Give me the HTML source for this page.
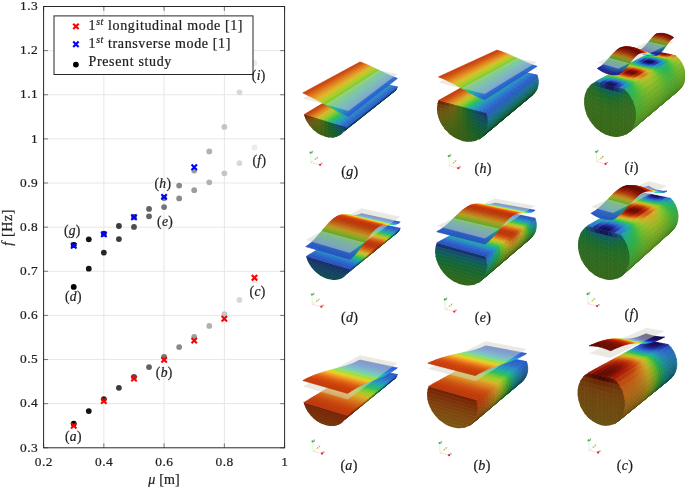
<!DOCTYPE html>
<html><head><meta charset="utf-8"><title>Figure</title>
<style>
html,body{margin:0;padding:0;background:#fff;}
body{width:685px;height:488px;overflow:hidden;font-family:"Liberation Serif",serif;}
svg{display:block;will-change:transform;}
text{stroke:#1e1e1e;stroke-width:0.22px;}
</style></head><body>
<svg width="685" height="488" viewBox="0 0 685 488">
<rect width="685" height="488" fill="#fff"/>
<g fill="currentColor" stroke="currentColor" stroke-width="0.7" stroke-linejoin="round"><path d="M395.1 88.7l2.3-1.8-.2 .5-2.3 1.9z" color="#295bc3"/>
<path d="M394.9 89.3l2.3-1.9-.2 .5-2.3 1.9z" color="#255db3"/>
<path d="M394.7 89.8l2.3-1.9-.2 .5-2.3 1.9z" color="#215a9f"/>
<path d="M394.5 90.3l2.3-1.9-.2 .5-2.4 1.9z" color="#1c548a"/>
<path d="M394.2 90.8l2.4-1.9-.3 .5-2.3 1.9z" color="#174b72"/>
<path d="M394 91.3l2.3-1.9-.3 .5-2.3 1.8z" color="#123f59"/>
<path d="M393.7 91.7l2.3-1.8-.3 .4-2.3 1.9z" color="#0c2f3d"/>
<path d="M392.7 90.6l2.4-1.9-.2 .6-2.4 1.8z" color="#295bc3"/>
<path d="M392.5 91.1l2.4-1.8-.2 .5-2.4 1.8z" color="#255db3"/>
<path d="M392.3 91.6l2.4-1.8-.2 .5-2.4 1.9z" color="#215a9f"/>
<path d="M392.1 92.2l2.4-1.9-.3 .5-2.4 1.9z" color="#1c548a"/>
<path d="M391.8 92.7l2.4-1.9-.2 .5-2.4 1.8z" color="#174b72"/>
<path d="M391.6 93.1l2.4-1.8-.3 .4-2.4 1.9z" color="#123f59"/>
<path d="M391.3 93.6l2.4-1.9-.3 .5-2.4 1.9z" color="#0c2f3d"/>
<path d="M390.3 92.5l2.4-1.9-.2 .5-2.4 1.9z" color="#295bc3"/>
<path d="M390.1 93l2.4-1.9-.2 .5-2.4 2z" color="#255db3"/>
<path d="M389.9 93.6l2.4-2-.2 .6-2.5 1.9z" color="#215a9f"/>
<path d="M389.6 94.1l2.5-1.9-.3 .5-2.4 1.9z" color="#1c548a"/>
<path d="M389.4 94.6l2.4-1.9-.2 .4-2.5 2z" color="#174b72"/>
<path d="M389.1 95.1l2.5-2-.3 .5-2.4 2z" color="#123f59"/>
<path d="M388.9 95.6l2.4-2-.3 .5-2.4 1.9z" color="#0c2f3d"/>
<path d="M387.8 94.4l2.5-1.9-.2 .5-2.5 2z" color="#295bc3"/>
<path d="M387.6 95l2.5-2-.2 .6-2.5 1.9z" color="#255db3"/>
<path d="M387.4 95.5l2.5-1.9-.3 .5-2.4 1.9z" color="#215a9f"/>
<path d="M387.2 96l2.4-1.9-.2 .5-2.5 1.9z" color="#1c548a"/>
<path d="M386.9 96.5l2.5-1.9-.3 .5-2.5 1.9z" color="#174b72"/>
<path d="M386.6 97l2.5-1.9-.2 .5-2.5 1.9z" color="#123f59"/>
<path d="M386.4 97.5l2.5-1.9-.3 .4-2.5 2z" color="#0c2f3d"/>
<path d="M385.2 96.4l2.6-2-.2 .6-2.5 2z" color="#295bc3"/>
<path d="M385.1 97l2.5-2-.2 .5-2.6 2z" color="#255db3"/>
<path d="M384.8 97.5l2.6-2-.2 .5-2.6 2z" color="#215a9f"/>
<path d="M384.6 98l2.6-2-.3 .5-2.5 2.1z" color="#1c548a"/>
<path d="M384.4 98.6l2.5-2.1-.3 .5-2.5 2.1z" color="#174b72"/>
<path d="M384.1 99.1l2.5-2.1-.2 .5-2.6 2z" color="#123f59"/>
<path d="M383.8 99.5l2.6-2-.3 .5-2.6 2z" color="#0c2f3d"/>
<path d="M382.6 98.5l2.6-2.1-.1 .6-2.6 2z" color="#295bc3"/>
<path d="M382.5 99l2.6-2-.3 .5-2.6 2.1z" color="#255db3"/>
<path d="M382.2 99.6l2.6-2.1-.2 .5-2.6 2.1z" color="#215a9f"/>
<path d="M382 100.1l2.6-2.1-.2 .6-2.6 2z" color="#1c548a"/>
<path d="M381.8 100.6l2.6-2-.3 .5-2.6 2z" color="#174b72"/>
<path d="M381.5 101.1l2.6-2-.3 .4-2.6 2.1z" color="#123f59"/>
<path d="M381.2 101.6l2.6-2.1-.3 .5-2.6 2.1z" color="#0c2f3d"/>
<path d="M380 100.6l2.6-2.1-.1 .5-2.7 2.1z" color="#295bc3"/>
<path d="M379.8 101.1l2.7-2.1-.3 .6-2.6 2.1z" color="#255db3"/>
<path d="M379.6 101.7l2.6-2.1-.2 .5-2.7 2.1z" color="#215a9f"/>
<path d="M379.3 102.2l2.7-2.1-.2 .5-2.7 2.1z" color="#1c548a"/>
<path d="M379.1 102.7l2.7-2.1-.3 .5-2.7 2.1z" color="#174b72"/>
<path d="M378.8 103.2l2.7-2.1-.3 .5-2.7 2.1z" color="#123f59"/>
<path d="M378.5 103.7l2.7-2.1-.3 .5-2.7 2.1z" color="#0c2f3d"/>
<path d="M377.3 102.7l2.7-2.1-.2 .5-2.7 2.2z" color="#295bc3"/>
<path d="M377.1 103.3l2.7-2.2-.2 .6-2.8 2.1z" color="#255db3"/>
<path d="M376.8 103.8l2.8-2.1-.3 .5-2.7 2.2z" color="#215a9f"/>
<path d="M376.6 104.4l2.7-2.2-.2 .5-2.8 2.2z" color="#1c548a"/>
<path d="M376.3 104.9l2.8-2.2-.3 .5-2.7 2.2z" color="#174b72"/>
<path d="M376.1 105.4l2.7-2.2-.3 .5-2.7 2.2z" color="#123f59"/>
<path d="M375.8 105.9l2.7-2.2-.3 .5-2.7 2.2z" color="#0c2f3d"/>
<path d="M374.5 104.9l2.8-2.2-.2 .6-2.8 2.1z" color="#295bc3"/>
<path d="M374.3 105.4l2.8-2.1-.3 .5-2.7 2.2z" color="#255db3"/>
<path d="M374.1 106l2.7-2.2-.2 .6-2.8 2.2z" color="#215a9f"/>
<path d="M373.8 106.6l2.8-2.2-.3 .5-2.8 2.2z" color="#1c548a"/>
<path d="M373.5 107.1l2.8-2.2-.2 .5-2.8 2.2z" color="#174b72"/>
<path d="M373.3 107.6l2.8-2.2-.3 .5-2.8 2.2z" color="#123f59"/>
<path d="M373 108.1l2.8-2.2-.3 .5-2.9 2.2z" color="#0c2f3d"/>
<path d="M371.6 107.1l2.9-2.2-.2 .5-2.9 2.3z" color="#295bc3"/>
<path d="M371.4 107.7l2.9-2.3-.2 .6-2.9 2.3z" color="#255db3"/>
<path d="M371.2 108.3l2.9-2.3-.3 .6-2.9 2.2z" color="#215a9f"/>
<path d="M370.9 108.8l2.9-2.2-.3 .5-2.8 2.3z" color="#1c548a"/>
<path d="M370.7 109.4l2.8-2.3-.2 .5-2.9 2.3z" color="#174b72"/>
<path d="M370.4 109.9l2.9-2.3-.3 .5-2.9 2.3z" color="#123f59"/>
<path d="M370.1 110.4l2.9-2.3-.4 .5-2.8 2.3z" color="#0c2f3d"/>
<path d="M368.7 109.4l2.9-2.3-.2 .6-2.9 2.3z" color="#295bc3"/>
<path d="M368.5 110l2.9-2.3-.2 .6-2.9 2.3z" color="#255db3"/>
<path d="M368.3 110.6l2.9-2.3-.3 .5-2.9 2.3z" color="#215a9f"/>
<path d="M368 111.1l2.9-2.3-.2 .6-3 2.3z" color="#1c548a"/>
<path d="M367.7 111.7l3-2.3-.3 .5-2.9 2.3z" color="#174b72"/>
<path d="M367.5 112.2l2.9-2.3-.3 .5-3 2.3z" color="#123f59"/>
<path d="M367.1 112.7l3-2.3-.3 .5-3 2.3z" color="#0c2f3d"/>
<path d="M365.7 111.8l3-2.4-.2 .6-3 2.4z" color="#295bc3"/>
<path d="M365.5 112.4l3-2.4-.2 .6-3 2.3z" color="#255db3"/>
<path d="M365.3 112.9l3-2.3-.3 .5-3 2.4z" color="#215a9f"/>
<path d="M365 113.5l3-2.4-.3 .6-3 2.4z" color="#1c548a"/>
<path d="M364.7 114.1l3-2.4-.2 .5-3.1 2.4z" color="#174b72"/>
<path d="M364.4 114.6l3.1-2.4-.4 .5-3 2.4z" color="#123f59"/>
<path d="M364.1 115.1l3-2.4-.3 .5-3 2.4z" color="#0c2f3d"/>
<path d="M362.6 114.2l3.1-2.4-.2 .6-3.1 2.4z" color="#295bc3"/>
<path d="M362.4 114.8l3.1-2.4-.2 .5-3.1 2.5z" color="#255db3"/>
<path d="M362.2 115.4l3.1-2.5-.3 .6-3.1 2.4z" color="#215a9f"/>
<path d="M361.9 115.9l3.1-2.4-.3 .6-3.1 2.4z" color="#1c548a"/>
<path d="M361.6 116.5l3.1-2.4-.3 .5-3 2.4z" color="#174b72"/>
<path d="M361.4 117l3-2.4-.3 .5-3.1 2.5z" color="#123f59"/>
<path d="M361 117.6l3.1-2.5-.3 .5-3.1 2.5z" color="#0c2f3d"/>
<path d="M359.5 116.6l3.1-2.4-.2 .6-3.1 2.5z" color="#295bc3"/>
<path d="M359.3 117.3l3.1-2.5-.2 .6-3.2 2.4z" color="#255db3"/>
<path d="M359 117.8l3.2-2.4-.3 .5-3.1 2.5z" color="#215a9f"/>
<path d="M358.8 118.4l3.1-2.5-.3 .6-3.1 2.5z" color="#1c548a"/>
<path d="M358.5 119l3.1-2.5-.2 .5-3.2 2.5z" color="#174b72"/>
<path d="M358.2 119.5l3.2-2.5-.4 .6-3.1 2.5z" color="#123f59"/>
<path d="M357.9 120.1l3.1-2.5-.3 .5-3.2 2.5z" color="#0c2f3d"/>
<path d="M356.2 119.2l3.3-2.6-.2 .7-3.3 2.5z" color="#295bc3"/>
<path d="M356 119.8l3.3-2.5-.3 .5-3.2 2.6z" color="#255db3"/>
<path d="M355.8 120.4l3.2-2.6-.2 .6-3.3 2.6z" color="#215a9f"/>
<path d="M355.5 121l3.3-2.6-.3 .6-3.3 2.5z" color="#1c548a"/>
<path d="M355.2 121.5l3.3-2.5-.3 .5-3.3 2.6z" color="#174b72"/>
<path d="M354.9 122.1l3.3-2.6-.3 .6-3.3 2.5z" color="#123f59"/>
<path d="M354.6 122.6l3.3-2.5-.4 .5-3.2 2.6z" color="#0c2f3d"/>
<path d="M352.9 121.8l3.3-2.6-.2 .6-3.3 2.6z" color="#295bc3"/>
<path d="M352.7 122.4l3.3-2.6-.2 .6-3.3 2.6z" color="#255db3"/>
<path d="M352.5 123l3.3-2.6-.3 .6-3.3 2.6z" color="#215a9f"/>
<path d="M352.2 123.6l3.3-2.6-.3 .5-3.3 2.7z" color="#1c548a"/>
<path d="M351.9 124.2l3.3-2.7-.3 .6-3.3 2.6z" color="#174b72"/>
<path d="M351.6 124.7l3.3-2.6-.3 .5-3.3 2.7z" color="#123f59"/>
<path d="M351.3 125.3l3.3-2.7-.3 .6-3.4 2.6z" color="#0c2f3d"/>
<path d="M349.5 124.5l3.4-2.7-.2 .6-3.4 2.7z" color="#295bc3"/>
<path d="M349.3 125.1l3.4-2.7-.2 .6-3.5 2.7z" color="#255db3"/>
<path d="M349 125.7l3.5-2.7-.3 .6-3.4 2.7z" color="#215a9f"/>
<path d="M348.8 126.3l3.4-2.7-.3 .6-3.4 2.7z" color="#1c548a"/>
<path d="M348.5 126.9l3.4-2.7-.3 .5-3.4 2.7z" color="#174b72"/>
<path d="M348.2 127.4l3.4-2.7-.3 .6-3.5 2.7z" color="#123f59"/>
<path d="M347.8 128l3.5-2.7-.4 .5-3.4 2.7z" color="#0c2f3d"/>
<path d="M346 127.2l3.5-2.7-.2 .6-3.5 2.7z" color="#295bc3"/>
<path d="M345.8 127.8l3.5-2.7-.3 .6-3.5 2.8z" color="#255db3"/>
<path d="M345.5 128.5l3.5-2.8-.2 .6-3.5 2.8z" color="#215a9f"/>
<path d="M345.3 129.1l3.5-2.8-.3 .6-3.5 2.7z" color="#1c548a"/>
<path d="M345 129.6l3.5-2.7-.3 .5-3.5 2.8z" color="#174b72"/>
<path d="M344.7 130.2l3.5-2.8-.4 .6-3.5 2.8z" color="#123f59"/>
<path d="M344.3 130.8l3.5-2.8-.3 .5-3.5 2.8z" color="#0c2f3d"/>
<path d="M304.1 114.6l1.7 .5 58.6-35.5-1.4-.3z" color="#c23c09"/>
<path d="M305.8 115.1l1.8 .5 58.3-35.7-1.5-.3z" color="#c9490c"/>
<path d="M307.6 115.6l1.7 .6 58-36-1.4-.3z" color="#ce5911"/>
<path d="M309.3 116.2l1.8 .5 57.6-36.1-1.4-.4z" color="#d36a16"/>
<path d="M311.1 116.7l1.7 .5 57.4-36.3-1.5-.3z" color="#d97d1b"/>
<path d="M312.8 117.2l1.8 .6 57-36.6-1.4-.3z" color="#da8f1f"/>
<path d="M314.6 117.8l1.7 .5 56.7-36.8-1.4-.3z" color="#d9a123"/>
<path d="M316.3 118.3l1.8 .5 56.4-37-1.5-.3z" color="#d7b427"/>
<path d="M318.1 118.8l1.7 .5 56.1-37.1-1.4-.4z" color="#c3bd27"/>
<path d="M319.8 119.3l1.8 .5 55.7-37.3-1.4-.3z" color="#aec627"/>
<path d="M321.6 119.8l1.7 .6 55.5-37.6-1.5-.3z" color="#97ca29"/>
<path d="M323.3 120.4l1.7 .5 55.2-37.8-1.4-.3z" color="#7fca2d"/>
<path d="M325 120.9l1.8 .5 54.8-38-1.4-.3z" color="#62c737"/>
<path d="M326.8 121.4l1.7 .6 54.6-38.3-1.5-.3z" color="#41c348"/>
<path d="M328.5 122l1.8 .5 54.2-38.5-1.4-.3z" color="#2cbd5e"/>
<path d="M330.3 122.5l1.7 .5 53.9-38.6-1.4-.4z" color="#25b67b"/>
<path d="M332 123l1.8 .5 53.6-38.8-1.5-.3z" color="#1faf98"/>
<path d="M333.8 123.5l1.7 .5 53.3-39-1.4-.3z" color="#20a4a9"/>
<path d="M335.5 124l1.8 .6 52.9-39.3-1.4-.3z" color="#2498b6"/>
<path d="M337.3 124.6l1.7 .5 52.7-39.5-1.5-.3z" color="#288cc3"/>
<path d="M339 125.1l1.8 .5 52.3-39.6-1.4-.4z" color="#2980c8"/>
<path d="M340.8 125.6l1.7 .6 52-39.9-1.4-.3z" color="#2a74c9"/>
<path d="M342.5 126.2l1.8 .5 51.7-40.1-1.5-.3z" color="#2a69ca"/>
<path d="M344.3 126.7l1.7 .5 51.4-40.3-1.4-.3z" color="#2b5fcc"/>
<clipPath id="cp1"><path d="M346.0 127.2L345.6 128.4L345.0 129.5L344.4 130.6L343.7 131.6L343.0 132.6L342.1 133.5L341.2 134.2L340.2 135.0L339.2 135.6L338.1 136.1L337.0 136.6L335.8 137.0L334.5 137.2L333.2 137.4L331.9 137.5L330.6 137.5L329.2 137.4L327.8 137.2L326.4 136.9L325.1 136.6L323.7 136.1L322.3 135.5L320.9 134.9L319.5 134.2L318.2 133.4L316.9 132.5L315.6 131.5L314.3 130.5L313.1 129.4L312.0 128.3L310.9 127.1L309.9 125.8L308.9 124.5L308.0 123.2L307.1 121.8L306.4 120.4L305.7 119.0L305.1 117.5L304.5 116.1L304.1 114.6Z"/></clipPath>
<g clip-path="url(#cp1)">
<path d="M302.1 111.8l3.8 1.2 0 3.7-3.8-1.1z" color="#621c04"/>
<path d="M305.9 113l3.8 1.1 0 3.8-3.8-1.2z" color="#692b08"/>
<path d="M309.7 114.1l3.9 1.2 0 3.7-3.9-1.1z" color="#6f3f0d"/>
<path d="M313.6 115.3l3.8 1.1 0 3.8-3.8-1.2z" color="#705312"/>
<path d="M317.4 116.4l3.8 1.2 0 3.7-3.8-1.1z" color="#626214"/>
<path d="M321.2 117.6l3.8 1.1 0 3.8-3.8-1.2z" color="#496816"/>
<path d="M325 118.7l3.9 1.2 0 3.7-3.9-1.1z" color="#286522"/>
<path d="M328.9 119.9l3.8 1.1 0 3.8-3.8-1.2z" color="#145e3c"/>
<path d="M332.7 121l3.8 1.2 0 3.7-3.8-1.1z" color="#105557"/>
<path d="M336.5 122.2l3.9 1.1 0 3.8-3.9-1.2z" color="#154765"/>
<path d="M340.4 123.3l3.8 1.2 0 3.7-3.8-1.1z" color="#163a68"/>
<path d="M344.2 124.5l3.8 1.1 0 3.8-3.8-1.2z" color="#152e66"/>
<path d="M302.1 115.6l3.8 1.1 0 1.6-3.8-1.2z" color="#692f09"/>
<path d="M305.9 116.7l3.8 1.2 0 1.5-3.8-1.1z" color="#6e3d0d"/>
<path d="M309.7 117.9l3.9 1.1 0 1.6-3.9-1.2z" color="#6f4c11"/>
<path d="M313.6 119l3.8 1.2 0 1.5-3.8-1.1z" color="#6e5c14"/>
<path d="M317.4 120.2l3.8 1.1 0 1.6-3.8-1.2z" color="#5b6414"/>
<path d="M321.2 121.3l3.8 1.2 0 1.5-3.8-1.1z" color="#466716"/>
<path d="M325 122.5l3.9 1.1 0 1.6-3.9-1.2z" color="#2b6520"/>
<path d="M328.9 123.6l3.8 1.2 0 1.5-3.8-1.1z" color="#166033"/>
<path d="M332.7 124.8l3.8 1.1 0 1.6-3.8-1.2z" color="#10594d"/>
<path d="M336.5 125.9l3.9 1.2 0 1.5-3.9-1.1z" color="#124f5b"/>
<path d="M340.4 127.1l3.8 1.1 0 1.6-3.8-1.2z" color="#154565"/>
<path d="M344.2 128.2l3.8 1.2 0 1.5-3.8-1.1z" color="#153c67"/>
<path d="M302.1 117.1l3.8 1.2 0 1.5-3.8-1.1z" color="#6c3a0c"/>
<path d="M305.9 118.3l3.8 1.1 0 1.6-3.8-1.2z" color="#6e460f"/>
<path d="M309.7 119.4l3.9 1.2 0 1.5-3.9-1.1z" color="#6d5312"/>
<path d="M313.6 120.6l3.8 1.1 0 1.6-3.8-1.2z" color="#675e14"/>
<path d="M317.4 121.7l3.8 1.2 0 1.5-3.8-1.1z" color="#576514"/>
<path d="M321.2 122.9l3.8 1.1 0 1.6-3.8-1.2z" color="#446616"/>
<path d="M325 124l3.9 1.2 0 1.5-3.9-1.1z" color="#2d641e"/>
<path d="M328.9 125.2l3.8 1.1 0 1.6-3.8-1.2z" color="#16602e"/>
<path d="M332.7 126.3l3.8 1.2 0 1.5-3.8-1.1z" color="#125a44"/>
<path d="M336.5 127.5l3.9 1.1 0 1.6-3.9-1.2z" color="#105455"/>
<path d="M340.4 128.6l3.8 1.2 0 1.5-3.8-1.1z" color="#134b5e"/>
<path d="M344.2 129.8l3.8 1.1 0 1.6-3.8-1.2z" color="#154465"/>
<path d="M302.1 118.7l3.8 1.1 0 1.6-3.8-1.1z" color="#6d440f"/>
<path d="M305.9 119.8l3.8 1.2 0 1.6-3.8-1.2z" color="#6d4d11"/>
<path d="M309.7 121l3.9 1.1 0 1.6-3.9-1.1z" color="#6c5813"/>
<path d="M313.6 122.1l3.8 1.2 0 1.6-3.8-1.2z" color="#615f13"/>
<path d="M317.4 123.3l3.8 1.1 0 1.6-3.8-1.1z" color="#536513"/>
<path d="M321.2 124.4l3.8 1.2 0 1.6-3.8-1.2z" color="#426516"/>
<path d="M325 125.6l3.9 1.1 0 1.6-3.9-1.1z" color="#2e631d"/>
<path d="M328.9 126.7l3.8 1.2 0 1.6-3.8-1.2z" color="#176029"/>
<path d="M332.7 127.9l3.8 1.1 0 1.6-3.8-1.1z" color="#135b3d"/>
<path d="M336.5 129l3.9 1.2 0 1.6-3.9-1.2z" color="#0f574e"/>
<path d="M340.4 130.2l3.8 1.1 0 1.6-3.8-1.1z" color="#115057"/>
<path d="M344.2 131.3l3.8 1.2 0 1.6-3.8-1.2z" color="#13495e"/>
<path d="M302.1 120.3l3.8 1.1 0 1.6-3.8-1.2z" color="#6c4b10"/>
<path d="M305.9 121.4l3.8 1.2 0 1.5-3.8-1.1z" color="#6b5312"/>
<path d="M309.7 122.6l3.9 1.1 0 1.6-3.9-1.2z" color="#675b13"/>
<path d="M313.6 123.7l3.8 1.2 0 1.5-3.8-1.1z" color="#5b6013"/>
<path d="M317.4 124.9l3.8 1.1 0 1.6-3.8-1.2z" color="#4f6414"/>
<path d="M321.2 126l3.8 1.2 0 1.5-3.8-1.1z" color="#406416"/>
<path d="M325 127.2l3.9 1.1 0 1.6-3.9-1.2z" color="#2f621c"/>
<path d="M328.9 128.3l3.8 1.2 0 1.5-3.8-1.1z" color="#1b6026"/>
<path d="M332.7 129.5l3.8 1.1 0 1.6-3.8-1.2z" color="#145c36"/>
<path d="M336.5 130.6l3.9 1.2 0 1.5-3.9-1.1z" color="#115845"/>
<path d="M340.4 131.8l3.8 1.1 0 1.6-3.8-1.2z" color="#0f5451"/>
<path d="M344.2 132.9l3.8 1.2 0 1.5-3.8-1.1z" color="#114e57"/>
<path d="M302.1 121.8l3.8 1.2 0 1.5-3.8-1.1z" color="#6a5212"/>
<path d="M305.9 123l3.8 1.1 0 1.6-3.8-1.2z" color="#695813"/>
<path d="M309.7 124.1l3.9 1.2 0 1.5-3.9-1.1z" color="#605c13"/>
<path d="M313.6 125.3l3.8 1.1 0 1.6-3.8-1.2z" color="#576013"/>
<path d="M317.4 126.4l3.8 1.2 0 1.5-3.8-1.1z" color="#4b6314"/>
<path d="M321.2 127.6l3.8 1.1 0 1.6-3.8-1.2z" color="#3f6316"/>
<path d="M325 128.7l3.9 1.2 0 1.5-3.9-1.1z" color="#2f621b"/>
<path d="M328.9 129.9l3.8 1.1 0 1.6-3.8-1.2z" color="#1e5f24"/>
<path d="M332.7 131l3.8 1.2 0 1.5-3.8-1.1z" color="#155c30"/>
<path d="M336.5 132.2l3.9 1.1 0 1.6-3.9-1.2z" color="#12593e"/>
<path d="M340.4 133.3l3.8 1.2 0 1.5-3.8-1.1z" color="#0f564a"/>
<path d="M344.2 134.5l3.8 1.1 0 1.6-3.8-1.2z" color="#0f5251"/>
<path d="M302.1 123.4l3.8 1.1 0 1.6-3.8-1.1z" color="#685713"/>
<path d="M305.9 124.5l3.8 1.2 0 1.6-3.8-1.2z" color="#635a13"/>
<path d="M309.7 125.7l3.9 1.1 0 1.6-3.9-1.1z" color="#5b5d13"/>
<path d="M313.6 126.8l3.8 1.2 0 1.6-3.8-1.2z" color="#526113"/>
<path d="M317.4 128l3.8 1.1 0 1.6-3.8-1.1z" color="#486214"/>
<path d="M321.2 129.1l3.8 1.2 0 1.6-3.8-1.2z" color="#3d6216"/>
<path d="M325 130.3l3.9 1.1 0 1.6-3.9-1.1z" color="#30611a"/>
<path d="M328.9 131.4l3.8 1.2 0 1.6-3.8-1.2z" color="#215f22"/>
<path d="M332.7 132.6l3.8 1.1 0 1.6-3.8-1.1z" color="#165c2b"/>
<path d="M336.5 133.7l3.9 1.2 0 1.6-3.9-1.2z" color="#135937"/>
<path d="M340.4 134.9l3.8 1.1 0 1.6-3.8-1.1z" color="#115741"/>
<path d="M344.2 136l3.8 1.2 0 1.6-3.8-1.2z" color="#0f554a"/>
<path d="M302.1 125l3.8 1.1 0 1.6-3.8-1.2z" color="#625913"/>
<path d="M305.9 126.1l3.8 1.2 0 1.5-3.8-1.1z" color="#5d5b13"/>
<path d="M309.7 127.3l3.9 1.1 0 1.6-3.9-1.2z" color="#565e13"/>
<path d="M313.6 128.4l3.8 1.2 0 1.5-3.8-1.1z" color="#4f6113"/>
<path d="M317.4 129.6l3.8 1.1 0 1.6-3.8-1.2z" color="#456114"/>
<path d="M321.2 130.7l3.8 1.2 0 1.5-3.8-1.1z" color="#3c6116"/>
<path d="M325 131.9l3.9 1.1 0 1.6-3.9-1.2z" color="#30601a"/>
<path d="M328.9 133l3.8 1.2 0 1.5-3.8-1.1z" color="#235e20"/>
<path d="M332.7 134.2l3.8 1.1 0 1.6-3.8-1.2z" color="#175c27"/>
<path d="M336.5 135.3l3.9 1.2 0 1.5-3.9-1.1z" color="#145a31"/>
<path d="M340.4 136.5l3.8 1.1 0 1.6-3.8-1.2z" color="#12573a"/>
<path d="M344.2 137.6l3.8 1.2 0 1.5-3.8-1.1z" color="#105642"/>
<path d="M302.1 126.5l3.8 1.2 0 1.5-3.8-1.1z" color="#5c5a12"/>
<path d="M305.9 127.7l3.8 1.1 0 1.6-3.8-1.2z" color="#585c12"/>
<path d="M309.7 128.8l3.9 1.2 0 1.5-3.9-1.1z" color="#525e12"/>
<path d="M313.6 130l3.8 1.1 0 1.6-3.8-1.2z" color="#4b6013"/>
<path d="M317.4 131.1l3.8 1.2 0 1.5-3.8-1.1z" color="#436014"/>
<path d="M321.2 132.3l3.8 1.1 0 1.6-3.8-1.2z" color="#3b6015"/>
<path d="M325 133.4l3.9 1.2 0 1.5-3.9-1.1z" color="#315f19"/>
<path d="M328.9 134.6l3.8 1.1 0 1.6-3.8-1.2z" color="#255d1f"/>
<path d="M332.7 135.7l3.8 1.2 0 1.5-3.8-1.1z" color="#1a5c24"/>
<path d="M336.5 136.9l3.9 1.1 0 1.6-3.9-1.2z" color="#155a2c"/>
<path d="M340.4 138l3.8 1.2 0 1.5-3.8-1.1z" color="#135834"/>
<path d="M344.2 139.2l3.8 1.1 0 1.6-3.8-1.2z" color="#12563a"/>
<path d="M302.1 128.1l3.8 1.1 0 3.8-3.8-1.2z" color="#555c12"/>
<path d="M305.9 129.2l3.8 1.2 0 3.7-3.8-1.1z" color="#515d12"/>
<path d="M309.7 130.4l3.9 1.1 0 3.8-3.9-1.2z" color="#4c5f12"/>
<path d="M313.6 131.5l3.8 1.2 0 3.7-3.8-1.1z" color="#465f13"/>
<path d="M317.4 132.7l3.8 1.1 0 3.8-3.8-1.2z" color="#405f14"/>
<path d="M321.2 133.8l3.8 1.2 0 3.7-3.8-1.1z" color="#395f15"/>
<path d="M325 135l3.9 1.1 0 3.8-3.9-1.2z" color="#315e18"/>
<path d="M328.9 136.1l3.8 1.2 0 3.7-3.8-1.1z" color="#285d1d"/>
<path d="M332.7 137.3l3.8 1.1 0 3.8-3.8-1.2z" color="#205b21"/>
<path d="M336.5 138.4l3.9 1.2 0 3.7-3.9-1.1z" color="#185a25"/>
<path d="M340.4 139.6l3.8 1.1 0 3.8-3.8-1.2z" color="#15592b"/>
<path d="M344.2 140.7l3.8 1.2 0 3.7-3.8-1.1z" color="#145830"/>
</g>
<path d="M302.8 98.4l22.8 6.2 53.1-34.4-18.7-3.8z" fill="#d6d3c6" stroke="none" fill-opacity="0.5"/>
<path d="M302.8 92.9l1.6 .7 56.9-31.1-1.3-.5z" color="#c83d09"/>
<path d="M304.4 93.6l1.7 .8 56.6-31.4-1.4-.5z" color="#ce480c"/>
<path d="M306.1 94.4l1.6 .8 56.3-31.7-1.3-.5z" color="#d25610"/>
<path d="M307.7 95.2l1.6 .7 56-31.8-1.3-.6z" color="#d76514"/>
<path d="M309.3 95.9l1.7 .9 55.7-32.2-1.4-.5z" color="#dc7418"/>
<path d="M311 96.8l1.6 .8 55.4-32.4-1.3-.6z" color="#e1851d"/>
<path d="M312.6 97.6l1.6 .8 55.2-32.6-1.4-.6z" color="#e19521"/>
<path d="M314.2 98.4l1.7 .9 54.8-32.9-1.3-.6z" color="#e0a524"/>
<path d="M315.9 99.3l1.6 .9 54.5-33.2-1.3-.6z" color="#deb627"/>
<path d="M317.5 100.2l1.6 .8 54.3-33.3-1.4-.7z" color="#d1c028"/>
<path d="M319.1 101l1.7 .9 53.9-33.6-1.3-.6z" color="#bec728"/>
<path d="M320.8 101.9l1.6 .9 53.6-33.9-1.3-.6z" color="#accf28"/>
<path d="M322.4 102.8l1.6 .9 53.4-34.1-1.4-.7z" color="#97d02b"/>
<path d="M324 103.7l1.6 .9 53.1-34.4-1.3-.6z" color="#81d02e"/>
<path d="M325.6 104.6l1.7 1 52.7-34.8-1.3-.6z" color="#67ce38"/>
<path d="M327.3 105.6l1.6 .9 52.5-35-1.4-.7z" color="#4aca47"/>
<path d="M328.9 106.5l1.6 .9 52.2-35.3-1.3-.6z" color="#2fc556"/>
<path d="M330.5 107.4l1.7 .9 51.8-35.6-1.3-.6z" color="#2abf70"/>
<path d="M332.2 108.3l1.6 .8 51.6-35.7-1.4-.7z" color="#24b98a"/>
<path d="M333.8 109.1l1.6 .9 51.3-36-1.3-.6z" color="#1fb3a2"/>
<path d="M335.4 110l1.7 .9 50.9-36.3-1.3-.6z" color="#21a8af"/>
<path d="M337.1 110.9l1.6 .8 50.7-36.5-1.4-.6z" color="#259dbb"/>
<path d="M338.7 111.7l1.6 .8 50.4-36.7-1.3-.6z" color="#2893c6"/>
<path d="M340.3 112.5l1.7 .9 50.1-37.1-1.4-.5z" color="#2a88cd"/>
<path d="M342 113.4l1.6 .7 49.8-37.2-1.3-.6z" color="#2b7ecf"/>
<path d="M343.6 114.1l1.6 .8 49.5-37.5-1.3-.5z" color="#2b74d0"/>
<path d="M345.2 114.9l1.7 .8 49.2-37.8-1.4-.5z" color="#2c6ad1"/>
<path d="M346.9 115.7l1.6 .7 48.9-38-1.3-.5z" color="#2c61d1"/>
<path d="M325.6 104.6l22.9 6.3 48.9-36.9-18.7-3.8z" fill="#d6d3c6" stroke="none" fill-opacity="0.5"/></g>
<text x="349.8" y="176.0" font-family="Liberation Serif, serif" font-size="14" letter-spacing="0.3" text-anchor="middle" fill="#1a1a1a">(<tspan font-style="italic">g</tspan>)</text>
<g stroke-width="0.5" fill="none">
<line x1="311" y1="162.5" x2="310.7" y2="153.5" stroke="#b8f0b8"/>
<line x1="311" y1="162.5" x2="315.6" y2="159.2" stroke="#ece27a"/>
<line x1="311" y1="162.5" x2="319.6" y2="164.6" stroke="#ff8a8a" stroke-dasharray="1.1 0.7"/>
</g>
<circle cx="310.6" cy="152.7" r="1.15" fill="#22cc33"/>
<circle cx="315.5" cy="159.2" r="0.85" fill="#d4c81c"/>
<circle cx="320.1" cy="164.8" r="1.15" fill="#ee2222"/>
<g stroke="#555" stroke-width="0.45" fill="none"><path d="M311.6 151.2h1.3l-1.3 1.5h1.3M316.6 156.9l.7 .9m.7-.9l-1.2 1.9M321.0 162.7l1.5 1.6m0-1.6l-1.5 1.6"/></g>
<g fill="currentColor" stroke="currentColor" stroke-width="0.7" stroke-linejoin="round"><path d="M534.8 76.7l2.3-1.7 .8 2.8-2.3 1.7z" color="#2660b8"/>
<path d="M535.6 79.5l2.3-1.7 .4 2.8-2.3 1.7z" color="#216aa2"/>
<path d="M536 82.3l2.3-1.7 0 2.7-2.2 1.8z" color="#1a6e85"/>
<path d="M536.1 85.1l2.2-1.8-.3 2.6-2.3 1.8z" color="#146d6c"/>
<path d="M535.7 87.7l2.3-1.8-.7 2.5-2.3 1.8z" color="#136654"/>
<path d="M535 90.2l2.3-1.8-1.1 2.3-2.3 1.8z" color="#135c3e"/>
<path d="M533.9 92.5l2.3-1.8-1.4 2-2.3 1.9z" color="#12522d"/>
<path d="M532.5 94.6l2.3-1.9-1.7 1.8-2.3 1.9z" color="#114720"/>
<path d="M530.8 96.4l2.3-1.9-2 1.4-2.3 2z" color="#113c18"/>
<path d="M532.5 78.5l2.3-1.8 .8 2.8-2.3 1.8z" color="#2660b8"/>
<path d="M533.3 81.3l2.3-1.8 .4 2.8-2.3 1.8z" color="#216aa2"/>
<path d="M533.7 84.1l2.3-1.8 .1 2.8-2.4 1.8z" color="#1a6e85"/>
<path d="M533.7 86.9l2.4-1.8-.4 2.6-2.3 1.9z" color="#146d6c"/>
<path d="M533.4 89.6l2.3-1.9-.7 2.5-2.3 1.9z" color="#136654"/>
<path d="M532.7 92.1l2.3-1.9-1.1 2.3-2.3 2z" color="#135c3e"/>
<path d="M531.6 94.5l2.3-2-1.4 2.1-2.3 2z" color="#12522d"/>
<path d="M530.2 96.6l2.3-2-1.7 1.8-2.4 2z" color="#114720"/>
<path d="M528.4 98.4l2.4-2-2 1.5-2.4 1.9z" color="#113c18"/>
<path d="M530.1 80.3l2.4-1.8 .8 2.8-2.4 1.8z" color="#2660b8"/>
<path d="M530.9 83.1l2.4-1.8 .4 2.8-2.3 1.9z" color="#216aa2"/>
<path d="M531.4 86l2.3-1.9 0 2.8-2.3 1.9z" color="#1a6e85"/>
<path d="M531.4 88.8l2.3-1.9-.3 2.7-2.4 1.9z" color="#146d6c"/>
<path d="M531 91.5l2.4-1.9-.7 2.5-2.4 2z" color="#136654"/>
<path d="M530.3 94.1l2.4-2-1.1 2.4-2.4 2z" color="#135c3e"/>
<path d="M529.2 96.5l2.4-2-1.4 2.1-2.4 2z" color="#12522d"/>
<path d="M527.8 98.6l2.4-2-1.8 1.8-2.4 2z" color="#114720"/>
<path d="M526 100.4l2.4-2-2 1.4-2.5 2.1z" color="#113c18"/>
<path d="M527.7 82.1l2.4-1.8 .8 2.8-2.4 1.9z" color="#2660b8"/>
<path d="M528.5 85l2.4-1.9 .5 2.9-2.5 1.9z" color="#216aa2"/>
<path d="M528.9 87.9l2.5-1.9 0 2.8-2.4 2z" color="#1a6e85"/>
<path d="M529 90.8l2.4-2-.4 2.7-2.4 2z" color="#146d6c"/>
<path d="M528.6 93.5l2.4-2-.7 2.6-2.4 2z" color="#136654"/>
<path d="M527.9 96.1l2.4-2-1.1 2.4-2.4 2z" color="#135c3e"/>
<path d="M526.8 98.5l2.4-2-1.4 2.1-2.5 2z" color="#12522d"/>
<path d="M525.3 100.6l2.5-2-1.8 1.8-2.5 2z" color="#114720"/>
<path d="M523.5 102.4l2.5-2-2.1 1.5-2.5 2z" color="#113c18"/>
<path d="M525.2 84l2.5-1.9 .8 2.9-2.5 1.9z" color="#2660b8"/>
<path d="M526 86.9l2.5-1.9 .4 2.9-2.4 2z" color="#216aa2"/>
<path d="M526.5 89.9l2.4-2 .1 2.9-2.5 2z" color="#1a6e85"/>
<path d="M526.5 92.8l2.5-2-.4 2.7-2.5 2z" color="#146d6c"/>
<path d="M526.1 95.5l2.5-2-.7 2.6-2.5 2z" color="#136654"/>
<path d="M525.4 98.1l2.5-2-1.1 2.4-2.5 2z" color="#135c3e"/>
<path d="M524.3 100.5l2.5-2-1.5 2.1-2.5 2.1z" color="#12522d"/>
<path d="M522.8 102.7l2.5-2.1-1.8 1.8-2.5 2.1z" color="#114720"/>
<path d="M521 104.5l2.5-2.1-2.1 1.5-2.5 2.2z" color="#113c18"/>
<path d="M522.7 85.9l2.5-1.9 .8 2.9-2.5 2z" color="#2660b8"/>
<path d="M523.5 88.9l2.5-2 .5 3-2.6 2z" color="#216aa2"/>
<path d="M523.9 91.9l2.6-2 0 2.9-2.5 2z" color="#1a6e85"/>
<path d="M524 94.8l2.5-2-.4 2.7-2.5 2.1z" color="#146d6c"/>
<path d="M523.6 97.6l2.5-2.1-.7 2.6-2.6 2.1z" color="#136654"/>
<path d="M522.8 100.2l2.6-2.1-1.1 2.4-2.6 2.2z" color="#135c3e"/>
<path d="M521.7 102.7l2.6-2.2-1.5 2.2-2.6 2.1z" color="#12522d"/>
<path d="M520.2 104.8l2.6-2.1-1.8 1.8-2.6 2.2z" color="#114720"/>
<path d="M518.4 106.7l2.6-2.2-2.1 1.6-2.6 2.2z" color="#113c18"/>
<path d="M520.1 87.9l2.6-2 .8 3-2.6 2z" color="#2660b8"/>
<path d="M520.9 90.9l2.6-2 .4 3-2.6 2z" color="#216aa2"/>
<path d="M521.3 93.9l2.6-2 .1 2.9-2.6 2.1z" color="#1a6e85"/>
<path d="M521.4 96.9l2.6-2.1-.4 2.8-2.6 2.1z" color="#146d6c"/>
<path d="M521 99.7l2.6-2.1-.8 2.6-2.6 2.2z" color="#136654"/>
<path d="M520.2 102.4l2.6-2.2-1.1 2.5-2.6 2.2z" color="#135c3e"/>
<path d="M519.1 104.9l2.6-2.2-1.5 2.1-2.6 2.2z" color="#12522d"/>
<path d="M517.6 107l2.6-2.2-1.8 1.9-2.7 2.2z" color="#114720"/>
<path d="M515.7 108.9l2.7-2.2-2.1 1.6-2.7 2.2z" color="#113c18"/>
<path d="M517.4 89.9l2.7-2 .8 3-2.7 2.1z" color="#2660b8"/>
<path d="M518.2 93l2.7-2.1 .4 3-2.6 2.1z" color="#216aa2"/>
<path d="M518.7 96l2.6-2.1 .1 3-2.7 2.1z" color="#1a6e85"/>
<path d="M518.7 99l2.7-2.1-.4 2.8-2.7 2.2z" color="#146d6c"/>
<path d="M518.3 101.9l2.7-2.2-.8 2.7-2.6 2.2z" color="#136654"/>
<path d="M517.6 104.6l2.6-2.2-1.1 2.5-2.7 2.2z" color="#135c3e"/>
<path d="M516.4 107.1l2.7-2.2-1.5 2.1-2.7 2.3z" color="#12522d"/>
<path d="M514.9 109.3l2.7-2.3-1.9 1.9-2.7 2.3z" color="#114720"/>
<path d="M513 111.2l2.7-2.3-2.1 1.6-2.8 2.3z" color="#113c18"/>
<path d="M514.7 92l2.7-2.1 .8 3.1-2.7 2.1z" color="#2660b8"/>
<path d="M515.5 95.1l2.7-2.1 .5 3-2.7 2.2z" color="#216aa2"/>
<path d="M516 98.2l2.7-2.2 0 3-2.7 2.2z" color="#1a6e85"/>
<path d="M516 101.2l2.7-2.2-.4 2.9-2.7 2.2z" color="#146d6c"/>
<path d="M515.6 104.1l2.7-2.2-.7 2.7-2.8 2.3z" color="#136654"/>
<path d="M514.8 106.9l2.8-2.3-1.2 2.5-2.8 2.3z" color="#135c3e"/>
<path d="M513.6 109.4l2.8-2.3-1.5 2.2-2.8 2.3z" color="#12522d"/>
<path d="M512.1 111.6l2.8-2.3-1.9 1.9-2.8 2.3z" color="#114720"/>
<path d="M510.2 113.5l2.8-2.3-2.2 1.6-2.8 2.3z" color="#113c18"/>
<path d="M511.8 94.1l2.9-2.1 .8 3.1-2.8 2.1z" color="#2660b8"/>
<path d="M512.7 97.2l2.8-2.1 .5 3.1-2.8 2.2z" color="#216aa2"/>
<path d="M513.2 100.4l2.8-2.2 0 3-2.8 2.3z" color="#1a6e85"/>
<path d="M513.2 103.5l2.8-2.3-.4 2.9-2.8 2.3z" color="#146d6c"/>
<path d="M512.8 106.4l2.8-2.3-.8 2.8-2.8 2.3z" color="#136654"/>
<path d="M512 109.2l2.8-2.3-1.2 2.5-2.8 2.3z" color="#135c3e"/>
<path d="M510.8 111.7l2.8-2.3-1.5 2.2-2.9 2.4z" color="#12522d"/>
<path d="M509.2 114l2.9-2.4-1.9 1.9-2.9 2.4z" color="#114720"/>
<path d="M507.3 115.9l2.9-2.4-2.2 1.6-2.9 2.4z" color="#113c18"/>
<path d="M509 96.3l2.8-2.2 .9 3.1-2.9 2.3z" color="#2660b8"/>
<path d="M509.8 99.5l2.9-2.3 .5 3.2-2.9 2.3z" color="#216aa2"/>
<path d="M510.3 102.7l2.9-2.3 0 3.1-2.9 2.3z" color="#1a6e85"/>
<path d="M510.3 105.8l2.9-2.3-.4 2.9-2.9 2.4z" color="#146d6c"/>
<path d="M509.9 108.8l2.9-2.4-.8 2.8-2.9 2.4z" color="#136654"/>
<path d="M509.1 111.6l2.9-2.4-1.2 2.5-2.9 2.4z" color="#135c3e"/>
<path d="M507.9 114.1l2.9-2.4-1.6 2.3-2.9 2.4z" color="#12522d"/>
<path d="M506.3 116.4l2.9-2.4-1.9 1.9-2.9 2.5z" color="#114720"/>
<path d="M504.4 118.4l2.9-2.5-2.2 1.6-3 2.5z" color="#113c18"/>
<path d="M506 98.5l3-2.2 .8 3.2-2.9 2.3z" color="#2660b8"/>
<path d="M506.9 101.8l2.9-2.3 .5 3.2-3 2.3z" color="#216aa2"/>
<path d="M507.3 105l3-2.3 0 3.1-2.9 2.3z" color="#1a6e85"/>
<path d="M507.4 108.1l2.9-2.3-.4 3-2.9 2.4z" color="#146d6c"/>
<path d="M507 111.2l2.9-2.4-.8 2.8-2.9 2.4z" color="#136654"/>
<path d="M506.2 114l2.9-2.4-1.2 2.5-3 2.5z" color="#135c3e"/>
<path d="M504.9 116.6l3-2.5-1.6 2.3-3 2.5z" color="#12522d"/>
<path d="M503.3 118.9l3-2.5-1.9 2-3 2.5z" color="#114720"/>
<path d="M501.4 120.9l3-2.5-2.3 1.6-3 2.5z" color="#113c18"/>
<path d="M502.9 100.8l3.1-2.3 .9 3.3-3.1 2.3z" color="#2660b8"/>
<path d="M503.8 104.1l3.1-2.3 .4 3.2-3 2.4z" color="#216aa2"/>
<path d="M504.3 107.4l3-2.4 .1 3.1-3.1 2.5z" color="#1a6e85"/>
<path d="M504.3 110.6l3.1-2.5-.4 3.1-3.1 2.4z" color="#146d6c"/>
<path d="M503.9 113.6l3.1-2.4-.8 2.8-3.1 2.5z" color="#136654"/>
<path d="M503.1 116.5l3.1-2.5-1.3 2.6-3 2.5z" color="#135c3e"/>
<path d="M501.9 119.1l3-2.5-1.6 2.3-3.1 2.6z" color="#12522d"/>
<path d="M500.2 121.5l3.1-2.6-1.9 2-3.1 2.6z" color="#114720"/>
<path d="M498.3 123.5l3.1-2.6-2.3 1.6-3.2 2.6z" color="#113c18"/>
<path d="M499.8 103.2l3.1-2.4 .9 3.3-3.1 2.4z" color="#2660b8"/>
<path d="M500.7 106.5l3.1-2.4 .5 3.3-3.1 2.4z" color="#216aa2"/>
<path d="M501.2 109.8l3.1-2.4 0 3.2-3.1 2.5z" color="#1a6e85"/>
<path d="M501.2 113.1l3.1-2.5-.4 3-3.1 2.6z" color="#146d6c"/>
<path d="M500.8 116.2l3.1-2.6-.8 2.9-3.1 2.6z" color="#136654"/>
<path d="M500 119.1l3.1-2.6-1.2 2.6-3.2 2.7z" color="#135c3e"/>
<path d="M498.7 121.8l3.2-2.7-1.7 2.4-3.1 2.6z" color="#12522d"/>
<path d="M497.1 124.1l3.1-2.6-1.9 2-3.2 2.7z" color="#114720"/>
<path d="M495.1 126.2l3.2-2.7-2.4 1.6-3.2 2.7z" color="#113c18"/>
<path d="M496.6 105.6l3.2-2.4 .9 3.3-3.2 2.5z" color="#2660b8"/>
<path d="M497.5 109l3.2-2.5 .5 3.3-3.2 2.6z" color="#216aa2"/>
<path d="M498 112.4l3.2-2.6 0 3.3-3.2 2.5z" color="#1a6e85"/>
<path d="M498 115.6l3.2-2.5-.4 3.1-3.2 2.6z" color="#146d6c"/>
<path d="M497.6 118.8l3.2-2.6-.8 2.9-3.2 2.6z" color="#136654"/>
<path d="M496.8 121.7l3.2-2.6-1.3 2.7-3.2 2.6z" color="#135c3e"/>
<path d="M495.5 124.4l3.2-2.6-1.6 2.3-3.3 2.7z" color="#12522d"/>
<path d="M493.8 126.8l3.3-2.7-2 2.1-3.3 2.7z" color="#114720"/>
<path d="M491.8 128.9l3.3-2.7-2.4 1.6-3.3 2.8z" color="#113c18"/>
<path d="M493.3 108.1l3.3-2.5 .9 3.4-3.3 2.5z" color="#2660b8"/>
<path d="M494.2 111.5l3.3-2.5 .5 3.4-3.3 2.5z" color="#216aa2"/>
<path d="M494.7 114.9l3.3-2.5 0 3.2-3.3 2.7z" color="#1a6e85"/>
<path d="M494.7 118.3l3.3-2.7-.4 3.2-3.3 2.7z" color="#146d6c"/>
<path d="M494.3 121.5l3.3-2.7-.8 2.9-3.3 2.8z" color="#136654"/>
<path d="M493.5 124.5l3.3-2.8-1.3 2.7-3.3 2.8z" color="#135c3e"/>
<path d="M492.2 127.2l3.3-2.8-1.7 2.4-3.3 2.8z" color="#12522d"/>
<path d="M490.5 129.6l3.3-2.8-2 2.1-3.4 2.8z" color="#114720"/>
<path d="M488.4 131.7l3.4-2.8-2.4 1.7-3.4 2.8z" color="#113c18"/>
<path d="M489.9 110.7l3.4-2.6 .9 3.4-3.4 2.6z" color="#2660b8"/>
<path d="M490.8 114.1l3.4-2.6 .5 3.4-3.4 2.7z" color="#216aa2"/>
<path d="M491.3 117.6l3.4-2.7 0 3.4-3.3 2.7z" color="#1a6e85"/>
<path d="M491.4 121l3.3-2.7-.4 3.2-3.3 2.7z" color="#146d6c"/>
<path d="M491 124.2l3.3-2.7-.8 3-3.4 2.8z" color="#136654"/>
<path d="M490.1 127.3l3.4-2.8-1.3 2.7-3.4 2.8z" color="#135c3e"/>
<path d="M488.8 130l3.4-2.8-1.7 2.4-3.4 2.9z" color="#12522d"/>
<path d="M487.1 132.5l3.4-2.9-2.1 2.1-3.4 2.9z" color="#114720"/>
<path d="M485 134.6l3.4-2.9-2.4 1.7-3.5 2.9z" color="#113c18"/>
<path d="M486.4 113.3l3.5-2.6 .9 3.4-3.4 2.7z" color="#2660b8"/>
<path d="M487.4 116.8l3.4-2.7 .5 3.5-3.4 2.8z" color="#216aa2"/>
<path d="M487.9 120.4l3.4-2.8 .1 3.4-3.5 2.8z" color="#1a6e85"/>
<path d="M487.9 123.8l3.5-2.8-.4 3.2-3.5 2.9z" color="#146d6c"/>
<path d="M487.5 127.1l3.5-2.9-.9 3.1-3.5 2.8z" color="#136654"/>
<path d="M486.6 130.1l3.5-2.8-1.3 2.7-3.5 3z" color="#135c3e"/>
<path d="M485.3 133l3.5-3-1.7 2.5-3.6 2.9z" color="#12522d"/>
<path d="M483.5 135.4l3.6-2.9-2.1 2.1-3.6 3z" color="#114720"/>
<path d="M481.4 137.6l3.6-3-2.5 1.7-3.6 3z" color="#113c18"/>
<path d="M438.5 100.5l2 .5 59.7-34-1.6-.3z" color="#c13a09"/>
<path d="M440.5 101l2 .6 59.3-34.2-1.6-.4z" color="#c6410a"/>
<path d="M442.5 101.6l2 .5 58.9-34.4-1.6-.3z" color="#ca4e0e"/>
<path d="M444.5 102.1l2 .5 58.5-34.5-1.6-.4z" color="#cf5d12"/>
<path d="M446.5 102.6l2 .6 58.1-34.8-1.6-.3z" color="#d46e17"/>
<path d="M448.5 103.2l2 .5 57.7-34.9-1.6-.4z" color="#da811c"/>
<path d="M450.5 103.7l2 .5 57.3-35.1-1.6-.3z" color="#da9520"/>
<path d="M452.5 104.2l2 .6 56.9-35.3-1.6-.4z" color="#d8a924"/>
<path d="M454.5 104.8l2 .5 56.5-35.5-1.6-.3z" color="#cdb927"/>
<path d="M456.5 105.3l2 .5 56.1-35.6-1.6-.4z" color="#b6c327"/>
<path d="M458.5 105.8l2 .6 55.7-35.9-1.6-.3z" color="#9dca28"/>
<path d="M460.5 106.4l1.9 .5 55.4-36.1-1.6-.3z" color="#81ca2c"/>
<path d="M462.4 106.9l2 .5 55.1-36.2-1.7-.4z" color="#5fc738"/>
<path d="M464.4 107.4l2 .6 54.7-36.5-1.6-.3z" color="#3ac24c"/>
<path d="M466.4 108l2 .5 54.3-36.6-1.6-.4z" color="#29ba69"/>
<path d="M468.4 108.5l2 .5 53.9-36.8-1.6-.3z" color="#22b289"/>
<path d="M470.4 109l2 .6 53.5-37-1.6-.4z" color="#1ea9a4"/>
<path d="M472.4 109.6l2 .5 53.1-37.2-1.6-.3z" color="#239bb2"/>
<path d="M474.4 110.1l2 .5 52.7-37.3-1.6-.4z" color="#278ec0"/>
<path d="M476.4 110.6l2 .6 52.3-37.6-1.6-.3z" color="#2982c8"/>
<path d="M478.4 111.2l2 .5 51.9-37.7-1.6-.4z" color="#2a77c9"/>
<path d="M480.4 111.7l2 .5 51.5-37.9-1.6-.3z" color="#2a6dca"/>
<path d="M482.4 112.2l2 .6 51.1-38.1-1.6-.4z" color="#2a64cb"/>
<path d="M484.4 112.8l2 .5 50.7-38.3-1.6-.3z" color="#2a5dc9"/>
<clipPath id="cp2"><path d="M486.4 113.3L487.1 115.8L487.6 118.3L487.9 120.8L487.9 123.3L487.7 125.6L487.3 127.9L486.6 130.1L485.7 132.1L484.6 134.0L483.3 135.7L481.8 137.2L480.2 138.5L478.3 139.6L476.3 140.5L474.2 141.2L472.0 141.6L469.7 141.8L467.3 141.7L464.9 141.4L462.4 140.9L460.0 140.1L457.6 139.1L455.2 137.9L452.9 136.5L450.7 134.9L448.6 133.1L446.6 131.1L444.7 129.0L443.1 126.8L441.6 124.5L440.3 122.1L439.2 119.6L438.3 117.1L437.6 114.6L437.2 112.1L437.0 109.6L437.0 107.2L437.3 104.9L437.8 102.6L438.5 100.5Z"/></clipPath>
<g clip-path="url(#cp2)">
<path d="M435.7 97.2l4.4 1.2 0 5.9-4.4-1.2z" color="#641e05"/>
<path d="M440.1 98.4l4.5 1.2 0 5.9-4.5-1.2z" color="#682707"/>
<path d="M444.6 99.6l4.5 1.2 0 5.9-4.5-1.2z" color="#6d380c"/>
<path d="M449.1 100.8l4.4 1.2 0 5.9-4.4-1.2z" color="#704d11"/>
<path d="M453.5 102l4.5 1.2 0 5.9-4.5-1.2z" color="#676014"/>
<path d="M458 103.2l4.4 1.2 0 5.9-4.4-1.2z" color="#4b6816"/>
<path d="M462.4 104.4l4.5 1.2 0 5.9-4.5-1.2z" color="#266523"/>
<path d="M466.9 105.6l4.5 1.2 0 5.9-4.5-1.2z" color="#125d43"/>
<path d="M471.4 106.8l4.4 1.1 0 6-4.4-1.2z" color="#12515b"/>
<path d="M475.8 107.9l4.5 1.2 0 6-4.5-1.2z" color="#154367"/>
<path d="M480.3 109.1l4.5 1.2 0 6-4.5-1.2z" color="#163768"/>
<path d="M484.8 110.3l4.4 1.2 0 6-4.4-1.2z" color="#163169"/>
<path d="M435.7 103.1l4.4 1.2 0 3.4-4.4-1.2z" color="#6d390c"/>
<path d="M440.1 104.3l4.5 1.2 0 3.4-4.5-1.2z" color="#6f410e"/>
<path d="M444.6 105.5l4.5 1.2 0 3.4-4.5-1.2z" color="#6f4d11"/>
<path d="M449.1 106.7l4.4 1.2 0 3.4-4.4-1.2z" color="#6e5b14"/>
<path d="M453.5 107.9l4.5 1.2 0 3.4-4.5-1.2z" color="#5c6414"/>
<path d="M458 109.1l4.4 1.2 0 3.4-4.4-1.2z" color="#466716"/>
<path d="M462.4 110.3l4.5 1.2 0 3.4-4.5-1.2z" color="#2a6520"/>
<path d="M466.9 111.5l4.5 1.2 0 3.4-4.5-1.2z" color="#155f35"/>
<path d="M471.4 112.7l4.4 1.2 0 3.4-4.4-1.2z" color="#10594e"/>
<path d="M475.8 113.9l4.5 1.2 0 3.4-4.5-1.2z" color="#11505a"/>
<path d="M480.3 115.1l4.5 1.2 0 3.4-4.5-1.2z" color="#144863"/>
<path d="M484.8 116.3l4.4 1.2 0 3.3-4.4-1.1z" color="#154366"/>
<path d="M435.7 106.5l4.4 1.2 0 3.4-4.4-1.2z" color="#6e4810"/>
<path d="M440.1 107.7l4.5 1.2 0 3.4-4.5-1.2z" color="#6e4e11"/>
<path d="M444.6 108.9l4.5 1.2 0 3.4-4.5-1.2z" color="#6d5713"/>
<path d="M449.1 110.1l4.4 1.2 0 3.4-4.4-1.2z" color="#655f14"/>
<path d="M453.5 111.3l4.5 1.2 0 3.4-4.5-1.2z" color="#566514"/>
<path d="M458 112.5l4.4 1.2 0 3.4-4.4-1.2z" color="#436616"/>
<path d="M462.4 113.7l4.5 1.2 0 3.4-4.5-1.2z" color="#2d641e"/>
<path d="M466.9 114.9l4.5 1.2 0 3.4-4.5-1.2z" color="#17602d"/>
<path d="M471.4 116.1l4.4 1.2 0 3.4-4.4-1.2z" color="#125b41"/>
<path d="M475.8 117.3l4.5 1.2 0 3.4-4.5-1.2z" color="#0f5652"/>
<path d="M480.3 118.5l4.5 1.2 0 3.4-4.5-1.2z" color="#115058"/>
<path d="M484.8 119.7l4.4 1.1 0 3.4-4.4-1.1z" color="#124d5c"/>
<path d="M435.7 109.9l4.4 1.2 0 3.4-4.4-1.2z" color="#6c5312"/>
<path d="M440.1 111.1l4.5 1.2 0 3.4-4.5-1.2z" color="#6c5813"/>
<path d="M444.6 112.3l4.5 1.2 0 3.4-4.5-1.2z" color="#675c13"/>
<path d="M449.1 113.5l4.4 1.2 0 3.4-4.4-1.2z" color="#5c6113"/>
<path d="M453.5 114.7l4.5 1.2 0 3.4-4.5-1.2z" color="#506514"/>
<path d="M458 115.9l4.4 1.2 0 3.4-4.4-1.2z" color="#416516"/>
<path d="M462.4 117.1l4.5 1.2 0 3.4-4.5-1.2z" color="#2f631d"/>
<path d="M466.9 118.3l4.5 1.2 0 3.4-4.5-1.2z" color="#1a6027"/>
<path d="M471.4 119.5l4.4 1.2 0 3.4-4.4-1.2z" color="#145d37"/>
<path d="M475.8 120.7l4.5 1.2 0 3.4-4.5-1.2z" color="#115945"/>
<path d="M480.3 121.9l4.5 1.2 0 3.4-4.5-1.2z" color="#0f564f"/>
<path d="M484.8 123.1l4.4 1.1 0 3.4-4.4-1.1z" color="#0f5453"/>
<path d="M435.7 113.3l4.4 1.2 0 3.4-4.4-1.2z" color="#685a13"/>
<path d="M440.1 114.5l4.5 1.2 0 3.4-4.5-1.2z" color="#645c13"/>
<path d="M444.6 115.7l4.5 1.2 0 3.4-4.5-1.2z" color="#5e5f13"/>
<path d="M449.1 116.9l4.4 1.2 0 3.4-4.4-1.2z" color="#566213"/>
<path d="M453.5 118.1l4.5 1.2 0 3.4-4.5-1.2z" color="#4b6414"/>
<path d="M458 119.3l4.4 1.2 0 3.4-4.4-1.2z" color="#3f6416"/>
<path d="M462.4 120.5l4.5 1.2 0 3.4-4.5-1.2z" color="#30631b"/>
<path d="M466.9 121.7l4.5 1.2 0 3.4-4.5-1.2z" color="#206024"/>
<path d="M471.4 122.9l4.4 1.2 0 3.4-4.4-1.2z" color="#165e2e"/>
<path d="M475.8 124.1l4.5 1.2 0 3.4-4.5-1.2z" color="#135b39"/>
<path d="M480.3 125.3l4.5 1.2 0 3.4-4.5-1.2z" color="#115942"/>
<path d="M484.8 126.5l4.4 1.1 0 3.4-4.4-1.1z" color="#105747"/>
<path d="M435.7 116.7l4.4 1.2 0 3.4-4.4-1.2z" color="#5f5d13"/>
<path d="M440.1 117.9l4.5 1.2 0 3.4-4.5-1.2z" color="#5c5e13"/>
<path d="M444.6 119.1l4.5 1.2 0 3.4-4.5-1.2z" color="#576013"/>
<path d="M449.1 120.3l4.4 1.2 0 3.4-4.4-1.2z" color="#506313"/>
<path d="M453.5 121.5l4.5 1.2 0 3.4-4.5-1.2z" color="#476314"/>
<path d="M458 122.7l4.4 1.2 0 3.4-4.4-1.2z" color="#3d6316"/>
<path d="M462.4 123.9l4.5 1.2 0 3.4-4.5-1.2z" color="#31621a"/>
<path d="M466.9 125.1l4.5 1.2 0 3.4-4.5-1.2z" color="#246021"/>
<path d="M471.4 126.3l4.4 1.2 0 3.4-4.4-1.2z" color="#185e27"/>
<path d="M475.8 127.5l4.5 1.2 0 3.4-4.5-1.2z" color="#155c30"/>
<path d="M480.3 128.7l4.5 1.2 0 3.4-4.5-1.2z" color="#135a37"/>
<path d="M484.8 129.9l4.4 1.1 0 3.4-4.4-1.1z" color="#12593b"/>
<path d="M435.7 120.1l4.4 1.2 0 3.4-4.4-1.2z" color="#575f13"/>
<path d="M440.1 121.3l4.5 1.2 0 3.4-4.5-1.2z" color="#556013"/>
<path d="M444.6 122.5l4.5 1.2 0 3.4-4.5-1.2z" color="#516113"/>
<path d="M449.1 123.7l4.4 1.2 0 3.4-4.4-1.2z" color="#4b6214"/>
<path d="M453.5 124.9l4.5 1.2 0 3.4-4.5-1.2z" color="#446215"/>
<path d="M458 126.1l4.4 1.2 0 3.4-4.4-1.2z" color="#3c6216"/>
<path d="M462.4 127.3l4.5 1.2 0 3.4-4.5-1.2z" color="#326119"/>
<path d="M466.9 128.5l4.5 1.2 0 3.4-4.5-1.2z" color="#275f1f"/>
<path d="M471.4 129.7l4.4 1.2 0 3.4-4.4-1.2z" color="#1d5e24"/>
<path d="M475.8 130.9l4.5 1.2 0 3.4-4.5-1.2z" color="#165d29"/>
<path d="M480.3 132.1l4.5 1.2 0 3.4-4.5-1.2z" color="#155b2f"/>
<path d="M484.8 133.3l4.4 1.1 0 3.4-4.4-1.1z" color="#145a32"/>
<path d="M435.7 123.5l4.4 1.2 0 3.4-4.4-1.2z" color="#516013"/>
<path d="M440.1 124.7l4.5 1.2 0 3.4-4.5-1.2z" color="#4f6113"/>
<path d="M444.6 125.9l4.5 1.2 0 3.4-4.5-1.2z" color="#4c6113"/>
<path d="M449.1 127.1l4.4 1.2 0 3.4-4.4-1.2z" color="#476114"/>
<path d="M453.5 128.3l4.5 1.2 0 3.4-4.5-1.2z" color="#416115"/>
<path d="M458 129.5l4.4 1.2 0 3.4-4.4-1.2z" color="#3a6116"/>
<path d="M462.4 130.7l4.5 1.2 0 3.4-4.5-1.2z" color="#326019"/>
<path d="M466.9 131.9l4.5 1.2 0 3.4-4.5-1.2z" color="#2a5f1d"/>
<path d="M471.4 133.1l4.4 1.2 0 3.4-4.4-1.2z" color="#225e21"/>
<path d="M475.8 134.3l4.5 1.2 0 3.4-4.5-1.2z" color="#1b5d25"/>
<path d="M480.3 135.5l4.5 1.2 0 3.3-4.5-1.1z" color="#165c27"/>
<path d="M484.8 136.7l4.4 1.1 0 3.4-4.4-1.2z" color="#165b2a"/>
<path d="M435.7 126.9l4.4 1.2 0 3.4-4.4-1.2z" color="#4c6013"/>
<path d="M440.1 128.1l4.5 1.2 0 3.4-4.5-1.2z" color="#4a6013"/>
<path d="M444.6 129.3l4.5 1.2 0 3.4-4.5-1.2z" color="#476014"/>
<path d="M449.1 130.5l4.4 1.2 0 3.4-4.4-1.2z" color="#436014"/>
<path d="M453.5 131.7l4.5 1.2 0 3.4-4.5-1.2z" color="#3e6015"/>
<path d="M458 132.9l4.4 1.2 0 3.4-4.4-1.2z" color="#396016"/>
<path d="M462.4 134.1l4.5 1.2 0 3.4-4.5-1.2z" color="#335f18"/>
<path d="M466.9 135.3l4.5 1.2 0 3.4-4.5-1.2z" color="#2c5e1c"/>
<path d="M471.4 136.5l4.4 1.2 0 3.4-4.4-1.2z" color="#255d1f"/>
<path d="M475.8 137.7l4.5 1.2 0 3.4-4.5-1.2z" color="#205c22"/>
<path d="M480.3 138.9l4.5 1.1 0 3.4-4.5-1.1z" color="#1c5c24"/>
<path d="M484.8 140l4.4 1.2 0 3.4-4.4-1.2z" color="#195c25"/>
<path d="M435.7 130.3l4.4 1.2 0 6-4.4-1.2z" color="#465f13"/>
<path d="M440.1 131.5l4.5 1.2 0 6-4.5-1.2z" color="#455f14"/>
<path d="M444.6 132.7l4.5 1.2 0 5.9-4.5-1.1z" color="#425f14"/>
<path d="M449.1 133.9l4.4 1.2 0 5.9-4.4-1.2z" color="#3f5f14"/>
<path d="M453.5 135.1l4.5 1.2 0 5.9-4.5-1.2z" color="#3c5f15"/>
<path d="M458 136.3l4.4 1.2 0 5.9-4.4-1.2z" color="#385f16"/>
<path d="M462.4 137.5l4.5 1.2 0 5.9-4.5-1.2z" color="#335e17"/>
<path d="M466.9 138.7l4.5 1.2 0 5.9-4.5-1.2z" color="#2e5d1a"/>
<path d="M471.4 139.9l4.4 1.2 0 5.9-4.4-1.2z" color="#295d1c"/>
<path d="M475.8 141.1l4.5 1.2 0 5.9-4.5-1.2z" color="#255c1f"/>
<path d="M480.3 142.3l4.5 1.1 0 6-4.5-1.2z" color="#225c20"/>
<path d="M484.8 143.4l4.4 1.2 0 6-4.4-1.2z" color="#205c21"/>
</g>
<path d="M438.5 82.4l23.1 5.8 55.3-30-20.2-3.6z" fill="#d6d3c6" stroke="none" fill-opacity="0.5"/>
<path d="M438.5 76.9l1.7 .6 57.9-26.9-1.4-.4z" color="#c63b09"/>
<path d="M440.2 77.5l1.6 .6 57.8-27-1.5-.5z" color="#cb410a"/>
<path d="M441.8 78.1l1.7 .7 57.5-27.3-1.4-.4z" color="#cf4b0d"/>
<path d="M443.5 78.8l1.6 .7 57.4-27.5-1.5-.5z" color="#d35810"/>
<path d="M445.1 79.5l1.7 .8 57.1-27.7-1.4-.6z" color="#d76614"/>
<path d="M446.8 80.3l1.6 .8 57-28-1.5-.5z" color="#dc7619"/>
<path d="M448.4 81.1l1.7 .8 56.7-28.2-1.4-.6z" color="#e2871e"/>
<path d="M450.1 81.9l1.6 .8 56.5-28.4-1.4-.6z" color="#e19821"/>
<path d="M451.7 82.7l1.7 .9 56.3-28.7-1.5-.6z" color="#dfaa25"/>
<path d="M453.4 83.6l1.6 .9 56.1-28.9-1.4-.7z" color="#dcbb28"/>
<path d="M455 84.5l1.7 .9 55.9-29.2-1.5-.6z" color="#c7c428"/>
<path d="M456.7 85.4l1.6 1 55.7-29.5-1.4-.7z" color="#b2cc28"/>
<path d="M458.3 86.4l1.7 .9 55.5-29.7-1.5-.7z" color="#9bd02a"/>
<path d="M460 87.3l1.6 .9 55.3-30-1.4-.6z" color="#82d02e"/>
<path d="M461.6 88.2l1.7 1 55-30.3-1.4-.7z" color="#65ce39"/>
<path d="M463.3 89.2l1.7 .9 54.8-30.5-1.5-.7z" color="#44c94a"/>
<path d="M465 90.1l1.6 1 54.6-30.8-1.4-.7z" color="#2dc360"/>
<path d="M466.6 91.1l1.7 .9 54.4-31.1-1.5-.6z" color="#27bc7d"/>
<path d="M468.3 92l1.6 .9 54.2-31.3-1.4-.7z" color="#21b599"/>
<path d="M469.9 92.9l1.7 .9 54-31.6-1.5-.6z" color="#20abac"/>
<path d="M471.6 93.8l1.6 .8 53.8-31.8-1.4-.6z" color="#249fb9"/>
<path d="M473.2 94.6l1.7 .8 53.5-32-1.4-.6z" color="#2894c5"/>
<path d="M474.9 95.4l1.6 .8 53.4-32.3-1.5-.5z" color="#2a89cd"/>
<path d="M476.5 96.2l1.7 .8 53.1-32.5-1.4-.6z" color="#2b7fcf"/>
<path d="M478.2 97l1.6 .7 53-32.7-1.5-.5z" color="#2b75d0"/>
<path d="M479.8 97.7l1.7 .7 52.7-33-1.4-.4z" color="#2b6dd1"/>
<path d="M481.5 98.4l1.6 .6 52.6-33.1-1.5-.5z" color="#2c66d2"/>
<path d="M483.1 99l1.7 .6 52.3-33.3-1.4-.4z" color="#2b5fcf"/>
<path d="M461.6 88.2l23.2 5.9 52.3-32.2-20.2-3.7z" fill="#d6d3c6" stroke="none" fill-opacity="0.5"/></g>
<text x="483.2" y="173.39999999999998" font-family="Liberation Serif, serif" font-size="14" letter-spacing="0.3" text-anchor="middle" fill="#1a1a1a">(<tspan font-style="italic">h</tspan>)</text>
<g stroke-width="0.5" fill="none">
<line x1="449.2" y1="165.9" x2="448.9" y2="156.9" stroke="#b8f0b8"/>
<line x1="449.2" y1="165.9" x2="453.8" y2="162.6" stroke="#ece27a"/>
<line x1="449.2" y1="165.9" x2="457.8" y2="168.0" stroke="#ff8a8a" stroke-dasharray="1.1 0.7"/>
</g>
<circle cx="448.8" cy="156.1" r="1.15" fill="#22cc33"/>
<circle cx="453.7" cy="162.6" r="0.85" fill="#d4c81c"/>
<circle cx="458.3" cy="168.2" r="1.15" fill="#ee2222"/>
<g stroke="#555" stroke-width="0.45" fill="none"><path d="M449.8 154.6h1.3l-1.3 1.5h1.3M454.8 160.3l.7 .9m.7-.9l-1.2 1.9M459.2 166.1l1.5 1.6m0-1.6l-1.5 1.6"/></g>
<g fill="currentColor" stroke="currentColor" stroke-width="0.7" stroke-linejoin="round"><path d="M674.8 56.4l1.1-.7 3.1 3.2-1.2 .8z" color="#bbb926"/>
<path d="M677.8 59.7l1.2-.8 2.5 3.7-1.1 .7z" color="#9dbe25"/>
<path d="M680.4 63.3l1.1-.7 1.9 3.9-1 .8z" color="#86b826"/>
<path d="M682.4 67.3l1-.8 1.3 4.2-1.1 .8z" color="#77b026"/>
<path d="M683.6 71.5l1.1-.8 .5 4.2-1 .8z" color="#6ba825"/>
<path d="M684.2 75.7l1-.8-.2 4.1-1 .8z" color="#629f24"/>
<path d="M684 79.8l1-.8-.9 3.7-1.1 .9z" color="#5b9622"/>
<path d="M683 83.6l1.1-.9-1.6 3.4-1.1 1z" color="#538c20"/>
<path d="M681.4 87.1l1.1-1-2.3 2.9-1.1 .9z" color="#4d821e"/>
<path d="M679.1 89.9l1.1-.9-2.9 2.2-1.1 1z" color="#46781b"/>
<path d="M673.6 57.2l1.2-.8 3 3.3-1.1 .7z" color="#b6bb26"/>
<path d="M676.7 60.4l1.1-.7 2.6 3.6-1.1 .8z" color="#9abf25"/>
<path d="M679.3 64.1l1.1-.8 2 4-1.1 .9z" color="#84b826"/>
<path d="M681.3 68.2l1.1-.9 1.2 4.2-1.1 .9z" color="#75b026"/>
<path d="M682.5 72.4l1.1-.9 .6 4.2-1.1 .9z" color="#6ba825"/>
<path d="M683.1 76.6l1.1-.9-.2 4.1-1.1 .9z" color="#629f24"/>
<path d="M682.9 80.7l1.1-.9-1 3.8-1.1 1z" color="#5a9622"/>
<path d="M681.9 84.6l1.1-1-1.6 3.5-1.1 .9z" color="#538c20"/>
<path d="M680.3 88l1.1-.9-2.3 2.8-1.1 1z" color="#4c821e"/>
<path d="M678 90.9l1.1-1-2.9 2.3-1.1 .9z" color="#46781b"/>
<path d="M672.5 57.9l1.1-.7 3.1 3.2-1.1 .8z" color="#adbf26"/>
<path d="M675.6 61.2l1.1-.8 2.6 3.7-1.1 .8z" color="#94bf26"/>
<path d="M678.2 64.9l1.1-.8 2 4.1-1.2 .8z" color="#80b827"/>
<path d="M680.1 69l1.2-.8 1.2 4.2-1.1 .8z" color="#73b026"/>
<path d="M681.4 73.2l1.1-.8 .6 4.2-1.1 .9z" color="#69a825"/>
<path d="M682 77.5l1.1-.9-.2 4.1-1.1 .9z" color="#619f24"/>
<path d="M681.8 81.6l1.1-.9-1 3.9-1.1 .9z" color="#5a9622"/>
<path d="M680.8 85.5l1.1-.9-1.6 3.4-1.2 .9z" color="#538c20"/>
<path d="M679.1 88.9l1.2-.9-2.3 2.9-1.2 .9z" color="#4c821e"/>
<path d="M676.8 91.8l1.2-.9-2.9 2.2-1.2 1z" color="#46781b"/>
<path d="M671.3 58.7l1.2-.8 3.1 3.3-1.2 .8z" color="#a0c426"/>
<path d="M674.4 62l1.2-.8 2.6 3.7-1.2 .8z" color="#8abf27"/>
<path d="M677 65.7l1.2-.8 1.9 4.1-1.1 .8z" color="#7bb828"/>
<path d="M679 69.8l1.1-.8 1.3 4.2-1.1 .9z" color="#6fb027"/>
<path d="M680.3 74.1l1.1-.9 .6 4.3-1.1 .9z" color="#67a826"/>
<path d="M680.9 78.4l1.1-.9-.2 4.1-1.2 .9z" color="#5f9f24"/>
<path d="M680.6 82.5l1.2-.9-1 3.9-1.1 .9z" color="#599622"/>
<path d="M679.7 86.4l1.1-.9-1.7 3.4-1.1 1z" color="#528c20"/>
<path d="M678 89.9l1.1-1-2.3 2.9-1.1 1z" color="#4c821e"/>
<path d="M675.7 92.8l1.1-1-2.9 2.3-1.1 1z" color="#45781b"/>
<path d="M670.1 59.4l1.2-.7 3.1 3.3-1.1 .7z" color="#8ec429"/>
<path d="M673.3 62.7l1.1-.7 2.6 3.7-1.1 .8z" color="#7fbf29"/>
<path d="M675.9 66.5l1.1-.8 2 4.1-1.1 .8z" color="#74b829"/>
<path d="M677.9 70.6l1.1-.8 1.3 4.3-1.1 .8z" color="#6bb028"/>
<path d="M679.2 74.9l1.1-.8 .6 4.3-1.2 .9z" color="#64a826"/>
<path d="M679.7 79.3l1.2-.9-.3 4.1-1.1 1z" color="#5d9f24"/>
<path d="M679.5 83.5l1.1-1-.9 3.9-1.2 1z" color="#579622"/>
<path d="M678.5 87.4l1.2-1-1.7 3.5-1.1 .9z" color="#518c20"/>
<path d="M676.9 90.8l1.1-.9-2.3 2.9-1.2 1z" color="#4b821e"/>
<path d="M674.5 93.8l1.2-1-2.9 2.3-1.2 1z" color="#45781c"/>
<path d="M668.9 60.2l1.2-.8 3.2 3.3-1.2 .8z" color="#7ac42c"/>
<path d="M672.1 63.5l1.2-.8 2.6 3.8-1.2 .9z" color="#73bf2b"/>
<path d="M674.7 67.4l1.2-.9 2 4.1-1.2 .9z" color="#6cb82a"/>
<path d="M676.7 71.5l1.2-.9 1.3 4.3-1.2 .9z" color="#66b028"/>
<path d="M678 75.8l1.2-.9 .5 4.4-1.1 .9z" color="#61a827"/>
<path d="M678.6 80.2l1.1-.9-.2 4.2-1.1 .9z" color="#5b9f25"/>
<path d="M678.4 84.4l1.1-.9-1 3.9-1.1 .9z" color="#569623"/>
<path d="M677.4 88.3l1.1-.9-1.6 3.4-1.2 1z" color="#508c20"/>
<path d="M675.7 91.8l1.2-1-2.4 3-1.2 1z" color="#4a821e"/>
<path d="M673.3 94.8l1.2-1-2.9 2.3-1.2 1z" color="#44781c"/>
<path d="M667.7 61l1.2-.8 3.2 3.3-1.2 .8z" color="#61c234"/>
<path d="M670.9 64.3l1.2-.8 2.6 3.9-1.2 .8z" color="#63bd30"/>
<path d="M673.5 68.2l1.2-.8 2 4.1-1.2 .9z" color="#63b72d"/>
<path d="M675.5 72.4l1.2-.9 1.3 4.3-1.1 .9z" color="#61b02a"/>
<path d="M676.9 76.7l1.1-.9 .6 4.4-1.2 .9z" color="#5da828"/>
<path d="M677.4 81.1l1.2-.9-.2 4.2-1.2 .9z" color="#599f26"/>
<path d="M677.2 85.3l1.2-.9-1 3.9-1.2 1z" color="#549623"/>
<path d="M676.2 89.3l1.2-1-1.7 3.5-1.2 1z" color="#4f8c21"/>
<path d="M674.5 92.8l1.2-1-2.4 3-1.2 1z" color="#49821e"/>
<path d="M672.1 95.8l1.2-1-2.9 2.3-1.2 1z" color="#44781c"/>
<path d="M666.5 61.8l1.2-.8 3.2 3.3-1.2 .9z" color="#46be42"/>
<path d="M669.7 65.2l1.2-.9 2.6 3.9-1.2 .8z" color="#53bb39"/>
<path d="M672.3 69l1.2-.8 2 4.2-1.1 .8z" color="#59b632"/>
<path d="M674.4 73.2l1.1-.8 1.4 4.3-1.2 .9z" color="#5aaf2e"/>
<path d="M675.7 77.6l1.2-.9 .5 4.4-1.2 .9z" color="#59a72a"/>
<path d="M676.2 82l1.2-.9-.2 4.2-1.2 1z" color="#569f27"/>
<path d="M676 86.3l1.2-1-1 4-1.2 1z" color="#529624"/>
<path d="M675 90.3l1.2-1-1.7 3.5-1.2 1z" color="#4e8c21"/>
<path d="M673.3 93.8l1.2-1-2.4 3-1.2 1z" color="#48821f"/>
<path d="M670.9 96.8l1.2-1-2.9 2.3-1.2 1z" color="#43781c"/>
<path d="M665.2 62.6l1.3-.8 3.2 3.4-1.3 .8z" color="#2ebb4f"/>
<path d="M668.4 66l1.3-.8 2.6 3.8-1.2 .9z" color="#43b941"/>
<path d="M671.1 69.9l1.2-.9 2.1 4.2-1.2 .9z" color="#50b437"/>
<path d="M673.2 74.1l1.2-.9 1.3 4.4-1.2 .9z" color="#55ae31"/>
<path d="M674.5 78.5l1.2-.9 .5 4.4-1.1 1z" color="#55a72c"/>
<path d="M675.1 83l1.1-1-.2 4.3-1.2 1z" color="#549e28"/>
<path d="M674.8 87.3l1.2-1-1 4-1.1 1z" color="#519525"/>
<path d="M673.9 91.3l1.1-1-1.7 3.5-1.2 1z" color="#4c8c22"/>
<path d="M672.1 94.8l1.2-1-2.4 3-1.2 1z" color="#48821f"/>
<path d="M669.7 97.8l1.2-1-2.9 2.3-1.3 1z" color="#42781d"/>
<path d="M663.9 63.4l1.3-.8 3.2 3.4-1.2 .8z" color="#29b661"/>
<path d="M667.2 66.8l1.2-.8 2.7 3.9-1.2 .9z" color="#37b747"/>
<path d="M669.9 70.8l1.2-.9 2.1 4.2-1.3 .9z" color="#48b33b"/>
<path d="M671.9 75l1.3-.9 1.3 4.4-1.2 1z" color="#50ad33"/>
<path d="M673.3 79.5l1.2-1 .6 4.5-1.2 .9z" color="#52a62d"/>
<path d="M673.9 83.9l1.2-.9-.3 4.3-1.2 1z" color="#529e29"/>
<path d="M673.6 88.3l1.2-1-.9 4-1.3 1z" color="#4f9526"/>
<path d="M672.6 92.3l1.3-1-1.8 3.5-1.2 1.1z" color="#4b8c23"/>
<path d="M670.9 95.9l1.2-1.1-2.4 3-1.2 1.1z" color="#478220"/>
<path d="M668.5 98.9l1.2-1.1-3 2.3-1.2 1.1z" color="#42771d"/>
<path d="M662.7 64.2l1.2-.8 3.3 3.4-1.3 .9z" color="#27b36d"/>
<path d="M665.9 67.7l1.3-.9 2.7 4-1.3 .8z" color="#2eb64c"/>
<path d="M668.6 71.6l1.3-.8 2 4.2-1.2 .9z" color="#43b23e"/>
<path d="M670.7 75.9l1.2-.9 1.4 4.5-1.2 .9z" color="#4dad35"/>
<path d="M672.1 80.4l1.2-.9 .6 4.4-1.3 1z" color="#50a62f"/>
<path d="M672.6 84.9l1.3-1-.3 4.4-1.2 1z" color="#509e2a"/>
<path d="M672.4 89.3l1.2-1-1 4-1.2 1z" color="#4e9526"/>
<path d="M671.4 93.3l1.2-1-1.7 3.6-1.2 1z" color="#4b8c23"/>
<path d="M669.7 96.9l1.2-1-2.4 3-1.3 1z" color="#468220"/>
<path d="M667.2 99.9l1.3-1-3 2.3-1.3 1.1z" color="#41771d"/>
<path d="M661.4 65l1.3-.8 3.2 3.5-1.3 .8z" color="#25b174"/>
<path d="M664.6 68.5l1.3-.8 2.7 3.9-1.2 .9z" color="#2cb54f"/>
<path d="M667.4 72.5l1.2-.9 2.1 4.3-1.2 1z" color="#40b23f"/>
<path d="M669.5 76.9l1.2-1 1.4 4.5-1.3 1z" color="#4bad36"/>
<path d="M670.8 81.4l1.3-1 .5 4.5-1.2 1z" color="#4fa62f"/>
<path d="M671.4 85.9l1.2-1-.2 4.4-1.2 1z" color="#509e2a"/>
<path d="M671.2 90.3l1.2-1-1 4-1.2 1z" color="#4e9526"/>
<path d="M670.2 94.3l1.2-1-1.7 3.6-1.3 1.1z" color="#4a8c23"/>
<path d="M668.4 98l1.3-1.1-2.5 3-1.2 1.1z" color="#468220"/>
<path d="M666 101l1.2-1.1-3 2.4-1.3 1.1z" color="#41771d"/>
<path d="M660 65.9l1.4-.9 3.2 3.5-1.2 .9z" color="#25b174"/>
<path d="M663.4 69.4l1.2-.9 2.8 4-1.3 .9z" color="#2cb54f"/>
<path d="M666.1 73.4l1.3-.9 2.1 4.4-1.3 .9z" color="#40b23f"/>
<path d="M668.2 77.8l1.3-.9 1.3 4.5-1.2 .9z" color="#4bad36"/>
<path d="M669.6 82.3l1.2-.9 .6 4.5-1.3 1z" color="#4fa62f"/>
<path d="M670.1 86.9l1.3-1-.2 4.4-1.3 1z" color="#509e2a"/>
<path d="M669.9 91.3l1.3-1-1 4-1.3 1.1z" color="#4e9526"/>
<path d="M668.9 95.4l1.3-1.1-1.8 3.7-1.3 1z" color="#4a8c23"/>
<path d="M667.1 99l1.3-1-2.4 3-1.3 1.1z" color="#468220"/>
<path d="M664.7 102.1l1.3-1.1-3.1 2.4-1.3 1.1z" color="#41771d"/>
<path d="M658.7 66.7l1.3-.8 3.4 3.5-1.4 .9z" color="#27b36d"/>
<path d="M662 70.3l1.4-.9 2.7 4-1.3 .9z" color="#2eb64c"/>
<path d="M664.8 74.3l1.3-.9 2.1 4.4-1.3 .9z" color="#43b23e"/>
<path d="M666.9 78.7l1.3-.9 1.4 4.5-1.3 1z" color="#4dad35"/>
<path d="M668.3 83.3l1.3-1 .5 4.6-1.2 1z" color="#50a62f"/>
<path d="M668.9 87.9l1.2-1-.2 4.4-1.2 1z" color="#509e2a"/>
<path d="M668.7 92.3l1.2-1-1 4.1-1.3 1z" color="#4e9526"/>
<path d="M667.6 96.4l1.3-1-1.8 3.6-1.3 1.1z" color="#4b8c23"/>
<path d="M665.8 100.1l1.3-1.1-2.4 3.1-1.3 1.1z" color="#468220"/>
<path d="M663.4 103.2l1.3-1.1-3.1 2.4-1.3 1.1z" color="#41771d"/>
<path d="M657.4 67.6l1.3-.9 3.3 3.6-1.3 .9z" color="#29b661"/>
<path d="M660.7 71.2l1.3-.9 2.8 4-1.3 1z" color="#37b747"/>
<path d="M663.5 75.3l1.3-1 2.1 4.4-1.3 1z" color="#48b33b"/>
<path d="M665.6 79.7l1.3-1 1.4 4.6-1.3 1z" color="#50ad33"/>
<path d="M667 84.3l1.3-1 .6 4.6-1.3 1z" color="#52a62d"/>
<path d="M667.6 88.9l1.3-1-.2 4.4-1.3 1.1z" color="#529e29"/>
<path d="M667.4 93.4l1.3-1.1-1.1 4.1-1.3 1.1z" color="#4f9526"/>
<path d="M666.3 97.5l1.3-1.1-1.8 3.7-1.3 1.1z" color="#4b8c23"/>
<path d="M664.5 101.2l1.3-1.1-2.4 3.1-1.4 1.1z" color="#478220"/>
<path d="M662 104.3l1.4-1.1-3.1 2.4-1.4 1.1z" color="#42771d"/>
<path d="M656 68.5l1.4-.9 3.3 3.6-1.3 .9z" color="#2ebb4f"/>
<path d="M659.4 72.1l1.3-.9 2.8 4.1-1.3 .9z" color="#43b941"/>
<path d="M662.2 76.2l1.3-.9 2.1 4.4-1.3 1z" color="#50b437"/>
<path d="M664.3 80.7l1.3-1 1.4 4.6-1.3 1z" color="#55ae31"/>
<path d="M665.7 85.3l1.3-1 .6 4.6-1.3 1z" color="#55a72c"/>
<path d="M666.3 89.9l1.3-1-.2 4.5-1.3 1z" color="#549e28"/>
<path d="M666.1 94.4l1.3-1-1.1 4.1-1.3 1.1z" color="#519525"/>
<path d="M665 98.6l1.3-1.1-1.8 3.7-1.3 1.1z" color="#4c8c22"/>
<path d="M663.2 102.3l1.3-1.1-2.5 3.1-1.3 1.1z" color="#48821f"/>
<path d="M660.7 105.4l1.3-1.1-3.1 2.4-1.3 1.1z" color="#42781d"/>
<path d="M654.6 69.4l1.4-.9 3.4 3.6-1.4 .9z" color="#46be42"/>
<path d="M658 73l1.4-.9 2.8 4.1-1.4 1z" color="#53bb39"/>
<path d="M660.8 77.2l1.4-1 2.1 4.5-1.3 .9z" color="#59b632"/>
<path d="M663 81.6l1.3-.9 1.4 4.6-1.3 1z" color="#5aaf2e"/>
<path d="M664.4 86.3l1.3-1 .6 4.6-1.3 1.1z" color="#59a72a"/>
<path d="M665 91l1.3-1.1-.2 4.5-1.4 1.1z" color="#569f27"/>
<path d="M664.7 95.5l1.4-1.1-1.1 4.2-1.3 1.1z" color="#529624"/>
<path d="M663.7 99.7l1.3-1.1-1.8 3.7-1.3 1.2z" color="#4e8c21"/>
<path d="M661.9 103.5l1.3-1.2-2.5 3.1-1.4 1.2z" color="#48821f"/>
<path d="M659.3 106.6l1.4-1.2-3.1 2.4-1.4 1.2z" color="#43781c"/>
<path d="M653.2 70.3l1.4-.9 3.4 3.6-1.4 .9z" color="#61c234"/>
<path d="M656.6 73.9l1.4-.9 2.8 4.2-1.3 .9z" color="#63bd30"/>
<path d="M659.5 78.1l1.3-.9 2.2 4.4-1.4 1z" color="#63b72d"/>
<path d="M661.6 82.6l1.4-1 1.4 4.7-1.4 1z" color="#61b02a"/>
<path d="M663 87.3l1.4-1 .6 4.7-1.4 1.1z" color="#5da828"/>
<path d="M663.6 92.1l1.4-1.1-.3 4.5-1.3 1.1z" color="#599f26"/>
<path d="M663.4 96.6l1.3-1.1-1 4.2-1.3 1.1z" color="#549623"/>
<path d="M662.4 100.8l1.3-1.1-1.8 3.8-1.4 1.1z" color="#4f8c21"/>
<path d="M660.5 104.6l1.4-1.1-2.6 3.1-1.3 1.1z" color="#49821e"/>
<path d="M658 107.7l1.3-1.1-3.1 2.4-1.4 1.2z" color="#44781c"/>
<path d="M651.8 71.2l1.4-.9 3.4 3.6-1.4 1z" color="#7ac42c"/>
<path d="M655.2 74.9l1.4-1 2.9 4.2-1.4 1z" color="#73bf2b"/>
<path d="M658.1 79.1l1.4-1 2.1 4.5-1.3 1z" color="#6cb82a"/>
<path d="M660.3 83.6l1.3-1 1.4 4.7-1.3 1.1z" color="#66b028"/>
<path d="M661.7 88.4l1.3-1.1 .6 4.8-1.3 1z" color="#61a827"/>
<path d="M662.3 93.1l1.3-1-.2 4.5-1.4 1.1z" color="#5b9f25"/>
<path d="M662 97.7l1.4-1.1-1 4.2-1.4 1.2z" color="#569623"/>
<path d="M661 102l1.4-1.2-1.9 3.8-1.4 1.2z" color="#508c20"/>
<path d="M659.1 105.8l1.4-1.2-2.5 3.1-1.4 1.2z" color="#4a821e"/>
<path d="M656.6 108.9l1.4-1.2-3.2 2.5-1.4 1.2z" color="#44781c"/>
<path d="M650.3 72.1l1.5-.9 3.4 3.7-1.4 1z" color="#8ec429"/>
<path d="M653.8 75.9l1.4-1 2.9 4.2-1.4 1z" color="#7fbf29"/>
<path d="M656.7 80.1l1.4-1 2.2 4.5-1.4 1.1z" color="#74b829"/>
<path d="M658.9 84.7l1.4-1.1 1.4 4.8-1.4 1z" color="#6bb028"/>
<path d="M660.3 89.4l1.4-1 .6 4.7-1.4 1.1z" color="#64a826"/>
<path d="M660.9 94.2l1.4-1.1-.3 4.6-1.3 1.1z" color="#5d9f24"/>
<path d="M660.7 98.8l1.3-1.1-1 4.3-1.4 1.1z" color="#579622"/>
<path d="M659.6 103.1l1.4-1.1-1.9 3.8-1.4 1.1z" color="#518c20"/>
<path d="M657.7 106.9l1.4-1.1-2.5 3.1-1.4 1.2z" color="#4b821e"/>
<path d="M655.2 110.1l1.4-1.2-3.2 2.5-1.4 1.2z" color="#45781c"/>
<path d="M648.9 73.1l1.4-1 3.5 3.8-1.4 .9z" color="#a0c426"/>
<path d="M652.4 76.8l1.4-.9 2.9 4.2-1.4 1z" color="#8abf27"/>
<path d="M655.3 81.1l1.4-1 2.2 4.6-1.4 1z" color="#7bb828"/>
<path d="M657.5 85.7l1.4-1 1.4 4.7-1.4 1.1z" color="#6fb027"/>
<path d="M658.9 90.5l1.4-1.1 .6 4.8-1.4 1.1z" color="#67a826"/>
<path d="M659.5 95.3l1.4-1.1-.2 4.6-1.4 1.2z" color="#5f9f24"/>
<path d="M659.3 100l1.4-1.2-1.1 4.3-1.4 1.2z" color="#599622"/>
<path d="M658.2 104.3l1.4-1.2-1.9 3.8-1.4 1.2z" color="#528c20"/>
<path d="M656.3 108.1l1.4-1.2-2.5 3.2-1.5 1.2z" color="#4c821e"/>
<path d="M653.7 111.3l1.5-1.2-3.2 2.5-1.5 1.2z" color="#45781b"/>
<path d="M647.4 74l1.5-.9 3.5 3.7-1.5 1z" color="#adbf26"/>
<path d="M650.9 77.8l1.5-1 2.9 4.3-1.5 1z" color="#94bf26"/>
<path d="M653.8 82.1l1.5-1 2.2 4.6-1.5 1.1z" color="#80b827"/>
<path d="M656 86.8l1.5-1.1 1.4 4.8-1.4 1.1z" color="#73b026"/>
<path d="M657.5 91.6l1.4-1.1 .6 4.8-1.4 1.2z" color="#69a825"/>
<path d="M658.1 96.5l1.4-1.2-.2 4.7-1.4 1.1z" color="#619f24"/>
<path d="M657.9 101.1l1.4-1.1-1.1 4.3-1.4 1.2z" color="#5a9622"/>
<path d="M656.8 105.5l1.4-1.2-1.9 3.8-1.4 1.2z" color="#538c20"/>
<path d="M654.9 109.3l1.4-1.2-2.6 3.2-1.4 1.3z" color="#4c821e"/>
<path d="M652.3 112.6l1.4-1.3-3.2 2.5-1.5 1.2z" color="#46781b"/>
<path d="M645.9 75l1.5-1 3.5 3.8-1.5 1z" color="#b6bb26"/>
<path d="M649.4 78.8l1.5-1 2.9 4.3-1.5 1z" color="#9abf25"/>
<path d="M652.3 83.1l1.5-1 2.2 4.7-1.4 1z" color="#84b826"/>
<path d="M654.6 87.8l1.4-1 1.5 4.8-1.5 1.1z" color="#75b026"/>
<path d="M656 92.7l1.5-1.1 .6 4.9-1.4 1.1z" color="#6ba825"/>
<path d="M656.7 97.6l1.4-1.1-.2 4.6-1.5 1.2z" color="#629f24"/>
<path d="M656.4 102.3l1.5-1.2-1.1 4.4-1.5 1.2z" color="#5a9622"/>
<path d="M655.3 106.7l1.5-1.2-1.9 3.8-1.5 1.3z" color="#538c20"/>
<path d="M653.4 110.6l1.5-1.3-2.6 3.3-1.5 1.2z" color="#4c821e"/>
<path d="M650.8 113.8l1.5-1.2-3.3 2.4-1.5 1.3z" color="#46781b"/>
<path d="M644.4 76l1.5-1 3.5 3.8-1.5 1z" color="#bbb926"/>
<path d="M647.9 79.8l1.5-1 2.9 4.3-1.4 1.1z" color="#9dbe25"/>
<path d="M650.9 84.2l1.4-1.1 2.3 4.7-1.5 1.1z" color="#86b826"/>
<path d="M653.1 88.9l1.5-1.1 1.4 4.9-1.4 1.1z" color="#77b026"/>
<path d="M654.6 93.8l1.4-1.1 .7 4.9-1.5 1.1z" color="#6ba825"/>
<path d="M655.2 98.7l1.5-1.1-.3 4.7-1.4 1.2z" color="#629f24"/>
<path d="M655 103.5l1.4-1.2-1.1 4.4-1.4 1.2z" color="#5b9622"/>
<path d="M653.9 107.9l1.4-1.2-1.9 3.9-1.4 1.2z" color="#538c20"/>
<path d="M652 111.8l1.4-1.2-2.6 3.2-1.5 1.3z" color="#4d821e"/>
<path d="M649.3 115.1l1.5-1.3-3.3 2.5-1.5 1.3z" color="#46781b"/>
<path d="M642.8 77l1.6-1 3.5 3.8-1.5 1z" color="#bbb926"/>
<path d="M646.4 80.8l1.5-1 3 4.4-1.5 1.1z" color="#9dbe25"/>
<path d="M649.4 85.3l1.5-1.1 2.2 4.7-1.5 1.1z" color="#86b826"/>
<path d="M651.6 90l1.5-1.1 1.5 4.9-1.5 1.2z" color="#77b026"/>
<path d="M653.1 95l1.5-1.2 .6 4.9-1.5 1.2z" color="#6ba825"/>
<path d="M653.7 99.9l1.5-1.2-.2 4.8-1.5 1.2z" color="#629f24"/>
<path d="M653.5 104.7l1.5-1.2-1.1 4.4-1.5 1.2z" color="#5b9622"/>
<path d="M652.4 109.1l1.5-1.2-1.9 3.9-1.5 1.3z" color="#538c20"/>
<path d="M650.5 113.1l1.5-1.3-2.7 3.3-1.5 1.2z" color="#4d821e"/>
<path d="M647.8 116.3l1.5-1.2-3.3 2.5-1.5 1.2z" color="#46781b"/>
<path d="M641.2 78l1.6-1 3.6 3.8-1.6 1.1z" color="#b6bb26"/>
<path d="M644.8 81.9l1.6-1.1 3 4.5-1.6 1z" color="#9abf25"/>
<path d="M647.8 86.3l1.6-1 2.2 4.7-1.5 1.1z" color="#84b826"/>
<path d="M650.1 91.1l1.5-1.1 1.5 5-1.5 1.1z" color="#75b026"/>
<path d="M651.6 96.1l1.5-1.1 .6 4.9-1.5 1.2z" color="#6ba825"/>
<path d="M652.2 101.1l1.5-1.2-.2 4.8-1.5 1.2z" color="#629f24"/>
<path d="M652 105.9l1.5-1.2-1.1 4.4-1.5 1.3z" color="#5a9622"/>
<path d="M650.9 110.4l1.5-1.3-1.9 4-1.5 1.2z" color="#538c20"/>
<path d="M649 114.3l1.5-1.2-2.7 3.2-1.5 1.3z" color="#4c821e"/>
<path d="M646.3 117.6l1.5-1.3-3.3 2.5-1.6 1.4z" color="#46781b"/>
<path d="M639.6 79l1.6-1 3.6 3.9-1.5 1z" color="#adbf26"/>
<path d="M643.3 82.9l1.5-1 3 4.4-1.5 1.1z" color="#94bf26"/>
<path d="M646.3 87.4l1.5-1.1 2.3 4.8-1.5 1.2z" color="#80b827"/>
<path d="M648.6 92.3l1.5-1.2 1.5 5-1.5 1.2z" color="#73b026"/>
<path d="M650.1 97.3l1.5-1.2 .6 5-1.5 1.2z" color="#69a825"/>
<path d="M650.7 102.3l1.5-1.2-.2 4.8-1.5 1.3z" color="#619f24"/>
<path d="M650.5 107.2l1.5-1.3-1.1 4.5-1.5 1.3z" color="#5a9622"/>
<path d="M649.4 111.7l1.5-1.3-1.9 3.9-1.6 1.3z" color="#538c20"/>
<path d="M647.4 115.6l1.6-1.3-2.7 3.3-1.6 1.4z" color="#4c821e"/>
<path d="M644.7 119l1.6-1.4-3.4 2.6-1.6 1.3z" color="#46781b"/>
<path d="M638 80l1.6-1 3.7 3.9-1.6 1.1z" color="#a0c426"/>
<path d="M641.7 84l1.6-1.1 3 4.5-1.6 1.1z" color="#8abf27"/>
<path d="M644.7 88.5l1.6-1.1 2.3 4.9-1.6 1.1z" color="#7bb828"/>
<path d="M647 93.4l1.6-1.1 1.5 5-1.6 1.2z" color="#6fb027"/>
<path d="M648.5 98.5l1.6-1.2 .6 5-1.5 1.2z" color="#67a826"/>
<path d="M649.2 103.5l1.5-1.2-.2 4.9-1.6 1.2z" color="#5f9f24"/>
<path d="M648.9 108.4l1.6-1.2-1.1 4.5-1.6 1.2z" color="#599622"/>
<path d="M647.8 112.9l1.6-1.2-2 3.9-1.5 1.3z" color="#528c20"/>
<path d="M645.9 116.9l1.5-1.3-2.7 3.4-1.6 1.3z" color="#4c821e"/>
<path d="M643.1 120.3l1.6-1.3-3.4 2.5-1.6 1.3z" color="#45781b"/>
<path d="M636.4 81.1l1.6-1.1 3.7 4-1.6 1.1z" color="#8ec429"/>
<path d="M640.1 85.1l1.6-1.1 3 4.5-1.6 1.2z" color="#7fbf29"/>
<path d="M643.1 89.7l1.6-1.2 2.3 4.9-1.5 1.2z" color="#74b829"/>
<path d="M645.5 94.6l1.5-1.2 1.5 5.1-1.5 1.2z" color="#6bb028"/>
<path d="M647 99.7l1.5-1.2 .7 5-1.6 1.3z" color="#64a826"/>
<path d="M647.6 104.8l1.6-1.3-.3 4.9-1.5 1.3z" color="#5d9f24"/>
<path d="M647.4 109.7l1.5-1.3-1.1 4.5-1.6 1.4z" color="#579622"/>
<path d="M646.2 114.3l1.6-1.4-1.9 4-1.6 1.4z" color="#518c20"/>
<path d="M644.3 118.3l1.6-1.4-2.8 3.4-1.6 1.3z" color="#4b821e"/>
<path d="M641.5 121.6l1.6-1.3-3.4 2.5-1.6 1.4z" color="#45781c"/>
<path d="M634.7 82.1l1.7-1 3.7 4-1.7 1.1z" color="#7ac42c"/>
<path d="M638.4 86.2l1.7-1.1 3 4.6-1.6 1.1z" color="#73bf2b"/>
<path d="M641.5 90.8l1.6-1.1 2.4 4.9-1.6 1.2z" color="#6cb82a"/>
<path d="M643.9 95.8l1.6-1.2 1.5 5.1-1.6 1.2z" color="#66b028"/>
<path d="M645.4 100.9l1.6-1.2 .6 5.1-1.6 1.2z" color="#61a827"/>
<path d="M646 106l1.6-1.2-.2 4.9-1.6 1.3z" color="#5b9f25"/>
<path d="M645.8 111l1.6-1.3-1.2 4.6-1.6 1.3z" color="#569623"/>
<path d="M644.6 115.6l1.6-1.3-1.9 4-1.6 1.3z" color="#508c20"/>
<path d="M642.7 119.6l1.6-1.3-2.8 3.3-1.6 1.4z" color="#4a821e"/>
<path d="M639.9 123l1.6-1.4-3.4 2.6-1.6 1.4z" color="#44781c"/>
<path d="M633 83.2l1.7-1.1 3.7 4.1-1.6 1.1z" color="#61c234"/>
<path d="M636.8 87.3l1.6-1.1 3.1 4.6-1.6 1.2z" color="#63bd30"/>
<path d="M639.9 92l1.6-1.2 2.4 5-1.7 1.1z" color="#63b72d"/>
<path d="M642.2 96.9l1.7-1.1 1.5 5.1-1.6 1.2z" color="#61b02a"/>
<path d="M643.8 102.1l1.6-1.2 .6 5.1-1.6 1.3z" color="#5da828"/>
<path d="M644.4 107.3l1.6-1.3-.2 5-1.6 1.3z" color="#599f26"/>
<path d="M644.2 112.3l1.6-1.3-1.2 4.6-1.6 1.3z" color="#549623"/>
<path d="M643 116.9l1.6-1.3-1.9 4-1.7 1.4z" color="#4f8c21"/>
<path d="M641 121l1.7-1.4-2.8 3.4-1.7 1.4z" color="#49821e"/>
<path d="M638.2 124.4l1.7-1.4-3.4 2.6-1.7 1.4z" color="#44781c"/>
<path d="M631.3 84.3l1.7-1.1 3.8 4.1-1.7 1.2z" color="#46be42"/>
<path d="M635.1 88.5l1.7-1.2 3.1 4.7-1.7 1.1z" color="#53bb39"/>
<path d="M638.2 93.1l1.7-1.1 2.3 4.9-1.6 1.3z" color="#59b632"/>
<path d="M640.6 98.2l1.6-1.3 1.6 5.2-1.7 1.3z" color="#5aaf2e"/>
<path d="M642.1 103.4l1.7-1.3 .6 5.2-1.6 1.3z" color="#59a72a"/>
<path d="M642.8 108.6l1.6-1.3-.2 5-1.7 1.3z" color="#569f27"/>
<path d="M642.5 113.6l1.7-1.3-1.2 4.6-1.6 1.4z" color="#529624"/>
<path d="M641.4 118.3l1.6-1.4-2 4.1-1.6 1.4z" color="#4e8c21"/>
<path d="M639.4 122.4l1.6-1.4-2.8 3.4-1.6 1.4z" color="#48821f"/>
<path d="M636.6 125.8l1.6-1.4-3.4 2.6-1.7 1.4z" color="#43781c"/>
<path d="M629.6 85.4l1.7-1.1 3.8 4.2-1.7 1.1z" color="#2ebb4f"/>
<path d="M633.4 89.6l1.7-1.1 3.1 4.6-1.7 1.2z" color="#43b941"/>
<path d="M636.5 94.3l1.7-1.2 2.4 5.1-1.7 1.2z" color="#50b437"/>
<path d="M638.9 99.4l1.7-1.2 1.5 5.2-1.6 1.3z" color="#55ae31"/>
<path d="M640.5 104.7l1.6-1.3 .7 5.2-1.7 1.3z" color="#55a72c"/>
<path d="M641.1 109.9l1.7-1.3-.3 5-1.6 1.4z" color="#549e28"/>
<path d="M640.9 115l1.6-1.4-1.1 4.7-1.7 1.4z" color="#519525"/>
<path d="M639.7 119.7l1.7-1.4-2 4.1-1.7 1.4z" color="#4c8c22"/>
<path d="M637.7 123.8l1.7-1.4-2.8 3.4-1.7 1.5z" color="#48821f"/>
<path d="M634.9 127.3l1.7-1.5-3.5 2.6-1.7 1.5z" color="#42781d"/>
<path d="M627.8 86.6l1.8-1.2 3.8 4.2-1.8 1.2z" color="#29b661"/>
<path d="M631.6 90.8l1.8-1.2 3.1 4.7-1.7 1.2z" color="#37b747"/>
<path d="M634.8 95.5l1.7-1.2 2.4 5.1-1.7 1.3z" color="#48b33b"/>
<path d="M637.2 100.7l1.7-1.3 1.6 5.3-1.7 1.3z" color="#50ad33"/>
<path d="M638.8 106l1.7-1.3 .6 5.2-1.7 1.4z" color="#52a62d"/>
<path d="M639.4 111.3l1.7-1.4-.2 5.1-1.7 1.4z" color="#529e29"/>
<path d="M639.2 116.4l1.7-1.4-1.2 4.7-1.7 1.4z" color="#4f9526"/>
<path d="M638 121.1l1.7-1.4-2 4.1-1.7 1.5z" color="#4b8c23"/>
<path d="M636 125.3l1.7-1.5-2.8 3.5-1.8 1.4z" color="#478220"/>
<path d="M633.1 128.7l1.8-1.4-3.5 2.6-1.8 1.5z" color="#42771d"/>
<path d="M626 87.7l1.8-1.1 3.8 4.2-1.7 1.2z" color="#27b36d"/>
<path d="M629.9 92l1.7-1.2 3.2 4.7-1.7 1.3z" color="#2eb64c"/>
<path d="M633.1 96.8l1.7-1.3 2.4 5.2-1.7 1.2z" color="#43b23e"/>
<path d="M635.5 101.9l1.7-1.2 1.6 5.3-1.7 1.3z" color="#4dad35"/>
<path d="M637.1 107.3l1.7-1.3 .6 5.3-1.7 1.3z" color="#50a62f"/>
<path d="M637.7 112.6l1.7-1.3-.2 5.1-1.7 1.4z" color="#509e2a"/>
<path d="M637.5 117.8l1.7-1.4-1.2 4.7-1.7 1.4z" color="#4e9526"/>
<path d="M636.3 122.5l1.7-1.4-2 4.2-1.8 1.4z" color="#4b8c23"/>
<path d="M634.2 126.7l1.8-1.4-2.9 3.4-1.7 1.5z" color="#468220"/>
<path d="M631.4 130.2l1.7-1.5-3.5 2.7-1.8 1.5z" color="#41771d"/>
<path d="M624.2 88.9l1.8-1.2 3.9 4.3-1.8 1.2z" color="#25b174"/>
<path d="M628.1 93.2l1.8-1.2 3.2 4.8-1.8 1.2z" color="#2cb54f"/>
<path d="M631.3 98l1.8-1.2 2.4 5.1-1.8 1.3z" color="#40b23f"/>
<path d="M633.7 103.2l1.8-1.3 1.6 5.4-1.8 1.3z" color="#4bad36"/>
<path d="M635.3 108.6l1.8-1.3 .6 5.3-1.7 1.4z" color="#4fa62f"/>
<path d="M636 114l1.7-1.4-.2 5.2-1.8 1.4z" color="#509e2a"/>
<path d="M635.7 119.2l1.8-1.4-1.2 4.7-1.7 1.5z" color="#4e9526"/>
<path d="M634.6 124l1.7-1.5-2.1 4.2-1.7 1.5z" color="#4a8c23"/>
<path d="M632.5 128.2l1.7-1.5-2.8 3.5-1.8 1.5z" color="#468220"/>
<path d="M629.6 131.7l1.8-1.5-3.6 2.7-1.8 1.5z" color="#41771d"/>
<path d="M652.7 51.4l3.8 .8 .7-.4-3.7-.8z" color="#d77719"/>
<path d="M656.5 52.2l3.7 .8 .8-.4-3.8-.8z" color="#a71c05"/>
<path d="M660.2 53l3.8 .8 .7-.4-3.7-.8z" color="#6a0a01"/>
<path d="M664 53.8l3.7 .8 .7-.5-3.7-.7z" color="#6a0a01"/>
<path d="M667.7 54.6l3.8 .7 .7-.4-3.8-.8z" color="#a71c05"/>
<path d="M671.5 55.3l3.7 .8 .7-.4-3.7-.8z" color="#d77719"/>
<path d="M652 51.8l3.7 .8 .8-.4-3.8-.8z" color="#d87b1b"/>
<path d="M655.7 52.6l3.8 .8 .7-.4-3.7-.8z" color="#ab2105"/>
<path d="M659.5 53.4l3.8 .8 .7-.4-3.8-.8z" color="#740c01"/>
<path d="M663.3 54.2l3.7 .8 .7-.4-3.7-.8z" color="#740c01"/>
<path d="M667 55l3.8 .8 .7-.5-3.8-.7z" color="#ab2105"/>
<path d="M670.8 55.8l3.7 .8 .7-.5-3.7-.8z" color="#d87b1b"/>
<path d="M651.2 52.2l3.8 .8 .7-.4-3.7-.8z" color="#db831d"/>
<path d="M655 53l3.8 .8 .7-.4-3.8-.8z" color="#b32a07"/>
<path d="M658.8 53.8l3.7 .8 .8-.4-3.8-.8z" color="#881102"/>
<path d="M662.5 54.6l3.8 .8 .7-.4-3.7-.8z" color="#881102"/>
<path d="M666.3 55.4l3.8 .8 .7-.4-3.8-.8z" color="#b32a07"/>
<path d="M670.1 56.2l3.8 .8 .6-.4-3.7-.8z" color="#db831d"/>
<path d="M650.5 52.6l3.7 .8 .8-.4-3.8-.8z" color="#da8e1f"/>
<path d="M654.2 53.4l3.8 .8 .8-.4-3.8-.8z" color="#be3708"/>
<path d="M658 54.2l3.8 .8 .7-.4-3.7-.8z" color="#a41804"/>
<path d="M661.8 55l3.8 .8 .7-.4-3.8-.8z" color="#a41804"/>
<path d="M665.6 55.8l3.8 .9 .7-.5-3.8-.8z" color="#be3708"/>
<path d="M669.4 56.7l3.8 .8 .7-.5-3.8-.8z" color="#da8e1f"/>
<path d="M649.7 53l3.8 .8 .7-.4-3.7-.8z" color="#d99c22"/>
<path d="M653.5 53.8l3.8 .9 .7-.5-3.8-.8z" color="#ca4c0d"/>
<path d="M657.3 54.7l3.8 .8 .7-.5-3.8-.8z" color="#b52d07"/>
<path d="M661.1 55.5l3.8 .8 .7-.5-3.8-.8z" color="#b52d07"/>
<path d="M664.9 56.3l3.8 .8 .7-.4-3.8-.9z" color="#ca4c0d"/>
<path d="M668.7 57.1l3.8 .8 .7-.4-3.8-.8z" color="#d99c22"/>
<path d="M648.9 53.4l3.8 .9 .8-.5-3.8-.8z" color="#d8ad25"/>
<path d="M652.7 54.3l3.8 .8 .8-.4-3.8-.9z" color="#d36b16"/>
<path d="M656.5 55.1l3.8 .8 .8-.4-3.8-.8z" color="#c8480c"/>
<path d="M660.3 55.9l3.8 .8 .8-.4-3.8-.8z" color="#c8480c"/>
<path d="M664.1 56.7l3.9 .8 .7-.4-3.8-.8z" color="#d36b16"/>
<path d="M668 57.5l3.8 .9 .7-.5-3.8-.8z" color="#d8ad25"/>
<path d="M648.1 53.9l3.8 .8 .8-.4-3.8-.9z" color="#cbba27"/>
<path d="M651.9 54.7l3.9 .8 .7-.4-3.8-.8z" color="#da8d1f"/>
<path d="M655.8 55.5l3.8 .8 .7-.4-3.8-.8z" color="#d67218"/>
<path d="M659.6 56.3l3.8 .9 .7-.5-3.8-.8z" color="#d67218"/>
<path d="M663.4 57.2l3.8 .8 .8-.5-3.9-.8z" color="#da8d1f"/>
<path d="M667.2 58l3.9 .8 .7-.4-3.8-.9z" color="#cbba27"/>
<path d="M647.3 54.3l3.9 .8 .7-.4-3.8-.8z" color="#b5c327"/>
<path d="M651.2 55.1l3.8 .8 .8-.4-3.9-.8z" color="#d8b026"/>
<path d="M655 55.9l3.8 .9 .8-.5-3.8-.8z" color="#d99e22"/>
<path d="M658.8 56.8l3.9 .8 .7-.4-3.8-.9z" color="#d99e22"/>
<path d="M662.7 57.6l3.8 .8 .7-.4-3.8-.8z" color="#d8b026"/>
<path d="M666.5 58.4l3.8 .9 .8-.5-3.9-.8z" color="#b5c327"/>
<path d="M646.5 54.7l3.9 .8 .8-.4-3.9-.8z" color="#9dca28"/>
<path d="M650.4 55.5l3.8 .9 .8-.5-3.8-.8z" color="#b5c327"/>
<path d="M654.2 56.4l3.9 .8 .7-.4-3.8-.9z" color="#c1be27"/>
<path d="M658.1 57.2l3.8 .9 .8-.5-3.9-.8z" color="#c1be27"/>
<path d="M661.9 58.1l3.9 .8 .7-.5-3.8-.8z" color="#b5c327"/>
<path d="M665.8 58.9l3.8 .8 .7-.4-3.8-.9z" color="#9dca28"/>
<path d="M645.7 55.1l3.9 .9 .8-.5-3.9-.8z" color="#81ca2c"/>
<path d="M649.6 56l3.8 .8 .8-.4-3.8-.9z" color="#8aca2b"/>
<path d="M653.4 56.8l3.9 .9 .8-.5-3.9-.8z" color="#8eca2a"/>
<path d="M657.3 57.7l3.9 .8 .7-.4-3.8-.9z" color="#8eca2a"/>
<path d="M661.2 58.5l3.8 .8 .8-.4-3.9-.8z" color="#8aca2b"/>
<path d="M665 59.3l3.9 .9 .7-.5-3.8-.8z" color="#81ca2c"/>
<path d="M644.9 55.6l3.9 .8 .8-.4-3.9-.9z" color="#5fc738"/>
<path d="M648.8 56.4l3.9 .9 .7-.5-3.8-.8z" color="#53c53f"/>
<path d="M652.7 57.3l3.8 .8 .8-.4-3.9-.9z" color="#4dc442"/>
<path d="M656.5 58.1l3.9 .9 .8-.5-3.9-.8z" color="#4dc442"/>
<path d="M660.4 59l3.9 .8 .7-.5-3.8-.8z" color="#53c53f"/>
<path d="M664.3 59.8l3.9 .9 .7-.5-3.9-.9z" color="#5fc738"/>
<path d="M644.1 56l3.9 .8 .8-.4-3.9-.8z" color="#3ac24c"/>
<path d="M648 56.8l3.9 .9 .8-.4-3.9-.9z" color="#2abb68"/>
<path d="M651.9 57.7l3.9 .9 .7-.5-3.8-.8z" color="#26b678"/>
<path d="M655.8 58.6l3.9 .8 .7-.4-3.9-.9z" color="#26b678"/>
<path d="M659.7 59.4l3.8 .9 .8-.5-3.9-.8z" color="#2abb68"/>
<path d="M663.5 60.3l3.9 .8 .8-.4-3.9-.9z" color="#3ac24c"/>
<path d="M643.3 56.4l3.9 .9 .8-.5-3.9-.8z" color="#2abb68"/>
<path d="M647.2 57.3l3.9 .9 .8-.5-3.9-.9z" color="#1ead9d"/>
<path d="M651.1 58.2l3.9 .8 .8-.4-3.9-.9z" color="#21a1ac"/>
<path d="M655 59l3.9 .9 .8-.5-3.9-.8z" color="#21a1ac"/>
<path d="M658.9 59.9l3.9 .8 .7-.4-3.8-.9z" color="#1ead9d"/>
<path d="M662.8 60.7l3.9 .9 .7-.5-3.9-.8z" color="#2abb68"/>
<path d="M642.4 56.9l3.9 .8 .9-.4-3.9-.9z" color="#23b386"/>
<path d="M646.3 57.7l4 .9 .8-.4-3.9-.9z" color="#2496b7"/>
<path d="M650.3 58.6l3.9 .9 .8-.5-3.9-.8z" color="#2985c7"/>
<path d="M654.2 59.5l3.9 .8 .8-.4-3.9-.9z" color="#2985c7"/>
<path d="M658.1 60.3l3.9 .9 .8-.5-3.9-.8z" color="#2496b7"/>
<path d="M662 61.2l4 .9 .7-.5-3.9-.9z" color="#23b386"/>
<path d="M641.6 57.3l3.9 .9 .8-.5-3.9-.8z" color="#1daca1"/>
<path d="M645.5 58.2l4 .9 .8-.5-4-.9z" color="#2980c8"/>
<path d="M649.5 59.1l3.9 .8 .8-.4-3.9-.9z" color="#2a69cb"/>
<path d="M653.4 59.9l3.9 .9 .8-.5-3.9-.8z" color="#2a69cb"/>
<path d="M657.3 60.8l4 .9 .7-.5-3.9-.9z" color="#2980c8"/>
<path d="M661.3 61.7l3.9 .9 .8-.5-4-.9z" color="#1daca1"/>
<path d="M640.7 57.8l4 .8 .8-.4-3.9-.9z" color="#21a0ad"/>
<path d="M644.7 58.6l3.9 .9 .9-.4-4-.9z" color="#2a6cca"/>
<path d="M648.6 59.5l4 .9 .8-.5-3.9-.8z" color="#2649b7"/>
<path d="M652.6 60.4l3.9 .9 .8-.5-3.9-.9z" color="#2649b7"/>
<path d="M656.5 61.3l4 .9 .8-.5-4-.9z" color="#2a6cca"/>
<path d="M660.5 62.2l3.9 .9 .8-.5-3.9-.9z" color="#21a0ad"/>
<path d="M639.9 58.2l4 .9 .8-.5-4-.8z" color="#2497b7"/>
<path d="M643.9 59.1l3.9 .9 .8-.5-3.9-.9z" color="#2959c6"/>
<path d="M647.8 60l4 .9 .8-.5-4-.9z" color="#212b99"/>
<path d="M651.8 60.9l4 .9 .7-.5-3.9-.9z" color="#212b99"/>
<path d="M655.8 61.8l3.9 .9 .8-.5-4-.9z" color="#2959c6"/>
<path d="M659.7 62.7l4 .8 .7-.4-3.9-.9z" color="#2497b7"/>
<path d="M639 58.7l4 .9 .9-.5-4-.9z" color="#2690bf"/>
<path d="M643 59.6l4 .9 .8-.5-3.9-.9z" color="#2645b3"/>
<path d="M647 60.5l4 .8 .8-.4-4-.9z" color="#1b1a7b"/>
<path d="M651 61.3l4 .9 .8-.4-4-.9z" color="#1b1a7b"/>
<path d="M655 62.2l3.9 .9 .8-.4-3.9-.9z" color="#2645b3"/>
<path d="M658.9 63.1l4 .9 .8-.5-4-.8z" color="#2690bf"/>
<path d="M638.2 59.1l4 .9 .8-.4-4-.9z" color="#288bc4"/>
<path d="M642.2 60l4 .9 .8-.4-4-.9z" color="#2338a6"/>
<path d="M646.2 60.9l4 .9 .8-.5-4-.8z" color="#161164"/>
<path d="M650.2 61.8l4 .9 .8-.5-4-.9z" color="#161164"/>
<path d="M654.2 62.7l3.9 .9 .8-.5-3.9-.9z" color="#2338a6"/>
<path d="M658.1 63.6l4 .9 .8-.5-4-.9z" color="#288bc4"/>
<path d="M637.3 59.6l4 .9 .9-.5-4-.9z" color="#2988c7"/>
<path d="M641.3 60.5l4 .9 .9-.5-4-.9z" color="#22319f"/>
<path d="M645.3 61.4l4 .9 .9-.5-4-.9z" color="#140c59"/>
<path d="M649.3 62.3l4 .9 .9-.5-4-.9z" color="#140c59"/>
<path d="M653.3 63.2l4.1 .9 .7-.5-3.9-.9z" color="#22319f"/>
<path d="M657.4 64.1l4 .9 .7-.5-4-.9z" color="#2988c7"/>
<path d="M636.4 60l4.1 1 .8-.5-4-.9z" color="#2988c7"/>
<path d="M640.5 61l4 .9 .8-.5-4-.9z" color="#22319f"/>
<path d="M644.5 61.9l4 .9 .8-.5-4-.9z" color="#140c59"/>
<path d="M648.5 62.8l4 .9 .8-.5-4-.9z" color="#140c59"/>
<path d="M652.5 63.7l4 .9 .9-.5-4.1-.9z" color="#22319f"/>
<path d="M656.5 64.6l4.1 .9 .8-.5-4-.9z" color="#2988c7"/>
<path d="M635.5 60.5l4.1 .9 .9-.4-4.1-1z" color="#288bc4"/>
<path d="M639.6 61.4l4 1 .9-.5-4-.9z" color="#2338a6"/>
<path d="M643.6 62.4l4.1 .9 .8-.5-4-.9z" color="#161164"/>
<path d="M647.7 63.3l4 .9 .8-.5-4-.9z" color="#161164"/>
<path d="M651.7 64.2l4 .9 .8-.5-4-.9z" color="#2338a6"/>
<path d="M655.7 65.1l4.1 1 .8-.6-4.1-.9z" color="#288bc4"/>
<path d="M634.7 61l4 .9 .9-.5-4.1-.9z" color="#2690bf"/>
<path d="M638.7 61.9l4.1 .9 .8-.4-4-1z" color="#2645b3"/>
<path d="M642.8 62.8l4 1 .9-.5-4.1-.9z" color="#1b1a7b"/>
<path d="M646.8 63.8l4.1 .9 .8-.5-4-.9z" color="#1b1a7b"/>
<path d="M650.9 64.7l4 .9 .8-.5-4-.9z" color="#2645b3"/>
<path d="M654.9 65.6l4.1 1 .8-.5-4.1-1z" color="#2690bf"/>
<path d="M633.8 61.5l4 .9 .9-.5-4-.9z" color="#2497b7"/>
<path d="M637.8 62.4l4.1 .9 .9-.5-4.1-.9z" color="#2959c6"/>
<path d="M641.9 63.3l4.1 1 .8-.5-4-1z" color="#212b99"/>
<path d="M646 64.3l4 .9 .9-.5-4.1-.9z" color="#212b99"/>
<path d="M650 65.2l4.1 .9 .8-.5-4-.9z" color="#2959c6"/>
<path d="M654.1 66.1l4.1 1 .8-.5-4.1-1z" color="#2497b7"/>
<path d="M632.8 61.9l4.1 1 .9-.5-4-.9z" color="#21a0ad"/>
<path d="M636.9 62.9l4.1 .9 .9-.5-4.1-.9z" color="#2a6cca"/>
<path d="M641 63.8l4.1 1 .9-.5-4.1-1z" color="#2649b7"/>
<path d="M645.1 64.8l4.1 .9 .8-.5-4-.9z" color="#2649b7"/>
<path d="M649.2 65.7l4.1 1 .8-.6-4.1-.9z" color="#2a6cca"/>
<path d="M653.3 66.7l4.1 .9 .8-.5-4.1-1z" color="#21a0ad"/>
<path d="M631.9 62.4l4.1 1 .9-.5-4.1-1z" color="#1daca1"/>
<path d="M636 63.4l4.1 .9 .9-.5-4.1-.9z" color="#2980c8"/>
<path d="M640.1 64.3l4.1 1 .9-.5-4.1-1z" color="#2a69cb"/>
<path d="M644.2 65.3l4.1 .9 .9-.5-4.1-.9z" color="#2a69cb"/>
<path d="M648.3 66.2l4.1 1 .9-.5-4.1-1z" color="#2980c8"/>
<path d="M652.4 67.2l4.1 .9 .9-.5-4.1-.9z" color="#1daca1"/>
<path d="M631 62.9l4.1 1 .9-.5-4.1-1z" color="#23b386"/>
<path d="M635.1 63.9l4.2 .9 .8-.5-4.1-.9z" color="#2496b7"/>
<path d="M639.3 64.8l4.1 1 .8-.5-4.1-1z" color="#2985c7"/>
<path d="M643.4 65.8l4.1 .9 .8-.5-4.1-.9z" color="#2985c7"/>
<path d="M647.5 66.7l4.1 1 .8-.5-4.1-1z" color="#2496b7"/>
<path d="M651.6 67.7l4.1 1 .8-.6-4.1-.9z" color="#23b386"/>
<path d="M630.1 63.4l4.1 1 .9-.5-4.1-1z" color="#2abb68"/>
<path d="M634.2 64.4l4.2 .9 .9-.5-4.2-.9z" color="#1ead9d"/>
<path d="M638.4 65.3l4.1 1 .9-.5-4.1-1z" color="#21a1ac"/>
<path d="M642.5 66.3l4.1 1 .9-.6-4.1-.9z" color="#21a1ac"/>
<path d="M646.6 67.3l4.2 .9 .8-.5-4.1-1z" color="#1ead9d"/>
<path d="M650.8 68.2l4.1 1 .8-.5-4.1-1z" color="#2abb68"/>
<path d="M629.2 63.9l4.1 1 .9-.5-4.1-1z" color="#3ac24c"/>
<path d="M633.3 64.9l4.2 .9 .9-.5-4.2-.9z" color="#2abb68"/>
<path d="M637.5 65.8l4.1 1 .9-.5-4.1-1z" color="#26b678"/>
<path d="M641.6 66.8l4.2 1 .8-.5-4.1-1z" color="#26b678"/>
<path d="M645.8 67.8l4.1 1 .9-.6-4.2-.9z" color="#2abb68"/>
<path d="M649.9 68.8l4.2 .9 .8-.5-4.1-1z" color="#3ac24c"/>
<path d="M628.2 64.4l4.2 1 .9-.5-4.1-1z" color="#5fc738"/>
<path d="M632.4 65.4l4.1 1 1-.6-4.2-.9z" color="#53c53f"/>
<path d="M636.5 66.4l4.2 .9 .9-.5-4.1-1z" color="#4dc442"/>
<path d="M640.7 67.3l4.2 1 .9-.5-4.2-1z" color="#4dc442"/>
<path d="M644.9 68.3l4.1 1 .9-.5-4.1-1z" color="#53c53f"/>
<path d="M649 69.3l4.2 1 .9-.6-4.2-.9z" color="#5fc738"/>
<path d="M627.3 64.9l4.1 1 1-.5-4.2-1z" color="#81ca2c"/>
<path d="M631.4 65.9l4.2 1 .9-.5-4.1-1z" color="#8aca2b"/>
<path d="M635.6 66.9l4.2 1 .9-.6-4.2-.9z" color="#8eca2a"/>
<path d="M639.8 67.9l4.2 .9 .9-.5-4.2-1z" color="#8eca2a"/>
<path d="M644 68.8l4.2 1 .8-.5-4.1-1z" color="#8aca2b"/>
<path d="M648.2 69.8l4.2 1 .8-.5-4.2-1z" color="#81ca2c"/>
<path d="M626.3 65.4l4.2 1 .9-.5-4.1-1z" color="#9dca28"/>
<path d="M630.5 66.4l4.2 1 .9-.5-4.2-1z" color="#b5c327"/>
<path d="M634.7 67.4l4.2 1 .9-.5-4.2-1z" color="#c1be27"/>
<path d="M638.9 68.4l4.2 1 .9-.6-4.2-.9z" color="#c1be27"/>
<path d="M643.1 69.4l4.2 1 .9-.6-4.2-1z" color="#b5c327"/>
<path d="M647.3 70.4l4.2 1 .9-.6-4.2-1z" color="#9dca28"/>
<path d="M625.3 65.9l4.3 1 .9-.5-4.2-1z" color="#b5c327"/>
<path d="M629.6 66.9l4.2 1 .9-.5-4.2-1z" color="#d8b026"/>
<path d="M633.8 67.9l4.2 1 .9-.5-4.2-1z" color="#d99e22"/>
<path d="M638 68.9l4.2 1 .9-.5-4.2-1z" color="#d99e22"/>
<path d="M642.2 69.9l4.2 1 .9-.5-4.2-1z" color="#d8b026"/>
<path d="M646.4 70.9l4.2 1 .9-.5-4.2-1z" color="#b5c327"/>
<path d="M624.4 66.4l4.2 1 1-.5-4.3-1z" color="#cbba27"/>
<path d="M628.6 67.4l4.2 1 1-.5-4.2-1z" color="#da8d1f"/>
<path d="M632.8 68.4l4.3 1.1 .9-.6-4.2-1z" color="#d67218"/>
<path d="M637.1 69.5l4.2 1 .9-.6-4.2-1z" color="#d67218"/>
<path d="M641.3 70.5l4.2 1 .9-.6-4.2-1z" color="#da8d1f"/>
<path d="M645.5 71.5l4.3 1 .8-.6-4.2-1z" color="#cbba27"/>
<path d="M623.4 66.9l4.2 1.1 1-.6-4.2-1z" color="#d8ad25"/>
<path d="M627.6 68l4.3 1 .9-.6-4.2-1z" color="#d36b16"/>
<path d="M631.9 69l4.2 1 1-.5-4.3-1.1z" color="#c8480c"/>
<path d="M636.1 70l4.3 1 .9-.5-4.2-1z" color="#c8480c"/>
<path d="M640.4 71l4.2 1 .9-.5-4.2-1z" color="#d36b16"/>
<path d="M644.6 72l4.3 1.1 .9-.6-4.3-1z" color="#d8ad25"/>
<path d="M622.4 67.5l4.3 1 .9-.5-4.2-1.1z" color="#d99c22"/>
<path d="M626.7 68.5l4.2 1 1-.5-4.3-1z" color="#ca4c0d"/>
<path d="M630.9 69.5l4.3 1 .9-.5-4.2-1z" color="#b52d07"/>
<path d="M635.2 70.5l4.3 1.1 .9-.6-4.3-1z" color="#b52d07"/>
<path d="M639.5 71.6l4.2 1 .9-.6-4.2-1z" color="#ca4c0d"/>
<path d="M643.7 72.6l4.3 1 .9-.5-4.3-1.1z" color="#d99c22"/>
<path d="M621.4 68l4.3 1 1-.5-4.3-1z" color="#da8e1f"/>
<path d="M625.7 69l4.3 1.1 .9-.6-4.2-1z" color="#be3708"/>
<path d="M630 70.1l4.2 1 1-.6-4.3-1z" color="#a41804"/>
<path d="M634.2 71.1l4.3 1 1-.5-4.3-1.1z" color="#a41804"/>
<path d="M638.5 72.1l4.3 1.1 .9-.6-4.2-1z" color="#be3708"/>
<path d="M642.8 73.2l4.3 1 .9-.6-4.3-1z" color="#da8e1f"/>
<path d="M620.4 68.5l4.3 1.1 1-.6-4.3-1z" color="#db831d"/>
<path d="M624.7 69.6l4.3 1 1-.5-4.3-1.1z" color="#b32a07"/>
<path d="M629 70.6l4.3 1.1 .9-.6-4.2-1z" color="#881102"/>
<path d="M633.3 71.7l4.3 1 .9-.6-4.3-1z" color="#881102"/>
<path d="M637.6 72.7l4.3 1 .9-.5-4.3-1.1z" color="#b32a07"/>
<path d="M641.9 73.7l4.3 1.1 .9-.6-4.3-1z" color="#db831d"/>
<path d="M619.4 69.1l4.3 1 1-.5-4.3-1.1z" color="#d87b1b"/>
<path d="M623.7 70.1l4.3 1.1 1-.6-4.3-1z" color="#ab2105"/>
<path d="M628 71.2l4.3 1 1-.5-4.3-1.1z" color="#740c01"/>
<path d="M632.3 72.2l4.3 1.1 1-.6-4.3-1z" color="#740c01"/>
<path d="M636.6 73.3l4.4 1 .9-.6-4.3-1z" color="#ab2105"/>
<path d="M641 74.3l4.3 1.1 .9-.6-4.3-1.1z" color="#d87b1b"/>
<path d="M618.4 69.6l4.3 1.1 1-.6-4.3-1z" color="#d77719"/>
<path d="M622.7 70.7l4.3 1 1-.5-4.3-1.1z" color="#a71c05"/>
<path d="M627 71.7l4.4 1.1 .9-.6-4.3-1z" color="#6a0a01"/>
<path d="M631.4 72.8l4.3 1 .9-.5-4.3-1.1z" color="#6a0a01"/>
<path d="M635.7 73.8l4.3 1.1 1-.6-4.4-1z" color="#a71c05"/>
<path d="M640 74.9l4.4 1.1 .9-.6-4.3-1.1z" color="#d77719"/>
<path d="M617.3 70.2l4.4 1 1-.5-4.3-1.1z" color="#d77719"/>
<path d="M621.7 71.2l4.3 1.1 1-.6-4.3-1z" color="#a71c05"/>
<path d="M626 72.3l4.4 1.1 1-.6-4.4-1.1z" color="#6a0a01"/>
<path d="M630.4 73.4l4.3 1 1-.6-4.3-1z" color="#6a0a01"/>
<path d="M634.7 74.4l4.4 1.1 .9-.6-4.3-1.1z" color="#a71c05"/>
<path d="M639.1 75.5l4.3 1.1 1-.6-4.4-1.1z" color="#d77719"/>
<path d="M616.3 70.7l4.4 1.1 1-.6-4.4-1z" color="#d87b1b"/>
<path d="M620.7 71.8l4.3 1.1 1-.6-4.3-1.1z" color="#ab2105"/>
<path d="M625 72.9l4.4 1 1-.5-4.4-1.1z" color="#740c01"/>
<path d="M629.4 73.9l4.4 1.1 .9-.6-4.3-1z" color="#740c01"/>
<path d="M633.8 75l4.3 1.1 1-.6-4.4-1.1z" color="#ab2105"/>
<path d="M638.1 76.1l4.4 1.1 .9-.6-4.3-1.1z" color="#d87b1b"/>
<path d="M615.2 71.3l4.4 1 1.1-.5-4.4-1.1z" color="#db831d"/>
<path d="M619.6 72.3l4.4 1.1 1-.5-4.3-1.1z" color="#b32a07"/>
<path d="M624 73.4l4.4 1.1 1-.6-4.4-1z" color="#881102"/>
<path d="M628.4 74.5l4.4 1.1 1-.6-4.4-1.1z" color="#881102"/>
<path d="M632.8 75.6l4.4 1.1 .9-.6-4.3-1.1z" color="#b32a07"/>
<path d="M637.2 76.7l4.4 1.1 .9-.6-4.4-1.1z" color="#db831d"/>
<path d="M614.2 71.8l4.4 1.1 1-.6-4.4-1z" color="#da8e1f"/>
<path d="M618.6 72.9l4.4 1.1 1-.6-4.4-1.1z" color="#be3708"/>
<path d="M623 74l4.4 1.1 1-.6-4.4-1.1z" color="#a41804"/>
<path d="M627.4 75.1l4.4 1.1 1-.6-4.4-1.1z" color="#a41804"/>
<path d="M631.8 76.2l4.4 1.1 1-.6-4.4-1.1z" color="#be3708"/>
<path d="M636.2 77.3l4.4 1.1 1-.6-4.4-1.1z" color="#da8e1f"/>
<path d="M613.1 72.4l4.4 1.1 1.1-.6-4.4-1.1z" color="#d99c22"/>
<path d="M617.5 73.5l4.5 1.1 1-.6-4.4-1.1z" color="#ca4c0d"/>
<path d="M622 74.6l4.4 1.1 1-.6-4.4-1.1z" color="#b52d07"/>
<path d="M626.4 75.7l4.4 1.1 1-.6-4.4-1.1z" color="#b52d07"/>
<path d="M630.8 76.8l4.4 1.1 1-.6-4.4-1.1z" color="#ca4c0d"/>
<path d="M635.2 77.9l4.4 1.1 1-.6-4.4-1.1z" color="#d99c22"/>
<path d="M612 73l4.5 1.1 1-.6-4.4-1.1z" color="#d8ad25"/>
<path d="M616.5 74.1l4.4 1.1 1.1-.6-4.5-1.1z" color="#d36b16"/>
<path d="M620.9 75.2l4.5 1.1 1-.6-4.4-1.1z" color="#c8480c"/>
<path d="M625.4 76.3l4.4 1.1 1-.6-4.4-1.1z" color="#c8480c"/>
<path d="M629.8 77.4l4.4 1.1 1-.6-4.4-1.1z" color="#d36b16"/>
<path d="M634.2 78.5l4.5 1.1 .9-.6-4.4-1.1z" color="#d8ad25"/>
<path d="M610.9 73.5l4.5 1.1 1.1-.5-4.5-1.1z" color="#cbba27"/>
<path d="M615.4 74.6l4.5 1.2 1-.6-4.4-1.1z" color="#da8d1f"/>
<path d="M619.9 75.8l4.4 1.1 1.1-.6-4.5-1.1z" color="#d67218"/>
<path d="M624.3 76.9l4.5 1.1 1-.6-4.4-1.1z" color="#d67218"/>
<path d="M628.8 78l4.4 1.1 1-.6-4.4-1.1z" color="#da8d1f"/>
<path d="M633.2 79.1l4.5 1.1 1-.6-4.5-1.1z" color="#cbba27"/>
<path d="M609.8 74.1l4.5 1.1 1.1-.6-4.5-1.1z" color="#b5c327"/>
<path d="M614.3 75.2l4.5 1.2 1.1-.6-4.5-1.2z" color="#d8b026"/>
<path d="M618.8 76.4l4.5 1.1 1-.6-4.4-1.1z" color="#d99e22"/>
<path d="M623.3 77.5l4.5 1.1 1-.6-4.5-1.1z" color="#d99e22"/>
<path d="M627.8 78.6l4.4 1.1 1-.6-4.4-1.1z" color="#d8b026"/>
<path d="M632.2 79.7l4.5 1.2 1-.7-4.5-1.1z" color="#b5c327"/>
<path d="M608.7 74.7l4.5 1.1 1.1-.6-4.5-1.1z" color="#9dca28"/>
<path d="M613.2 75.8l4.5 1.2 1.1-.6-4.5-1.2z" color="#b5c327"/>
<path d="M617.7 77l4.5 1.1 1.1-.6-4.5-1.1z" color="#c1be27"/>
<path d="M622.2 78.1l4.5 1.1 1.1-.6-4.5-1.1z" color="#c1be27"/>
<path d="M626.7 79.2l4.5 1.2 1-.7-4.4-1.1z" color="#b5c327"/>
<path d="M631.2 80.4l4.5 1.1 1-.6-4.5-1.2z" color="#9dca28"/>
<path d="M607.6 75.3l4.5 1.1 1.1-.6-4.5-1.1z" color="#81ca2c"/>
<path d="M612.1 76.4l4.6 1.2 1-.6-4.5-1.2z" color="#8aca2b"/>
<path d="M616.7 77.6l4.5 1.1 1-.6-4.5-1.1z" color="#8eca2a"/>
<path d="M621.2 78.7l4.5 1.2 1-.7-4.5-1.1z" color="#8eca2a"/>
<path d="M625.7 79.9l4.5 1.1 1-.6-4.5-1.2z" color="#8aca2b"/>
<path d="M630.2 81l4.5 1.1 1-.6-4.5-1.1z" color="#81ca2c"/>
<path d="M606.5 75.9l4.5 1.1 1.1-.6-4.5-1.1z" color="#5fc738"/>
<path d="M611 77l4.6 1.2 1.1-.6-4.6-1.2z" color="#53c53f"/>
<path d="M615.6 78.2l4.5 1.1 1.1-.6-4.5-1.1z" color="#4dc442"/>
<path d="M620.1 79.3l4.5 1.2 1.1-.6-4.5-1.2z" color="#4dc442"/>
<path d="M624.6 80.5l4.6 1.1 1-.6-4.5-1.1z" color="#53c53f"/>
<path d="M629.2 81.6l4.5 1.2 1-.7-4.5-1.1z" color="#5fc738"/>
<path d="M605.4 76.5l4.5 1.1 1.1-.6-4.5-1.1z" color="#3ac24c"/>
<path d="M609.9 77.6l4.6 1.2 1.1-.6-4.6-1.2z" color="#2abb68"/>
<path d="M614.5 78.8l4.5 1.2 1.1-.7-4.5-1.1z" color="#26b678"/>
<path d="M619 80l4.6 1.1 1-.6-4.5-1.2z" color="#26b678"/>
<path d="M623.6 81.1l4.5 1.2 1.1-.7-4.6-1.1z" color="#2abb68"/>
<path d="M628.1 82.3l4.6 1.1 1-.6-4.5-1.2z" color="#3ac24c"/>
<path d="M604.2 77.1l4.6 1.2 1.1-.7-4.5-1.1z" color="#2abb68"/>
<path d="M608.8 78.3l4.6 1.1 1.1-.6-4.6-1.2z" color="#1ead9d"/>
<path d="M613.4 79.4l4.5 1.2 1.1-.6-4.5-1.2z" color="#21a1ac"/>
<path d="M617.9 80.6l4.6 1.2 1.1-.7-4.6-1.1z" color="#21a1ac"/>
<path d="M622.5 81.8l4.6 1.1 1-.6-4.5-1.2z" color="#1ead9d"/>
<path d="M627.1 82.9l4.6 1.2 1-.7-4.6-1.1z" color="#2abb68"/>
<path d="M603.1 77.7l4.6 1.2 1.1-.6-4.6-1.2z" color="#23b386"/>
<path d="M607.7 78.9l4.6 1.2 1.1-.7-4.6-1.1z" color="#2496b7"/>
<path d="M612.3 80.1l4.5 1.1 1.1-.6-4.5-1.2z" color="#2985c7"/>
<path d="M616.8 81.2l4.6 1.2 1.1-.6-4.6-1.2z" color="#2985c7"/>
<path d="M621.4 82.4l4.6 1.2 1.1-.7-4.6-1.1z" color="#2496b7"/>
<path d="M626 83.6l4.6 1.2 1.1-.7-4.6-1.2z" color="#23b386"/>
<path d="M601.9 78.3l4.6 1.2 1.2-.6-4.6-1.2z" color="#1daca1"/>
<path d="M606.5 79.5l4.6 1.2 1.2-.6-4.6-1.2z" color="#2980c8"/>
<path d="M611.1 80.7l4.6 1.2 1.1-.7-4.5-1.1z" color="#2a69cb"/>
<path d="M615.7 81.9l4.7 1.2 1-.7-4.6-1.2z" color="#2a69cb"/>
<path d="M620.4 83.1l4.6 1.2 1-.7-4.6-1.2z" color="#2980c8"/>
<path d="M625 84.3l4.6 1.1 1-.6-4.6-1.2z" color="#1daca1"/>
<path d="M600.7 78.9l4.7 1.2 1.1-.6-4.6-1.2z" color="#21a0ad"/>
<path d="M605.4 80.1l4.6 1.2 1.1-.6-4.6-1.2z" color="#2a6cca"/>
<path d="M610 81.3l4.6 1.2 1.1-.6-4.6-1.2z" color="#2649b7"/>
<path d="M614.6 82.5l4.7 1.2 1.1-.6-4.7-1.2z" color="#2649b7"/>
<path d="M619.3 83.7l4.6 1.2 1.1-.6-4.6-1.2z" color="#2a6cca"/>
<path d="M623.9 84.9l4.6 1.2 1.1-.7-4.6-1.1z" color="#21a0ad"/>
<path d="M599.5 79.6l4.7 1.2 1.2-.7-4.7-1.2z" color="#2497b7"/>
<path d="M604.2 80.8l4.6 1.2 1.2-.7-4.6-1.2z" color="#2959c6"/>
<path d="M608.8 82l4.7 1.2 1.1-.7-4.6-1.2z" color="#212b99"/>
<path d="M613.5 83.2l4.6 1.2 1.2-.7-4.7-1.2z" color="#212b99"/>
<path d="M618.1 84.4l4.7 1.2 1.1-.7-4.6-1.2z" color="#2959c6"/>
<path d="M622.8 85.6l4.7 1.2 1-.7-4.6-1.2z" color="#2497b7"/>
<path d="M598.3 80.2l4.7 1.2 1.2-.6-4.7-1.2z" color="#2690bf"/>
<path d="M603 81.4l4.7 1.2 1.1-.6-4.6-1.2z" color="#2645b3"/>
<path d="M607.7 82.6l4.7 1.3 1.1-.7-4.7-1.2z" color="#1b1a7b"/>
<path d="M612.4 83.9l4.6 1.2 1.1-.7-4.6-1.2z" color="#1b1a7b"/>
<path d="M617 85.1l4.7 1.2 1.1-.7-4.7-1.2z" color="#2645b3"/>
<path d="M621.7 86.3l4.7 1.2 1.1-.7-4.7-1.2z" color="#2690bf"/>
<path d="M597.1 80.9l4.7 1.2 1.2-.7-4.7-1.2z" color="#288bc4"/>
<path d="M601.8 82.1l4.7 1.2 1.2-.7-4.7-1.2z" color="#2338a6"/>
<path d="M606.5 83.3l4.7 1.2 1.2-.6-4.7-1.3z" color="#161164"/>
<path d="M611.2 84.5l4.7 1.2 1.1-.6-4.6-1.2z" color="#161164"/>
<path d="M615.9 85.7l4.7 1.3 1.1-.7-4.7-1.2z" color="#2338a6"/>
<path d="M620.6 87l4.7 1.2 1.1-.7-4.7-1.2z" color="#288bc4"/>
<path d="M595.9 81.5l4.7 1.2 1.2-.6-4.7-1.2z" color="#2988c7"/>
<path d="M600.6 82.7l4.7 1.3 1.2-.7-4.7-1.2z" color="#22319f"/>
<path d="M605.3 84l4.7 1.2 1.2-.7-4.7-1.2z" color="#140c59"/>
<path d="M610 85.2l4.8 1.2 1.1-.7-4.7-1.2z" color="#140c59"/>
<path d="M614.8 86.4l4.7 1.3 1.1-.7-4.7-1.3z" color="#22319f"/>
<path d="M619.5 87.7l4.7 1.2 1.1-.7-4.7-1.2z" color="#2988c7"/>
<clipPath id="cp3"><path d="M624.2 88.9L626.9 91.7L629.3 94.8L631.3 98.1L633.1 101.6L634.4 105.2L635.4 108.8L635.9 112.5L636.0 116.1L635.7 119.5L635.0 122.8L633.8 125.8L632.3 128.5L630.4 130.9L628.1 133.0L625.6 134.6L622.8 135.8L619.8 136.6L616.6 136.9L613.4 136.7L610.0 136.1L606.7 135.0L603.5 133.4L600.3 131.5L597.3 129.2L594.5 126.5L592.0 123.5L589.7 120.3L587.8 116.9L586.3 113.4L585.1 109.7L584.4 106.1L584.1 102.5L584.2 99.0L584.7 95.6L585.7 92.5L587.0 89.6L588.8 87.0L590.8 84.8L593.2 82.9L595.9 81.5Z"/></clipPath>
<g clip-path="url(#cp3)">
<path d="M582.8 75.3l4.5 1.2 0 7.8-4.5-1.1z" color="#156747"/>
<path d="M587.3 76.5l4.6 1.2 0 7.8-4.6-1.2z" color="#156747"/>
<path d="M591.9 77.7l4.5 1.2 0 7.8-4.5-1.2z" color="#156747"/>
<path d="M596.4 78.9l4.6 1.2 0 7.8-4.6-1.2z" color="#15536a"/>
<path d="M601 80.1l4.5 1.1 0 7.9-4.5-1.2z" color="#183472"/>
<path d="M605.5 81.2l4.5 1.2 0 7.9-4.5-1.2z" color="#131e5c"/>
<path d="M610 82.4l4.6 1.2 0 7.9-4.6-1.2z" color="#131e5c"/>
<path d="M614.6 83.6l4.5 1.2 0 7.9-4.5-1.2z" color="#183472"/>
<path d="M619.1 84.8l4.6 1.2 0 7.9-4.6-1.2z" color="#15536a"/>
<path d="M623.7 86l4.5 1.2 0 7.8-4.5-1.1z" color="#156747"/>
<path d="M628.2 87.2l4.6 1.2 0 7.8-4.6-1.2z" color="#156747"/>
<path d="M632.8 88.4l4.5 1.2 0 7.8-4.5-1.2z" color="#156747"/>
<path d="M582.8 83.2l4.5 1.1 0 5.1-4.5-1.2z" color="#226d2a"/>
<path d="M587.3 84.3l4.6 1.2 0 5.1-4.6-1.2z" color="#226d2a"/>
<path d="M591.9 85.5l4.5 1.2 0 5.1-4.5-1.2z" color="#226d2a"/>
<path d="M596.4 86.7l4.6 1.2 0 5.1-4.6-1.2z" color="#186a37"/>
<path d="M601 87.9l4.5 1.2 0 5.1-4.5-1.2z" color="#146549"/>
<path d="M605.5 89.1l4.5 1.2 0 5.1-4.5-1.2z" color="#126352"/>
<path d="M610 90.3l4.6 1.2 0 5.1-4.6-1.2z" color="#126352"/>
<path d="M614.6 91.5l4.5 1.2 0 5-4.5-1.1z" color="#146549"/>
<path d="M619.1 92.7l4.6 1.2 0 5-4.6-1.2z" color="#186a37"/>
<path d="M623.7 93.9l4.5 1.1 0 5.1-4.5-1.2z" color="#226d2a"/>
<path d="M628.2 95l4.6 1.2 0 5.1-4.6-1.2z" color="#226d2a"/>
<path d="M632.8 96.2l4.5 1.2 0 5.1-4.5-1.2z" color="#226d2a"/>
<path d="M582.8 88.2l4.5 1.2 0 5.1-4.5-1.2z" color="#2d6d23"/>
<path d="M587.3 89.4l4.6 1.2 0 5.1-4.6-1.2z" color="#2d6d23"/>
<path d="M591.9 90.6l4.5 1.2 0 5.1-4.5-1.2z" color="#2d6d23"/>
<path d="M596.4 91.8l4.6 1.2 0 5.1-4.6-1.2z" color="#266c27"/>
<path d="M601 93l4.5 1.2 0 5.1-4.5-1.2z" color="#1e6b2b"/>
<path d="M605.5 94.2l4.5 1.2 0 5.1-4.5-1.2z" color="#1a6b2d"/>
<path d="M610 95.4l4.6 1.2 0 5-4.6-1.1z" color="#1a6b2d"/>
<path d="M614.6 96.6l4.5 1.1 0 5.1-4.5-1.2z" color="#1e6b2b"/>
<path d="M619.1 97.7l4.6 1.2 0 5.1-4.6-1.2z" color="#266c27"/>
<path d="M623.7 98.9l4.5 1.2 0 5.1-4.5-1.2z" color="#2d6d23"/>
<path d="M628.2 100.1l4.6 1.2 0 5.1-4.6-1.2z" color="#2d6d23"/>
<path d="M632.8 101.3l4.5 1.2 0 5.1-4.5-1.2z" color="#2d6d23"/>
<path d="M582.8 93.3l4.5 1.2 0 5.1-4.5-1.2z" color="#336d20"/>
<path d="M587.3 94.5l4.6 1.2 0 5.1-4.6-1.2z" color="#336d20"/>
<path d="M591.9 95.7l4.5 1.2 0 5.1-4.5-1.2z" color="#336d20"/>
<path d="M596.4 96.9l4.6 1.2 0 5.1-4.6-1.2z" color="#306d21"/>
<path d="M601 98.1l4.5 1.2 0 5.1-4.5-1.2z" color="#2d6c23"/>
<path d="M605.5 99.3l4.5 1.2 0 5-4.5-1.1z" color="#2b6c24"/>
<path d="M610 100.5l4.6 1.1 0 5.1-4.6-1.2z" color="#2b6c24"/>
<path d="M614.6 101.6l4.5 1.2 0 5.1-4.5-1.2z" color="#2d6c23"/>
<path d="M619.1 102.8l4.6 1.2 0 5.1-4.6-1.2z" color="#306d21"/>
<path d="M623.7 104l4.5 1.2 0 5.1-4.5-1.2z" color="#336d20"/>
<path d="M628.2 105.2l4.6 1.2 0 5.1-4.6-1.2z" color="#336d20"/>
<path d="M632.8 106.4l4.5 1.2 0 5.1-4.5-1.2z" color="#336d20"/>
<path d="M582.8 98.4l4.5 1.2 0 5.1-4.5-1.2z" color="#366d1e"/>
<path d="M587.3 99.6l4.6 1.2 0 5.1-4.6-1.2z" color="#366d1e"/>
<path d="M591.9 100.8l4.5 1.2 0 5.1-4.5-1.2z" color="#366d1e"/>
<path d="M596.4 102l4.6 1.2 0 5.1-4.6-1.2z" color="#356c1e"/>
<path d="M601 103.2l4.5 1.2 0 5-4.5-1.1z" color="#346c1f"/>
<path d="M605.5 104.4l4.5 1.1 0 5.1-4.5-1.2z" color="#336c1f"/>
<path d="M610 105.5l4.6 1.2 0 5.1-4.6-1.2z" color="#336c1f"/>
<path d="M614.6 106.7l4.5 1.2 0 5.1-4.5-1.2z" color="#346c1f"/>
<path d="M619.1 107.9l4.6 1.2 0 5.1-4.6-1.2z" color="#356c1e"/>
<path d="M623.7 109.1l4.5 1.2 0 5.1-4.5-1.2z" color="#366d1e"/>
<path d="M628.2 110.3l4.6 1.2 0 5.1-4.6-1.2z" color="#366d1e"/>
<path d="M632.8 111.5l4.5 1.2 0 5.1-4.5-1.2z" color="#366d1e"/>
<path d="M582.8 103.5l4.5 1.2 0 5.1-4.5-1.2z" color="#386c1c"/>
<path d="M587.3 104.7l4.6 1.2 0 5.1-4.6-1.2z" color="#386c1c"/>
<path d="M591.9 105.9l4.5 1.2 0 5-4.5-1.1z" color="#386c1c"/>
<path d="M596.4 107.1l4.6 1.2 0 5-4.6-1.2z" color="#376c1c"/>
<path d="M601 108.3l4.5 1.1 0 5.1-4.5-1.2z" color="#376c1d"/>
<path d="M605.5 109.4l4.5 1.2 0 5.1-4.5-1.2z" color="#366c1d"/>
<path d="M610 110.6l4.6 1.2 0 5.1-4.6-1.2z" color="#366c1d"/>
<path d="M614.6 111.8l4.5 1.2 0 5.1-4.5-1.2z" color="#376c1d"/>
<path d="M619.1 113l4.6 1.2 0 5.1-4.6-1.2z" color="#376c1c"/>
<path d="M623.7 114.2l4.5 1.2 0 5.1-4.5-1.2z" color="#386c1c"/>
<path d="M628.2 115.4l4.6 1.2 0 5.1-4.6-1.2z" color="#386c1c"/>
<path d="M632.8 116.6l4.5 1.2 0 5-4.5-1.1z" color="#386c1c"/>
<path d="M582.8 108.6l4.5 1.2 0 5.1-4.5-1.2z" color="#396b1b"/>
<path d="M587.3 109.8l4.6 1.2 0 5-4.6-1.1z" color="#396b1b"/>
<path d="M591.9 111l4.5 1.1 0 5.1-4.5-1.2z" color="#396b1b"/>
<path d="M596.4 112.1l4.6 1.2 0 5.1-4.6-1.2z" color="#386b1b"/>
<path d="M601 113.3l4.5 1.2 0 5.1-4.5-1.2z" color="#386b1b"/>
<path d="M605.5 114.5l4.5 1.2 0 5.1-4.5-1.2z" color="#386b1b"/>
<path d="M610 115.7l4.6 1.2 0 5.1-4.6-1.2z" color="#386b1b"/>
<path d="M614.6 116.9l4.5 1.2 0 5.1-4.5-1.2z" color="#386b1b"/>
<path d="M619.1 118.1l4.6 1.2 0 5.1-4.6-1.2z" color="#386b1b"/>
<path d="M623.7 119.3l4.5 1.2 0 5.1-4.5-1.2z" color="#396b1b"/>
<path d="M628.2 120.5l4.6 1.2 0 5-4.6-1.1z" color="#396b1b"/>
<path d="M632.8 121.7l4.5 1.1 0 5.1-4.5-1.2z" color="#396b1b"/>
<path d="M582.8 113.7l4.5 1.2 0 5-4.5-1.1z" color="#396a1a"/>
<path d="M587.3 114.9l4.6 1.1 0 5.1-4.6-1.2z" color="#396a1a"/>
<path d="M591.9 116l4.5 1.2 0 5.1-4.5-1.2z" color="#396a1a"/>
<path d="M596.4 117.2l4.6 1.2 0 5.1-4.6-1.2z" color="#396a1a"/>
<path d="M601 118.4l4.5 1.2 0 5.1-4.5-1.2z" color="#396a1a"/>
<path d="M605.5 119.6l4.5 1.2 0 5.1-4.5-1.2z" color="#396a1a"/>
<path d="M610 120.8l4.6 1.2 0 5.1-4.6-1.2z" color="#396a1a"/>
<path d="M614.6 122l4.5 1.2 0 5.1-4.5-1.2z" color="#396a1a"/>
<path d="M619.1 123.2l4.6 1.2 0 5.1-4.6-1.2z" color="#396a1a"/>
<path d="M623.7 124.4l4.5 1.2 0 5-4.5-1.1z" color="#396a1a"/>
<path d="M628.2 125.6l4.6 1.1 0 5.1-4.6-1.2z" color="#396a1a"/>
<path d="M632.8 126.7l4.5 1.2 0 5.1-4.5-1.2z" color="#396a1a"/>
<path d="M582.8 118.8l4.5 1.1 0 5.1-4.5-1.2z" color="#39691a"/>
<path d="M587.3 119.9l4.6 1.2 0 5.1-4.6-1.2z" color="#39691a"/>
<path d="M591.9 121.1l4.5 1.2 0 5.1-4.5-1.2z" color="#39691a"/>
<path d="M596.4 122.3l4.6 1.2 0 5.1-4.6-1.2z" color="#39691a"/>
<path d="M601 123.5l4.5 1.2 0 5.1-4.5-1.2z" color="#39691a"/>
<path d="M605.5 124.7l4.5 1.2 0 5.1-4.5-1.2z" color="#39691a"/>
<path d="M610 125.9l4.6 1.2 0 5.1-4.6-1.2z" color="#39691a"/>
<path d="M614.6 127.1l4.5 1.2 0 5-4.5-1.1z" color="#39691a"/>
<path d="M619.1 128.3l4.6 1.2 0 5-4.6-1.2z" color="#39691a"/>
<path d="M623.7 129.5l4.5 1.1 0 5.1-4.5-1.2z" color="#39691a"/>
<path d="M628.2 130.6l4.6 1.2 0 5.1-4.6-1.2z" color="#39691a"/>
<path d="M632.8 131.8l4.5 1.2 0 5.1-4.5-1.2z" color="#39691a"/>
<path d="M582.8 123.8l4.5 1.2 0 7.9-4.5-1.2z" color="#396819"/>
<path d="M587.3 125l4.6 1.2 0 7.9-4.6-1.2z" color="#396819"/>
<path d="M591.9 126.2l4.5 1.2 0 7.9-4.5-1.2z" color="#396819"/>
<path d="M596.4 127.4l4.6 1.2 0 7.8-4.6-1.1z" color="#396819"/>
<path d="M601 128.6l4.5 1.2 0 7.8-4.5-1.2z" color="#396819"/>
<path d="M605.5 129.8l4.5 1.2 0 7.8-4.5-1.2z" color="#396819"/>
<path d="M610 131l4.6 1.2 0 7.8-4.6-1.2z" color="#396819"/>
<path d="M614.6 132.2l4.5 1.1 0 7.9-4.5-1.2z" color="#396819"/>
<path d="M619.1 133.3l4.6 1.2 0 7.9-4.6-1.2z" color="#396819"/>
<path d="M623.7 134.5l4.5 1.2 0 7.9-4.5-1.2z" color="#396819"/>
<path d="M628.2 135.7l4.6 1.2 0 7.9-4.6-1.2z" color="#396819"/>
<path d="M632.8 136.9l4.5 1.2 0 7.9-4.5-1.2z" color="#396819"/>
</g>
<path d="M648.9 41.6l17.4 4 7.5-3.6-16.8-3.7z" fill="#d6d3c6" stroke="none" fill-opacity="0.5"/>
<path d="M656.2 34.1l3.4-.4 3.4 .1 3.3 .8 3.4 1.3 3.4 2 .7-.4-3.4-2-3.3-1.3-3.4-.8-3.3-.1-3.4 .5z" color="#640800"/>
<path d="M655.4 34.6l3.4-.4 3.4 .2 3.4 .7 3.4 1.3 3.3 2 .8-.5-3.4-2-3.4-1.3-3.3-.8-3.4-.1-3.4 .4z" color="#6a0a01"/>
<path d="M654.6 35.2l3.4-.4 3.4 .3 3.4 .7 3.4 1.3 3.4 1.9 .7-.6-3.3-2-3.4-1.3-3.4-.7-3.4-.2-3.4 .4z" color="#770e02"/>
<path d="M653.8 35.9l3.4-.3 3.4 .3 3.5 .8 3.4 1.2 3.4 1.8 .7-.7-3.4-1.9-3.4-1.3-3.4-.7-3.4-.3-3.4 .4z" color="#8c1403"/>
<path d="M653 36.7l3.5-.2 3.4 .4 3.4 .8 3.4 1.2 3.4 1.6 .8-.8-3.4-1.8-3.4-1.2-3.5-.8-3.4-.3-3.4 .3z" color="#972305"/>
<path d="M652.2 37.5l3.5 .1 3.4 .4 3.4 .8 3.4 1.1 3.5 1.5 .7-.9-3.4-1.6-3.4-1.2-3.4-.8-3.4-.4-3.5 .2z" color="#a13709"/>
<path d="M651.4 38.5l3.4 .2 3.5 .5 3.4 .8 3.5 1 3.4 1.4 .8-1-3.5-1.5-3.4-1.1-3.4-.8-3.4-.4-3.5-.1z" color="#a65712"/>
<path d="M650.6 39.5l3.4 .4 3.5 .6 3.4 .8 3.5 1 3.4 1.1 .8-1-3.4-1.4-3.5-1-3.4-.8-3.5-.5-3.4-.2z" color="#a6771a"/>
<path d="M649.8 40.5l3.4 .6 3.5 .7 3.4 .8 3.5 .9 3.5 1 .7-1.1-3.4-1.1-3.5-1-3.4-.8-3.5-.6-3.4-.4z" color="#918e1d"/>
<path d="M648.9 41.6l3.5 .8 3.5 .8 3.4 .8 3.5 .8 3.5 .8 .8-1.1-3.5-1-3.5-.9-3.4-.8-3.5-.7-3.4-.6z" color="#6a951f"/>
<path d="M648.1 42.7l3.5 1 3.5 .9 3.4 .8 3.5 .7 3.5 .6 .8-1.1-3.5-.8-3.5-.8-3.4-.8-3.5-.8-3.5-.8z" color="#3c922f"/>
<path d="M647.2 43.7l3.5 1.3 3.5 1 3.5 .8 3.5 .6 3.5 .4 .8-1.1-3.5-.6-3.5-.7-3.4-.8-3.5-.9-3.5-1z" color="#1e8a52"/>
<path d="M646.4 44.8l3.5 1.4 3.5 1.1 3.5 .8 3.5 .6 3.5 .2 .8-1.1-3.5-.4-3.5-.6-3.5-.8-3.5-1-3.5-1.3z" color="#17817d"/>
<path d="M645.5 45.8l3.5 1.6 3.6 1.2 3.5 .8 3.5 .5 3.5 .1 .8-1.1-3.5-.2-3.5-.6-3.5-.8-3.5-1.1-3.5-1.4z" color="#1e7195"/>
<path d="M644.7 46.7l3.5 1.8 3.5 1.3 3.6 .8 3.5 .4 3.5-.1 .8-.9-3.5-.1-3.5-.5-3.5-.8-3.6-1.2-3.5-1.6z" color="#2261a2"/>
<path d="M643.8 47.6l3.5 1.9 3.6 1.3 3.5 .9 3.6 .3 3.5-.2 .8-.9-3.5 .1-3.5-.4-3.6-.8-3.5-1.3-3.5-1.8z" color="#2452ab"/>
<path d="M642.9 48.3l3.6 2.1 3.5 1.4 3.6 .9 3.5 .2 3.6-.3 .8-.8-3.5 .2-3.6-.3-3.5-.9-3.6-1.3-3.5-1.9z" color="#2240a0"/>
<path d="M642 49l3.6 2.1 3.5 1.5 3.6 .9 3.6 .2 3.6-.4 .8-.7-3.6 .3-3.5-.2-3.6-.9-3.5-1.4-3.6-2.1z" color="#1f2f95"/>
<path d="M641.1 49.6l3.6 2.1 3.6 1.6 3.6 .8 3.5 .3 3.6-.5 .9-.6-3.6 .4-3.6-.2-3.6-.9-3.5-1.5-3.6-2.1z" color="#1e248e"/>
<path d="M640.2 50l3.6 2.2 3.6 1.6 3.6 .8 3.6 .3 3.6-.5 .8-.5-3.6 .5-3.5-.3-3.6-.8-3.6-1.6-3.6-2.1z" color="#1e208c"/>
<path d="M639.3 50.3l3.6 2.2 3.6 1.6 3.6 .9 3.6 .2 3.6-.4 .9-.4-3.6 .5-3.6-.3-3.6-.8-3.6-1.6-3.6-2.2z" color="#1f2292"/>
<path d="M638.4 50.5l3.6 2.2 3.6 1.5 3.7 .9 3.6 .3 3.6-.4 .8-.2-3.6 .4-3.6-.2-3.6-.9-3.6-1.6-3.6-2.2z" color="#2329a2"/>
<path d="M637.5 50.6l3.6 2.1 3.6 1.5 3.7 .9 3.6 .4 3.6-.3 .9-.2-3.6 .4-3.6-.3-3.7-.9-3.6-1.5-3.6-2.2z" color="#273bb8"/>
<path d="M636.5 50.6l3.7 2 3.6 1.5 3.7 .9 3.6 .4 3.7-.2 .8 0-3.6 .3-3.6-.4-3.7-.9-3.6-1.5-3.6-2.1z" color="#2d56d7"/>
<path d="M635.6 50.5l3.7 1.9 3.6 1.4 3.7 .9 3.6 .5 3.7-.1 .9 .1-3.7 .2-3.6-.4-3.7-.9-3.6-1.5-3.7-2z" color="#3478f8"/>
<path d="M634.7 50.3l3.6 1.8 3.7 1.3 3.7 .9 3.6 .5 3.7 .2 .9 .1-3.7 .1-3.6-.5-3.7-.9-3.6-1.4-3.7-1.9z" color="#3496fb"/>
<path d="M633.7 50.1l3.7 1.5 3.7 1.3 3.7 .9 3.6 .6 3.7 .3 .9 .3-3.7-.2-3.6-.5-3.7-.9-3.7-1.3-3.6-1.8z" color="#31b9f3"/>
<path d="M632.7 49.7l3.7 1.4 3.7 1.1 3.7 1 3.7 .7 3.7 .5 .9 .3-3.7-.3-3.6-.6-3.7-.9-3.7-1.3-3.7-1.5z" color="#27dcd4"/>
<path d="M631.8 49.4l3.7 1.1 3.7 1.1 3.7 .9 3.7 .9 3.7 .7 .9 .3-3.7-.5-3.7-.7-3.7-1-3.7-1.1-3.7-1.4z" color="#35f390"/>
<path d="M630.8 49l3.7 .9 3.8 1 3.7 .9 3.7 1 3.7 1 .9 .3-3.7-.7-3.7-.9-3.7-.9-3.7-1.1-3.7-1.1z" color="#6bff54"/>
<path d="M630.8 49l18.6 4.8 16.9-8.2-17.4-4z" fill="#d6d3c6" stroke="none" fill-opacity="0.5"/>
<path d="M609.5 57.7l20.1 5.6 19.8-9.5-18.6-4.8z" fill="#d6d3c6" stroke="none" fill-opacity="0.5"/>
<path d="M629.8 48.6l3.8 .7 3.7 .9 3.7 1 3.8 1 3.7 1.2 .9 .4-3.7-1-3.7-1-3.7-.9-3.8-1-3.7-.9z" color="#bcff38"/>
<path d="M628.8 48.2l3.8 .5 3.7 .8 3.8 1 3.7 1.2 3.8 1.4 .9 .3-3.7-1.2-3.8-1-3.7-1-3.7-.9-3.8-.7z" color="#fff933"/>
<path d="M627.8 47.8l3.8 .4 3.8 .7 3.7 1 3.8 1.3 3.8 1.6 .9 .3-3.8-1.4-3.7-1.2-3.8-1-3.7-.8-3.8-.5z" color="#ffca2c"/>
<path d="M626.8 47.6l3.8 .1 3.8 .6 3.8 1 3.7 1.4 3.8 1.8 1 .3-3.8-1.6-3.8-1.3-3.7-1-3.8-.7-3.8-.4z" color="#ff8e1e"/>
<path d="M625.8 47.3l3.8 .1 3.8 .5 3.8 1 3.8 1.5 3.8 2 .9 .1-3.8-1.8-3.7-1.4-3.8-1-3.8-.6-3.8-.1z" color="#f9560e"/>
<path d="M624.8 47.2l3.8-.1 3.8 .4 3.8 1 3.8 1.6 3.8 2.2 1 .1-3.8-2-3.8-1.5-3.8-1-3.8-.5-3.8-.1z" color="#da3308"/>
<path d="M623.7 47.2l3.9-.3 3.8 .4 3.8 1.1 3.8 1.6 3.9 2.3 .9 0-3.8-2.2-3.8-1.6-3.8-1-3.8-.4-3.8 .1z" color="#bc1a04"/>
<path d="M622.7 47.3l3.8-.3 3.9 .3 3.8 1 3.9 1.7 3.8 2.4 1-.1-3.9-2.3-3.8-1.6-3.8-1.1-3.8-.4-3.9 .3z" color="#941202"/>
<path d="M621.6 47.5l3.9-.4 3.9 .4 3.8 1 3.9 1.7 3.8 2.5 1-.3-3.8-2.4-3.9-1.7-3.8-1-3.9-.3-3.8 .3z" color="#780c01"/>
<path d="M620.6 47.8l3.8-.3 3.9 .3 3.9 1 3.9 1.8 3.8 2.5 1-.4-3.8-2.5-3.9-1.7-3.8-1-3.9-.4-3.9 .4z" color="#690900"/>
<path d="M619.5 48.3l3.9-.4 3.9 .4 3.9 1 3.9 1.8 3.8 2.5 1-.5-3.8-2.5-3.9-1.8-3.9-1-3.9-.3-3.8 .3z" color="#640800"/>
<path d="M618.4 48.9l3.9-.3 3.9 .4 3.9 1.1 3.9 1.7 3.9 2.4 1-.6-3.8-2.5-3.9-1.8-3.9-1-3.9-.4-3.9 .4z" color="#6a0a01"/>
<path d="M617.3 49.7l4-.2 3.9 .4 3.9 1 3.9 1.8 3.9 2.3 1-.8-3.9-2.4-3.9-1.7-3.9-1.1-3.9-.4-3.9 .3z" color="#770e02"/>
<path d="M616.2 50.5l4-.1 3.9 .5 3.9 1.1 4 1.7 3.9 2.2 1-.9-3.9-2.3-3.9-1.8-3.9-1-3.9-.4-4 .2z" color="#8c1403"/>
<path d="M615.1 51.5l4 .1 3.9 .5 4 1.1 3.9 1.6 4 2.2 1-1.1-3.9-2.2-4-1.7-3.9-1.1-3.9-.5-4 .1z" color="#972305"/>
<path d="M614 52.6l4 .2 3.9 .7 4 1.1 4 1.5 3.9 2 1.1-1.1-4-2.2-3.9-1.6-4-1.1-3.9-.5-4-.1z" color="#a13709"/>
<path d="M612.9 53.8l4 .4 4 .8 3.9 1.1 4 1.4 4 1.8 1-1.2-3.9-2-4-1.5-4-1.1-3.9-.7-4-.2z" color="#a65712"/>
<path d="M611.8 55l4 .7 3.9 .9 4 1.1 4 1.3 4 1.6 1.1-1.3-4-1.8-4-1.4-3.9-1.1-4-.8-4-.4z" color="#a6771a"/>
<path d="M610.6 56.3l4 .9 4 1 4 1.2 4.1 1.2 4 1.4 1-1.4-4-1.6-4-1.3-4-1.1-3.9-.9-4-.7z" color="#918e1d"/>
<path d="M609.5 57.7l4 1.1 4 1.1 4 1.2 4.1 1.1 4 1.1 1.1-1.3-4-1.4-4.1-1.2-4-1.2-4-1-4-.9z" color="#6a951f"/>
<path d="M608.3 59l4 1.4 4.1 1.2 4 1.2 4.1 1 4 .9 1.1-1.4-4-1.1-4.1-1.1-4-1.2-4-1.1-4-1.1z" color="#3c922f"/>
<path d="M607.1 60.3l4.1 1.7 4 1.3 4.1 1.2 4.1 .9 4 .7 1.1-1.4-4-.9-4.1-1-4-1.2-4.1-1.2-4-1.4z" color="#1e8a52"/>
<path d="M605.9 61.6l4.1 1.9 4.1 1.5 4.1 1.2 4 .8 4.1 .5 1.1-1.4-4-.7-4.1-.9-4.1-1.2-4-1.3-4.1-1.7z" color="#17817d"/>
<path d="M604.7 62.9l4.1 2.1 4.1 1.6 4.1 1.2 4.1 .7 4.1 .3 1.1-1.3-4.1-.5-4-.8-4.1-1.2-4.1-1.5-4.1-1.9z" color="#1e7195"/>
<path d="M603.5 64.1l4.1 2.2 4.1 1.8 4.2 1.2 4.1 .6 4.1 .1 1.1-1.2-4.1-.3-4.1-.7-4.1-1.2-4.1-1.6-4.1-2.1z" color="#2261a2"/>
<path d="M602.3 65.2l4.1 2.4 4.2 1.8 4.1 1.2 4.1 .6 4.1-.1 1.2-1.1-4.1-.1-4.1-.6-4.2-1.2-4.1-1.8-4.1-2.2z" color="#2452ab"/>
<path d="M601.1 66.1l4.1 2.6 4.2 1.9 4.1 1.2 4.2 .6 4.1-.2 1.1-1.1-4.1 .1-4.1-.6-4.1-1.2-4.2-1.8-4.1-2.4z" color="#2240a0"/>
<path d="M599.8 67l4.2 2.7 4.1 2 4.2 1.2 4.2 .5 4.1-.3 1.2-.9-4.1 .2-4.2-.6-4.1-1.2-4.2-1.9-4.1-2.6z" color="#1f2f95"/>
<path d="M598.6 67.8l4.1 2.7 4.2 2 4.2 1.3 4.2 .4 4.2-.3 1.1-.8-4.1 .3-4.2-.5-4.2-1.2-4.1-2-4.2-2.7z" color="#1e248e"/>
<path d="M597.3 68.4l4.2 2.8 4.2 2 4.2 1.2 4.2 .5 4.2-.3 1.2-.7-4.2 .3-4.2-.4-4.2-1.3-4.2-2-4.1-2.7z" color="#1e208c"/>
<path d="M597.3 62.6l21 6.2 11.3-5.5-20.1-5.6z" fill="#d6d3c6" stroke="none" fill-opacity="0.5"/></g>
<text x="631.6" y="171.7" font-family="Liberation Serif, serif" font-size="14" letter-spacing="0.3" text-anchor="middle" fill="#1a1a1a">(<tspan font-style="italic">i</tspan>)</text>
<g stroke-width="0.5" fill="none">
<line x1="596.5" y1="161.6" x2="596.2" y2="152.6" stroke="#b8f0b8"/>
<line x1="596.5" y1="161.6" x2="601.1" y2="158.3" stroke="#ece27a"/>
<line x1="596.5" y1="161.6" x2="605.1" y2="163.7" stroke="#ff8a8a" stroke-dasharray="1.1 0.7"/>
</g>
<circle cx="596.1" cy="151.8" r="1.15" fill="#22cc33"/>
<circle cx="601.0" cy="158.3" r="0.85" fill="#d4c81c"/>
<circle cx="605.6" cy="163.9" r="1.15" fill="#ee2222"/>
<g stroke="#555" stroke-width="0.45" fill="none"><path d="M597.1 150.3h1.3l-1.3 1.5h1.3M602.1 156.0l.7 .9m.7-.9l-1.2 1.9M606.5 161.8l1.5 1.6m0-1.6l-1.5 1.6"/></g>
<g fill="currentColor" stroke="currentColor" stroke-width="0.7" stroke-linejoin="round"><path d="M397.9 230.1l2.3-1.9-.2 .5-2.3 1.9z" color="#2855be"/>
<path d="M397.7 230.6l2.3-1.9-.2 .5-2.3 1.9z" color="#2756b8"/>
<path d="M397.5 231.1l2.3-1.9-.2 .5-2.3 1.9z" color="#2352a9"/>
<path d="M397.3 231.6l2.3-1.9-.2 .5-2.4 1.9z" color="#204d98"/>
<path d="M397 232.1l2.4-1.9-.3 .5-2.3 1.9z" color="#1c4786"/>
<path d="M396.8 232.6l2.3-1.9-.3 .5-2.3 1.9z" color="#183f72"/>
<path d="M396.5 233.1l2.3-1.9-.3 .4-2.3 2z" color="#13355e"/>
<path d="M395.5 232l2.4-1.9-.2 .5-2.4 1.9z" color="#286ac2"/>
<path d="M395.3 232.5l2.4-1.9-.2 .5-2.4 2z" color="#2667b6"/>
<path d="M395.1 233.1l2.4-2-.2 .5-2.4 2z" color="#2361a7"/>
<path d="M394.9 233.6l2.4-2-.3 .5-2.4 2z" color="#1f5a96"/>
<path d="M394.6 234.1l2.4-2-.2 .5-2.4 2z" color="#1b5284"/>
<path d="M394.4 234.6l2.4-2-.3 .5-2.4 1.9z" color="#174871"/>
<path d="M394.1 235l2.4-1.9-.3 .5-2.4 1.9z" color="#133d5d"/>
<path d="M393.1 234l2.4-2-.2 .5-2.4 2z" color="#248bb6"/>
<path d="M392.9 234.5l2.4-2-.2 .6-2.4 1.9z" color="#2285a9"/>
<path d="M392.7 235l2.4-1.9-.2 .5-2.5 1.9z" color="#1e7c99"/>
<path d="M392.4 235.5l2.5-1.9-.3 .5-2.4 1.9z" color="#1b7288"/>
<path d="M392.2 236l2.4-1.9-.2 .5-2.5 1.9z" color="#176676"/>
<path d="M391.9 236.5l2.5-1.9-.3 .4-2.4 2z" color="#135864"/>
<path d="M391.7 237l2.4-2-.3 .5-2.4 2z" color="#104a51"/>
<path d="M390.6 236l2.5-2-.2 .5-2.5 2z" color="#23ae79"/>
<path d="M390.4 236.5l2.5-2-.2 .5-2.5 2z" color="#22a46f"/>
<path d="M390.2 237l2.5-2-.3 .5-2.4 2.1z" color="#1f9764"/>
<path d="M390 237.6l2.4-2.1-.2 .5-2.5 2.1z" color="#1d8958"/>
<path d="M389.7 238.1l2.5-2.1-.3 .5-2.5 2.1z" color="#1a794c"/>
<path d="M389.4 238.6l2.5-2.1-.2 .5-2.5 2z" color="#166840"/>
<path d="M389.2 239l2.5-2-.3 .5-2.5 2z" color="#135633"/>
<path d="M388 238l2.6-2-.2 .5-2.5 2z" color="#6ec22d"/>
<path d="M387.9 238.5l2.5-2-.2 .5-2.6 2.1z" color="#67b62a"/>
<path d="M387.6 239.1l2.6-2.1-.2 .6-2.6 2z" color="#5fa827"/>
<path d="M387.4 239.6l2.6-2-.3 .5-2.5 2z" color="#569723"/>
<path d="M387.2 240.1l2.5-2-.3 .5-2.5 2z" color="#4c851f"/>
<path d="M386.9 240.6l2.5-2-.2 .4-2.6 2.1z" color="#41721a"/>
<path d="M386.6 241.1l2.6-2.1-.3 .5-2.6 2.1z" color="#355e16"/>
<path d="M385.5 240.1l2.5-2.1-.1 .5-2.6 2.1z" color="#beb525"/>
<path d="M385.3 240.6l2.6-2.1-.3 .6-2.6 2.1z" color="#b0ab23"/>
<path d="M385 241.2l2.6-2.1-.2 .5-2.6 2.1z" color="#a19e20"/>
<path d="M384.8 241.7l2.6-2.1-.2 .5-2.6 2.1z" color="#8f8f1d"/>
<path d="M384.6 242.2l2.6-2.1-.3 .5-2.6 2.1z" color="#7d7e1a"/>
<path d="M384.3 242.7l2.6-2.1-.3 .5-2.6 2.1z" color="#6a6d16"/>
<path d="M384 243.2l2.6-2.1-.3 .5-2.6 2.1z" color="#565a12"/>
<path d="M382.8 242.2l2.7-2.1-.2 .5-2.7 2.2z" color="#d3801c"/>
<path d="M382.6 242.8l2.7-2.2-.3 .6-2.6 2.1z" color="#c67b1b"/>
<path d="M382.4 243.3l2.6-2.1-.2 .5-2.6 2.2z" color="#b6751a"/>
<path d="M382.2 243.9l2.6-2.2-.2 .5-2.7 2.2z" color="#a46c18"/>
<path d="M381.9 244.4l2.7-2.2-.3 .5-2.7 2.2z" color="#906115"/>
<path d="M381.6 244.9l2.7-2.2-.3 .5-2.7 2.2z" color="#7b5513"/>
<path d="M381.3 245.4l2.7-2.2-.3 .5-2.7 2.2z" color="#654710"/>
<path d="M380.1 244.4l2.7-2.2-.2 .6-2.7 2.2z" color="#c34c0e"/>
<path d="M379.9 245l2.7-2.2-.2 .5-2.7 2.2z" color="#b94d0e"/>
<path d="M379.7 245.5l2.7-2.2-.2 .6-2.8 2.2z" color="#ab4b0e"/>
<path d="M379.4 246.1l2.8-2.2-.3 .5-2.7 2.2z" color="#9c480e"/>
<path d="M379.2 246.6l2.7-2.2-.3 .5-2.7 2.2z" color="#8a430d"/>
<path d="M378.9 247.1l2.7-2.2-.3 .5-2.7 2.2z" color="#773c0c"/>
<path d="M378.6 247.6l2.7-2.2-.3 .5-2.7 2.2z" color="#63330b"/>
<path d="M377.3 246.6l2.8-2.2-.2 .6-2.8 2.2z" color="#b73508"/>
<path d="M377.1 247.2l2.8-2.2-.2 .5-2.8 2.3z" color="#af3608"/>
<path d="M376.9 247.8l2.8-2.3-.3 .6-2.7 2.2z" color="#a43508"/>
<path d="M376.7 248.3l2.7-2.2-.2 .5-2.8 2.2z" color="#953408"/>
<path d="M376.4 248.8l2.8-2.2-.3 .5-2.8 2.3z" color="#853208"/>
<path d="M376.1 249.4l2.8-2.3-.3 .5-2.8 2.3z" color="#732e08"/>
<path d="M375.8 249.9l2.8-2.3-.3 .5-2.8 2.3z" color="#5f2807"/>
<path d="M374.5 248.9l2.8-2.3-.2 .6-2.8 2.3z" color="#b73508"/>
<path d="M374.3 249.5l2.8-2.3-.2 .6-2.8 2.3z" color="#af3608"/>
<path d="M374.1 250.1l2.8-2.3-.2 .5-2.9 2.3z" color="#a43508"/>
<path d="M373.8 250.6l2.9-2.3-.3 .5-2.8 2.4z" color="#953408"/>
<path d="M373.6 251.2l2.8-2.4-.3 .6-2.8 2.3z" color="#853208"/>
<path d="M373.3 251.7l2.8-2.3-.3 .5-2.8 2.3z" color="#732e08"/>
<path d="M373 252.2l2.8-2.3-.3 .5-2.8 2.3z" color="#5f2807"/>
<path d="M371.6 251.3l2.9-2.4-.2 .6-2.9 2.3z" color="#c34c0e"/>
<path d="M371.4 251.8l2.9-2.3-.2 .6-2.9 2.3z" color="#b94d0e"/>
<path d="M371.2 252.4l2.9-2.3-.3 .5-2.9 2.4z" color="#ab4b0e"/>
<path d="M370.9 253l2.9-2.4-.2 .6-2.9 2.3z" color="#9c480e"/>
<path d="M370.7 253.5l2.9-2.3-.3 .5-2.9 2.3z" color="#8a430d"/>
<path d="M370.4 254l2.9-2.3-.3 .5-2.9 2.4z" color="#773c0c"/>
<path d="M370.1 254.6l2.9-2.4-.3 .5-3 2.4z" color="#63330b"/>
<path d="M368.6 253.7l3-2.4-.2 .5-3 2.4z" color="#d3801c"/>
<path d="M368.4 254.2l3-2.4-.2 .6-3 2.4z" color="#c67b1b"/>
<path d="M368.2 254.8l3-2.4-.3 .6-3 2.4z" color="#b6751a"/>
<path d="M367.9 255.4l3-2.4-.2 .5-3 2.4z" color="#a46c18"/>
<path d="M367.7 255.9l3-2.4-.3 .5-3 2.5z" color="#906115"/>
<path d="M367.4 256.5l3-2.5-.3 .6-3 2.4z" color="#7b5513"/>
<path d="M367.1 257l3-2.4-.4 .5-2.9 2.4z" color="#654710"/>
<path d="M365.6 256.1l3-2.4-.2 .5-3 2.5z" color="#beb525"/>
<path d="M365.4 256.7l3-2.5-.2 .6-3.1 2.5z" color="#b0ab23"/>
<path d="M365.1 257.3l3.1-2.5-.3 .6-3 2.5z" color="#a19e20"/>
<path d="M364.9 257.9l3-2.5-.2 .5-3.1 2.5z" color="#8f8f1d"/>
<path d="M364.6 258.4l3.1-2.5-.3 .6-3.1 2.4z" color="#7d7e1a"/>
<path d="M364.3 258.9l3.1-2.4-.3 .5-3.1 2.5z" color="#6a6d16"/>
<path d="M364 259.5l3.1-2.5-.3 .5-3.1 2.5z" color="#565a12"/>
<path d="M362.5 258.6l3.1-2.5-.2 .6-3.2 2.5z" color="#6ec22d"/>
<path d="M362.2 259.2l3.2-2.5-.3 .6-3.1 2.5z" color="#67b62a"/>
<path d="M362 259.8l3.1-2.5-.2 .6-3.1 2.5z" color="#5fa827"/>
<path d="M361.8 260.4l3.1-2.5-.3 .5-3.1 2.5z" color="#569723"/>
<path d="M361.5 260.9l3.1-2.5-.3 .5-3.1 2.6z" color="#4c851f"/>
<path d="M361.2 261.5l3.1-2.6-.3 .6-3.1 2.5z" color="#41721a"/>
<path d="M360.9 262l3.1-2.5-.3 .5-3.1 2.5z" color="#355e16"/>
<path d="M359.3 261.2l3.2-2.6-.3 .6-3.1 2.6z" color="#23ae79"/>
<path d="M359.1 261.8l3.1-2.6-.2 .6-3.2 2.6z" color="#22a46f"/>
<path d="M358.8 262.4l3.2-2.6-.2 .6-3.2 2.6z" color="#1f9764"/>
<path d="M358.6 263l3.2-2.6-.3 .5-3.2 2.6z" color="#1d8958"/>
<path d="M358.3 263.5l3.2-2.6-.3 .6-3.2 2.6z" color="#1a794c"/>
<path d="M358 264.1l3.2-2.6-.3 .5-3.2 2.6z" color="#166840"/>
<path d="M357.7 264.6l3.2-2.6-.3 .5-3.3 2.6z" color="#135633"/>
<path d="M356 263.8l3.3-2.6-.2 .6-3.3 2.6z" color="#248bb6"/>
<path d="M355.8 264.4l3.3-2.6-.3 .6-3.3 2.6z" color="#2285a9"/>
<path d="M355.5 265l3.3-2.6-.2 .6-3.3 2.6z" color="#1e7c99"/>
<path d="M355.3 265.6l3.3-2.6-.3 .5-3.3 2.7z" color="#1b7288"/>
<path d="M355 266.2l3.3-2.7-.3 .6-3.3 2.7z" color="#176676"/>
<path d="M354.7 266.8l3.3-2.7-.3 .5-3.3 2.7z" color="#135864"/>
<path d="M354.4 267.3l3.3-2.7-.4 .5-3.3 2.7z" color="#104a51"/>
<path d="M352.6 266.5l3.4-2.7-.2 .6-3.4 2.7z" color="#286ac2"/>
<path d="M352.4 267.1l3.4-2.7-.3 .6-3.3 2.8z" color="#2667b6"/>
<path d="M352.2 267.8l3.3-2.8-.2 .6-3.4 2.7z" color="#2361a7"/>
<path d="M351.9 268.3l3.4-2.7-.3 .6-3.4 2.7z" color="#1f5a96"/>
<path d="M351.6 268.9l3.4-2.7-.3 .6-3.4 2.7z" color="#1b5284"/>
<path d="M351.3 269.5l3.4-2.7-.3 .5-3.4 2.7z" color="#174871"/>
<path d="M351 270l3.4-2.7-.4 .5-3.3 2.8z" color="#133d5d"/>
<path d="M349.2 269.3l3.4-2.8-.2 .6-3.4 2.8z" color="#2855be"/>
<path d="M349 269.9l3.4-2.8-.2 .7-3.5 2.7z" color="#2756b8"/>
<path d="M348.7 270.5l3.5-2.7-.3 .5-3.4 2.8z" color="#2352a9"/>
<path d="M348.5 271.1l3.4-2.8-.3 .6-3.4 2.8z" color="#204d98"/>
<path d="M348.2 271.7l3.4-2.8-.3 .6-3.4 2.8z" color="#1c4786"/>
<path d="M347.9 272.3l3.4-2.8-.3 .5-3.4 2.8z" color="#183f72"/>
<path d="M347.6 272.8l3.4-2.8-.3 .6-3.5 2.8z" color="#13355e"/>
<path d="M363.2 221.4l35.8 7.7 1.2-.9-35.7-7.6z" color="#2853c0"/>
<path d="M361.8 222.2l36.1 7.9 1.1-1-35.8-7.7z" color="#2a5ac7"/>
<path d="M360.5 223.1l36.2 7.9 1.2-.9-36.1-7.9z" color="#2a65cb"/>
<path d="M359.1 223.9l36.4 8.1 1.2-1-36.2-7.9z" color="#2a73c9"/>
<path d="M357.7 224.8l36.6 8.2 1.2-1-36.4-8.1z" color="#2986c7"/>
<path d="M356.3 225.6l36.8 8.4 1.2-1-36.6-8.2z" color="#239ab4"/>
<path d="M354.9 226.5l36.9 8.4 1.3-.9-36.8-8.4z" color="#1fae99"/>
<path d="M353.5 227.4l37.1 8.6 1.2-1.1-36.9-8.4z" color="#2abb66"/>
<path d="M352.1 228.3l37.2 8.7 1.3-1-37.1-8.6z" color="#54c53e"/>
<path d="M350.6 229.2l37.4 8.8 1.3-1-37.2-8.7z" color="#89ca2b"/>
<path d="M349.1 230.1l37.7 8.9 1.2-1-37.4-8.8z" color="#b4c427"/>
<path d="M347.6 231l37.9 9.1 1.3-1.1-37.7-8.9z" color="#d7b327"/>
<path d="M346.1 231.9l38 9.2 1.4-1-37.9-9.1z" color="#da9220"/>
<path d="M344.6 232.8l38.2 9.4 1.3-1.1-38-9.2z" color="#d67318"/>
<path d="M343.1 233.8l38.4 9.5 1.3-1.1-38.2-9.4z" color="#cd5811"/>
<path d="M341.5 234.8l38.6 9.6 1.4-1.1-38.4-9.5z" color="#c7430a"/>
<path d="M339.9 235.7l38.8 9.8 1.4-1.1-38.6-9.6z" color="#bf3809"/>
<path d="M338.3 236.7l39 9.9 1.4-1.1-38.8-9.8z" color="#bb3308"/>
<path d="M336.7 237.7l39.2 10.1 1.4-1.2-39-9.9z" color="#bb3308"/>
<path d="M335.1 238.7l39.4 10.2 1.4-1.1-39.2-10.1z" color="#bf3809"/>
<path d="M333.5 239.7l39.5 10.4 1.5-1.2-39.4-10.2z" color="#c7430a"/>
<path d="M331.8 240.7l39.8 10.6 1.4-1.2-39.5-10.4z" color="#cd5811"/>
<path d="M330.1 241.8l40 10.7 1.5-1.2-39.8-10.6z" color="#d67318"/>
<path d="M328.4 242.8l40.2 10.9 1.5-1.2-40-10.7z" color="#da9220"/>
<path d="M326.7 243.9l40.4 11 1.5-1.2-40.2-10.9z" color="#d7b327"/>
<path d="M324.9 245l40.7 11.1 1.5-1.2-40.4-11z" color="#b4c427"/>
<path d="M323.1 246.1l40.9 11.3 1.6-1.3-40.7-11.1z" color="#89ca2b"/>
<path d="M321.4 247.2l41.1 11.4 1.5-1.2-40.9-11.3z" color="#54c53e"/>
<path d="M319.5 248.3l41.4 11.6 1.6-1.3-41.1-11.4z" color="#2abb66"/>
<path d="M317.7 249.4l41.6 11.8 1.6-1.3-41.4-11.6z" color="#1fae99"/>
<path d="M315.8 250.6l41.8 11.9 1.7-1.3-41.6-11.8z" color="#239ab4"/>
<path d="M314 251.7l42 12.1 1.6-1.3-41.8-11.9z" color="#2986c7"/>
<path d="M312.1 252.9l42.2 12.3 1.7-1.4-42-12.1z" color="#2a73c9"/>
<path d="M310.1 254.1l42.5 12.4 1.7-1.3-42.2-12.3z" color="#2a65cb"/>
<path d="M308.2 255.3l42.7 12.6 1.7-1.4-42.5-12.4z" color="#2a5ac7"/>
<path d="M306.2 256.5l43 12.8 1.7-1.4-42.7-12.6z" color="#2853c0"/>
<clipPath id="cp4"><path d="M349.2 269.3L348.7 270.5L348.2 271.7L347.6 272.8L346.9 273.9L346.1 274.8L345.2 275.7L344.3 276.5L343.3 277.3L342.2 277.9L341.1 278.5L339.9 279.0L338.7 279.3L337.4 279.6L336.1 279.8L334.8 279.9L333.4 279.9L332.0 279.8L330.6 279.6L329.1 279.3L327.7 279.0L326.3 278.5L324.8 277.9L323.4 277.3L322.0 276.5L320.6 275.7L319.3 274.8L318.0 273.8L316.7 272.8L315.5 271.7L314.3 270.5L313.2 269.3L312.1 268.0L311.1 266.7L310.2 265.3L309.3 263.9L308.5 262.4L307.8 261.0L307.2 259.5L306.7 258.0L306.2 256.5Z"/></clipPath>
<g clip-path="url(#cp4)">
<path d="M304.1 253.6l47.2 14.1 0 3.8-47.2-14z" color="#152a62"/>
<path d="M304.1 257.5l47.2 14 0 1.6-47.2-14z" color="#163468"/>
<path d="M304.1 259.1l47.2 14 0 1.6-47.2-14z" color="#153866"/>
<path d="M304.1 260.7l47.2 14 0 1.6-47.2-14z" color="#153b64"/>
<path d="M304.1 262.3l47.2 14 0 1.6-47.2-14z" color="#143f63"/>
<path d="M304.1 263.9l47.2 14 0 1.6-47.2-14z" color="#144261"/>
<path d="M304.1 265.5l47.2 14 0 1.6-47.2-14z" color="#13445e"/>
<path d="M304.1 267.1l47.2 14 0 1.7-47.2-14.1z" color="#12475a"/>
<path d="M304.1 268.7l47.2 14.1 0 1.6-47.2-14.1z" color="#114856"/>
<path d="M304.1 270.3l47.2 14.1 0 3.8-47.2-14z" color="#0f4c51"/>
</g>
<path d="M360.1 214.3l39 8.6 1.1-.8-38.8-8.5z" color="#2a58ca"/>
<path d="M358.9 214.8l39 8.7 1.2-.6-39-8.6z" color="#2d62d8"/>
<path d="M357.6 215.1l39.1 8.8 1.2-.4-39-8.7z" color="#2f71e2"/>
<path d="M356.3 215.4l39.2 8.9 1.2-.4-39.1-8.8z" color="#3084e6"/>
<path d="M354.9 215.5l39.5 9 1.1-.2-39.2-8.9z" color="#309de9"/>
<path d="M353.6 215.5l39.5 9.1 1.3-.1-39.5-9z" color="#2ab7d6"/>
<path d="M352.3 215.4l39.6 9.2 1.2 0-39.5-9.1z" color="#25d3b8"/>
<path d="M350.9 215.3l39.8 9.3 1.2 0-39.6-9.2z" color="#33e47c"/>
<path d="M349.5 215.1l39.9 9.4 1.3 .1-39.8-9.3z" color="#67f24c"/>
<path d="M349.5 215.1l39.9 9.4 10.8-7.7-38.8-8.5z" fill="#d6d3c6" stroke="none" fill-opacity="0.5"/>
<path d="M321.9 230.9l42.5 11.5 25-17.9-39.9-9.4z" fill="#d6d3c6" stroke="none" fill-opacity="0.5"/>
<path d="M348.1 214.9l40.1 9.5 1.2 .1-39.9-9.4z" color="#a8f735"/>
<path d="M346.7 214.8l40.2 9.6 1.3 0-40.1-9.5z" color="#daee2f"/>
<path d="M345.3 214.7l40.3 9.7 1.3 0-40.2-9.6z" color="#ffd92f"/>
<path d="M343.9 214.7l40.4 9.8 1.3-.1-40.3-9.7z" color="#ffaf26"/>
<path d="M342.4 214.8l40.6 9.9 1.3-.2-40.4-9.8z" color="#fa871d"/>
<path d="M340.9 215l40.8 10.1 1.3-.4-40.6-9.9z" color="#eb6513"/>
<path d="M339.4 215.4l40.9 10.2 1.4-.5-40.8-10.1z" color="#dd4b0c"/>
<path d="M337.9 216l41.1 10.3 1.3-.7-40.9-10.2z" color="#cf3d09"/>
<path d="M336.4 216.7l41.2 10.5 1.4-.9-41.1-10.3z" color="#c43608"/>
<path d="M334.9 217.7l41.3 10.5 1.4-1-41.2-10.5z" color="#be3408"/>
<path d="M333.3 218.8l41.5 10.7 1.4-1.3-41.3-10.5z" color="#bc3708"/>
<path d="M331.7 220.1l41.7 10.8 1.4-1.4-41.5-10.7z" color="#bd400a"/>
<path d="M330.1 221.6l41.8 10.9 1.5-1.6-41.7-10.8z" color="#bd510f"/>
<path d="M328.5 223.2l42 11 1.4-1.7-41.8-10.9z" color="#bf6816"/>
<path d="M326.9 225l42.1 11.1 1.5-1.9-42-11z" color="#be801c"/>
<path d="M325.3 226.9l42.2 11.3 1.5-2.1-42.1-11.1z" color="#b89921"/>
<path d="M323.6 228.8l42.4 11.5 1.5-2.1-42.2-11.3z" color="#97a521"/>
<path d="M321.9 230.9l42.5 11.5 1.6-2.1-42.4-11.5z" color="#73a924"/>
<path d="M320.2 232.9l42.7 11.7 1.5-2.2-42.5-11.5z" color="#46a534"/>
<path d="M318.4 235l42.9 11.8 1.6-2.2-42.7-11.7z" color="#249e56"/>
<path d="M316.7 237l43 11.9 1.6-2.1-42.9-11.8z" color="#1a9583"/>
<path d="M314.9 238.9l43.2 12.1 1.6-2.1-43-11.9z" color="#1f869d"/>
<path d="M313.1 240.7l43.4 12.2 1.6-1.9-43.2-12.1z" color="#2478b2"/>
<path d="M311.3 242.4l43.6 12.4 1.6-1.9-43.4-12.2z" color="#266bb9"/>
<path d="M309.5 244l43.7 12.5 1.7-1.7-43.6-12.4z" color="#2861c1"/>
<path d="M307.6 245.4l43.9 12.6 1.7-1.5-43.7-12.5z" color="#2959c4"/>
<path d="M305.7 246.6l44.1 12.8 1.7-1.4-43.9-12.6z" color="#2955c3"/>
<path d="M305.7 240.1l44.1 12.8 14.6-10.5-42.5-11.5z" fill="#d6d3c6" stroke="none" fill-opacity="0.5"/></g>
<text x="349.7" y="322.4" font-family="Liberation Serif, serif" font-size="14" letter-spacing="0.3" text-anchor="middle" fill="#1a1a1a">(<tspan font-style="italic">d</tspan>)</text>
<g stroke-width="0.5" fill="none">
<line x1="312.3" y1="304.4" x2="312.0" y2="295.4" stroke="#b8f0b8"/>
<line x1="312.3" y1="304.4" x2="316.9" y2="301.1" stroke="#ece27a"/>
<line x1="312.3" y1="304.4" x2="320.9" y2="306.5" stroke="#ff8a8a" stroke-dasharray="1.1 0.7"/>
</g>
<circle cx="311.9" cy="294.6" r="1.15" fill="#22cc33"/>
<circle cx="316.8" cy="301.1" r="0.85" fill="#d4c81c"/>
<circle cx="321.4" cy="306.7" r="1.15" fill="#ee2222"/>
<g stroke="#555" stroke-width="0.45" fill="none"><path d="M312.9 293.1h1.3l-1.3 1.5h1.3M317.9 298.8l.7 .9m.7-.9l-1.2 1.9M322.3 304.6l1.5 1.6m0-1.6l-1.5 1.6"/></g>
<g fill="currentColor" stroke="currentColor" stroke-width="0.7" stroke-linejoin="round"><path d="M532.9 219.9l2.2-1.7 .8 2.8-2.2 1.7z" color="#2868bf"/>
<path d="M533.7 222.7l2.2-1.7 .4 2.8-2.2 1.8z" color="#227ea7"/>
<path d="M534.1 225.6l2.2-1.8 0 2.7-2.2 1.8z" color="#198785"/>
<path d="M534.1 228.3l2.2-1.8-.3 2.7-2.2 1.8z" color="#1a8562"/>
<path d="M533.8 231l2.2-1.8-.7 2.5-2.2 1.9z" color="#1c7d46"/>
<path d="M533.1 233.6l2.2-1.9-1.1 2.3-2.2 1.9z" color="#1c7332"/>
<path d="M532 235.9l2.2-1.9-1.4 2.1-2.2 1.9z" color="#206728"/>
<path d="M530.6 238l2.2-1.9-1.7 1.8-2.2 1.9z" color="#225b20"/>
<path d="M528.9 239.8l2.2-1.9-2 1.5-2.3 1.9z" color="#204e19"/>
<path d="M530.6 221.6l2.3-1.7 .8 2.8-2.3 1.8z" color="#2777bd"/>
<path d="M531.4 224.5l2.3-1.8 .4 2.9-2.2 1.8z" color="#1e889c"/>
<path d="M531.9 227.4l2.2-1.8 0 2.7-2.2 1.9z" color="#198d7b"/>
<path d="M531.9 230.2l2.2-1.9-.3 2.7-2.2 1.9z" color="#1c8758"/>
<path d="M531.6 232.9l2.2-1.9-.7 2.6-2.3 1.9z" color="#1d7f3f"/>
<path d="M530.8 235.5l2.3-1.9-1.1 2.3-2.3 1.9z" color="#20742f"/>
<path d="M529.7 237.8l2.3-1.9-1.4 2.1-2.3 1.9z" color="#246826"/>
<path d="M528.3 239.9l2.3-1.9-1.7 1.8-2.3 2z" color="#245b1e"/>
<path d="M526.6 241.8l2.3-2-2.1 1.5-2.3 2z" color="#214e18"/>
<path d="M528.3 223.4l2.3-1.8 .8 2.9-2.3 1.8z" color="#2193a8"/>
<path d="M529.1 226.3l2.3-1.8 .5 2.9-2.3 1.8z" color="#1b9985"/>
<path d="M529.6 229.2l2.3-1.8 0 2.8-2.3 1.9z" color="#1f9460"/>
<path d="M529.6 232.1l2.3-1.9-.3 2.7-2.3 1.9z" color="#208c45"/>
<path d="M529.3 234.8l2.3-1.9-.8 2.6-2.3 1.9z" color="#248134"/>
<path d="M528.5 237.4l2.3-1.9-1.1 2.3-2.3 2z" color="#29752a"/>
<path d="M527.4 239.8l2.3-2-1.4 2.1-2.3 2z" color="#2a6922"/>
<path d="M526 241.9l2.3-2-1.7 1.9-2.4 2z" color="#285c1c"/>
<path d="M524.2 243.8l2.4-2-2.1 1.5-2.4 2z" color="#254e17"/>
<path d="M526 225.2l2.3-1.8 .8 2.9-2.3 1.9z" color="#25ae6c"/>
<path d="M526.8 228.2l2.3-1.9 .5 2.9-2.4 1.9z" color="#27a64f"/>
<path d="M527.2 231.1l2.4-1.9 0 2.9-2.3 1.9z" color="#2e9c3e"/>
<path d="M527.3 234l2.3-1.9-.3 2.7-2.4 2z" color="#359133"/>
<path d="M526.9 236.8l2.4-2-.8 2.6-2.3 2z" color="#37842a"/>
<path d="M526.2 239.4l2.3-2-1.1 2.4-2.4 2z" color="#367724"/>
<path d="M525 241.8l2.4-2-1.4 2.1-2.4 2.1z" color="#336a1e"/>
<path d="M523.6 244l2.4-2.1-1.8 1.9-2.4 2z" color="#2e5d19"/>
<path d="M521.8 245.8l2.4-2-2.1 1.5-2.4 2.1z" color="#294f15"/>
<path d="M523.6 227.1l2.4-1.9 .8 3-2.4 1.9z" color="#6cbf2c"/>
<path d="M524.4 230.1l2.4-1.9 .4 2.9-2.4 2z" color="#64b129"/>
<path d="M524.8 233.1l2.4-2 .1 2.9-2.5 2z" color="#5ca326"/>
<path d="M524.8 236l2.5-2-.4 2.8-2.4 2z" color="#559522"/>
<path d="M524.5 238.8l2.4-2-.7 2.6-2.5 2.1z" color="#4d871f"/>
<path d="M523.7 241.5l2.5-2.1-1.2 2.4-2.4 2.1z" color="#45791c"/>
<path d="M522.6 243.9l2.4-2.1-1.4 2.2-2.5 2.1z" color="#3d6b19"/>
<path d="M521.1 246.1l2.5-2.1-1.8 1.8-2.5 2.2z" color="#355e16"/>
<path d="M519.3 248l2.5-2.2-2.1 1.6-2.5 2.1z" color="#2d5012"/>
<path d="M521.1 229l2.5-1.9 .8 3-2.5 2z" color="#b2b525"/>
<path d="M521.9 232.1l2.5-2 .4 3-2.5 2z" color="#96ae22"/>
<path d="M522.3 235.1l2.5-2 0 2.9-2.4 2z" color="#7fa320"/>
<path d="M522.4 238l2.4-2-.3 2.8-2.5 2.1z" color="#6c951f"/>
<path d="M522 240.9l2.5-2.1-.8 2.7-2.4 2.1z" color="#5d871d"/>
<path d="M521.3 243.6l2.4-2.1-1.1 2.4-2.5 2.1z" color="#50791a"/>
<path d="M520.1 246l2.5-2.1-1.5 2.2-2.5 2.1z" color="#446b18"/>
<path d="M518.6 248.2l2.5-2.1-1.8 1.9-2.5 2.1z" color="#3a5e15"/>
<path d="M516.8 250.1l2.5-2.1-2.1 1.5-2.5 2.2z" color="#315012"/>
<path d="M518.5 231l2.6-2 .8 3.1-2.5 2z" color="#ce8d1f"/>
<path d="M519.4 234.1l2.5-2 .4 3-2.5 2z" color="#bd9e22"/>
<path d="M519.8 237.1l2.5-2 .1 2.9-2.6 2.1z" color="#9b9a1f"/>
<path d="M519.8 240.1l2.6-2.1-.4 2.9-2.5 2.1z" color="#80921d"/>
<path d="M519.5 243l2.5-2.1-.7 2.7-2.6 2.1z" color="#6b871b"/>
<path d="M518.7 245.7l2.6-2.1-1.2 2.4-2.5 2.2z" color="#597919"/>
<path d="M517.6 248.2l2.5-2.2-1.5 2.2-2.6 2.2z" color="#4b6b17"/>
<path d="M516 250.4l2.6-2.2-1.8 1.9-2.6 2.2z" color="#3f5e14"/>
<path d="M514.2 252.3l2.6-2.2-2.1 1.6-2.7 2.2z" color="#345011"/>
<path d="M515.9 233l2.6-2 .9 3.1-2.6 2z" color="#c76214"/>
<path d="M516.8 236.1l2.6-2 .4 3-2.6 2.1z" color="#bf821c"/>
<path d="M517.2 239.2l2.6-2.1 0 3-2.6 2.2z" color="#ae911f"/>
<path d="M517.2 242.3l2.6-2.2-.3 2.9-2.6 2.2z" color="#8e8d1d"/>
<path d="M516.9 245.2l2.6-2.2-.8 2.7-2.6 2.2z" color="#74851a"/>
<path d="M516.1 247.9l2.6-2.2-1.1 2.5-2.7 2.2z" color="#607918"/>
<path d="M514.9 250.4l2.7-2.2-1.6 2.2-2.6 2.3z" color="#506b16"/>
<path d="M513.4 252.7l2.6-2.3-1.8 1.9-2.7 2.3z" color="#425e14"/>
<path d="M511.5 254.6l2.7-2.3-2.2 1.6-2.7 2.3z" color="#365011"/>
<path d="M513.2 235.1l2.7-2.1 .9 3.1-2.7 2.1z" color="#bf4b0d"/>
<path d="M514.1 238.2l2.7-2.1 .4 3.1-2.7 2.2z" color="#c07319"/>
<path d="M514.5 241.4l2.7-2.2 0 3.1-2.6 2.2z" color="#af871d"/>
<path d="M514.6 244.5l2.6-2.2-.3 2.9-2.7 2.2z" color="#958a1d"/>
<path d="M514.2 247.4l2.7-2.2-.8 2.7-2.7 2.3z" color="#79831a"/>
<path d="M513.4 250.2l2.7-2.3-1.2 2.5-2.7 2.3z" color="#647917"/>
<path d="M512.2 252.7l2.7-2.3-1.5 2.3-2.7 2.3z" color="#526b16"/>
<path d="M510.7 255l2.7-2.3-1.9 1.9-2.7 2.4z" color="#445e13"/>
<path d="M508.8 257l2.7-2.4-2.2 1.6-2.7 2.4z" color="#375011"/>
<path d="M510.5 237.2l2.7-2.1 .9 3.1-2.8 2.2z" color="#bf4b0d"/>
<path d="M511.3 240.4l2.8-2.2 .4 3.2-2.7 2.2z" color="#c07319"/>
<path d="M511.8 243.6l2.7-2.2 .1 3.1-2.8 2.2z" color="#af871d"/>
<path d="M511.8 246.7l2.8-2.2-.4 2.9-2.7 2.3z" color="#958a1d"/>
<path d="M511.5 249.7l2.7-2.3-.8 2.8-2.7 2.3z" color="#79831a"/>
<path d="M510.7 252.5l2.7-2.3-1.2 2.5-2.7 2.4z" color="#647917"/>
<path d="M509.5 255.1l2.7-2.4-1.5 2.3-2.8 2.4z" color="#526b16"/>
<path d="M507.9 257.4l2.8-2.4-1.9 2-2.8 2.4z" color="#445e13"/>
<path d="M506 259.4l2.8-2.4-2.2 1.6-2.9 2.4z" color="#375011"/>
<path d="M507.6 239.4l2.9-2.2 .8 3.2-2.8 2.2z" color="#c76214"/>
<path d="M508.5 242.6l2.8-2.2 .5 3.2-2.8 2.3z" color="#bf821c"/>
<path d="M509 245.9l2.8-2.3 0 3.1-2.8 2.3z" color="#ae911f"/>
<path d="M509 249l2.8-2.3-.3 3-2.8 2.4z" color="#8e8d1d"/>
<path d="M508.7 252.1l2.8-2.4-.8 2.8-2.9 2.4z" color="#74851a"/>
<path d="M507.8 254.9l2.9-2.4-1.2 2.6-2.9 2.4z" color="#607918"/>
<path d="M506.6 257.5l2.9-2.4-1.6 2.3-2.9 2.4z" color="#506b16"/>
<path d="M505 259.8l2.9-2.4-1.9 2-2.9 2.4z" color="#425e14"/>
<path d="M503.1 261.8l2.9-2.4-2.3 1.6-2.9 2.5z" color="#365011"/>
<path d="M504.7 241.6l2.9-2.2 .9 3.2-2.9 2.3z" color="#ce8d1f"/>
<path d="M505.6 244.9l2.9-2.3 .5 3.3-2.9 2.3z" color="#bd9e22"/>
<path d="M506.1 248.2l2.9-2.3 0 3.1-2.9 2.4z" color="#9b9a1f"/>
<path d="M506.1 251.4l2.9-2.4-.3 3.1-2.9 2.4z" color="#80921d"/>
<path d="M505.8 254.5l2.9-2.4-.9 2.8-2.9 2.5z" color="#6b871b"/>
<path d="M504.9 257.4l2.9-2.5-1.2 2.6-2.9 2.5z" color="#597919"/>
<path d="M503.7 260l2.9-2.5-1.6 2.3-2.9 2.5z" color="#4b6b17"/>
<path d="M502.1 262.3l2.9-2.5-1.9 2-3 2.6z" color="#3f5e14"/>
<path d="M500.1 264.4l3-2.6-2.3 1.7-3 2.5z" color="#345011"/>
<path d="M501.8 243.9l2.9-2.3 .9 3.3-2.9 2.4z" color="#b2b525"/>
<path d="M502.7 247.3l2.9-2.4 .5 3.3-3 2.4z" color="#96ae22"/>
<path d="M503.1 250.6l3-2.4 0 3.2-2.9 2.5z" color="#7fa320"/>
<path d="M503.2 253.9l2.9-2.5-.3 3.1-3 2.5z" color="#6c951f"/>
<path d="M502.8 257l3-2.5-.9 2.9-2.9 2.5z" color="#5d871d"/>
<path d="M502 259.9l2.9-2.5-1.2 2.6-3 2.5z" color="#50791a"/>
<path d="M500.7 262.5l3-2.5-1.6 2.3-3 2.6z" color="#446b18"/>
<path d="M499.1 264.9l3-2.6-2 2.1-3 2.6z" color="#3a5e15"/>
<path d="M497.1 267l3-2.6-2.3 1.6-3 2.6z" color="#315012"/>
<path d="M498.7 246.3l3.1-2.4 .9 3.4-3.1 2.4z" color="#6cbf2c"/>
<path d="M499.6 249.7l3.1-2.4 .4 3.3-3 2.5z" color="#64b129"/>
<path d="M500.1 253.1l3-2.5 .1 3.3-3.1 2.5z" color="#5ca326"/>
<path d="M500.1 256.4l3.1-2.5-.4 3.1-3.1 2.5z" color="#559522"/>
<path d="M499.7 259.5l3.1-2.5-.8 2.9-3.1 2.6z" color="#4d871f"/>
<path d="M498.9 262.5l3.1-2.6-1.3 2.6-3.1 2.7z" color="#45791c"/>
<path d="M497.6 265.2l3.1-2.7-1.6 2.4-3.1 2.7z" color="#3d6b19"/>
<path d="M496 267.6l3.1-2.7-2 2.1-3.1 2.6z" color="#355e16"/>
<path d="M494 269.6l3.1-2.6-2.3 1.6-3.2 2.7z" color="#2d5012"/>
<path d="M495.5 248.8l3.2-2.5 .9 3.4-3.1 2.5z" color="#25ae6c"/>
<path d="M496.5 252.2l3.1-2.5 .5 3.4-3.1 2.5z" color="#27a64f"/>
<path d="M497 255.6l3.1-2.5 0 3.3-3.1 2.6z" color="#2e9c3e"/>
<path d="M497 259l3.1-2.6-.4 3.1-3.1 2.6z" color="#359133"/>
<path d="M496.6 262.1l3.1-2.6-.8 3-3.2 2.6z" color="#37842a"/>
<path d="M495.7 265.1l3.2-2.6-1.3 2.7-3.1 2.7z" color="#367724"/>
<path d="M494.5 267.9l3.1-2.7-1.6 2.4-3.2 2.7z" color="#336a1e"/>
<path d="M492.8 270.3l3.2-2.7-2 2-3.3 2.8z" color="#2e5d19"/>
<path d="M490.7 272.4l3.3-2.8-2.4 1.7-3.2 2.8z" color="#294f15"/>
<path d="M492.3 251.3l3.2-2.5 1 3.4-3.3 2.6z" color="#2193a8"/>
<path d="M493.2 254.8l3.3-2.6 .5 3.4-3.3 2.6z" color="#1b9985"/>
<path d="M493.7 258.2l3.3-2.6 0 3.4-3.2 2.6z" color="#1f9460"/>
<path d="M493.8 261.6l3.2-2.6-.4 3.1-3.2 2.8z" color="#208c45"/>
<path d="M493.4 264.9l3.2-2.8-.9 3-3.2 2.8z" color="#248134"/>
<path d="M492.5 267.9l3.2-2.8-1.2 2.8-3.3 2.8z" color="#29752a"/>
<path d="M491.2 270.7l3.3-2.8-1.7 2.4-3.3 2.8z" color="#2a6922"/>
<path d="M489.5 273.1l3.3-2.8-2.1 2.1-3.3 2.8z" color="#285c1c"/>
<path d="M487.4 275.2l3.3-2.8-2.3 1.7-3.4 2.8z" color="#254e17"/>
<path d="M488.9 253.8l3.4-2.5 .9 3.5-3.3 2.6z" color="#2777bd"/>
<path d="M489.9 257.4l3.3-2.6 .5 3.4-3.3 2.7z" color="#1e889c"/>
<path d="M490.4 260.9l3.3-2.7 .1 3.4-3.4 2.8z" color="#198d7b"/>
<path d="M490.4 264.4l3.4-2.8-.4 3.3-3.4 2.7z" color="#1c8758"/>
<path d="M490 267.6l3.4-2.7-.9 3-3.3 2.8z" color="#1d7f3f"/>
<path d="M489.2 270.7l3.3-2.8-1.3 2.8-3.3 2.8z" color="#20742f"/>
<path d="M487.9 273.5l3.3-2.8-1.7 2.4-3.4 2.9z" color="#246826"/>
<path d="M486.1 276l3.4-2.9-2.1 2.1-3.4 2.9z" color="#245b1e"/>
<path d="M484 278.1l3.4-2.9-2.4 1.7-3.4 3z" color="#214e18"/>
<path d="M485.5 256.5l3.4-2.7 1 3.6-3.4 2.7z" color="#2868bf"/>
<path d="M486.5 260.1l3.4-2.7 .5 3.5-3.4 2.8z" color="#227ea7"/>
<path d="M487 263.7l3.4-2.8 0 3.5-3.4 2.8z" color="#198785"/>
<path d="M487 267.2l3.4-2.8-.4 3.2-3.4 2.9z" color="#1a8562"/>
<path d="M486.6 270.5l3.4-2.9-.8 3.1-3.5 2.9z" color="#1c7d46"/>
<path d="M485.7 273.6l3.5-2.9-1.3 2.8-3.5 3z" color="#1c7332"/>
<path d="M484.4 276.5l3.5-3-1.8 2.5-3.5 3z" color="#206728"/>
<path d="M482.6 279l3.5-3-2.1 2.1-3.5 3z" color="#225b20"/>
<path d="M480.5 281.1l3.5-3-2.4 1.8-3.6 3z" color="#204e19"/>
<path d="M494.7 210.7l39.3 8.3 1.1-.8-39.1-8.2z" color="#2853c0"/>
<path d="M493.4 211.5l39.5 8.4 1.1-.9-39.3-8.3z" color="#2a5ac7"/>
<path d="M492 212.2l39.8 8.6 1.1-.9-39.5-8.4z" color="#2a65cb"/>
<path d="M490.7 213l39.9 8.6 1.2-.8-39.8-8.6z" color="#2a73c9"/>
<path d="M489.3 213.7l40.2 8.8 1.1-.9-39.9-8.6z" color="#2986c7"/>
<path d="M487.9 214.5l40.4 8.9 1.2-.9-40.2-8.8z" color="#239ab4"/>
<path d="M486.5 215.3l40.7 9 1.1-.9-40.4-8.9z" color="#1fae99"/>
<path d="M485.1 216.1l40.9 9.1 1.2-.9-40.7-9z" color="#2abb66"/>
<path d="M483.7 216.9l41.1 9.3 1.2-1-40.9-9.1z" color="#54c53e"/>
<path d="M482.2 217.7l41.4 9.4 1.2-.9-41.1-9.3z" color="#89ca2b"/>
<path d="M480.7 218.5l41.6 9.6 1.3-1-41.4-9.4z" color="#b4c427"/>
<path d="M479.2 219.3l41.9 9.7 1.2-.9-41.6-9.6z" color="#d7b327"/>
<path d="M477.7 220.2l42.1 9.8 1.3-1-41.9-9.7z" color="#da9220"/>
<path d="M476.2 221l42.3 10 1.3-1-42.1-9.8z" color="#d67318"/>
<path d="M474.6 221.9l42.6 10.1 1.3-1-42.3-10z" color="#cd5811"/>
<path d="M473.1 222.8l42.8 10.2 1.3-1-42.6-10.1z" color="#c7430a"/>
<path d="M471.5 223.7l43.1 10.3 1.3-1-42.8-10.2z" color="#bf3809"/>
<path d="M469.8 224.6l43.4 10.5 1.4-1.1-43.1-10.3z" color="#bb3308"/>
<path d="M468.2 225.5l43.7 10.6 1.3-1-43.4-10.5z" color="#bb3308"/>
<path d="M466.6 226.4l43.9 10.8 1.4-1.1-43.7-10.6z" color="#bf3809"/>
<path d="M464.9 227.3l44.2 11 1.4-1.1-43.9-10.8z" color="#c7430a"/>
<path d="M463.2 228.3l44.4 11.1 1.5-1.1-44.2-11z" color="#cd5811"/>
<path d="M461.4 229.2l44.8 11.3 1.4-1.1-44.4-11.1z" color="#d67318"/>
<path d="M459.7 230.2l45 11.4 1.5-1.1-44.8-11.3z" color="#da9220"/>
<path d="M457.9 231.2l45.4 11.6 1.4-1.2-45-11.4z" color="#d7b327"/>
<path d="M456.1 232.2l45.7 11.7 1.5-1.1-45.4-11.6z" color="#b4c427"/>
<path d="M454.3 233.2l45.9 11.9 1.6-1.2-45.7-11.7z" color="#89ca2b"/>
<path d="M452.5 234.2l46.2 12.1 1.5-1.2-45.9-11.9z" color="#54c53e"/>
<path d="M450.6 235.3l46.5 12.2 1.6-1.2-46.2-12.1z" color="#2abb66"/>
<path d="M448.7 236.3l46.8 12.5 1.6-1.3-46.5-12.2z" color="#1fae99"/>
<path d="M446.8 237.4l47.1 12.6 1.6-1.2-46.8-12.5z" color="#239ab4"/>
<path d="M444.8 238.5l47.5 12.8 1.6-1.3-47.1-12.6z" color="#2986c7"/>
<path d="M442.8 239.6l47.8 12.9 1.7-1.2-47.5-12.8z" color="#2a73c9"/>
<path d="M440.8 240.7l48.1 13.1 1.7-1.3-47.8-12.9z" color="#2a65cb"/>
<path d="M438.8 241.8l48.4 13.4 1.7-1.4-48.1-13.1z" color="#2a5ac7"/>
<path d="M436.7 243l48.8 13.5 1.7-1.3-48.4-13.4z" color="#2853c0"/>
<clipPath id="cp5"><path d="M485.5 256.5L486.2 259.1L486.7 261.6L487.0 264.2L487.1 266.7L486.8 269.1L486.4 271.4L485.7 273.6L484.8 275.7L483.7 277.6L482.4 279.3L480.8 280.9L479.1 282.2L477.3 283.3L475.2 284.2L473.1 284.9L470.8 285.3L468.5 285.4L466.1 285.4L463.6 285.0L461.1 284.5L458.6 283.7L456.1 282.6L453.7 281.4L451.4 279.9L449.1 278.2L447.0 276.4L444.9 274.4L443.1 272.2L441.4 269.9L439.8 267.5L438.5 265.1L437.4 262.6L436.5 260.0L435.8 257.4L435.4 254.8L435.1 252.3L435.2 249.8L435.5 247.5L436.0 245.2L436.7 243.0Z"/></clipPath>
<g clip-path="url(#cp5)">
<path d="M433.8 239.6l54.6 15.1 0 6.1-54.6-15.1z" color="#183371"/>
<path d="M433.8 245.7l54.6 15.1 0 3.4-54.6-15.1z" color="#16516b"/>
<path d="M433.8 249.1l54.6 15.1 0 3.5-54.6-15.1z" color="#115d5c"/>
<path d="M433.8 252.6l54.6 15.1 0 3.5-54.6-15.1z" color="#136349"/>
<path d="M433.8 256.1l54.6 15.1 0 3.4-54.6-15z" color="#176638"/>
<path d="M433.8 259.6l54.6 15 0 3.5-54.6-15.1z" color="#19672c"/>
<path d="M433.8 263l54.6 15.1 0 3.5-54.6-15.1z" color="#226827"/>
<path d="M433.8 266.5l54.6 15.1 0 3.5-54.6-15.1z" color="#286823"/>
<path d="M433.8 270l54.6 15.1 0 3.4-54.6-15.1z" color="#2d6720"/>
<path d="M433.8 273.4l54.6 15.1 0 6.1-54.6-15.1z" color="#31671d"/>
</g>
<path d="M493.6 203.6l40.4 7.3 1.1-.7-40.2-7.2z" color="#2a58ca"/>
<path d="M492.3 204l40.6 7.5 1.1-.6-40.4-7.3z" color="#2d62d8"/>
<path d="M491 204.3l40.7 7.6 1.2-.4-40.6-7.5z" color="#2f71e2"/>
<path d="M489.7 204.5l40.9 7.7 1.1-.3-40.7-7.6z" color="#3084e6"/>
<path d="M488.3 204.6l41.1 7.8 1.2-.2-40.9-7.7z" color="#309de9"/>
<path d="M487 204.6l41.2 7.9 1.2-.1-41.1-7.8z" color="#2ab7d6"/>
<path d="M485.6 204.6l41.5 8 1.1-.1-41.2-7.9z" color="#25d3b8"/>
<path d="M484.2 204.5l41.6 8.1 1.3 0-41.5-8z" color="#33e47c"/>
<path d="M482.8 204.3l41.8 8.3 1.2 0-41.6-8.1z" color="#67f24c"/>
<path d="M482.8 204.3l41.8 8.3 10.5-6.8-40.2-7.2z" fill="#d6d3c6" stroke="none" fill-opacity="0.5"/>
<path d="M454 217.9l45.7 10.9 24.9-16.2-41.8-8.3z" fill="#d6d3c6" stroke="none" fill-opacity="0.5"/>
<path d="M481.4 204.2l42 8.4 1.2 0-41.8-8.3z" color="#a8f735"/>
<path d="M479.9 204.1l42.2 8.5 1.3 0-42-8.4z" color="#daee2f"/>
<path d="M478.4 204l42.5 8.7 1.2-.1-42.2-8.5z" color="#ffd92f"/>
<path d="M476.9 204l42.7 8.8 1.3-.1-42.5-8.7z" color="#ffaf26"/>
<path d="M475.4 204.1l42.9 8.9 1.3-.2-42.7-8.8z" color="#fa871d"/>
<path d="M473.9 204.3l43.1 9.1 1.3-.4-42.9-8.9z" color="#eb6513"/>
<path d="M472.4 204.7l43.2 9.2 1.4-.5-43.1-9.1z" color="#dd4b0c"/>
<path d="M470.8 205.1l43.5 9.4 1.3-.6-43.2-9.2z" color="#cf3d09"/>
<path d="M469.2 205.8l43.7 9.5 1.4-.8-43.5-9.4z" color="#c43608"/>
<path d="M467.6 206.6l43.9 9.6 1.4-.9-43.7-9.5z" color="#be3408"/>
<path d="M466 207.6l44.1 9.7 1.4-1.1-43.9-9.6z" color="#bc3708"/>
<path d="M464.4 208.7l44.3 9.9 1.4-1.3-44.1-9.7z" color="#bd400a"/>
<path d="M462.7 209.9l44.6 10.1 1.4-1.4-44.3-9.9z" color="#bd510f"/>
<path d="M461 211.3l44.8 10.3 1.5-1.6-44.6-10.1z" color="#bf6816"/>
<path d="M459.3 212.9l45 10.3 1.5-1.6-44.8-10.3z" color="#be801c"/>
<path d="M457.5 214.5l45.3 10.5 1.5-1.8-45-10.3z" color="#b89921"/>
<path d="M455.8 216.2l45.5 10.7 1.5-1.9-45.3-10.5z" color="#97a521"/>
<path d="M454 217.9l45.7 10.9 1.6-1.9-45.5-10.7z" color="#73a924"/>
<path d="M452.2 219.7l46 11 1.5-1.9-45.7-10.9z" color="#46a534"/>
<path d="M450.3 221.5l46.3 11.2 1.6-2-46-11z" color="#249e56"/>
<path d="M448.5 223.2l46.5 11.4 1.6-1.9-46.3-11.2z" color="#1a9583"/>
<path d="M446.6 224.9l46.7 11.5 1.7-1.8-46.5-11.4z" color="#1f869d"/>
<path d="M444.7 226.5l47 11.7 1.6-1.8-46.7-11.5z" color="#2478b2"/>
<path d="M442.7 228l47.3 11.9 1.7-1.7-47-11.7z" color="#266bb9"/>
<path d="M440.7 229.4l47.6 12 1.7-1.5-47.3-11.9z" color="#2861c1"/>
<path d="M438.7 230.6l47.9 12.2 1.7-1.4-47.6-12z" color="#2959c4"/>
<path d="M436.7 231.7l48.1 12.4 1.8-1.3-47.9-12.2z" color="#2955c3"/>
<path d="M436.7 226.1l48.1 12.4 14.9-9.7-45.7-10.9z" fill="#d6d3c6" stroke="none" fill-opacity="0.5"/></g>
<text x="483" y="321.7" font-family="Liberation Serif, serif" font-size="14" letter-spacing="0.3" text-anchor="middle" fill="#1a1a1a">(<tspan font-style="italic">e</tspan>)</text>
<g stroke-width="0.5" fill="none">
<line x1="445.2" y1="309.3" x2="444.9" y2="300.3" stroke="#b8f0b8"/>
<line x1="445.2" y1="309.3" x2="449.8" y2="306.0" stroke="#ece27a"/>
<line x1="445.2" y1="309.3" x2="453.8" y2="311.4" stroke="#ff8a8a" stroke-dasharray="1.1 0.7"/>
</g>
<circle cx="444.8" cy="299.5" r="1.15" fill="#22cc33"/>
<circle cx="449.7" cy="306.0" r="0.85" fill="#d4c81c"/>
<circle cx="454.3" cy="311.6" r="1.15" fill="#ee2222"/>
<g stroke="#555" stroke-width="0.45" fill="none"><path d="M445.8 298.0h1.3l-1.3 1.5h1.3M450.8 303.7l.7 .9m.7-.9l-1.2 1.9M455.2 309.5l1.5 1.6m0-1.6l-1.5 1.6"/></g>
<g fill="currentColor" stroke="currentColor" stroke-width="0.7" stroke-linejoin="round"><path d="M669.4 199.3l1.3-1 2.6 3.2-1.3 1z" color="#1da59e"/>
<path d="M672 202.5l1.3-1 2.1 3.6-1.3 1z" color="#23ac73"/>
<path d="M674.1 206.1l1.3-1 1.5 3.8-1.3 1.1z" color="#28ac55"/>
<path d="M675.6 210l1.3-1.1 .9 3.9-1.3 1.1z" color="#30a943"/>
<path d="M676.5 213.9l1.3-1.1 .3 3.9-1.3 1.1z" color="#3aa33a"/>
<path d="M676.8 217.8l1.3-1.1-.4 3.8-1.3 1.1z" color="#3e9b33"/>
<path d="M676.4 221.6l1.3-1.1-.9 3.5-1.3 1.2z" color="#40932d"/>
<path d="M675.5 225.2l1.3-1.2-1.6 3.2-1.3 1.2z" color="#408a29"/>
<path d="M673.9 228.4l1.3-1.2-2.2 2.7-1.3 1.2z" color="#3e8024"/>
<path d="M671.7 231.1l1.3-1.2-2.6 2.2-1.3 1.2z" color="#3a7621"/>
<path d="M668 200.2l1.4-.9 2.6 3.2-1.4 1z" color="#1ca89b"/>
<path d="M670.6 203.5l1.4-1 2.1 3.6-1.4 1.1z" color="#24ad6f"/>
<path d="M672.7 207.2l1.4-1.1 1.5 3.9-1.3 1z" color="#29ad52"/>
<path d="M674.3 211l1.3-1 .9 3.9-1.3 1.1z" color="#32a942"/>
<path d="M675.2 215l1.3-1.1 .3 3.9-1.3 1.2z" color="#3ba339"/>
<path d="M675.5 219l1.3-1.2-.4 3.8-1.3 1.2z" color="#409c33"/>
<path d="M675.1 222.8l1.3-1.2-.9 3.6-1.4 1.2z" color="#41932d"/>
<path d="M674.1 226.4l1.4-1.2-1.6 3.2-1.4 1.2z" color="#408a28"/>
<path d="M672.5 229.6l1.4-1.2-2.2 2.7-1.3 1.2z" color="#3e8124"/>
<path d="M670.4 232.3l1.3-1.2-2.6 2.2-1.4 1.2z" color="#3b7620"/>
<path d="M666.6 201.2l1.4-1 2.6 3.3-1.3 1z" color="#1fab8f"/>
<path d="M669.3 204.5l1.3-1 2.1 3.7-1.3 1z" color="#26af67"/>
<path d="M671.4 208.2l1.3-1 1.6 3.8-1.4 1.1z" color="#2aaf4c"/>
<path d="M672.9 212.1l1.4-1.1 .9 4-1.3 1.1z" color="#37aa40"/>
<path d="M673.9 216.1l1.3-1.1 .3 4-1.3 1.1z" color="#3ea338"/>
<path d="M674.2 220.1l1.3-1.1-.4 3.8-1.3 1.1z" color="#429c31"/>
<path d="M673.8 223.9l1.3-1.1-1 3.6-1.3 1.1z" color="#43932c"/>
<path d="M672.8 227.5l1.3-1.1-1.6 3.2-1.3 1.2z" color="#428a28"/>
<path d="M671.2 230.8l1.3-1.2-2.1 2.7-1.4 1.2z" color="#3f8124"/>
<path d="M669 233.5l1.4-1.2-2.7 2.2-1.4 1.2z" color="#3c7720"/>
<path d="M665.2 202.2l1.4-1 2.7 3.3-1.4 1.1z" color="#23af7d"/>
<path d="M667.9 205.6l1.4-1.1 2.1 3.7-1.4 1.1z" color="#29b25b"/>
<path d="M670 209.3l1.4-1.1 1.5 3.9-1.3 1.1z" color="#31b047"/>
<path d="M671.6 213.2l1.3-1.1 1 4-1.4 1.1z" color="#3dab3d"/>
<path d="M672.5 217.2l1.4-1.1 .3 4-1.4 1.1z" color="#43a435"/>
<path d="M672.8 221.2l1.4-1.1-.4 3.8-1.3 1.2z" color="#459c30"/>
<path d="M672.5 225.1l1.3-1.2-1 3.6-1.3 1.2z" color="#45942b"/>
<path d="M671.5 228.7l1.3-1.2-1.6 3.3-1.4 1.2z" color="#448b27"/>
<path d="M669.8 232l1.4-1.2-2.2 2.7-1.4 1.3z" color="#418123"/>
<path d="M667.6 234.8l1.4-1.3-2.7 2.2-1.4 1.3z" color="#3d771f"/>
<path d="M663.8 203.2l1.4-1 2.7 3.4-1.4 1z" color="#28b567"/>
<path d="M666.5 206.6l1.4-1 2.1 3.7-1.4 1z" color="#2db64c"/>
<path d="M668.6 210.3l1.4-1 1.6 3.9-1.4 1.1z" color="#3db241"/>
<path d="M670.2 214.3l1.4-1.1 .9 4-1.3 1.2z" color="#45ac39"/>
<path d="M671.2 218.4l1.3-1.2 .3 4-1.3 1.2z" color="#49a532"/>
<path d="M671.5 222.4l1.3-1.2-.3 3.9-1.4 1.2z" color="#4a9d2d"/>
<path d="M671.1 226.3l1.4-1.2-1 3.6-1.4 1.3z" color="#499429"/>
<path d="M670.1 230l1.4-1.3-1.7 3.3-1.4 1.2z" color="#468b25"/>
<path d="M668.4 233.2l1.4-1.2-2.2 2.8-1.4 1.2z" color="#438122"/>
<path d="M666.2 236l1.4-1.2-2.7 2.2-1.4 1.2z" color="#3e771f"/>
<path d="M662.4 204.3l1.4-1.1 2.7 3.4-1.4 1.1z" color="#2fbb4e"/>
<path d="M665.1 207.7l1.4-1.1 2.1 3.7-1.4 1.1z" color="#41b842"/>
<path d="M667.2 211.4l1.4-1.1 1.6 4-1.4 1.1z" color="#4ab43a"/>
<path d="M668.8 215.4l1.4-1.1 1 4.1-1.4 1.1z" color="#4fad34"/>
<path d="M669.8 219.5l1.4-1.1 .3 4-1.4 1.2z" color="#50a62f"/>
<path d="M670.1 223.6l1.4-1.2-.4 3.9-1.4 1.2z" color="#4f9e2b"/>
<path d="M669.7 227.5l1.4-1.2-1 3.7-1.4 1.2z" color="#4d9527"/>
<path d="M668.7 231.2l1.4-1.2-1.7 3.2-1.4 1.3z" color="#498b24"/>
<path d="M667 234.5l1.4-1.3-2.2 2.8-1.4 1.3z" color="#458221"/>
<path d="M664.8 237.3l1.4-1.3-2.7 2.2-1.4 1.3z" color="#40771e"/>
<path d="M660.9 205.3l1.5-1 2.7 3.4-1.5 1z" color="#4ebf3e"/>
<path d="M663.6 208.7l1.5-1 2.1 3.7-1.4 1.1z" color="#56bb37"/>
<path d="M665.8 212.5l1.4-1.1 1.6 4-1.4 1.1z" color="#59b632"/>
<path d="M667.4 216.5l1.4-1.1 1 4.1-1.4 1.2z" color="#59af2e"/>
<path d="M668.4 220.7l1.4-1.2 .3 4.1-1.4 1.2z" color="#57a72b"/>
<path d="M668.7 224.8l1.4-1.2-.4 3.9-1.4 1.2z" color="#559f28"/>
<path d="M668.3 228.7l1.4-1.2-1 3.7-1.4 1.2z" color="#519525"/>
<path d="M667.3 232.4l1.4-1.2-1.7 3.3-1.4 1.2z" color="#4c8c22"/>
<path d="M665.6 235.7l1.4-1.2-2.2 2.8-1.4 1.3z" color="#47821f"/>
<path d="M663.4 238.6l1.4-1.3-2.7 2.2-1.5 1.3z" color="#42771d"/>
<path d="M659.5 206.4l1.4-1.1 2.7 3.4-1.4 1.1z" color="#6fc42d"/>
<path d="M662.2 209.8l1.4-1.1 2.2 3.8-1.4 1.2z" color="#6cbf2c"/>
<path d="M664.4 213.7l1.4-1.2 1.6 4-1.4 1.2z" color="#68b82a"/>
<path d="M666 217.7l1.4-1.2 1 4.2-1.4 1.2z" color="#64b029"/>
<path d="M667 221.9l1.4-1.2 .3 4.1-1.4 1.2z" color="#5fa827"/>
<path d="M667.3 226l1.4-1.2-.4 3.9-1.4 1.3z" color="#5a9f25"/>
<path d="M666.9 230l1.4-1.3-1 3.7-1.5 1.3z" color="#559623"/>
<path d="M665.8 233.7l1.5-1.3-1.7 3.3-1.4 1.3z" color="#508c20"/>
<path d="M664.2 237l1.4-1.3-2.2 2.9-1.5 1.3z" color="#4a821e"/>
<path d="M661.9 239.9l1.5-1.3-2.8 2.2-1.4 1.3z" color="#44781c"/>
<path d="M658 207.4l1.5-1 2.7 3.4-1.5 1.1z" color="#87c429"/>
<path d="M660.7 210.9l1.5-1.1 2.2 3.9-1.5 1.1z" color="#7dbf29"/>
<path d="M662.9 214.8l1.5-1.1 1.6 4-1.5 1.2z" color="#74b829"/>
<path d="M664.5 218.9l1.5-1.2 1 4.2-1.5 1.2z" color="#6cb027"/>
<path d="M665.5 223.1l1.5-1.2 .3 4.1-1.5 1.2z" color="#65a826"/>
<path d="M665.8 227.2l1.5-1.2-.4 4-1.5 1.3z" color="#5f9f24"/>
<path d="M665.4 231.3l1.5-1.3-1.1 3.7-1.4 1.3z" color="#589622"/>
<path d="M664.4 235l1.4-1.3-1.6 3.3-1.5 1.4z" color="#528c20"/>
<path d="M662.7 238.4l1.5-1.4-2.3 2.9-1.5 1.3z" color="#4c821e"/>
<path d="M660.4 241.2l1.5-1.3-2.7 2.2-1.6 1.4z" color="#45781b"/>
<path d="M656.4 208.5l1.6-1.1 2.7 3.5-1.5 1.2z" color="#9fc426"/>
<path d="M659.2 212.1l1.5-1.2 2.2 3.9-1.5 1.1z" color="#8cbf27"/>
<path d="M661.4 215.9l1.5-1.1 1.6 4.1-1.4 1.2z" color="#7fb827"/>
<path d="M663.1 220.1l1.4-1.2 1 4.2-1.5 1.2z" color="#74b026"/>
<path d="M664 224.3l1.5-1.2 .3 4.1-1.5 1.3z" color="#6ba825"/>
<path d="M664.3 228.5l1.5-1.3-.4 4.1-1.4 1.2z" color="#639f23"/>
<path d="M664 232.5l1.4-1.2-1 3.7-1.5 1.3z" color="#5c9622"/>
<path d="M662.9 236.3l1.5-1.3-1.7 3.4-1.5 1.3z" color="#558c20"/>
<path d="M661.2 239.7l1.5-1.3-2.3 2.8-1.5 1.4z" color="#4e821d"/>
<path d="M658.9 242.6l1.5-1.4-2.8 2.3-1.5 1.3z" color="#47781b"/>
<path d="M654.9 209.6l1.5-1.1 2.8 3.6-1.5 1.1z" color="#b1bd26"/>
<path d="M657.7 213.2l1.5-1.1 2.2 3.8-1.5 1.2z" color="#9bbf25"/>
<path d="M659.9 217.1l1.5-1.2 1.7 4.2-1.5 1.2z" color="#89b825"/>
<path d="M661.6 221.3l1.5-1.2 .9 4.2-1.4 1.2z" color="#7bb025"/>
<path d="M662.6 225.5l1.4-1.2 .3 4.2-1.4 1.3z" color="#70a824"/>
<path d="M662.9 229.8l1.4-1.3-.3 4-1.5 1.3z" color="#679f23"/>
<path d="M662.5 233.8l1.5-1.3-1.1 3.8-1.5 1.3z" color="#5e9621"/>
<path d="M661.4 237.6l1.5-1.3-1.7 3.4-1.5 1.3z" color="#578c1f"/>
<path d="M659.7 241l1.5-1.3-2.3 2.9-1.5 1.3z" color="#4f821d"/>
<path d="M657.4 243.9l1.5-1.3-2.8 2.2-1.5 1.4z" color="#48781b"/>
<path d="M653.3 210.8l1.6-1.2 2.8 3.6-1.6 1.2z" color="#c1b626"/>
<path d="M656.1 214.4l1.6-1.2 2.2 3.9-1.5 1.2z" color="#a6ba25"/>
<path d="M658.4 218.3l1.5-1.2 1.7 4.2-1.6 1.2z" color="#91b824"/>
<path d="M660 222.5l1.6-1.2 1 4.2-1.6 1.3z" color="#81b024"/>
<path d="M661 226.8l1.6-1.3 .3 4.3-1.5 1.3z" color="#74a824"/>
<path d="M661.4 231.1l1.5-1.3-.4 4-1.5 1.4z" color="#6a9f22"/>
<path d="M661 235.2l1.5-1.4-1.1 3.8-1.5 1.4z" color="#619621"/>
<path d="M659.9 239l1.5-1.4-1.7 3.4-1.5 1.4z" color="#598c1f"/>
<path d="M658.2 242.4l1.5-1.4-2.3 2.9-1.5 1.4z" color="#51821d"/>
<path d="M655.9 245.3l1.5-1.4-2.8 2.3-1.6 1.4z" color="#49781b"/>
<path d="M651.7 211.9l1.6-1.1 2.8 3.6-1.5 1.1z" color="#ceb126"/>
<path d="M654.6 215.5l1.5-1.1 2.3 3.9-1.6 1.2z" color="#aeb725"/>
<path d="M656.8 219.5l1.6-1.2 1.6 4.2-1.5 1.2z" color="#98b723"/>
<path d="M658.5 223.7l1.5-1.2 1 4.3-1.5 1.3z" color="#86b024"/>
<path d="M659.5 228.1l1.5-1.3 .4 4.3-1.6 1.3z" color="#78a823"/>
<path d="M659.8 232.4l1.6-1.3-.4 4.1-1.6 1.3z" color="#6d9f22"/>
<path d="M659.4 236.5l1.6-1.3-1.1 3.8-1.5 1.4z" color="#639621"/>
<path d="M658.4 240.4l1.5-1.4-1.7 3.4-1.6 1.4z" color="#5a8c1f"/>
<path d="M656.6 243.8l1.6-1.4-2.3 2.9-1.6 1.4z" color="#52821d"/>
<path d="M654.3 246.7l1.6-1.4-2.9 2.3-1.6 1.4z" color="#4a781b"/>
<path d="M650.1 213.1l1.6-1.2 2.9 3.6-1.6 1.2z" color="#d2aa25"/>
<path d="M653 216.7l1.6-1.2 2.2 4-1.6 1.2z" color="#b4b425"/>
<path d="M655.2 220.7l1.6-1.2 1.7 4.2-1.6 1.3z" color="#9cb623"/>
<path d="M656.9 225l1.6-1.3 1 4.4-1.6 1.3z" color="#89b023"/>
<path d="M657.9 229.4l1.6-1.3 .3 4.3-1.5 1.3z" color="#7aa823"/>
<path d="M658.3 233.7l1.5-1.3-.4 4.1-1.5 1.4z" color="#6e9f22"/>
<path d="M657.9 237.9l1.5-1.4-1 3.9-1.6 1.3z" color="#649620"/>
<path d="M656.8 241.7l1.6-1.3-1.8 3.4-1.6 1.4z" color="#5b8c1f"/>
<path d="M655 245.2l1.6-1.4-2.3 2.9-1.6 1.5z" color="#53821d"/>
<path d="M652.7 248.2l1.6-1.5-2.9 2.3-1.6 1.5z" color="#4b781b"/>
<path d="M648.5 214.2l1.6-1.1 2.9 3.6-1.7 1.2z" color="#d2a624"/>
<path d="M651.3 217.9l1.7-1.2 2.2 4-1.6 1.3z" color="#b7b325"/>
<path d="M653.6 222l1.6-1.3 1.7 4.3-1.6 1.3z" color="#9eb523"/>
<path d="M655.3 226.3l1.6-1.3 1 4.4-1.5 1.3z" color="#8bb023"/>
<path d="M656.4 230.7l1.5-1.3 .4 4.3-1.6 1.4z" color="#7ba822"/>
<path d="M656.7 235.1l1.6-1.4-.4 4.2-1.6 1.4z" color="#6f9f22"/>
<path d="M656.3 239.3l1.6-1.4-1.1 3.8-1.6 1.5z" color="#659620"/>
<path d="M655.2 243.2l1.6-1.5-1.8 3.5-1.6 1.4z" color="#5c8c1f"/>
<path d="M653.4 246.6l1.6-1.4-2.3 3-1.6 1.4z" color="#53821d"/>
<path d="M651.1 249.6l1.6-1.4-2.9 2.3-1.6 1.4z" color="#4b781b"/>
<path d="M646.8 215.4l1.7-1.2 2.8 3.7-1.6 1.3z" color="#d2a624"/>
<path d="M649.7 219.2l1.6-1.3 2.3 4.1-1.6 1.3z" color="#b7b325"/>
<path d="M652 223.3l1.6-1.3 1.7 4.3-1.6 1.3z" color="#9eb523"/>
<path d="M653.7 227.6l1.6-1.3 1.1 4.4-1.6 1.3z" color="#8bb023"/>
<path d="M654.8 232l1.6-1.3 .3 4.4-1.6 1.3z" color="#7ba822"/>
<path d="M655.1 236.4l1.6-1.3-.4 4.2-1.6 1.4z" color="#6f9f22"/>
<path d="M654.7 240.7l1.6-1.4-1.1 3.9-1.6 1.4z" color="#659620"/>
<path d="M653.6 244.6l1.6-1.4-1.8 3.4-1.6 1.5z" color="#5c8c1f"/>
<path d="M651.8 248.1l1.6-1.5-2.3 3-1.7 1.5z" color="#53821d"/>
<path d="M649.4 251.1l1.7-1.5-2.9 2.3-1.7 1.5z" color="#4b781b"/>
<path d="M645.1 216.7l1.7-1.3 2.9 3.8-1.7 1.2z" color="#d2aa25"/>
<path d="M648 220.4l1.7-1.2 2.3 4.1-1.6 1.2z" color="#b4b425"/>
<path d="M650.4 224.5l1.6-1.2 1.7 4.3-1.6 1.3z" color="#9cb623"/>
<path d="M652.1 228.9l1.6-1.3 1.1 4.4-1.7 1.4z" color="#89b023"/>
<path d="M653.1 233.4l1.7-1.4 .3 4.4-1.7 1.4z" color="#7aa823"/>
<path d="M653.4 237.8l1.7-1.4-.4 4.3-1.7 1.4z" color="#6e9f22"/>
<path d="M653 242.1l1.7-1.4-1.1 3.9-1.7 1.5z" color="#649620"/>
<path d="M651.9 246.1l1.7-1.5-1.8 3.5-1.7 1.5z" color="#5b8c1f"/>
<path d="M650.1 249.6l1.7-1.5-2.4 3-1.7 1.5z" color="#53821d"/>
<path d="M647.7 252.6l1.7-1.5-2.9 2.3-1.7 1.6z" color="#4b781b"/>
<path d="M643.4 217.9l1.7-1.2 2.9 3.7-1.7 1.3z" color="#ceb126"/>
<path d="M646.3 221.7l1.7-1.3 2.4 4.1-1.7 1.4z" color="#aeb725"/>
<path d="M648.7 225.9l1.7-1.4 1.7 4.4-1.7 1.4z" color="#98b723"/>
<path d="M650.4 230.3l1.7-1.4 1 4.5-1.6 1.4z" color="#86b024"/>
<path d="M651.5 234.8l1.6-1.4 .3 4.4-1.6 1.4z" color="#78a823"/>
<path d="M651.8 239.2l1.6-1.4-.4 4.3-1.6 1.4z" color="#6d9f22"/>
<path d="M651.4 243.5l1.6-1.4-1.1 4-1.6 1.4z" color="#639621"/>
<path d="M650.3 247.5l1.6-1.4-1.8 3.5-1.6 1.5z" color="#5a8c1f"/>
<path d="M648.5 251.1l1.6-1.5-2.4 3-1.7 1.5z" color="#52821d"/>
<path d="M646 254.1l1.7-1.5-2.9 2.4-1.7 1.5z" color="#4a781b"/>
<path d="M641.7 219.1l1.7-1.2 2.9 3.8-1.7 1.3z" color="#c1b626"/>
<path d="M644.6 223l1.7-1.3 2.4 4.2-1.7 1.3z" color="#a6ba25"/>
<path d="M647 227.2l1.7-1.3 1.7 4.4-1.7 1.3z" color="#91b824"/>
<path d="M648.7 231.6l1.7-1.3 1.1 4.5-1.7 1.4z" color="#81b024"/>
<path d="M649.8 236.2l1.7-1.4 .3 4.4-1.7 1.5z" color="#74a824"/>
<path d="M650.1 240.7l1.7-1.5-.4 4.3-1.7 1.5z" color="#6a9f22"/>
<path d="M649.7 245l1.7-1.5-1.1 4-1.7 1.5z" color="#619621"/>
<path d="M648.6 249l1.7-1.5-1.8 3.6-1.7 1.5z" color="#598c1f"/>
<path d="M646.8 252.6l1.7-1.5-2.5 3-1.7 1.6z" color="#51821d"/>
<path d="M644.3 255.7l1.7-1.6-2.9 2.4-1.8 1.6z" color="#49781b"/>
<path d="M639.9 220.4l1.8-1.3 2.9 3.9-1.8 1.3z" color="#b1bd26"/>
<path d="M642.8 224.3l1.8-1.3 2.4 4.2-1.8 1.3z" color="#9bbf25"/>
<path d="M645.2 228.5l1.8-1.3 1.7 4.4-1.7 1.4z" color="#89b825"/>
<path d="M647 233l1.7-1.4 1.1 4.6-1.7 1.4z" color="#7bb025"/>
<path d="M648.1 237.6l1.7-1.4 .3 4.5-1.7 1.4z" color="#70a824"/>
<path d="M648.4 242.1l1.7-1.4-.4 4.3-1.7 1.5z" color="#679f23"/>
<path d="M648 246.5l1.7-1.5-1.1 4-1.8 1.6z" color="#5e9621"/>
<path d="M646.8 250.6l1.8-1.6-1.8 3.6-1.8 1.6z" color="#578c1f"/>
<path d="M645 254.2l1.8-1.6-2.5 3.1-1.7 1.5z" color="#4f821d"/>
<path d="M642.6 257.2l1.7-1.5-3 2.4-1.8 1.5z" color="#48781b"/>
<path d="M638.1 221.7l1.8-1.3 2.9 3.9-1.7 1.3z" color="#9fc426"/>
<path d="M641.1 225.6l1.7-1.3 2.4 4.2-1.7 1.4z" color="#8cbf27"/>
<path d="M643.5 229.9l1.7-1.4 1.8 4.5-1.8 1.4z" color="#7fb827"/>
<path d="M645.2 234.4l1.8-1.4 1.1 4.6-1.8 1.5z" color="#74b026"/>
<path d="M646.3 239.1l1.8-1.5 .3 4.5-1.8 1.5z" color="#6ba825"/>
<path d="M646.6 243.6l1.8-1.5-.4 4.4-1.8 1.5z" color="#639f23"/>
<path d="M646.2 248l1.8-1.5-1.2 4.1-1.7 1.5z" color="#5c9622"/>
<path d="M645.1 252.1l1.7-1.5-1.8 3.6-1.7 1.6z" color="#558c20"/>
<path d="M643.3 255.8l1.7-1.6-2.4 3-1.8 1.6z" color="#4e821d"/>
<path d="M640.8 258.8l1.8-1.6-3.1 2.4-1.8 1.7z" color="#47781b"/>
<path d="M636.2 223l1.9-1.3 3 3.9-1.9 1.4z" color="#87c429"/>
<path d="M639.2 227l1.9-1.4 2.4 4.3-1.8 1.4z" color="#7dbf29"/>
<path d="M641.7 231.3l1.8-1.4 1.7 4.5-1.7 1.5z" color="#74b829"/>
<path d="M643.5 235.9l1.7-1.5 1.1 4.7-1.8 1.4z" color="#6cb027"/>
<path d="M644.5 240.5l1.8-1.4 .3 4.5-1.7 1.5z" color="#65a826"/>
<path d="M644.9 245.1l1.7-1.5-.4 4.4-1.7 1.6z" color="#5f9f24"/>
<path d="M644.5 249.6l1.7-1.6-1.1 4.1-1.8 1.6z" color="#589622"/>
<path d="M643.3 253.7l1.8-1.6-1.8 3.7-1.8 1.6z" color="#528c20"/>
<path d="M641.5 257.4l1.8-1.6-2.5 3-1.8 1.7z" color="#4c821e"/>
<path d="M639 260.5l1.8-1.7-3.1 2.5-1.8 1.6z" color="#45781b"/>
<path d="M634.4 224.4l1.8-1.4 3 4-1.8 1.4z" color="#6fc42d"/>
<path d="M637.4 228.4l1.8-1.4 2.5 4.3-1.8 1.4z" color="#6cbf2c"/>
<path d="M639.9 232.7l1.8-1.4 1.8 4.6-1.8 1.4z" color="#68b82a"/>
<path d="M641.7 237.3l1.8-1.4 1 4.6-1.8 1.5z" color="#64b029"/>
<path d="M642.7 242l1.8-1.5 .4 4.6-1.8 1.6z" color="#5fa827"/>
<path d="M643.1 246.7l1.8-1.6-.4 4.5-1.8 1.6z" color="#5a9f25"/>
<path d="M642.7 251.2l1.8-1.6-1.2 4.1-1.8 1.6z" color="#559623"/>
<path d="M641.5 255.3l1.8-1.6-1.8 3.7-1.9 1.6z" color="#508c20"/>
<path d="M639.6 259l1.9-1.6-2.5 3.1-1.9 1.6z" color="#4a821e"/>
<path d="M637.1 262.1l1.9-1.6-3.1 2.4-1.9 1.7z" color="#44781c"/>
<path d="M632.5 225.7l1.9-1.3 3 4-1.9 1.4z" color="#4ebf3e"/>
<path d="M635.5 229.8l1.9-1.4 2.5 4.3-1.9 1.5z" color="#56bb37"/>
<path d="M638 234.2l1.9-1.5 1.8 4.6-1.9 1.5z" color="#59b632"/>
<path d="M639.8 238.8l1.9-1.5 1 4.7-1.8 1.5z" color="#59af2e"/>
<path d="M640.9 243.5l1.8-1.5 .4 4.7-1.8 1.6z" color="#57a72b"/>
<path d="M641.3 248.3l1.8-1.6-.4 4.5-1.9 1.6z" color="#559f28"/>
<path d="M640.8 252.8l1.9-1.6-1.2 4.1-1.8 1.6z" color="#519525"/>
<path d="M639.7 256.9l1.8-1.6-1.9 3.7-1.8 1.7z" color="#4c8c22"/>
<path d="M637.8 260.7l1.8-1.7-2.5 3.1-1.9 1.7z" color="#47821f"/>
<path d="M635.2 263.8l1.9-1.7-3.1 2.5-1.9 1.7z" color="#42771d"/>
<path d="M630.5 227.1l2-1.4 3 4.1-1.9 1.4z" color="#2fbb4e"/>
<path d="M633.6 231.2l1.9-1.4 2.5 4.4-1.9 1.4z" color="#41b842"/>
<path d="M636.1 235.6l1.9-1.4 1.8 4.6-1.8 1.5z" color="#4ab43a"/>
<path d="M638 240.3l1.8-1.5 1.1 4.7-1.8 1.6z" color="#4fad34"/>
<path d="M639.1 245.1l1.8-1.6 .4 4.8-1.9 1.5z" color="#50a62f"/>
<path d="M639.4 249.8l1.9-1.5-.5 4.5-1.8 1.6z" color="#4f9e2b"/>
<path d="M639 254.4l1.8-1.6-1.1 4.1-1.9 1.7z" color="#4d9527"/>
<path d="M637.8 258.6l1.9-1.7-1.9 3.8-1.9 1.6z" color="#498b24"/>
<path d="M635.9 262.3l1.9-1.6-2.6 3.1-1.9 1.7z" color="#458221"/>
<path d="M633.3 265.5l1.9-1.7-3.1 2.5-1.9 1.7z" color="#40771e"/>
<path d="M628.6 228.5l1.9-1.4 3.1 4.1-1.9 1.4z" color="#28b567"/>
<path d="M631.7 232.6l1.9-1.4 2.5 4.4-1.9 1.5z" color="#2db64c"/>
<path d="M634.2 237.1l1.9-1.5 1.9 4.7-1.9 1.5z" color="#3db241"/>
<path d="M636.1 241.8l1.9-1.5 1.1 4.8-1.9 1.6z" color="#45ac39"/>
<path d="M637.2 246.7l1.9-1.6 .3 4.7-1.9 1.7z" color="#49a532"/>
<path d="M637.5 251.5l1.9-1.7-.4 4.6-1.9 1.6z" color="#4a9d2d"/>
<path d="M637.1 256l1.9-1.6-1.2 4.2-1.9 1.7z" color="#499429"/>
<path d="M635.9 260.3l1.9-1.7-1.9 3.7-1.9 1.8z" color="#468b25"/>
<path d="M634 264.1l1.9-1.8-2.6 3.2-1.9 1.7z" color="#438122"/>
<path d="M631.4 267.2l1.9-1.7-3.1 2.5-2 1.7z" color="#3e771f"/>
<path d="M626.6 230l2-1.5 3.1 4.1-2 1.5z" color="#23af7d"/>
<path d="M629.7 234.1l2-1.5 2.5 4.5-1.9 1.5z" color="#29b25b"/>
<path d="M632.3 238.6l1.9-1.5 1.9 4.7-2 1.6z" color="#31b047"/>
<path d="M634.1 243.4l2-1.6 1.1 4.9-2 1.6z" color="#3dab3d"/>
<path d="M635.2 248.3l2-1.6 .3 4.8-1.9 1.6z" color="#43a435"/>
<path d="M635.6 253.1l1.9-1.6-.4 4.5-1.9 1.7z" color="#459c30"/>
<path d="M635.2 257.7l1.9-1.7-1.2 4.3-1.9 1.7z" color="#45942b"/>
<path d="M634 262l1.9-1.7-1.9 3.8-2 1.7z" color="#448b27"/>
<path d="M632 265.8l2-1.7-2.6 3.1-2 1.8z" color="#418123"/>
<path d="M629.4 269l2-1.8-3.2 2.5-2 1.8z" color="#3d771f"/>
<path d="M624.6 231.4l2-1.4 3.1 4.1-2 1.5z" color="#1fab8f"/>
<path d="M627.7 235.6l2-1.5 2.6 4.5-2 1.6z" color="#26af67"/>
<path d="M630.3 240.2l2-1.6 1.8 4.8-1.9 1.6z" color="#2aaf4c"/>
<path d="M632.2 245l1.9-1.6 1.1 4.9-1.9 1.6z" color="#37aa40"/>
<path d="M633.3 249.9l1.9-1.6 .4 4.8-2 1.7z" color="#3ea338"/>
<path d="M633.6 254.8l2-1.7-.4 4.6-2 1.7z" color="#429c31"/>
<path d="M633.2 259.4l2-1.7-1.2 4.3-2 1.8z" color="#43932c"/>
<path d="M632 263.8l2-1.8-2 3.8-2 1.8z" color="#428a28"/>
<path d="M630 267.6l2-1.8-2.6 3.2-2 1.8z" color="#3f8124"/>
<path d="M627.4 270.8l2-1.8-3.2 2.5-2 1.8z" color="#3c7720"/>
<path d="M622.5 232.9l2.1-1.5 3.1 4.2-2 1.5z" color="#1ca89b"/>
<path d="M625.7 237.1l2-1.5 2.6 4.6-2 1.5z" color="#24ad6f"/>
<path d="M628.3 241.7l2-1.5 1.9 4.8-2 1.6z" color="#29ad52"/>
<path d="M630.2 246.6l2-1.6 1.1 4.9-2 1.7z" color="#32a942"/>
<path d="M631.3 251.6l2-1.7 .3 4.9-2 1.7z" color="#3ba339"/>
<path d="M631.6 256.5l2-1.7-.4 4.6-2 1.8z" color="#409c33"/>
<path d="M631.2 261.2l2-1.8-1.2 4.4-2 1.7z" color="#41932d"/>
<path d="M630 265.5l2-1.7-2 3.8-2 1.8z" color="#408a28"/>
<path d="M628 269.4l2-1.8-2.6 3.2-2 1.8z" color="#3e8124"/>
<path d="M625.4 272.6l2-1.8-3.2 2.5-2.1 1.9z" color="#3b7620"/>
<path d="M620.4 234.4l2.1-1.5 3.2 4.2-2.1 1.6z" color="#1da59e"/>
<path d="M623.6 238.7l2.1-1.6 2.6 4.6-2.1 1.6z" color="#23ac73"/>
<path d="M626.2 243.3l2.1-1.6 1.9 4.9-2.1 1.6z" color="#28ac55"/>
<path d="M628.1 248.2l2.1-1.6 1.1 5-2 1.7z" color="#30a943"/>
<path d="M629.3 253.3l2-1.7 .3 4.9-2 1.7z" color="#3aa33a"/>
<path d="M629.6 258.2l2-1.7-.4 4.7-2 1.8z" color="#3e9b33"/>
<path d="M629.2 263l2-1.8-1.2 4.3-2 1.8z" color="#40932d"/>
<path d="M628 267.3l2-1.8-2 3.9-2 1.8z" color="#408a29"/>
<path d="M626 271.2l2-1.8-2.6 3.2-2.1 1.9z" color="#3e8024"/>
<path d="M623.3 274.5l2.1-1.9-3.3 2.6-2.1 1.9z" color="#3a7621"/>
<path d="M643.2 193.6l4.4 .9 .9-.5-4.4-.9z" color="#2a75c9"/>
<path d="M647.6 194.5l4.5 .9 .9-.6-4.5-.8z" color="#202795"/>
<path d="M652.1 195.4l4.4 .9 .9-.6-4.4-.9z" color="#130b57"/>
<path d="M656.5 196.3l4.5 .8 .8-.5-4.4-.9z" color="#130b57"/>
<path d="M661 197.1l4.4 .9 .9-.6-4.5-.8z" color="#202795"/>
<path d="M665.4 198l4.5 .9 .8-.6-4.4-.9z" color="#2a75c9"/>
<path d="M642.2 194.2l4.5 .9 .9-.6-4.4-.9z" color="#2a77c9"/>
<path d="M646.7 195.1l4.4 .9 1-.6-4.5-.9z" color="#212c9a"/>
<path d="M651.1 196l4.5 .8 .9-.5-4.4-.9z" color="#150f5f"/>
<path d="M655.6 196.8l4.5 .9 .9-.6-4.5-.8z" color="#150f5f"/>
<path d="M660.1 197.7l4.5 .9 .8-.6-4.4-.9z" color="#212c9a"/>
<path d="M664.6 198.6l4.4 .9 .9-.6-4.5-.9z" color="#2a77c9"/>
<path d="M641.2 194.7l4.5 .9 1-.5-4.5-.9z" color="#297cc8"/>
<path d="M645.7 195.6l4.5 .9 .9-.5-4.4-.9z" color="#2335a3"/>
<path d="M650.2 196.5l4.5 .9 .9-.6-4.5-.8z" color="#18156f"/>
<path d="M654.7 197.4l4.5 .9 .9-.6-4.5-.9z" color="#18156f"/>
<path d="M659.2 198.3l4.5 .9 .9-.6-4.5-.9z" color="#2335a3"/>
<path d="M663.7 199.2l4.5 .9 .8-.6-4.4-.9z" color="#297cc8"/>
<path d="M640.3 195.3l4.5 .9 .9-.6-4.5-.9z" color="#2983c7"/>
<path d="M644.8 196.2l4.5 .9 .9-.6-4.5-.9z" color="#2544b1"/>
<path d="M649.3 197.1l4.5 .9 .9-.6-4.5-.9z" color="#1d1f87"/>
<path d="M653.8 198l4.5 .9 .9-.6-4.5-.9z" color="#1d1f87"/>
<path d="M658.3 198.9l4.5 .9 .9-.6-4.5-.9z" color="#2544b1"/>
<path d="M662.8 199.8l4.5 .9 .9-.6-4.5-.9z" color="#2983c7"/>
<path d="M639.3 195.9l4.5 .9 1-.6-4.5-.9z" color="#288bc4"/>
<path d="M643.8 196.8l4.6 .9 .9-.6-4.5-.9z" color="#2956c3"/>
<path d="M648.4 197.7l4.5 .9 .9-.6-4.5-.9z" color="#22319f"/>
<path d="M652.9 198.6l4.5 .9 .9-.6-4.5-.9z" color="#22319f"/>
<path d="M657.4 199.5l4.5 .9 .9-.6-4.5-.9z" color="#2956c3"/>
<path d="M661.9 200.4l4.6 .9 .8-.6-4.5-.9z" color="#288bc4"/>
<path d="M638.3 196.4l4.6 1 .9-.6-4.5-.9z" color="#2594ba"/>
<path d="M642.9 197.4l4.5 .9 1-.6-4.6-.9z" color="#2a68cb"/>
<path d="M647.4 198.3l4.6 .9 .9-.6-4.5-.9z" color="#274bb9"/>
<path d="M652 199.2l4.5 .9 .9-.6-4.5-.9z" color="#274bb9"/>
<path d="M656.5 200.1l4.5 .9 .9-.6-4.5-.9z" color="#2a68cb"/>
<path d="M661 201l4.6 1 .9-.7-4.6-.9z" color="#2594ba"/>
<path d="M637.3 197l4.6 .9 1-.5-4.6-1z" color="#219fae"/>
<path d="M641.9 197.9l4.6 1 .9-.6-4.5-.9z" color="#297ac8"/>
<path d="M646.5 198.9l4.5 .9 1-.6-4.6-.9z" color="#2a66cb"/>
<path d="M651 199.8l4.6 .9 .9-.6-4.5-.9z" color="#2a66cb"/>
<path d="M655.6 200.7l4.5 1 .9-.7-4.5-.9z" color="#297ac8"/>
<path d="M660.1 201.7l4.6 .9 .9-.6-4.6-1z" color="#219fae"/>
<path d="M636.3 197.6l4.6 .9 1-.6-4.6-.9z" color="#1daca1"/>
<path d="M640.9 198.5l4.6 1 1-.6-4.6-1z" color="#278dc1"/>
<path d="M645.5 199.5l4.6 .9 .9-.6-4.5-.9z" color="#297dc8"/>
<path d="M650.1 200.4l4.6 1 .9-.7-4.6-.9z" color="#297dc8"/>
<path d="M654.7 201.4l4.5 .9 .9-.6-4.5-1z" color="#278dc1"/>
<path d="M659.2 202.3l4.6 .9 .9-.6-4.6-.9z" color="#1daca1"/>
<path d="M635.3 198.2l4.6 .9 1-.6-4.6-.9z" color="#23b385"/>
<path d="M639.9 199.1l4.6 1 1-.6-4.6-1z" color="#21a1ac"/>
<path d="M644.5 200.1l4.6 .9 1-.6-4.6-.9z" color="#2595b9"/>
<path d="M649.1 201l4.6 1 1-.6-4.6-1z" color="#2595b9"/>
<path d="M653.7 202l4.6 .9 .9-.6-4.5-.9z" color="#21a1ac"/>
<path d="M658.3 202.9l4.6 1 .9-.7-4.6-.9z" color="#23b385"/>
<path d="M634.3 198.8l4.6 .9 1-.6-4.6-.9z" color="#2abb66"/>
<path d="M638.9 199.7l4.6 1 1-.6-4.6-1z" color="#22b28c"/>
<path d="M643.5 200.7l4.7 .9 .9-.6-4.6-.9z" color="#1dad9e"/>
<path d="M648.2 201.6l4.6 1 .9-.6-4.6-1z" color="#1dad9e"/>
<path d="M652.8 202.6l4.6 1 .9-.7-4.6-.9z" color="#22b28c"/>
<path d="M657.4 203.6l4.6 .9 .9-.6-4.6-1z" color="#2abb66"/>
<path d="M633.3 199.4l4.6 .9 1-.6-4.6-.9z" color="#3bc24b"/>
<path d="M637.9 200.3l4.6 1 1-.6-4.6-1z" color="#2cbd5d"/>
<path d="M642.5 201.3l4.7 1 1-.7-4.7-.9z" color="#2aba68"/>
<path d="M647.2 202.3l4.6 .9 1-.6-4.6-1z" color="#2aba68"/>
<path d="M651.8 203.2l4.7 1 .9-.6-4.6-1z" color="#2cbd5d"/>
<path d="M656.5 204.2l4.6 1 .9-.7-4.6-.9z" color="#3bc24b"/>
<path d="M632.2 200l4.7 .9 1-.6-4.6-.9z" color="#60c738"/>
<path d="M636.9 200.9l4.6 1 1-.6-4.6-1z" color="#57c63c"/>
<path d="M641.5 201.9l4.7 1 1-.6-4.7-1z" color="#53c53f"/>
<path d="M646.2 202.9l4.7 1 .9-.7-4.6-.9z" color="#53c53f"/>
<path d="M650.9 203.9l4.6 1 1-.7-4.7-1z" color="#57c63c"/>
<path d="M655.5 204.9l4.7 .9 .9-.6-4.6-1z" color="#60c738"/>
<path d="M631.2 200.6l4.7 1 1-.7-4.7-.9z" color="#80ca2c"/>
<path d="M635.9 201.6l4.6 .9 1-.6-4.6-1z" color="#86ca2b"/>
<path d="M640.5 202.5l4.7 1 1-.6-4.7-1z" color="#8aca2b"/>
<path d="M645.2 203.5l4.7 1 1-.6-4.7-1z" color="#8aca2b"/>
<path d="M649.9 204.5l4.7 1 .9-.6-4.6-1z" color="#86ca2b"/>
<path d="M654.6 205.5l4.7 1 .9-.7-4.7-.9z" color="#80ca2c"/>
<path d="M630.1 201.2l4.7 1 1.1-.6-4.7-1z" color="#9bca28"/>
<path d="M634.8 202.2l4.7 1 1-.7-4.6-.9z" color="#adc627"/>
<path d="M639.5 203.2l4.7 1 1-.7-4.7-1z" color="#b5c327"/>
<path d="M644.2 204.2l4.7 1 1-.7-4.7-1z" color="#b5c327"/>
<path d="M648.9 205.2l4.7 1 1-.7-4.7-1z" color="#adc627"/>
<path d="M653.6 206.2l4.7 1 1-.7-4.7-1z" color="#9bca28"/>
<path d="M629 201.8l4.8 1 1-.6-4.7-1z" color="#b4c327"/>
<path d="M633.8 202.8l4.7 1 1-.6-4.7-1z" color="#cfb827"/>
<path d="M638.5 203.8l4.7 1 1-.6-4.7-1z" color="#d8b026"/>
<path d="M643.2 204.8l4.7 1 1-.6-4.7-1z" color="#d8b026"/>
<path d="M647.9 205.8l4.8 1 .9-.6-4.7-1z" color="#cfb827"/>
<path d="M652.7 206.8l4.7 1.1 .9-.7-4.7-1z" color="#b4c327"/>
<path d="M628 202.4l4.7 1 1.1-.6-4.8-1z" color="#caba27"/>
<path d="M632.7 203.4l4.8 1.1 1-.7-4.7-1z" color="#d99d22"/>
<path d="M637.5 204.5l4.7 1 1-.7-4.7-1z" color="#db8c1f"/>
<path d="M642.2 205.5l4.7 1 1-.7-4.7-1z" color="#db8c1f"/>
<path d="M646.9 206.5l4.8 1 1-.7-4.8-1z" color="#d99d22"/>
<path d="M651.7 207.5l4.7 1 1-.6-4.7-1.1z" color="#caba27"/>
<path d="M626.9 203.1l4.7 1 1.1-.7-4.7-1z" color="#d8ad25"/>
<path d="M631.6 204.1l4.8 1 1.1-.6-4.8-1.1z" color="#da801c"/>
<path d="M636.4 205.1l4.8 1 1-.6-4.7-1z" color="#d26715"/>
<path d="M641.2 206.1l4.7 1.1 1-.7-4.7-1z" color="#d26715"/>
<path d="M645.9 207.2l4.8 1 1-.7-4.8-1z" color="#da801c"/>
<path d="M650.7 208.2l4.8 1 .9-.7-4.7-1z" color="#d8ad25"/>
<path d="M625.8 203.7l4.8 1 1-.6-4.7-1z" color="#d99b22"/>
<path d="M630.6 204.7l4.8 1.1 1-.7-4.8-1z" color="#d16213"/>
<path d="M635.4 205.8l4.7 1 1.1-.7-4.8-1z" color="#c7440b"/>
<path d="M640.1 206.8l4.8 1 1-.6-4.7-1.1z" color="#c7440b"/>
<path d="M644.9 207.8l4.8 1.1 1-.7-4.8-1z" color="#d16213"/>
<path d="M649.7 208.9l4.8 1 1-.7-4.8-1z" color="#d99b22"/>
<path d="M624.7 204.3l4.8 1.1 1.1-.7-4.8-1z" color="#db8a1e"/>
<path d="M629.5 205.4l4.8 1 1.1-.6-4.8-1.1z" color="#c8470c"/>
<path d="M634.3 206.4l4.8 1.1 1-.7-4.7-1z" color="#b62e07"/>
<path d="M639.1 207.5l4.8 1 1-.7-4.8-1z" color="#b62e07"/>
<path d="M643.9 208.5l4.8 1.1 1-.7-4.8-1.1z" color="#c8470c"/>
<path d="M648.7 209.6l4.8 1 1-.7-4.8-1z" color="#db8a1e"/>
<path d="M623.6 205l4.8 1 1.1-.6-4.8-1.1z" color="#d97b1b"/>
<path d="M628.4 206l4.8 1.1 1.1-.7-4.8-1z" color="#bd3508"/>
<path d="M633.2 207.1l4.8 1.1 1.1-.7-4.8-1.1z" color="#a71c05"/>
<path d="M638 208.2l4.9 1 1-.7-4.8-1z" color="#a71c05"/>
<path d="M642.9 209.2l4.8 1.1 1-.7-4.8-1.1z" color="#bd3508"/>
<path d="M647.7 210.3l4.8 1 1-.7-4.8-1z" color="#d97b1b"/>
<path d="M622.4 205.6l4.9 1.1 1.1-.7-4.8-1z" color="#d46e17"/>
<path d="M627.3 206.7l4.8 1.1 1.1-.7-4.8-1.1z" color="#b22906"/>
<path d="M632.1 207.8l4.9 1 1-.6-4.8-1.1z" color="#921303"/>
<path d="M637 208.8l4.8 1.1 1.1-.7-4.9-1z" color="#921303"/>
<path d="M641.8 209.9l4.9 1.1 1-.7-4.8-1.1z" color="#b22906"/>
<path d="M646.7 211l4.8 1.1 1-.8-4.8-1z" color="#d46e17"/>
<path d="M621.3 206.3l4.9 1.1 1.1-.7-4.9-1.1z" color="#d16514"/>
<path d="M626.2 207.4l4.8 1.1 1.1-.7-4.8-1.1z" color="#aa1f05"/>
<path d="M631 208.5l4.9 1 1.1-.7-4.9-1z" color="#7d0e02"/>
<path d="M635.9 209.5l4.9 1.1 1-.7-4.8-1.1z" color="#7d0e02"/>
<path d="M640.8 210.6l4.9 1.1 1-.7-4.9-1.1z" color="#aa1f05"/>
<path d="M645.7 211.7l4.8 1.1 1-.7-4.8-1.1z" color="#d16514"/>
<path d="M620.1 207l4.9 1.1 1.2-.7-4.9-1.1z" color="#cf5e12"/>
<path d="M625 208.1l4.9 1 1.1-.6-4.8-1.1z" color="#a41904"/>
<path d="M629.9 209.1l4.9 1.1 1.1-.7-4.9-1z" color="#700b01"/>
<path d="M634.8 210.2l4.9 1.1 1.1-.7-4.9-1.1z" color="#700b01"/>
<path d="M639.7 211.3l4.9 1.1 1.1-.7-4.9-1.1z" color="#a41904"/>
<path d="M644.6 212.4l4.9 1.1 1-.7-4.8-1.1z" color="#cf5e12"/>
<path d="M619 207.6l4.9 1.1 1.1-.6-4.9-1.1z" color="#ce5a11"/>
<path d="M623.9 208.7l4.9 1.1 1.1-.7-4.9-1z" color="#a01604"/>
<path d="M628.8 209.8l4.9 1.1 1.1-.7-4.9-1.1z" color="#690a00"/>
<path d="M633.7 210.9l4.9 1.1 1.1-.7-4.9-1.1z" color="#690a00"/>
<path d="M638.6 212l5 1.1 1-.7-4.9-1.1z" color="#a01604"/>
<path d="M643.6 213.1l4.9 1.1 1-.7-4.9-1.1z" color="#ce5a11"/>
<path d="M617.8 208.3l4.9 1.1 1.2-.7-4.9-1.1z" color="#ce5a11"/>
<path d="M622.7 209.4l5 1.1 1.1-.7-4.9-1.1z" color="#a01604"/>
<path d="M627.7 210.5l4.9 1.2 1.1-.8-4.9-1.1z" color="#690a00"/>
<path d="M632.6 211.7l5 1.1 1-.8-4.9-1.1z" color="#690a00"/>
<path d="M637.6 212.8l4.9 1.1 1.1-.8-5-1.1z" color="#a01604"/>
<path d="M642.5 213.9l4.9 1.1 1.1-.8-4.9-1.1z" color="#ce5a11"/>
<path d="M616.6 209l5 1.1 1.1-.7-4.9-1.1z" color="#cf5e12"/>
<path d="M621.6 210.1l4.9 1.1 1.2-.7-5-1.1z" color="#a41904"/>
<path d="M626.5 211.2l5 1.2 1.1-.7-4.9-1.2z" color="#700b01"/>
<path d="M631.5 212.4l5 1.1 1.1-.7-5-1.1z" color="#700b01"/>
<path d="M636.5 213.5l4.9 1.1 1.1-.7-4.9-1.1z" color="#a41904"/>
<path d="M641.4 214.6l5 1.1 1-.7-4.9-1.1z" color="#cf5e12"/>
<path d="M615.4 209.7l5 1.1 1.2-.7-5-1.1z" color="#d16514"/>
<path d="M620.4 210.8l5 1.2 1.1-.8-4.9-1.1z" color="#aa1f05"/>
<path d="M625.4 212l5 1.1 1.1-.7-5-1.2z" color="#7d0e02"/>
<path d="M630.4 213.1l5 1.1 1.1-.7-5-1.1z" color="#7d0e02"/>
<path d="M635.4 214.2l4.9 1.2 1.1-.8-4.9-1.1z" color="#aa1f05"/>
<path d="M640.3 215.4l5 1.1 1.1-.8-5-1.1z" color="#d16514"/>
<path d="M614.2 210.4l5 1.1 1.2-.7-5-1.1z" color="#d46e17"/>
<path d="M619.2 211.5l5 1.2 1.2-.7-5-1.2z" color="#b22906"/>
<path d="M624.2 212.7l5 1.1 1.2-.7-5-1.1z" color="#921303"/>
<path d="M629.2 213.8l5 1.2 1.2-.8-5-1.1z" color="#921303"/>
<path d="M634.2 215l5 1.1 1.1-.7-4.9-1.2z" color="#b22906"/>
<path d="M639.2 216.1l5.1 1.2 1-.8-5-1.1z" color="#d46e17"/>
<path d="M613 211.1l5 1.2 1.2-.8-5-1.1z" color="#d97b1b"/>
<path d="M618 212.3l5 1.1 1.2-.7-5-1.2z" color="#bd3508"/>
<path d="M623 213.4l5.1 1.2 1.1-.8-5-1.1z" color="#a71c05"/>
<path d="M628.1 214.6l5 1.1 1.1-.7-5-1.2z" color="#a71c05"/>
<path d="M633.1 215.7l5 1.2 1.1-.8-5-1.1z" color="#bd3508"/>
<path d="M638.1 216.9l5.1 1.2 1.1-.8-5.1-1.2z" color="#d97b1b"/>
<path d="M611.7 211.8l5.1 1.2 1.2-.7-5-1.2z" color="#db8a1e"/>
<path d="M616.8 213l5.1 1.2 1.1-.8-5-1.1z" color="#c8470c"/>
<path d="M621.9 214.2l5 1.1 1.2-.7-5.1-1.2z" color="#b62e07"/>
<path d="M626.9 215.3l5.1 1.2 1.1-.8-5-1.1z" color="#b62e07"/>
<path d="M632 216.5l5 1.2 1.1-.8-5-1.2z" color="#c8470c"/>
<path d="M637 217.7l5.1 1.1 1.1-.7-5.1-1.2z" color="#db8a1e"/>
<path d="M610.5 212.5l5.1 1.2 1.2-.7-5.1-1.2z" color="#d99b22"/>
<path d="M615.6 213.7l5.1 1.2 1.2-.7-5.1-1.2z" color="#d16213"/>
<path d="M620.7 214.9l5 1.2 1.2-.8-5-1.1z" color="#c7440b"/>
<path d="M625.7 216.1l5.1 1.2 1.2-.8-5.1-1.2z" color="#c7440b"/>
<path d="M630.8 217.3l5.1 1.1 1.1-.7-5-1.2z" color="#d16213"/>
<path d="M635.9 218.4l5.1 1.2 1.1-.8-5.1-1.1z" color="#d99b22"/>
<path d="M609.2 213.3l5.1 1.2 1.3-.8-5.1-1.2z" color="#d8ad25"/>
<path d="M614.3 214.5l5.1 1.1 1.3-.7-5.1-1.2z" color="#da801c"/>
<path d="M619.4 215.6l5.2 1.2 1.1-.7-5-1.2z" color="#d26715"/>
<path d="M624.6 216.8l5.1 1.2 1.1-.7-5.1-1.2z" color="#d26715"/>
<path d="M629.7 218l5.1 1.2 1.1-.8-5.1-1.1z" color="#da801c"/>
<path d="M634.8 219.2l5.1 1.2 1.1-.8-5.1-1.2z" color="#d8ad25"/>
<path d="M608 214l5.1 1.2 1.2-.7-5.1-1.2z" color="#caba27"/>
<path d="M613.1 215.2l5.1 1.2 1.2-.8-5.1-1.1z" color="#d99d22"/>
<path d="M618.2 216.4l5.2 1.2 1.2-.8-5.2-1.2z" color="#db8c1f"/>
<path d="M623.4 217.6l5.1 1.2 1.2-.8-5.1-1.2z" color="#db8c1f"/>
<path d="M628.5 218.8l5.1 1.2 1.2-.8-5.1-1.2z" color="#d99d22"/>
<path d="M633.6 220l5.1 1.2 1.2-.8-5.1-1.2z" color="#caba27"/>
<path d="M606.7 214.7l5.1 1.3 1.3-.8-5.1-1.2z" color="#b4c327"/>
<path d="M611.8 216l5.2 1.2 1.2-.8-5.1-1.2z" color="#cfb827"/>
<path d="M617 217.2l5.1 1.2 1.3-.8-5.2-1.2z" color="#d8b026"/>
<path d="M622.1 218.4l5.2 1.2 1.2-.8-5.1-1.2z" color="#d8b026"/>
<path d="M627.3 219.6l5.2 1.2 1.1-.8-5.1-1.2z" color="#cfb827"/>
<path d="M632.5 220.8l5.1 1.2 1.1-.8-5.1-1.2z" color="#b4c327"/>
<path d="M605.4 215.5l5.2 1.2 1.2-.7-5.1-1.3z" color="#9bca28"/>
<path d="M610.6 216.7l5.1 1.3 1.3-.8-5.2-1.2z" color="#adc627"/>
<path d="M615.7 218l5.2 1.2 1.2-.8-5.1-1.2z" color="#b5c327"/>
<path d="M620.9 219.2l5.2 1.2 1.2-.8-5.2-1.2z" color="#b5c327"/>
<path d="M626.1 220.4l5.2 1.2 1.2-.8-5.2-1.2z" color="#adc627"/>
<path d="M631.3 221.6l5.2 1.3 1.1-.9-5.1-1.2z" color="#9bca28"/>
<path d="M604.1 216.2l5.2 1.3 1.3-.8-5.2-1.2z" color="#80ca2c"/>
<path d="M609.3 217.5l5.2 1.2 1.2-.7-5.1-1.3z" color="#86ca2b"/>
<path d="M614.5 218.7l5.2 1.3 1.2-.8-5.2-1.2z" color="#8aca2b"/>
<path d="M619.7 220l5.2 1.2 1.2-.8-5.2-1.2z" color="#8aca2b"/>
<path d="M624.9 221.2l5.2 1.3 1.2-.9-5.2-1.2z" color="#86ca2b"/>
<path d="M630.1 222.5l5.2 1.2 1.2-.8-5.2-1.3z" color="#80ca2c"/>
<path d="M602.7 217l5.3 1.3 1.3-.8-5.2-1.3z" color="#60c738"/>
<path d="M608 218.3l5.2 1.2 1.3-.8-5.2-1.2z" color="#57c63c"/>
<path d="M613.2 219.5l5.2 1.3 1.3-.8-5.2-1.3z" color="#53c53f"/>
<path d="M618.4 220.8l5.3 1.2 1.2-.8-5.2-1.2z" color="#53c53f"/>
<path d="M623.7 222l5.2 1.3 1.2-.8-5.2-1.3z" color="#57c63c"/>
<path d="M628.9 223.3l5.2 1.2 1.2-.8-5.2-1.2z" color="#60c738"/>
<path d="M601.4 217.8l5.3 1.3 1.3-.8-5.3-1.3z" color="#3bc24b"/>
<path d="M606.7 219.1l5.2 1.2 1.3-.8-5.2-1.2z" color="#2cbd5d"/>
<path d="M611.9 220.3l5.3 1.3 1.2-.8-5.2-1.3z" color="#2aba68"/>
<path d="M617.2 221.6l5.2 1.3 1.3-.9-5.3-1.2z" color="#2aba68"/>
<path d="M622.4 222.9l5.3 1.2 1.2-.8-5.2-1.3z" color="#2cbd5d"/>
<path d="M627.7 224.1l5.3 1.3 1.1-.9-5.2-1.2z" color="#3bc24b"/>
<path d="M600 218.6l5.3 1.3 1.4-.8-5.3-1.3z" color="#2abb66"/>
<path d="M605.3 219.9l5.3 1.2 1.3-.8-5.2-1.2z" color="#22b28c"/>
<path d="M610.6 221.1l5.3 1.3 1.3-.8-5.3-1.3z" color="#1dad9e"/>
<path d="M615.9 222.4l5.3 1.3 1.2-.8-5.2-1.3z" color="#1dad9e"/>
<path d="M621.2 223.7l5.3 1.3 1.2-.9-5.3-1.2z" color="#22b28c"/>
<path d="M626.5 225l5.3 1.3 1.2-.9-5.3-1.3z" color="#2abb66"/>
<path d="M598.7 219.4l5.3 1.3 1.3-.8-5.3-1.3z" color="#23b385"/>
<path d="M604 220.7l5.3 1.2 1.3-.8-5.3-1.2z" color="#21a1ac"/>
<path d="M609.3 221.9l5.3 1.3 1.3-.8-5.3-1.3z" color="#2595b9"/>
<path d="M614.6 223.2l5.3 1.3 1.3-.8-5.3-1.3z" color="#2595b9"/>
<path d="M619.9 224.5l5.3 1.3 1.3-.8-5.3-1.3z" color="#21a1ac"/>
<path d="M625.2 225.8l5.3 1.3 1.3-.8-5.3-1.3z" color="#23b385"/>
<path d="M597.3 220.2l5.3 1.3 1.4-.8-5.3-1.3z" color="#1daca1"/>
<path d="M602.6 221.5l5.4 1.3 1.3-.9-5.3-1.2z" color="#278dc1"/>
<path d="M608 222.8l5.3 1.3 1.3-.9-5.3-1.3z" color="#297dc8"/>
<path d="M613.3 224.1l5.3 1.3 1.3-.9-5.3-1.3z" color="#297dc8"/>
<path d="M618.6 225.4l5.4 1.3 1.2-.9-5.3-1.3z" color="#278dc1"/>
<path d="M624 226.7l5.3 1.3 1.2-.9-5.3-1.3z" color="#1daca1"/>
<path d="M595.9 221l5.4 1.3 1.3-.8-5.3-1.3z" color="#219fae"/>
<path d="M601.3 222.3l5.3 1.3 1.4-.8-5.4-1.3z" color="#297ac8"/>
<path d="M606.6 223.6l5.4 1.3 1.3-.8-5.3-1.3z" color="#2a66cb"/>
<path d="M612 224.9l5.4 1.3 1.2-.8-5.3-1.3z" color="#2a66cb"/>
<path d="M617.4 226.2l5.3 1.4 1.3-.9-5.4-1.3z" color="#297ac8"/>
<path d="M622.7 227.6l5.4 1.3 1.2-.9-5.3-1.3z" color="#219fae"/>
<path d="M594.5 221.8l5.4 1.3 1.4-.8-5.4-1.3z" color="#2594ba"/>
<path d="M599.9 223.1l5.4 1.3 1.3-.8-5.3-1.3z" color="#2a68cb"/>
<path d="M605.3 224.4l5.4 1.4 1.3-.9-5.4-1.3z" color="#274bb9"/>
<path d="M610.7 225.8l5.4 1.3 1.3-.9-5.4-1.3z" color="#274bb9"/>
<path d="M616.1 227.1l5.4 1.3 1.2-.8-5.3-1.4z" color="#2a68cb"/>
<path d="M621.5 228.4l5.3 1.4 1.3-.9-5.4-1.3z" color="#2594ba"/>
<path d="M593.1 222.6l5.4 1.4 1.4-.9-5.4-1.3z" color="#288bc4"/>
<path d="M598.5 224l5.4 1.3 1.4-.9-5.4-1.3z" color="#2956c3"/>
<path d="M603.9 225.3l5.4 1.3 1.4-.8-5.4-1.4z" color="#22319f"/>
<path d="M609.3 226.6l5.4 1.4 1.4-.9-5.4-1.3z" color="#22319f"/>
<path d="M614.7 228l5.5 1.3 1.3-.9-5.4-1.3z" color="#2956c3"/>
<path d="M620.2 229.3l5.4 1.4 1.2-.9-5.3-1.4z" color="#288bc4"/>
<path d="M591.6 223.4l5.5 1.4 1.4-.8-5.4-1.4z" color="#2983c7"/>
<path d="M597.1 224.8l5.4 1.4 1.4-.9-5.4-1.3z" color="#2544b1"/>
<path d="M602.5 226.2l5.5 1.3 1.3-.9-5.4-1.3z" color="#1d1f87"/>
<path d="M608 227.5l5.4 1.4 1.3-.9-5.4-1.4z" color="#1d1f87"/>
<path d="M613.4 228.9l5.5 1.3 1.3-.9-5.5-1.3z" color="#2544b1"/>
<path d="M618.9 230.2l5.4 1.4 1.3-.9-5.4-1.4z" color="#2983c7"/>
<path d="M590.2 224.3l5.4 1.4 1.5-.9-5.5-1.4z" color="#297cc8"/>
<path d="M595.6 225.7l5.5 1.3 1.4-.8-5.4-1.4z" color="#2335a3"/>
<path d="M601.1 227l5.5 1.4 1.4-.9-5.5-1.3z" color="#18156f"/>
<path d="M606.6 228.4l5.5 1.4 1.3-.9-5.4-1.4z" color="#18156f"/>
<path d="M612.1 229.8l5.4 1.3 1.4-.9-5.5-1.3z" color="#2335a3"/>
<path d="M617.5 231.1l5.5 1.4 1.3-.9-5.4-1.4z" color="#297cc8"/>
<path d="M588.7 225.1l5.5 1.4 1.4-.8-5.4-1.4z" color="#2a77c9"/>
<path d="M594.2 226.5l5.5 1.4 1.4-.9-5.5-1.3z" color="#212c9a"/>
<path d="M599.7 227.9l5.5 1.4 1.4-.9-5.5-1.4z" color="#150f5f"/>
<path d="M605.2 229.3l5.5 1.4 1.4-.9-5.5-1.4z" color="#150f5f"/>
<path d="M610.7 230.7l5.5 1.4 1.3-1-5.4-1.3z" color="#212c9a"/>
<path d="M616.2 232.1l5.5 1.4 1.3-1-5.5-1.4z" color="#2a77c9"/>
<path d="M587.2 226l5.5 1.4 1.5-.9-5.5-1.4z" color="#2a75c9"/>
<path d="M592.7 227.4l5.6 1.4 1.4-.9-5.5-1.4z" color="#202795"/>
<path d="M598.3 228.8l5.5 1.4 1.4-.9-5.5-1.4z" color="#130b57"/>
<path d="M603.8 230.2l5.5 1.4 1.4-.9-5.5-1.4z" color="#130b57"/>
<path d="M609.3 231.6l5.6 1.4 1.3-.9-5.5-1.4z" color="#202795"/>
<path d="M614.9 233l5.5 1.4 1.3-.9-5.5-1.4z" color="#2a75c9"/>
<clipPath id="cp6"><path d="M620.4 234.4L622.7 237.3L624.7 240.4L626.4 243.7L627.7 247.1L628.7 250.6L629.4 254.0L629.6 257.5L629.5 260.8L629.0 264.0L628.1 267.0L626.8 269.8L625.2 272.3L623.3 274.5L621.1 276.4L618.6 277.9L615.9 279.0L613.1 279.6L610.0 279.9L606.9 279.7L603.8 279.1L600.7 278.1L597.6 276.7L594.5 274.9L591.7 272.8L589.0 270.4L586.5 267.6L584.3 264.7L582.4 261.5L580.8 258.2L579.5 254.8L578.6 251.3L578.1 247.8L578.0 244.4L578.2 241.1L578.9 237.9L579.9 235.0L581.2 232.3L582.9 229.9L584.9 227.7L587.2 226.0Z"/></clipPath>
<g clip-path="url(#cp6)">
<path d="M576.7 220.6l4.5 1.1 0 7.7-4.5-1.2z" color="#125e5f"/>
<path d="M581.2 221.7l4.5 1.2 0 7.6-4.5-1.1z" color="#125e5f"/>
<path d="M585.7 222.9l4.5 1.1 0 7.7-4.5-1.2z" color="#135865"/>
<path d="M590.2 224l4.6 1.1 0 7.7-4.6-1.1z" color="#183d73"/>
<path d="M594.8 225.1l4.5 1.2 0 7.6-4.5-1.1z" color="#152563"/>
<path d="M599.3 226.3l4.5 1.1 0 7.7-4.5-1.2z" color="#121756"/>
<path d="M603.8 227.4l4.5 1.2 0 7.6-4.5-1.1z" color="#121756"/>
<path d="M608.3 228.6l4.5 1.1 0 7.7-4.5-1.2z" color="#152563"/>
<path d="M612.8 229.7l4.6 1.2 0 7.6-4.6-1.1z" color="#183d73"/>
<path d="M617.4 230.9l4.5 1.1 0 7.7-4.5-1.2z" color="#135865"/>
<path d="M621.9 232l4.5 1.1 0 7.7-4.5-1.1z" color="#125e5f"/>
<path d="M626.4 233.1l4.5 1.2 0 7.7-4.5-1.2z" color="#125e5f"/>
<path d="M576.7 228.2l4.5 1.2 0 4.9-4.5-1.2z" color="#17683c"/>
<path d="M581.2 229.4l4.5 1.1 0 4.9-4.5-1.1z" color="#17683c"/>
<path d="M585.7 230.5l4.5 1.2 0 4.9-4.5-1.2z" color="#166740"/>
<path d="M590.2 231.7l4.6 1.1 0 4.9-4.6-1.1z" color="#126351"/>
<path d="M594.8 232.8l4.5 1.1 0 4.9-4.5-1.1z" color="#11605b"/>
<path d="M599.3 233.9l4.5 1.2 0 4.9-4.5-1.2z" color="#125d5e"/>
<path d="M603.8 235.1l4.5 1.1 0 4.9-4.5-1.1z" color="#125d5e"/>
<path d="M608.3 236.2l4.5 1.2 0 4.9-4.5-1.2z" color="#11605b"/>
<path d="M612.8 237.4l4.6 1.1 0 4.9-4.6-1.1z" color="#126351"/>
<path d="M617.4 238.5l4.5 1.2 0 4.9-4.5-1.2z" color="#166740"/>
<path d="M621.9 239.7l4.5 1.1 0 4.9-4.5-1.1z" color="#17683c"/>
<path d="M626.4 240.8l4.5 1.2 0 4.8-4.5-1.1z" color="#17683c"/>
<path d="M576.7 233.1l4.5 1.2 0 4.9-4.5-1.2z" color="#1a6b2d"/>
<path d="M581.2 234.3l4.5 1.1 0 4.9-4.5-1.1z" color="#1a6b2d"/>
<path d="M585.7 235.4l4.5 1.2 0 4.8-4.5-1.1z" color="#1a6a2f"/>
<path d="M590.2 236.6l4.6 1.1 0 4.9-4.6-1.2z" color="#186936"/>
<path d="M594.8 237.7l4.5 1.1 0 4.9-4.5-1.1z" color="#17673b"/>
<path d="M599.3 238.8l4.5 1.2 0 4.9-4.5-1.2z" color="#16673d"/>
<path d="M603.8 240l4.5 1.1 0 4.9-4.5-1.1z" color="#16673d"/>
<path d="M608.3 241.1l4.5 1.2 0 4.9-4.5-1.2z" color="#17673b"/>
<path d="M612.8 242.3l4.6 1.1 0 4.9-4.6-1.1z" color="#186936"/>
<path d="M617.4 243.4l4.5 1.2 0 4.9-4.5-1.2z" color="#1a6a2f"/>
<path d="M621.9 244.6l4.5 1.1 0 4.9-4.5-1.1z" color="#1a6b2d"/>
<path d="M626.4 245.7l4.5 1.1 0 4.9-4.5-1.1z" color="#1a6b2d"/>
<path d="M576.7 238l4.5 1.2 0 4.9-4.5-1.2z" color="#236b28"/>
<path d="M581.2 239.2l4.5 1.1 0 4.9-4.5-1.1z" color="#236b28"/>
<path d="M585.7 240.3l4.5 1.1 0 4.9-4.5-1.1z" color="#226b28"/>
<path d="M590.2 241.4l4.6 1.2 0 4.9-4.6-1.2z" color="#1f6a2a"/>
<path d="M594.8 242.6l4.5 1.1 0 4.9-4.5-1.1z" color="#1d6a2b"/>
<path d="M599.3 243.7l4.5 1.2 0 4.9-4.5-1.2z" color="#1c6a2c"/>
<path d="M603.8 244.9l4.5 1.1 0 4.9-4.5-1.1z" color="#1c6a2c"/>
<path d="M608.3 246l4.5 1.2 0 4.9-4.5-1.2z" color="#1d6a2b"/>
<path d="M612.8 247.2l4.6 1.1 0 4.9-4.6-1.1z" color="#1f6a2a"/>
<path d="M617.4 248.3l4.5 1.2 0 4.8-4.5-1.1z" color="#226b28"/>
<path d="M621.9 249.5l4.5 1.1 0 4.9-4.5-1.2z" color="#236b28"/>
<path d="M626.4 250.6l4.5 1.1 0 4.9-4.5-1.1z" color="#236b28"/>
<path d="M576.7 242.9l4.5 1.2 0 4.8-4.5-1.1z" color="#296b24"/>
<path d="M581.2 244.1l4.5 1.1 0 4.9-4.5-1.2z" color="#296b24"/>
<path d="M585.7 245.2l4.5 1.1 0 4.9-4.5-1.1z" color="#296b24"/>
<path d="M590.2 246.3l4.6 1.2 0 4.9-4.6-1.2z" color="#276b25"/>
<path d="M594.8 247.5l4.5 1.1 0 4.9-4.5-1.1z" color="#266a26"/>
<path d="M599.3 248.6l4.5 1.2 0 4.9-4.5-1.2z" color="#266a26"/>
<path d="M603.8 249.8l4.5 1.1 0 4.9-4.5-1.1z" color="#266a26"/>
<path d="M608.3 250.9l4.5 1.2 0 4.9-4.5-1.2z" color="#266a26"/>
<path d="M612.8 252.1l4.6 1.1 0 4.9-4.6-1.1z" color="#276b25"/>
<path d="M617.4 253.2l4.5 1.1 0 4.9-4.5-1.1z" color="#296b24"/>
<path d="M621.9 254.3l4.5 1.2 0 4.9-4.5-1.2z" color="#296b24"/>
<path d="M626.4 255.5l4.5 1.1 0 4.9-4.5-1.1z" color="#296b24"/>
<path d="M576.7 247.8l4.5 1.1 0 4.9-4.5-1.1z" color="#2d6a22"/>
<path d="M581.2 248.9l4.5 1.2 0 4.9-4.5-1.2z" color="#2d6a22"/>
<path d="M585.7 250.1l4.5 1.1 0 4.9-4.5-1.1z" color="#2d6a22"/>
<path d="M590.2 251.2l4.6 1.2 0 4.9-4.6-1.2z" color="#2c6a22"/>
<path d="M594.8 252.4l4.5 1.1 0 4.9-4.5-1.1z" color="#2c6a22"/>
<path d="M599.3 253.5l4.5 1.2 0 4.9-4.5-1.2z" color="#2c6a22"/>
<path d="M603.8 254.7l4.5 1.1 0 4.9-4.5-1.1z" color="#2c6a22"/>
<path d="M608.3 255.8l4.5 1.2 0 4.8-4.5-1.1z" color="#2c6a22"/>
<path d="M612.8 257l4.6 1.1 0 4.9-4.6-1.2z" color="#2c6a22"/>
<path d="M617.4 258.1l4.5 1.1 0 4.9-4.5-1.1z" color="#2d6a22"/>
<path d="M621.9 259.2l4.5 1.2 0 4.9-4.5-1.2z" color="#2d6a22"/>
<path d="M626.4 260.4l4.5 1.1 0 4.9-4.5-1.1z" color="#2d6a22"/>
<path d="M576.7 252.7l4.5 1.1 0 4.9-4.5-1.1z" color="#306a20"/>
<path d="M581.2 253.8l4.5 1.2 0 4.9-4.5-1.2z" color="#306a20"/>
<path d="M585.7 255l4.5 1.1 0 4.9-4.5-1.1z" color="#306a20"/>
<path d="M590.2 256.1l4.6 1.2 0 4.9-4.6-1.2z" color="#306a20"/>
<path d="M594.8 257.3l4.5 1.1 0 4.9-4.5-1.1z" color="#2f6a20"/>
<path d="M599.3 258.4l4.5 1.2 0 4.8-4.5-1.1z" color="#2f6a20"/>
<path d="M603.8 259.6l4.5 1.1 0 4.9-4.5-1.2z" color="#2f6a20"/>
<path d="M608.3 260.7l4.5 1.1 0 4.9-4.5-1.1z" color="#2f6a20"/>
<path d="M612.8 261.8l4.6 1.2 0 4.9-4.6-1.2z" color="#306a20"/>
<path d="M617.4 263l4.5 1.1 0 4.9-4.5-1.1z" color="#306a20"/>
<path d="M621.9 264.1l4.5 1.2 0 4.9-4.5-1.2z" color="#306a20"/>
<path d="M626.4 265.3l4.5 1.1 0 4.9-4.5-1.1z" color="#306a20"/>
<path d="M576.7 257.6l4.5 1.1 0 4.9-4.5-1.1z" color="#32691e"/>
<path d="M581.2 258.7l4.5 1.2 0 4.9-4.5-1.2z" color="#32691e"/>
<path d="M585.7 259.9l4.5 1.1 0 4.9-4.5-1.1z" color="#32691e"/>
<path d="M590.2 261l4.6 1.2 0 4.9-4.6-1.2z" color="#32691e"/>
<path d="M594.8 262.2l4.5 1.1 0 4.9-4.5-1.1z" color="#32691e"/>
<path d="M599.3 263.3l4.5 1.1 0 4.9-4.5-1.1z" color="#32691e"/>
<path d="M603.8 264.4l4.5 1.2 0 4.9-4.5-1.2z" color="#32691e"/>
<path d="M608.3 265.6l4.5 1.1 0 4.9-4.5-1.1z" color="#32691e"/>
<path d="M612.8 266.7l4.6 1.2 0 4.9-4.6-1.2z" color="#32691e"/>
<path d="M617.4 267.9l4.5 1.1 0 4.9-4.5-1.1z" color="#32691e"/>
<path d="M621.9 269l4.5 1.2 0 4.9-4.5-1.2z" color="#32691e"/>
<path d="M626.4 270.2l4.5 1.1 0 4.9-4.5-1.1z" color="#32691e"/>
<path d="M576.7 262.5l4.5 1.1 0 4.9-4.5-1.1z" color="#33681d"/>
<path d="M581.2 263.6l4.5 1.2 0 4.9-4.5-1.2z" color="#33681d"/>
<path d="M585.7 264.8l4.5 1.1 0 4.9-4.5-1.1z" color="#33681d"/>
<path d="M590.2 265.9l4.6 1.2 0 4.8-4.6-1.1z" color="#33681d"/>
<path d="M594.8 267.1l4.5 1.1 0 4.9-4.5-1.2z" color="#33681d"/>
<path d="M599.3 268.2l4.5 1.1 0 4.9-4.5-1.1z" color="#33681d"/>
<path d="M603.8 269.3l4.5 1.2 0 4.9-4.5-1.2z" color="#33681d"/>
<path d="M608.3 270.5l4.5 1.1 0 4.9-4.5-1.1z" color="#33681d"/>
<path d="M612.8 271.6l4.6 1.2 0 4.9-4.6-1.2z" color="#33681d"/>
<path d="M617.4 272.8l4.5 1.1 0 4.9-4.5-1.1z" color="#33681d"/>
<path d="M621.9 273.9l4.5 1.2 0 4.9-4.5-1.2z" color="#33681d"/>
<path d="M626.4 275.1l4.5 1.1 0 4.9-4.5-1.1z" color="#33681d"/>
<path d="M576.7 267.4l4.5 1.1 0 7.7-4.5-1.2z" color="#35671b"/>
<path d="M581.2 268.5l4.5 1.2 0 7.6-4.5-1.1z" color="#35671b"/>
<path d="M585.7 269.7l4.5 1.1 0 7.7-4.5-1.2z" color="#35671b"/>
<path d="M590.2 270.8l4.6 1.1 0 7.7-4.6-1.1z" color="#35671b"/>
<path d="M594.8 271.9l4.5 1.2 0 7.7-4.5-1.2z" color="#35671b"/>
<path d="M599.3 273.1l4.5 1.1 0 7.7-4.5-1.1z" color="#35671b"/>
<path d="M603.8 274.2l4.5 1.2 0 7.6-4.5-1.1z" color="#35671b"/>
<path d="M608.3 275.4l4.5 1.1 0 7.7-4.5-1.2z" color="#35671b"/>
<path d="M612.8 276.5l4.6 1.2 0 7.6-4.6-1.1z" color="#35671b"/>
<path d="M617.4 277.7l4.5 1.1 0 7.7-4.5-1.2z" color="#35671b"/>
<path d="M621.9 278.8l4.5 1.2 0 7.6-4.5-1.1z" color="#35671b"/>
<path d="M626.4 280l4.5 1.1 0 7.7-4.5-1.2z" color="#35671b"/>
</g>
<path d="M647.6 186.5l3.7 2.1 3.7 1.6 3.7 1 3.7 .4 3.7-.1 .9-.5-3.7 .2-3.7-.4-3.6-1-3.7-1.6-3.7-2.2z" color="#2a56c8"/>
<path d="M646.7 186.8l3.7 2.1 3.7 1.6 3.7 1 3.7 .4 3.7-.1 .9-.3-3.7 .1-3.7-.4-3.7-1-3.7-1.6-3.7-2.1z" color="#2c5dd1"/>
<path d="M645.7 187l3.7 2.1 3.7 1.5 3.8 1.1 3.7 .4 3.7 0 .9-.3-3.7 .1-3.7-.4-3.7-1-3.7-1.6-3.7-2.1z" color="#2f68df"/>
<path d="M644.7 187.2l3.8 2 3.7 1.5 3.7 1 3.7 .5 3.8 .1 .9-.2-3.7 0-3.7-.4-3.8-1.1-3.7-1.5-3.7-2.1z" color="#2f73e2"/>
<path d="M643.7 187.3l3.8 1.9 3.7 1.5 3.8 1 3.7 .6 3.7 .1 1-.1-3.8-.1-3.7-.5-3.7-1-3.7-1.5-3.8-2z" color="#3082e5"/>
<path d="M642.7 187.3l3.8 1.8 3.7 1.5 3.8 1 3.8 .6 3.7 .2 .9 0-3.7-.1-3.7-.6-3.8-1-3.7-1.5-3.8-1.9z" color="#3093e8"/>
<path d="M641.7 187.3l3.8 1.7 3.8 1.4 3.7 1 3.8 .7 3.8 .3 .9 0-3.7-.2-3.8-.6-3.8-1-3.7-1.5-3.8-1.8z" color="#2ea6e3"/>
<path d="M640.7 187.2l3.8 1.6 3.8 1.3 3.8 1 3.7 .8 3.8 .4 1 .1-3.8-.3-3.8-.7-3.7-1-3.8-1.4-3.8-1.7z" color="#29bbd3"/>
<path d="M639.7 187l3.8 1.5 3.8 1.3 3.8 1 3.8 .8 3.8 .6 .9 .1-3.8-.4-3.7-.8-3.8-1-3.8-1.3-3.8-1.6z" color="#23d0c0"/>
<path d="M638.7 186.8l3.8 1.4 3.8 1.2 3.8 1 3.8 .9 3.8 .7 1 .2-3.8-.6-3.8-.8-3.8-1-3.8-1.3-3.8-1.5z" color="#2edd93"/>
<path d="M637.6 186.6l3.8 1.2 3.9 1.1 3.8 1.1 3.8 .9 3.8 .9 1 .2-3.8-.7-3.8-.9-3.8-1-3.8-1.2-3.8-1.4z" color="#39eb64"/>
<path d="M636.6 186.4l3.8 1.1 3.8 1 3.9 1 3.8 1.1 3.8 1 1 .2-3.8-.9-3.8-.9-3.8-1.1-3.9-1.1-3.8-1.2z" color="#70f347"/>
<path d="M636.6 186.4l19.1 5.2 11.3-5.6-18.4-5z" fill="#d6d3c6" stroke="none" fill-opacity="0.5"/>
<path d="M608 199.2l21 5.8 26.7-13.4-19.1-5.2z" fill="#d6d3c6" stroke="none" fill-opacity="0.5"/>
<path d="M635.5 186.2l3.8 .9 3.9 .9 3.8 1.1 3.9 1.1 3.8 1.2 1 .2-3.8-1-3.8-1.1-3.9-1-3.8-1-3.8-1.1z" color="#a9f735"/>
<path d="M634.4 186l3.9 .7 3.8 .9 3.9 1.1 3.9 1.2 3.8 1.3 1 .2-3.8-1.2-3.9-1.1-3.8-1.1-3.9-.9-3.8-.9z" color="#deee2f"/>
<path d="M633.3 185.8l3.9 .6 3.9 .8 3.9 1.1 3.8 1.3 3.9 1.5 1 .1-3.8-1.3-3.9-1.2-3.9-1.1-3.8-.9-3.9-.7z" color="#ffd42e"/>
<path d="M632.2 185.6l3.9 .5 3.9 .7 3.9 1.1 3.9 1.4 3.9 1.6 1 .2-3.9-1.5-3.8-1.3-3.9-1.1-3.9-.8-3.9-.6z" color="#ffa624"/>
<path d="M631.1 185.5l3.9 .3 3.9 .7 3.9 1.1 4 1.4 3.9 1.9 1 0-3.9-1.6-3.9-1.4-3.9-1.1-3.9-.7-3.9-.5z" color="#f97718"/>
<path d="M630 185.5l3.9 .2 4 .6 3.9 1.1 3.9 1.5 3.9 1.9 1.1 .1-3.9-1.9-4-1.4-3.9-1.1-3.9-.7-3.9-.3z" color="#e94c0c"/>
<path d="M628.9 185.5l3.9 .1 4 .6 3.9 1 3.9 1.6 4 2.1 1-.1-3.9-1.9-3.9-1.5-3.9-1.1-4-.6-3.9-.2z" color="#d13308"/>
<path d="M627.8 185.6l3.9 0 4 .5 3.9 1.1 4 1.6 3.9 2.2 1.1-.1-4-2.1-3.9-1.6-3.9-1-4-.6-3.9-.1z" color="#bc1d05"/>
<path d="M626.6 185.7l4 0 3.9 .5 4 1.1 4 1.6 3.9 2.3 1.1-.2-3.9-2.2-4-1.6-3.9-1.1-4-.5-3.9 0z" color="#9d1403"/>
<path d="M625.5 186l3.9-.1 4 .5 4 1 4 1.7 3.9 2.3 1.1-.2-3.9-2.3-4-1.6-4-1.1-3.9-.5-4 0z" color="#830e01"/>
<path d="M624.3 186.4l4-.2 4 .5 4 1 4 1.8 3.9 2.3 1.1-.4-3.9-2.3-4-1.7-4-1-4-.5-3.9 .1z" color="#710b01"/>
<path d="M623.1 186.8l4-.2 4 .5 4 1.1 4 1.7 4 2.4 1.1-.5-3.9-2.3-4-1.8-4-1-4-.5-4 .2z" color="#670900"/>
<path d="M621.9 187.4l4-.2 4.1 .5 4 1.1 4 1.7 4 2.4 1.1-.6-4-2.4-4-1.7-4-1.1-4-.5-4 .2z" color="#650800"/>
<path d="M620.7 188l4.1-.1 4 .5 4 1.1 4.1 1.7 4 2.4 1.1-.7-4-2.4-4-1.7-4-1.1-4.1-.5-4 .2z" color="#690a01"/>
<path d="M619.5 188.8l4.1-.1 4 .5 4.1 1.1 4 1.7 4.1 2.3 1.1-.7-4-2.4-4.1-1.7-4-1.1-4-.5-4.1 .1z" color="#740d01"/>
<path d="M618.3 189.6l4 0 4.1 .6 4.1 1.1 4 1.7 4.1 2.2 1.2-.9-4.1-2.3-4-1.7-4.1-1.1-4-.5-4.1 .1z" color="#851102"/>
<path d="M617 190.6l4.1 .1 4.1 .6 4.1 1.1 4.1 1.6 4.1 2.2 1.1-1-4.1-2.2-4-1.7-4.1-1.1-4.1-.6-4 0z" color="#981804"/>
<path d="M615.8 191.6l4.1 .2 4.1 .7 4.1 1.1 4.1 1.6 4.1 2.1 1.2-1.1-4.1-2.2-4.1-1.6-4.1-1.1-4.1-.6-4.1-.1z" color="#a32706"/>
<path d="M614.5 192.7l4.1 .4 4.2 .7 4.1 1.1 4.1 1.6 4.1 1.9 1.2-1.1-4.1-2.1-4.1-1.6-4.1-1.1-4.1-.7-4.1-.2z" color="#af3909"/>
<path d="M613.2 193.9l4.2 .5 4.1 .8 4.1 1.2 4.2 1.4 4.1 1.8 1.2-1.2-4.1-1.9-4.1-1.6-4.1-1.1-4.2-.7-4.1-.4z" color="#b65711"/>
<path d="M611.9 195.2l4.2 .6 4.1 .9 4.2 1.2 4.1 1.3 4.2 1.7 1.2-1.3-4.1-1.8-4.2-1.4-4.1-1.2-4.1-.8-4.2-.5z" color="#bb761a"/>
<path d="M610.6 196.5l4.2 .8 4.2 1 4.1 1.1 4.2 1.3 4.2 1.5 1.2-1.3-4.2-1.7-4.1-1.3-4.2-1.2-4.1-.9-4.2-.6z" color="#b79320"/>
<path d="M609.3 197.9l4.2 .9 4.2 1.1 4.2 1.1 4.2 1.3 4.1 1.3 1.3-1.4-4.2-1.5-4.2-1.3-4.1-1.1-4.2-1-4.2-.8z" color="#99a321"/>
<path d="M608 199.2l4.2 1.2 4.2 1.1 4.2 1.2 4.2 1.1 4.2 1.2 1.2-1.4-4.1-1.3-4.2-1.3-4.2-1.1-4.2-1.1-4.2-.9z" color="#74a924"/>
<path d="M606.7 200.6l4.2 1.3 4.2 1.3 4.2 1.2 4.2 1 4.2 1 1.3-1.4-4.2-1.2-4.2-1.1-4.2-1.2-4.2-1.1-4.2-1.2z" color="#4da631"/>
<path d="M605.3 202l4.2 1.5 4.3 1.4 4.2 1.1 4.2 1 4.3 .8 1.2-1.4-4.2-1-4.2-1-4.2-1.2-4.2-1.3-4.2-1.3z" color="#27a145"/>
<path d="M603.9 203.4l4.3 1.7 4.2 1.4 4.3 1.2 4.2 .9 4.3 .6 1.3-1.4-4.3-.8-4.2-1-4.2-1.1-4.3-1.4-4.2-1.5z" color="#209a67"/>
<path d="M602.5 204.7l4.3 1.9 4.3 1.5 4.3 1.2 4.2 .8 4.3 .5 1.3-1.4-4.3-.6-4.2-.9-4.3-1.2-4.2-1.4-4.3-1.7z" color="#199488"/>
<path d="M601.1 206l4.3 2.1 4.3 1.6 4.3 1.2 4.3 .7 4.3 .3 1.3-1.3-4.3-.5-4.2-.8-4.3-1.2-4.3-1.5-4.3-1.9z" color="#1e889a"/>
<path d="M599.7 207.3l4.3 2.2 4.3 1.7 4.3 1.1 4.4 .7 4.3 .2 1.3-1.3-4.3-.3-4.3-.7-4.3-1.2-4.3-1.6-4.3-2.1z" color="#237dab"/>
<path d="M598.3 208.5l4.3 2.3 4.3 1.8 4.4 1.1 4.3 .7 4.3 .1 1.4-1.3-4.3-.2-4.4-.7-4.3-1.1-4.3-1.7-4.3-2.2z" color="#2572b5"/>
<path d="M596.8 209.6l4.4 2.5 4.3 1.8 4.4 1.2 4.3 .5 4.4 0 1.3-1.1-4.3-.1-4.3-.7-4.4-1.1-4.3-1.8-4.3-2.3z" color="#2769ba"/>
<path d="M595.4 210.7l4.3 2.5 4.4 1.9 4.4 1.2 4.3 .5 4.4-.1 1.4-1.1-4.4 0-4.3-.5-4.4-1.2-4.3-1.8-4.4-2.5z" color="#2861c0"/>
<path d="M593.9 211.6l4.4 2.6 4.4 1.9 4.3 1.2 4.4 .6 4.4-.2 1.4-1-4.4 .1-4.3-.5-4.4-1.2-4.4-1.9-4.3-2.5z" color="#295cc5"/>
<path d="M592.4 212.5l4.4 2.6 4.4 2 4.4 1.2 4.4 .5 4.4-.2 1.4-.9-4.4 .2-4.4-.6-4.3-1.2-4.4-1.9-4.4-2.6z" color="#2956c2"/>
<path d="M590.9 213.3l4.4 2.6 4.4 2 4.5 1.2 4.4 .5 4.4-.2 1.4-.8-4.4 .2-4.4-.5-4.4-1.2-4.4-2-4.4-2.6z" color="#2954c3"/>
<path d="M590.9 206.9l22.1 6.1 16-8-21-5.8z" fill="#d6d3c6" stroke="none" fill-opacity="0.5"/></g>
<text x="631.6" y="319.4" font-family="Liberation Serif, serif" font-size="14" letter-spacing="0.3" text-anchor="middle" fill="#1a1a1a">(<tspan font-style="italic">f</tspan>)</text>
<g stroke-width="0.5" fill="none">
<line x1="588" y1="303.8" x2="587.7" y2="294.8" stroke="#b8f0b8"/>
<line x1="588" y1="303.8" x2="592.6" y2="300.5" stroke="#ece27a"/>
<line x1="588" y1="303.8" x2="596.6" y2="305.9" stroke="#ff8a8a" stroke-dasharray="1.1 0.7"/>
</g>
<circle cx="587.6" cy="294.0" r="1.15" fill="#22cc33"/>
<circle cx="592.5" cy="300.5" r="0.85" fill="#d4c81c"/>
<circle cx="597.1" cy="306.1" r="1.15" fill="#ee2222"/>
<g stroke="#555" stroke-width="0.45" fill="none"><path d="M588.6 292.5h1.3l-1.3 1.5h1.3M593.6 298.2l.7 .9m.7-.9l-1.2 1.9M598.0 304.0l1.5 1.6m0-1.6l-1.5 1.6"/></g>
<g fill="currentColor" stroke="currentColor" stroke-width="0.7" stroke-linejoin="round"><path d="M395.1 376.3l2.3-1.8-.2 .5-2.2 1.9z" color="#2857bf"/>
<path d="M395 376.9l2.2-1.9-.2 .5-2.2 1.9z" color="#2654b6"/>
<path d="M394.8 377.4l2.2-1.9-.2 .5-2.3 1.9z" color="#234fa9"/>
<path d="M394.5 377.9l2.3-1.9-.2 .5-2.3 1.9z" color="#204898"/>
<path d="M394.3 378.4l2.3-1.9-.3 .5-2.3 1.9z" color="#1c4086"/>
<path d="M394 378.9l2.3-1.9-.3 .5-2.2 1.8z" color="#183873"/>
<path d="M393.8 379.3l2.2-1.8-.2 .4-2.3 1.9z" color="#142f5e"/>
<path d="M392.8 378.2l2.3-1.9-.1 .6-2.4 1.8z" color="#295dc4"/>
<path d="M392.6 378.7l2.4-1.8-.2 .5-2.4 1.9z" color="#2659b8"/>
<path d="M392.4 379.3l2.4-1.9-.3 .5-2.3 1.9z" color="#2353a9"/>
<path d="M392.2 379.8l2.3-1.9-.2 .5-2.3 1.9z" color="#204c98"/>
<path d="M392 380.3l2.3-1.9-.3 .5-2.3 1.9z" color="#1c4386"/>
<path d="M391.7 380.8l2.3-1.9-.2 .4-2.4 1.9z" color="#183a73"/>
<path d="M391.4 381.2l2.4-1.9-.3 .5-2.4 1.9z" color="#14315e"/>
<path d="M390.5 380.1l2.3-1.9-.2 .5-2.3 2z" color="#2966c3"/>
<path d="M390.3 380.7l2.3-2-.2 .6-2.3 1.9z" color="#2661b7"/>
<path d="M390.1 381.2l2.3-1.9-.2 .5-2.4 1.9z" color="#235aa8"/>
<path d="M389.8 381.7l2.4-1.9-.2 .5-2.4 1.9z" color="#1f5297"/>
<path d="M389.6 382.2l2.4-1.9-.3 .5-2.4 1.9z" color="#1c4985"/>
<path d="M389.3 382.7l2.4-1.9-.3 .4-2.4 2z" color="#184072"/>
<path d="M389 383.2l2.4-2-.3 .5-2.3 1.9z" color="#13355e"/>
<path d="M388 382.1l2.5-2-.2 .6-2.5 1.9z" color="#2873c1"/>
<path d="M387.8 382.6l2.5-1.9-.2 .5-2.5 2z" color="#256db5"/>
<path d="M387.6 383.2l2.5-2-.3 .5-2.4 2z" color="#2265a7"/>
<path d="M387.4 383.7l2.4-2-.2 .5-2.4 2z" color="#1f5c96"/>
<path d="M387.2 384.2l2.4-2-.3 .5-2.4 2z" color="#1b5284"/>
<path d="M386.9 384.7l2.4-2-.3 .5-2.4 2z" color="#174771"/>
<path d="M386.6 385.2l2.4-2-.2 .4-2.5 2z" color="#133b5d"/>
<path d="M385.5 384.1l2.5-2-.2 .5-2.5 2z" color="#2784be"/>
<path d="M385.3 384.6l2.5-2-.2 .6-2.5 2z" color="#247db1"/>
<path d="M385.1 385.2l2.5-2-.2 .5-2.5 2z" color="#2174a2"/>
<path d="M384.9 385.7l2.5-2-.2 .5-2.5 2z" color="#1e6992"/>
<path d="M384.7 386.2l2.5-2-.3 .5-2.5 2z" color="#1a5d80"/>
<path d="M384.4 386.7l2.5-2-.3 .5-2.5 2z" color="#16506d"/>
<path d="M384.1 387.2l2.5-2-.3 .4-2.5 2.1z" color="#124259"/>
<path d="M383 386.2l2.5-2.1-.2 .5-2.5 2.1z" color="#2196aa"/>
<path d="M382.8 386.7l2.5-2.1-.2 .6-2.5 2.1z" color="#1f8e9f"/>
<path d="M382.6 387.3l2.5-2.1-.2 .5-2.5 2.1z" color="#1c8392"/>
<path d="M382.4 387.8l2.5-2.1-.2 .5-2.6 2.1z" color="#197783"/>
<path d="M382.1 388.3l2.6-2.1-.3 .5-2.6 2.1z" color="#166973"/>
<path d="M381.8 388.8l2.6-2.1-.3 .5-2.6 2.1z" color="#135a62"/>
<path d="M381.5 389.3l2.6-2.1-.3 .5-2.6 2.1z" color="#0f4b50"/>
<path d="M380.4 388.3l2.6-2.1-.2 .5-2.6 2.1z" color="#1ea98f"/>
<path d="M380.2 388.8l2.6-2.1-.2 .6-2.6 2.1z" color="#1d9f85"/>
<path d="M380 389.4l2.6-2.1-.2 .5-2.7 2.1z" color="#1b927a"/>
<path d="M379.7 389.9l2.7-2.1-.3 .5-2.6 2.1z" color="#18846d"/>
<path d="M379.5 390.4l2.6-2.1-.3 .5-2.6 2.1z" color="#16755f"/>
<path d="M379.2 390.9l2.6-2.1-.3 .5-2.6 2.1z" color="#136451"/>
<path d="M378.9 391.4l2.6-2.1-.3 .5-2.6 2.1z" color="#0f5242"/>
<path d="M377.7 390.4l2.7-2.1-.2 .5-2.7 2.2z" color="#29b45f"/>
<path d="M377.5 391l2.7-2.2-.2 .6-2.7 2.2z" color="#27aa59"/>
<path d="M377.3 391.6l2.7-2.2-.3 .5-2.6 2.2z" color="#249c51"/>
<path d="M377.1 392.1l2.6-2.2-.2 .5-2.7 2.2z" color="#208d49"/>
<path d="M376.8 392.6l2.7-2.2-.3 .5-2.7 2.2z" color="#1d7c40"/>
<path d="M376.5 393.1l2.7-2.2-.3 .5-2.7 2.2z" color="#196b36"/>
<path d="M376.2 393.6l2.7-2.2-.3 .5-2.7 2.2z" color="#14582c"/>
<path d="M375 392.6l2.7-2.2-.2 .6-2.7 2.2z" color="#52be3b"/>
<path d="M374.8 393.2l2.7-2.2-.2 .6-2.8 2.2z" color="#4db238"/>
<path d="M374.5 393.8l2.8-2.2-.2 .5-2.8 2.2z" color="#47a433"/>
<path d="M374.3 394.3l2.8-2.2-.3 .5-2.8 2.3z" color="#40942e"/>
<path d="M374 394.9l2.8-2.3-.3 .5-2.7 2.3z" color="#398328"/>
<path d="M373.8 395.4l2.7-2.3-.3 .5-2.7 2.3z" color="#317022"/>
<path d="M373.5 395.9l2.7-2.3-.3 .5-2.8 2.3z" color="#285c1c"/>
<path d="M372.1 394.9l2.9-2.3-.2 .6-2.9 2.3z" color="#83c22a"/>
<path d="M371.9 395.5l2.9-2.3-.3 .6-2.8 2.3z" color="#7bb627"/>
<path d="M371.7 396.1l2.8-2.3-.2 .5-2.8 2.3z" color="#71a824"/>
<path d="M371.5 396.6l2.8-2.3-.3 .6-2.8 2.3z" color="#669720"/>
<path d="M371.2 397.2l2.8-2.3-.2 .5-2.9 2.3z" color="#59851d"/>
<path d="M370.9 397.7l2.9-2.3-.3 .5-2.9 2.3z" color="#4c7218"/>
<path d="M370.6 398.2l2.9-2.3-.4 .5-2.8 2.3z" color="#3f5e14"/>
<path d="M369.3 397.3l2.8-2.4-.2 .6-2.9 2.3z" color="#abbd25"/>
<path d="M369 397.8l2.9-2.3-.2 .6-2.9 2.3z" color="#a0b223"/>
<path d="M368.8 398.4l2.9-2.3-.2 .5-2.9 2.4z" color="#93a420"/>
<path d="M368.6 399l2.9-2.4-.3 .6-2.9 2.3z" color="#84941d"/>
<path d="M368.3 399.5l2.9-2.3-.3 .5-2.9 2.4z" color="#74821a"/>
<path d="M368 400.1l2.9-2.4-.3 .5-2.9 2.4z" color="#637016"/>
<path d="M367.7 400.6l2.9-2.4-.3 .5-2.9 2.4z" color="#515c12"/>
<path d="M366.3 399.7l3-2.4-.3 .5-2.9 2.5z" color="#cdae25"/>
<path d="M366.1 400.3l2.9-2.5-.2 .6-2.9 2.4z" color="#c0a423"/>
<path d="M365.9 400.8l2.9-2.4-.2 .6-3 2.4z" color="#b09720"/>
<path d="M365.6 401.4l3-2.4-.3 .5-3 2.5z" color="#9e891d"/>
<path d="M365.3 402l3-2.5-.3 .6-3 2.4z" color="#8b791a"/>
<path d="M365 402.5l3-2.4-.3 .5-3 2.4z" color="#766716"/>
<path d="M364.7 403l3-2.4-.3 .5-3 2.4z" color="#615512"/>
<path d="M363.2 402.1l3.1-2.4-.2 .6-3.1 2.4z" color="#d1901f"/>
<path d="M363 402.7l3.1-2.4-.2 .5-3.1 2.5z" color="#c5891e"/>
<path d="M362.8 403.3l3.1-2.5-.3 .6-3 2.5z" color="#b57f1c"/>
<path d="M362.6 403.9l3-2.5-.3 .6-3 2.4z" color="#a37319"/>
<path d="M362.3 404.4l3-2.4-.3 .5-3 2.5z" color="#906616"/>
<path d="M362 405l3-2.5-.3 .5-3 2.5z" color="#7b5813"/>
<path d="M361.7 405.5l3-2.5-.3 .5-3.1 2.5z" color="#654910"/>
<path d="M360.1 404.7l3.1-2.6-.2 .6-3.1 2.6z" color="#cf7419"/>
<path d="M359.9 405.3l3.1-2.6-.2 .6-3.1 2.6z" color="#c36f18"/>
<path d="M359.7 405.9l3.1-2.6-.2 .6-3.2 2.5z" color="#b46716"/>
<path d="M359.4 406.4l3.2-2.5-.3 .5-3.2 2.6z" color="#a35e14"/>
<path d="M359.1 407l3.2-2.6-.3 .6-3.2 2.5z" color="#905412"/>
<path d="M358.8 407.5l3.2-2.5-.3 .5-3.2 2.6z" color="#7b4810"/>
<path d="M358.5 408.1l3.2-2.6-.4 .5-3.1 2.6z" color="#653c0d"/>
<path d="M356.9 407.3l3.2-2.6-.2 .6-3.2 2.6z" color="#c75b12"/>
<path d="M356.7 407.9l3.2-2.6-.2 .6-3.3 2.6z" color="#bc5711"/>
<path d="M356.4 408.5l3.3-2.6-.3 .5-3.2 2.7z" color="#ad5110"/>
<path d="M356.2 409.1l3.2-2.7-.3 .6-3.2 2.6z" color="#9d4b0f"/>
<path d="M355.9 409.6l3.2-2.6-.3 .5-3.2 2.7z" color="#8a430d"/>
<path d="M355.6 410.2l3.2-2.7-.3 .6-3.2 2.6z" color="#773a0c"/>
<path d="M355.3 410.7l3.2-2.6-.3 .5-3.3 2.6z" color="#62310a"/>
<path d="M353.6 409.9l3.3-2.6-.2 .6-3.3 2.6z" color="#c1470c"/>
<path d="M353.4 410.5l3.3-2.6-.3 .6-3.3 2.7z" color="#b6440c"/>
<path d="M353.1 411.2l3.3-2.7-.2 .6-3.3 2.6z" color="#a8410b"/>
<path d="M352.9 411.7l3.3-2.6-.3 .5-3.3 2.7z" color="#983c0b"/>
<path d="M352.6 412.3l3.3-2.7-.3 .6-3.3 2.7z" color="#86360a"/>
<path d="M352.3 412.9l3.3-2.7-.3 .5-3.3 2.7z" color="#732f09"/>
<path d="M352 413.4l3.3-2.7-.4 .5-3.3 2.8z" color="#5f2807"/>
<path d="M350.2 412.7l3.4-2.8-.2 .6-3.4 2.8z" color="#bc3b09"/>
<path d="M350 413.3l3.4-2.8-.3 .7-3.4 2.7z" color="#b13809"/>
<path d="M349.7 413.9l3.4-2.7-.2 .5-3.4 2.8z" color="#a43508"/>
<path d="M349.5 414.5l3.4-2.8-.3 .6-3.4 2.8z" color="#953108"/>
<path d="M349.2 415.1l3.4-2.8-.3 .6-3.4 2.8z" color="#832d07"/>
<path d="M348.9 415.7l3.4-2.8-.3 .5-3.5 2.8z" color="#712706"/>
<path d="M348.5 416.2l3.5-2.8-.4 .6-3.4 2.8z" color="#5d2106"/>
<path d="M346.7 415.5l3.5-2.8-.2 .6-3.5 2.8z" color="#b83608"/>
<path d="M346.5 416.1l3.5-2.8-.3 .6-3.5 2.9z" color="#ae3408"/>
<path d="M346.2 416.8l3.5-2.9-.2 .6-3.5 2.9z" color="#a13107"/>
<path d="M346 417.4l3.5-2.9-.3 .6-3.5 2.9z" color="#922d07"/>
<path d="M345.7 418l3.5-2.9-.3 .6-3.5 2.8z" color="#812906"/>
<path d="M345.4 418.5l3.5-2.8-.4 .5-3.5 2.9z" color="#6f2405"/>
<path d="M345 419.1l3.5-2.9-.3 .6-3.5 2.8z" color="#5c1e05"/>
<path d="M361.2 368l35.1 7.4 1.1-.9-34.9-7.3z" color="#2959c5"/>
<path d="M359.9 368.8l35.2 7.5 1.2-.9-35.1-7.4z" color="#2a5ac7"/>
<path d="M358.5 369.6l35.5 7.7 1.1-1-35.2-7.5z" color="#2a5ecb"/>
<path d="M357.2 370.4l35.6 7.8 1.2-.9-35.5-7.7z" color="#2b62cb"/>
<path d="M355.8 371.2l35.8 8 1.2-1-35.6-7.8z" color="#2a67cb"/>
<path d="M354.4 372.1l36.1 8 1.1-.9-35.8-8z" color="#2a6cca"/>
<path d="M353 372.9l36.2 8.2 1.3-1-36.1-8z" color="#2a73c9"/>
<path d="M351.6 373.7l36.4 8.4 1.2-1-36.2-8.2z" color="#297bc8"/>
<path d="M350.2 374.6l36.6 8.5 1.2-1-36.4-8.4z" color="#2984c7"/>
<path d="M348.7 375.5l36.8 8.6 1.3-1-36.6-8.5z" color="#278dc1"/>
<path d="M347.3 376.4l37 8.7 1.2-1-36.8-8.6z" color="#2497b7"/>
<path d="M345.8 377.3l37.2 8.9 1.3-1.1-37-8.7z" color="#21a1ac"/>
<path d="M344.3 378.2l37.4 9 1.3-1-37.2-8.9z" color="#1daca1"/>
<path d="M342.8 379.1l37.6 9.2 1.3-1.1-37.4-9z" color="#22b289"/>
<path d="M341.2 380l37.8 9.3 1.4-1-37.6-9.2z" color="#28b870"/>
<path d="M339.7 381l38 9.4 1.3-1.1-37.8-9.3z" color="#2dbf57"/>
<path d="M338.1 381.9l38.2 9.6 1.4-1.1-38-9.4z" color="#46c345"/>
<path d="M336.5 382.9l38.5 9.7 1.3-1.1-38.2-9.6z" color="#64c836"/>
<path d="M334.8 383.8l38.8 10 1.4-1.2-38.5-9.7z" color="#7dca2d"/>
<path d="M333.2 384.8l38.9 10.1 1.5-1.1-38.8-10z" color="#93ca29"/>
<path d="M331.5 385.8l39.2 10.3 1.4-1.2-38.9-10.1z" color="#a9c827"/>
<path d="M329.9 386.9l39.4 10.4 1.4-1.2-39.2-10.3z" color="#bbc027"/>
<path d="M328.1 387.9l39.7 10.6 1.5-1.2-39.4-10.4z" color="#cdb927"/>
<path d="M326.4 388.9l39.9 10.8 1.5-1.2-39.7-10.6z" color="#d8ad25"/>
<path d="M324.7 390l40.1 10.9 1.5-1.2-39.9-10.8z" color="#d99d22"/>
<path d="M322.9 391.1l40.3 11 1.6-1.2-40.1-10.9z" color="#da8e1f"/>
<path d="M321.1 392.1l40.6 11.3 1.5-1.3-40.3-11z" color="#da801c"/>
<path d="M319.3 393.2l40.8 11.5 1.6-1.3-40.6-11.3z" color="#d57118"/>
<path d="M317.4 394.3l41.1 11.6 1.6-1.2-40.8-11.5z" color="#d16414"/>
<path d="M315.5 395.5l41.4 11.8 1.6-1.4-41.1-11.6z" color="#cd5810"/>
<path d="M313.6 396.6l41.7 12 1.6-1.3-41.4-11.8z" color="#ca4d0d"/>
<path d="M311.7 397.8l41.9 12.1 1.7-1.3-41.7-12z" color="#c7450b"/>
<path d="M309.7 399l42.2 12.3 1.7-1.4-41.9-12.1z" color="#c43e09"/>
<path d="M307.8 400.2l42.4 12.5 1.7-1.4-42.2-12.3z" color="#c13b09"/>
<path d="M305.7 401.4l42.8 12.7 1.7-1.4-42.4-12.5z" color="#bf3809"/>
<path d="M303.7 402.6l43 12.9 1.8-1.4-42.8-12.7z" color="#be3708"/>
<clipPath id="cp7"><path d="M346.7 415.5L346.2 416.7L345.7 417.9L345.1 419.0L344.4 420.1L343.6 421.0L342.7 421.9L341.8 422.7L340.8 423.5L339.7 424.1L338.6 424.7L337.4 425.1L336.2 425.5L334.9 425.8L333.6 426.0L332.3 426.1L330.9 426.1L329.5 426.0L328.1 425.8L326.6 425.5L325.2 425.1L323.8 424.6L322.3 424.1L320.9 423.4L319.5 422.7L318.1 421.8L316.8 420.9L315.5 420.0L314.2 418.9L313.0 417.8L311.8 416.6L310.7 415.4L309.6 414.1L308.6 412.8L307.7 411.4L306.8 410.0L306.0 408.5L305.3 407.1L304.7 405.6L304.2 404.1L303.7 402.6Z"/></clipPath>
<g clip-path="url(#cp7)">
<path d="M301.6 399.7l47.2 14.2 0 3.8-47.2-14.1z" color="#762205"/>
<path d="M301.6 403.6l47.2 14.1 0 1.6-47.2-14.1z" color="#772506"/>
<path d="M301.6 405.2l47.2 14.1 0 1.6-47.2-14.1z" color="#782606"/>
<path d="M301.6 406.8l47.2 14.1 0 1.6-47.2-14.1z" color="#772906"/>
<path d="M301.6 408.4l47.2 14.1 0 1.6-47.2-14.1z" color="#772b07"/>
<path d="M301.6 410l47.2 14.1 0 1.7-47.2-14.2z" color="#772d08"/>
<path d="M301.6 411.6l47.2 14.2 0 1.6-47.2-14.2z" color="#762f09"/>
<path d="M301.6 413.2l47.2 14.2 0 1.6-47.2-14.2z" color="#763109"/>
<path d="M301.6 414.8l47.2 14.2 0 1.6-47.2-14.2z" color="#75330a"/>
<path d="M301.6 416.4l47.2 14.2 0 3.8-47.2-14.1z" color="#75370b"/>
</g>
<path d="M358.7 360.7l37.6 8 1.1-.8-37.4-7.9z" color="#2b5ccd"/>
<path d="M357.4 361.3l37.8 8.2 1.1-.8-37.6-8z" color="#2c5fd0"/>
<path d="M356.1 362l37.9 8.2 1.2-.7-37.8-8.2z" color="#2d63d5"/>
<path d="M354.8 362.6l38.1 8.4 1.1-.8-37.9-8.2z" color="#2d68d8"/>
<path d="M353.5 363.2l38.2 8.5 1.2-.7-38.1-8.4z" color="#2d6ed9"/>
<path d="M352.2 363.8l38.4 8.5 1.1-.6-38.2-8.5z" color="#2d75d9"/>
<path d="M350.8 364.3l38.6 8.7 1.2-.7-38.4-8.5z" color="#2d7dda"/>
<path d="M349.4 364.8l38.8 8.8 1.2-.6-38.6-8.7z" color="#2d87da"/>
<path d="M348 365.3l39 9 1.2-.7-38.8-8.8z" color="#2d91db"/>
<path d="M346.6 365.8l39.1 9 1.3-.5-39-9z" color="#2b9cd5"/>
<path d="M345.2 366.2l39.3 9.2 1.2-.6-39.1-9z" color="#28a7cb"/>
<path d="M343.7 366.7l39.5 9.3 1.3-.6-39.3-9.2z" color="#24b3bf"/>
<path d="M342.3 367.1l39.7 9.4 1.2-.5-39.5-9.3z" color="#21c0b3"/>
<path d="M340.8 367.5l39.9 9.6 1.3-.6-39.7-9.4z" color="#26c89a"/>
<path d="M339.3 367.9l40.1 9.7 1.3-.5-39.9-9.6z" color="#2dcf7e"/>
<path d="M337.8 368.3l40.3 9.8 1.3-.5-40.1-9.7z" color="#33d761"/>
<path d="M336.2 368.7l40.5 9.9 1.4-.5-40.3-9.8z" color="#4fdc4e"/>
<path d="M334.7 369.1l40.7 10.1 1.3-.6-40.5-9.9z" color="#70e13d"/>
<path d="M334.7 369.1l40.7 10.1 22-16.1-37.4-7.9z" fill="#d6d3c6" stroke="none" fill-opacity="0.5"/>
<path d="M302.8 386.5l44.8 12.9 27.8-20.2-40.7-10.1z" fill="#d6d3c6" stroke="none" fill-opacity="0.5"/>
<path d="M333.1 369.5l40.9 10.2 1.4-.5-40.7-10.1z" color="#8ee433"/>
<path d="M331.5 369.9l41.1 10.3 1.4-.5-40.9-10.2z" color="#a6e32f"/>
<path d="M329.9 370.3l41.3 10.5 1.4-.6-41.1-10.3z" color="#bee12c"/>
<path d="M328.2 370.7l41.6 10.7 1.4-.6-41.3-10.5z" color="#d2d82c"/>
<path d="M326.6 371.2l41.7 10.8 1.5-.6-41.6-10.7z" color="#e6cf2b"/>
<path d="M324.9 371.6l41.9 11 1.5-.6-41.7-10.8z" color="#f1c22a"/>
<path d="M323.2 372.2l42.2 11.1 1.4-.7-41.9-11z" color="#f2af26"/>
<path d="M321.5 372.7l42.3 11.3 1.6-.7-42.2-11.1z" color="#f29e23"/>
<path d="M319.7 373.3l42.6 11.4 1.5-.7-42.3-11.3z" color="#f08d1f"/>
<path d="M317.9 373.9l42.9 11.6 1.5-.8-42.6-11.4z" color="#ea7c1a"/>
<path d="M316.1 374.5l43.1 11.8 1.6-.8-42.9-11.6z" color="#e46d16"/>
<path d="M314.3 375.2l43.3 11.9 1.6-.8-43.1-11.8z" color="#de5f12"/>
<path d="M312.5 376l43.5 12 1.6-.9-43.3-11.9z" color="#d9530f"/>
<path d="M310.6 376.8l43.8 12.2 1.6-1-43.5-12z" color="#d5490c"/>
<path d="M308.7 377.6l44 12.4 1.7-1-43.8-12.2z" color="#d0420a"/>
<path d="M306.7 378.5l44.3 12.6 1.7-1.1-44-12.4z" color="#cc3e09"/>
<path d="M304.8 379.5l44.5 12.7 1.7-1.1-44.3-12.6z" color="#c83b09"/>
<path d="M302.8 380.5l44.8 12.9 1.7-1.2-44.5-12.7z" color="#c53909"/></g>
<text x="349" y="469.5" font-family="Liberation Serif, serif" font-size="14" letter-spacing="0.3" text-anchor="middle" fill="#1a1a1a">(<tspan font-style="italic">a</tspan>)</text>
<g stroke-width="0.5" fill="none">
<line x1="313" y1="451.2" x2="312.7" y2="442.2" stroke="#b8f0b8"/>
<line x1="313" y1="451.2" x2="317.6" y2="447.9" stroke="#ece27a"/>
<line x1="313" y1="451.2" x2="321.6" y2="453.3" stroke="#ff8a8a" stroke-dasharray="1.1 0.7"/>
</g>
<circle cx="312.6" cy="441.4" r="1.15" fill="#22cc33"/>
<circle cx="317.5" cy="447.9" r="0.85" fill="#d4c81c"/>
<circle cx="322.1" cy="453.5" r="1.15" fill="#ee2222"/>
<g stroke="#555" stroke-width="0.45" fill="none"><path d="M313.6 439.9h1.3l-1.3 1.5h1.3M318.6 445.6l.7 .9m.7-.9l-1.2 1.9M323.0 451.4l1.5 1.6m0-1.6l-1.5 1.6"/></g>
<g fill="currentColor" stroke="currentColor" stroke-width="0.7" stroke-linejoin="round"><path d="M524.3 363.3l2.2-1.7 .8 2.8-2.3 1.7z" color="#285ac0"/>
<path d="M525 366.1l2.3-1.7 .4 2.7-2.3 1.8z" color="#255bb1"/>
<path d="M525.4 368.9l2.3-1.8 0 2.7-2.2 1.9z" color="#225aa2"/>
<path d="M525.5 371.7l2.2-1.9-.3 2.7-2.3 1.8z" color="#1e5893"/>
<path d="M525.1 374.3l2.3-1.8-.7 2.4-2.3 1.9z" color="#1b5584"/>
<path d="M524.4 376.8l2.3-1.9-1.1 2.3-2.2 1.9z" color="#184f75"/>
<path d="M523.4 379.1l2.2-1.9-1.4 2.1-2.2 1.9z" color="#144964"/>
<path d="M522 381.2l2.2-1.9-1.7 1.8-2.2 1.9z" color="#114154"/>
<path d="M520.3 383l2.2-1.9-1.9 1.5-2.3 1.9z" color="#0e3845"/>
<path d="M522 365.1l2.3-1.8 .7 2.8-2.2 1.8z" color="#285fc0"/>
<path d="M522.8 367.9l2.2-1.8 .4 2.8-2.2 1.8z" color="#255fb0"/>
<path d="M523.2 370.7l2.2-1.8 .1 2.8-2.3 1.8z" color="#215ea1"/>
<path d="M523.2 373.5l2.3-1.8-.4 2.6-2.2 1.9z" color="#1e5b92"/>
<path d="M522.9 376.2l2.2-1.9-.7 2.5-2.2 1.9z" color="#1b5784"/>
<path d="M522.2 378.7l2.2-1.9-1 2.3-2.3 2z" color="#185174"/>
<path d="M521.1 381.1l2.3-2-1.4 2.1-2.3 2z" color="#144a63"/>
<path d="M519.7 383.2l2.3-2-1.7 1.8-2.4 2z" color="#104253"/>
<path d="M517.9 385l2.4-2-2 1.5-2.4 2z" color="#0d3944"/>
<path d="M519.6 366.9l2.4-1.8 .8 2.8-2.4 1.8z" color="#2867bf"/>
<path d="M520.4 369.7l2.4-1.8 .4 2.8-2.4 1.9z" color="#2467af"/>
<path d="M520.8 372.6l2.4-1.9 0 2.8-2.3 1.9z" color="#2164a0"/>
<path d="M520.9 375.4l2.3-1.9-.3 2.7-2.4 1.9z" color="#1e6192"/>
<path d="M520.5 378.1l2.4-1.9-.7 2.5-2.4 2z" color="#1a5c81"/>
<path d="M519.8 380.7l2.4-2-1.1 2.4-2.4 1.9z" color="#165570"/>
<path d="M518.7 383l2.4-1.9-1.4 2.1-2.4 2z" color="#134d60"/>
<path d="M517.3 385.2l2.4-2-1.8 1.8-2.4 2z" color="#104550"/>
<path d="M515.5 387l2.4-2-2 1.5-2.4 2z" color="#0d3b42"/>
<path d="M517.2 368.7l2.4-1.8 .8 2.8-2.4 1.9z" color="#2774bd"/>
<path d="M518 371.6l2.4-1.9 .4 2.9-2.3 1.9z" color="#2472ae"/>
<path d="M518.5 374.5l2.3-1.9 .1 2.8-2.4 2z" color="#206e9e"/>
<path d="M518.5 377.4l2.4-2-.4 2.7-2.4 2z" color="#1c688c"/>
<path d="M518.1 380.1l2.4-2-.7 2.6-2.4 2z" color="#18627a"/>
<path d="M517.4 382.7l2.4-2-1.1 2.3-2.4 2.1z" color="#155a6a"/>
<path d="M516.3 385.1l2.4-2.1-1.4 2.2-2.4 2z" color="#11525b"/>
<path d="M514.9 387.2l2.4-2-1.8 1.8-2.4 2.1z" color="#0f484d"/>
<path d="M513.1 389.1l2.4-2.1-2 1.5-2.5 2.1z" color="#0c3e3f"/>
<path d="M514.8 370.6l2.4-1.9 .8 2.9-2.4 1.9z" color="#2584b8"/>
<path d="M515.6 373.5l2.4-1.9 .5 2.9-2.5 2z" color="#217fa5"/>
<path d="M516 376.5l2.5-2 0 2.9-2.5 2z" color="#1d7993"/>
<path d="M516 379.4l2.5-2-.4 2.7-2.4 2z" color="#197282"/>
<path d="M515.7 382.1l2.4-2-.7 2.6-2.4 2z" color="#166a72"/>
<path d="M515 384.7l2.4-2-1.1 2.4-2.5 2z" color="#136163"/>
<path d="M513.8 387.1l2.5-2-1.4 2.1-2.5 2.1z" color="#105755"/>
<path d="M512.4 389.3l2.5-2.1-1.8 1.9-2.5 2.1z" color="#0d4d48"/>
<path d="M510.6 391.2l2.5-2.1-2.1 1.5-2.5 2.1z" color="#0b413a"/>
<path d="M512.2 372.5l2.6-1.9 .8 2.9-2.5 2z" color="#2095a5"/>
<path d="M513.1 375.5l2.5-2 .4 3-2.5 2z" color="#1c8e95"/>
<path d="M513.5 378.5l2.5-2 0 2.9-2.5 2z" color="#198685"/>
<path d="M513.5 381.4l2.5-2-.3 2.7-2.5 2.1z" color="#167d76"/>
<path d="M513.2 384.2l2.5-2.1-.7 2.6-2.6 2.1z" color="#147366"/>
<path d="M512.4 386.8l2.6-2.1-1.2 2.4-2.5 2.2z" color="#136857"/>
<path d="M511.3 389.3l2.5-2.2-1.4 2.2-2.6 2.1z" color="#115c49"/>
<path d="M509.8 391.4l2.6-2.1-1.8 1.9-2.6 2.1z" color="#10503c"/>
<path d="M508 393.3l2.6-2.1-2.1 1.5-2.6 2.2z" color="#0d4431"/>
<path d="M509.7 374.5l2.5-2 .9 3-2.6 2z" color="#1ea68a"/>
<path d="M510.5 377.5l2.6-2 .4 3-2.6 2z" color="#1e9b79"/>
<path d="M510.9 380.5l2.6-2 0 2.9-2.5 2.1z" color="#1c906a"/>
<path d="M511 383.5l2.5-2.1-.3 2.8-2.6 2.1z" color="#1b845c"/>
<path d="M510.6 386.3l2.6-2.1-.8 2.6-2.5 2.2z" color="#19794f"/>
<path d="M509.9 389l2.5-2.2-1.1 2.5-2.6 2.2z" color="#176c43"/>
<path d="M508.7 391.5l2.6-2.2-1.5 2.1-2.6 2.2z" color="#156038"/>
<path d="M507.2 393.6l2.6-2.2-1.8 1.9-2.6 2.2z" color="#13532f"/>
<path d="M505.4 395.5l2.6-2.2-2.1 1.6-2.6 2.2z" color="#104626"/>
<path d="M507 376.5l2.7-2 .8 3-2.6 2.1z" color="#29b25c"/>
<path d="M507.9 379.6l2.6-2.1 .4 3-2.6 2.1z" color="#26a551"/>
<path d="M508.3 382.6l2.6-2.1 .1 3-2.7 2.1z" color="#249947"/>
<path d="M508.3 385.6l2.7-2.1-.4 2.8-2.6 2.2z" color="#228c3e"/>
<path d="M508 388.5l2.6-2.2-.7 2.7-2.7 2.2z" color="#1f7f36"/>
<path d="M507.2 391.2l2.7-2.2-1.2 2.5-2.6 2.2z" color="#1e712f"/>
<path d="M506.1 393.7l2.6-2.2-1.5 2.1-2.6 2.3z" color="#1c6428"/>
<path d="M504.6 395.9l2.6-2.3-1.8 1.9-2.7 2.3z" color="#1a5622"/>
<path d="M502.7 397.8l2.7-2.3-2.1 1.6-2.7 2.3z" color="#16491c"/>
<path d="M504.3 378.6l2.7-2.1 .9 3.1-2.7 2.1z" color="#51bb3a"/>
<path d="M505.2 381.7l2.7-2.1 .4 3-2.7 2.2z" color="#4cad35"/>
<path d="M505.6 384.8l2.7-2.2 0 3-2.7 2.2z" color="#479f30"/>
<path d="M505.6 387.8l2.7-2.2-.3 2.9-2.7 2.2z" color="#42912b"/>
<path d="M505.3 390.7l2.7-2.2-.8 2.7-2.7 2.3z" color="#3d8326"/>
<path d="M504.5 393.5l2.7-2.3-1.1 2.5-2.8 2.3z" color="#377522"/>
<path d="M503.3 396l2.8-2.3-1.5 2.2-2.8 2.3z" color="#31671d"/>
<path d="M501.8 398.2l2.8-2.3-1.9 1.9-2.8 2.3z" color="#2b5919"/>
<path d="M499.9 400.1l2.8-2.3-2.1 1.6-2.8 2.3z" color="#244b15"/>
<path d="M501.5 380.7l2.8-2.1 .9 3.1-2.8 2.2z" color="#80be29"/>
<path d="M502.4 383.9l2.8-2.2 .4 3.1-2.8 2.2z" color="#75b026"/>
<path d="M502.8 387l2.8-2.2 0 3-2.7 2.3z" color="#6ba223"/>
<path d="M502.9 390.1l2.7-2.3-.3 2.9-2.8 2.3z" color="#619320"/>
<path d="M502.5 393l2.8-2.3-.8 2.8-2.8 2.3z" color="#57851d"/>
<path d="M501.7 395.8l2.8-2.3-1.2 2.5-2.8 2.3z" color="#4d771a"/>
<path d="M500.5 398.3l2.8-2.3-1.5 2.2-2.8 2.4z" color="#436817"/>
<path d="M499 400.6l2.8-2.4-1.9 1.9-2.8 2.4z" color="#3a5a14"/>
<path d="M497.1 402.5l2.8-2.4-2.1 1.6-2.9 2.4z" color="#304c11"/>
<path d="M498.7 382.9l2.8-2.2 .9 3.2-2.9 2.2z" color="#a6ba25"/>
<path d="M499.5 386.1l2.9-2.2 .4 3.1-2.8 2.3z" color="#97ad22"/>
<path d="M500 389.3l2.8-2.3 .1 3.1-2.9 2.3z" color="#88a01f"/>
<path d="M500 392.4l2.9-2.3-.4 2.9-2.8 2.4z" color="#7a931c"/>
<path d="M499.7 395.4l2.8-2.4-.8 2.8-2.8 2.4z" color="#6c851a"/>
<path d="M498.9 398.2l2.8-2.4-1.2 2.5-2.8 2.4z" color="#5f7717"/>
<path d="M497.7 400.7l2.8-2.4-1.5 2.3-2.9 2.4z" color="#526815"/>
<path d="M496.1 403l2.9-2.4-1.9 1.9-2.9 2.5z" color="#465a12"/>
<path d="M494.2 405l2.9-2.5-2.2 1.6-2.9 2.5z" color="#3a4c0f"/>
<path d="M495.7 385.2l3-2.3 .8 3.2-2.9 2.3z" color="#c8ac25"/>
<path d="M496.6 388.4l2.9-2.3 .5 3.2-2.9 2.3z" color="#b4a122"/>
<path d="M497.1 391.6l2.9-2.3 0 3.1-2.9 2.4z" color="#a1951f"/>
<path d="M497.1 394.8l2.9-2.4-.3 3-3 2.4z" color="#908a1c"/>
<path d="M496.7 397.8l3-2.4-.8 2.8-3 2.4z" color="#7f7e1a"/>
<path d="M495.9 400.6l3-2.4-1.2 2.5-3 2.5z" color="#6f7117"/>
<path d="M494.7 403.2l3-2.5-1.6 2.3-2.9 2.5z" color="#606414"/>
<path d="M493.2 405.5l2.9-2.5-1.9 2-3 2.5z" color="#515711"/>
<path d="M491.2 407.5l3-2.5-2.2 1.6-3 2.5z" color="#434a0f"/>
<path d="M492.7 387.5l3-2.3 .9 3.2-3 2.4z" color="#cd911f"/>
<path d="M493.6 390.8l3-2.4 .5 3.2-3 2.4z" color="#bd8c1e"/>
<path d="M494.1 394l3-2.4 0 3.2-3 2.4z" color="#ae851d"/>
<path d="M494.1 397.2l3-2.4-.4 3-3 2.5z" color="#9e7e1b"/>
<path d="M493.7 400.3l3-2.5-.8 2.8-3 2.5z" color="#8e7619"/>
<path d="M492.9 403.1l3-2.5-1.2 2.6-3 2.6z" color="#7d6b17"/>
<path d="M491.7 405.8l3-2.6-1.5 2.3-3.1 2.6z" color="#6b5f14"/>
<path d="M490.1 408.1l3.1-2.6-2 2-3 2.6z" color="#5b5311"/>
<path d="M488.2 410.1l3-2.6-2.2 1.6-3.1 2.6z" color="#4b460f"/>
<path d="M489.6 389.8l3.1-2.3 .9 3.3-3.1 2.4z" color="#cd761a"/>
<path d="M490.5 393.2l3.1-2.4 .5 3.2-3.1 2.5z" color="#bf751a"/>
<path d="M491 396.5l3.1-2.5 0 3.2-3 2.5z" color="#af7219"/>
<path d="M491.1 399.7l3-2.5-.4 3.1-3 2.5z" color="#9f6d18"/>
<path d="M490.7 402.8l3-2.5-.8 2.8-3 2.6z" color="#8f6716"/>
<path d="M489.9 405.7l3-2.6-1.2 2.7-3.1 2.6z" color="#806015"/>
<path d="M488.6 408.4l3.1-2.6-1.6 2.3-3.1 2.6z" color="#705713"/>
<path d="M487 410.7l3.1-2.6-1.9 2-3.2 2.7z" color="#604e11"/>
<path d="M485 412.8l3.2-2.7-2.3 1.6-3.2 2.7z" color="#51430e"/>
<path d="M486.5 392.3l3.1-2.5 .9 3.4-3.1 2.5z" color="#c55d13"/>
<path d="M487.4 395.7l3.1-2.5 .5 3.3-3.1 2.5z" color="#b96014"/>
<path d="M487.9 399l3.1-2.5 .1 3.2-3.2 2.6z" color="#ad6015"/>
<path d="M487.9 402.3l3.2-2.6-.4 3.1-3.2 2.6z" color="#a05f15"/>
<path d="M487.5 405.4l3.2-2.6-.8 2.9-3.2 2.7z" color="#905b14"/>
<path d="M486.7 408.4l3.2-2.7-1.3 2.7-3.2 2.7z" color="#805613"/>
<path d="M485.4 411.1l3.2-2.7-1.6 2.3-3.2 2.7z" color="#714f11"/>
<path d="M483.8 413.4l3.2-2.7-2 2.1-3.2 2.7z" color="#61470f"/>
<path d="M481.8 415.5l3.2-2.7-2.3 1.6-3.3 2.7z" color="#513d0d"/>
<path d="M483.2 394.8l3.3-2.5 .9 3.4-3.3 2.5z" color="#bf4a0d"/>
<path d="M484.1 398.2l3.3-2.5 .5 3.3-3.3 2.6z" color="#b44f0f"/>
<path d="M484.6 401.6l3.3-2.6 0 3.3-3.2 2.7z" color="#a85211"/>
<path d="M484.7 405l3.2-2.7-.4 3.1-3.2 2.7z" color="#9c5311"/>
<path d="M484.3 408.1l3.2-2.7-.8 3-3.3 2.7z" color="#8f5112"/>
<path d="M483.4 411.1l3.3-2.7-1.3 2.7-3.2 2.7z" color="#814e11"/>
<path d="M482.2 413.8l3.2-2.7-1.6 2.3-3.3 2.8z" color="#714810"/>
<path d="M480.5 416.2l3.3-2.8-2 2.1-3.3 2.8z" color="#61410e"/>
<path d="M478.5 418.3l3.3-2.8-2.4 1.6-3.3 2.9z" color="#52390c"/>
<path d="M479.9 397.4l3.3-2.6 .9 3.4-3.3 2.6z" color="#bb3d09"/>
<path d="M480.8 400.8l3.3-2.6 .5 3.4-3.3 2.7z" color="#b1440c"/>
<path d="M481.3 404.3l3.3-2.7 .1 3.4-3.4 2.7z" color="#a5480e"/>
<path d="M481.3 407.7l3.4-2.7-.4 3.1-3.4 2.8z" color="#994a0f"/>
<path d="M480.9 410.9l3.4-2.8-.9 3-3.3 2.8z" color="#8d4a10"/>
<path d="M480.1 413.9l3.3-2.8-1.2 2.7-3.4 2.9z" color="#7f4810"/>
<path d="M478.8 416.7l3.4-2.9-1.7 2.4-3.4 2.9z" color="#71440f"/>
<path d="M477.1 419.1l3.4-2.9-2 2.1-3.5 2.9z" color="#623e0e"/>
<path d="M475 421.2l3.5-2.9-2.4 1.7-3.5 2.9z" color="#52360c"/>
<path d="M476.4 400l3.5-2.6 .9 3.4-3.4 2.7z" color="#b83909"/>
<path d="M477.4 403.5l3.4-2.7 .5 3.5-3.4 2.8z" color="#af3e0a"/>
<path d="M477.9 407.1l3.4-2.8 0 3.4-3.4 2.8z" color="#a4430c"/>
<path d="M477.9 410.5l3.4-2.8-.4 3.2-3.4 2.8z" color="#98460e"/>
<path d="M477.5 413.7l3.4-2.8-.8 3-3.5 2.9z" color="#8b470e"/>
<path d="M476.6 416.8l3.5-2.9-1.3 2.8-3.5 2.9z" color="#7e450f"/>
<path d="M475.3 419.6l3.5-2.9-1.7 2.4-3.5 2.9z" color="#71410e"/>
<path d="M473.6 422l3.5-2.9-2.1 2.1-3.5 2.9z" color="#623c0d"/>
<path d="M471.5 424.1l3.5-2.9-2.4 1.7-3.5 2.9z" color="#52350c"/>
<path d="M486.5 354.3l38.9 8.2 1.1-.9-38.7-8z" color="#2959c5"/>
<path d="M485.2 355.1l39.1 8.2 1.1-.8-38.9-8.2z" color="#2a5ac7"/>
<path d="M483.8 355.8l39.3 8.4 1.2-.9-39.1-8.2z" color="#2a5ecb"/>
<path d="M482.4 356.6l39.6 8.5 1.1-.9-39.3-8.4z" color="#2b62cb"/>
<path d="M481.1 357.3l39.7 8.7 1.2-.9-39.6-8.5z" color="#2a67cb"/>
<path d="M479.7 358.1l39.9 8.8 1.2-.9-39.7-8.7z" color="#2a6cca"/>
<path d="M478.3 358.9l40.1 8.9 1.2-.9-39.9-8.8z" color="#2a73c9"/>
<path d="M476.8 359.7l40.4 9 1.2-.9-40.1-8.9z" color="#297bc8"/>
<path d="M475.4 360.5l40.6 9.1 1.2-.9-40.4-9z" color="#2984c7"/>
<path d="M473.9 361.3l40.9 9.3 1.2-1-40.6-9.1z" color="#278dc1"/>
<path d="M472.5 362.1l41 9.5 1.3-1-40.9-9.3z" color="#2497b7"/>
<path d="M471 362.9l41.2 9.6 1.3-.9-41-9.5z" color="#21a1ac"/>
<path d="M469.4 363.8l41.6 9.7 1.2-1-41.2-9.6z" color="#1daca1"/>
<path d="M467.9 364.6l41.8 9.9 1.3-1-41.6-9.7z" color="#22b289"/>
<path d="M466.4 365.5l42 10 1.3-1-41.8-9.9z" color="#28b870"/>
<path d="M464.8 366.4l42.2 10.1 1.4-1-42-10z" color="#2dbf57"/>
<path d="M463.2 367.2l42.5 10.4 1.3-1.1-42.2-10.1z" color="#46c345"/>
<path d="M461.6 368.1l42.7 10.5 1.4-1-42.5-10.4z" color="#64c836"/>
<path d="M459.9 369l43 10.7 1.4-1.1-42.7-10.5z" color="#7dca2d"/>
<path d="M458.3 370l43.2 10.7 1.4-1-43-10.7z" color="#93ca29"/>
<path d="M456.6 370.9l43.5 10.9 1.4-1.1-43.2-10.7z" color="#a9c827"/>
<path d="M454.9 371.8l43.8 11.1 1.4-1.1-43.5-10.9z" color="#bbc027"/>
<path d="M453.2 372.8l44 11.2 1.5-1.1-43.8-11.1z" color="#cdb927"/>
<path d="M451.5 373.7l44.2 11.5 1.5-1.2-44-11.2z" color="#d8ad25"/>
<path d="M449.7 374.7l44.5 11.6 1.5-1.1-44.2-11.5z" color="#d99d22"/>
<path d="M447.9 375.7l44.8 11.8 1.5-1.2-44.5-11.6z" color="#da8e1f"/>
<path d="M446.1 376.7l45.1 12 1.5-1.2-44.8-11.8z" color="#da801c"/>
<path d="M444.2 377.7l45.4 12.1 1.6-1.1-45.1-12z" color="#d57118"/>
<path d="M442.4 378.8l45.7 12.3 1.5-1.3-45.4-12.1z" color="#d16414"/>
<path d="M440.5 379.8l46 12.5 1.6-1.2-45.7-12.3z" color="#cd5810"/>
<path d="M438.6 380.9l46.2 12.6 1.7-1.2-46-12.5z" color="#ca4d0d"/>
<path d="M436.6 381.9l46.6 12.9 1.6-1.3-46.2-12.6z" color="#c7450b"/>
<path d="M434.7 383l46.8 13.1 1.7-1.3-46.6-12.9z" color="#c43e09"/>
<path d="M432.7 384.1l47.2 13.3 1.6-1.3-46.8-13.1z" color="#c13b09"/>
<path d="M430.7 385.3l47.4 13.4 1.8-1.3-47.2-13.3z" color="#bf3809"/>
<path d="M428.6 386.4l47.8 13.6 1.7-1.3-47.4-13.4z" color="#be3708"/>
<clipPath id="cp8"><path d="M476.4 400.0L477.1 402.5L477.6 405.1L477.9 407.6L477.9 410.0L477.7 412.4L477.3 414.6L476.6 416.8L475.7 418.8L474.6 420.7L473.3 422.4L471.8 423.9L470.2 425.2L468.3 426.3L466.4 427.1L464.2 427.7L462.0 428.1L459.7 428.3L457.4 428.2L454.9 427.8L452.5 427.3L450.1 426.5L447.6 425.4L445.3 424.2L443.0 422.7L440.8 421.1L438.6 419.2L436.7 417.2L434.8 415.1L433.2 412.9L431.7 410.5L430.4 408.1L429.3 405.6L428.4 403.1L427.7 400.5L427.3 398.0L427.1 395.5L427.1 393.1L427.4 390.8L427.9 388.5L428.6 386.4Z"/></clipPath>
<g clip-path="url(#cp8)">
<path d="M425.8 383.1l53.4 15.2 0 5.9-53.4-15.2z" color="#762305"/>
<path d="M425.8 389l53.4 15.2 0 3.4-53.4-15.2z" color="#7b2b07"/>
<path d="M425.8 392.4l53.4 15.2 0 3.4-53.4-15.2z" color="#7c3309"/>
<path d="M425.8 395.8l53.4 15.2 0 3.4-53.4-15.2z" color="#7d390b"/>
<path d="M425.8 399.2l53.4 15.2 0 3.4-53.4-15.2z" color="#7e400d"/>
<path d="M425.8 402.6l53.4 15.2 0 3.4-53.4-15.2z" color="#7e450f"/>
<path d="M425.8 406l53.4 15.2 0 3.4-53.4-15.2z" color="#7f4a10"/>
<path d="M425.8 409.4l53.4 15.2 0 3.5-53.4-15.2z" color="#7e4e11"/>
<path d="M425.8 412.9l53.4 15.2 0 3.4-53.4-15.2z" color="#7c5212"/>
<path d="M425.8 416.3l53.4 15.2 0 5.9-53.4-15.2z" color="#7a5713"/>
</g>
<path d="M484.6 346.4l40.8 7.8 1.1-.7-40.6-7.7z" color="#2b5ccd"/>
<path d="M483.3 347l40.9 7.9 1.2-.7-40.8-7.8z" color="#2c5fd0"/>
<path d="M482 347.5l41 8 1.2-.6-40.9-7.9z" color="#2d63d5"/>
<path d="M480.7 348.1l41.2 8.1 1.1-.7-41-8z" color="#2d68d8"/>
<path d="M479.3 348.6l41.4 8.2 1.2-.6-41.2-8.1z" color="#2d6ed9"/>
<path d="M477.9 349.1l41.6 8.3 1.2-.6-41.4-8.2z" color="#2d75d9"/>
<path d="M476.6 349.5l41.7 8.5 1.2-.6-41.6-8.3z" color="#2d7dda"/>
<path d="M475.2 350l41.8 8.5 1.3-.5-41.7-8.5z" color="#2d87da"/>
<path d="M473.7 350.4l42.1 8.7 1.2-.6-41.8-8.5z" color="#2d91db"/>
<path d="M472.3 350.8l42.2 8.8 1.3-.5-42.1-8.7z" color="#2b9cd5"/>
<path d="M470.9 351.2l42.3 8.9 1.3-.5-42.2-8.8z" color="#28a7cb"/>
<path d="M469.4 351.5l42.5 9.1 1.3-.5-42.3-8.9z" color="#24b3bf"/>
<path d="M467.9 351.9l42.7 9.1 1.3-.4-42.5-9.1z" color="#21c0b3"/>
<path d="M466.4 352.2l42.9 9.3 1.3-.5-42.7-9.1z" color="#26c89a"/>
<path d="M464.9 352.5l43.1 9.4 1.3-.4-42.9-9.3z" color="#2dcf7e"/>
<path d="M463.3 352.8l43.3 9.6 1.4-.5-43.1-9.4z" color="#33d761"/>
<path d="M461.8 353.2l43.4 9.6 1.4-.4-43.3-9.6z" color="#4fdc4e"/>
<path d="M460.2 353.5l43.6 9.8 1.4-.5-43.4-9.6z" color="#70e13d"/>
<path d="M460.2 353.5l43.6 9.8 22.7-14.3-40.6-7.7z" fill="#d6d3c6" stroke="none" fill-opacity="0.5"/>
<path d="M427.9 368.8l47.4 12.4 28.5-17.9-43.6-9.8z" fill="#d6d3c6" stroke="none" fill-opacity="0.5"/>
<path d="M458.6 353.8l43.8 9.9 1.4-.4-43.6-9.8z" color="#8ee433"/>
<path d="M457 354.1l44 10.1 1.4-.5-43.8-9.9z" color="#a6e32f"/>
<path d="M455.3 354.5l44.2 10.2 1.5-.5-44-10.1z" color="#bee12c"/>
<path d="M453.7 354.8l44.4 10.3 1.4-.4-44.2-10.2z" color="#d2d82c"/>
<path d="M452 355.2l44.6 10.5 1.5-.6-44.4-10.3z" color="#e6cf2b"/>
<path d="M450.3 355.6l44.8 10.6 1.5-.5-44.6-10.5z" color="#f1c22a"/>
<path d="M448.6 356l44.9 10.8 1.6-.6-44.8-10.6z" color="#f2af26"/>
<path d="M446.8 356.5l45.2 10.8 1.5-.5-44.9-10.8z" color="#f29e23"/>
<path d="M445 357l45.4 11 1.6-.7-45.2-10.8z" color="#f08d1f"/>
<path d="M443.2 357.5l45.6 11.1 1.6-.6-45.4-11z" color="#ea7c1a"/>
<path d="M441.4 358l45.8 11.3 1.6-.7-45.6-11.1z" color="#e46d16"/>
<path d="M439.6 358.6l46 11.5 1.6-.8-45.8-11.3z" color="#de5f12"/>
<path d="M437.7 359.3l46.2 11.6 1.7-.8-46-11.5z" color="#d9530f"/>
<path d="M435.8 359.9l46.5 11.8 1.6-.8-46.2-11.6z" color="#d5490c"/>
<path d="M433.9 360.7l46.7 11.9 1.7-.9-46.5-11.8z" color="#d0420a"/>
<path d="M431.9 361.5l46.9 12 1.8-.9-46.7-11.9z" color="#cc3e09"/>
<path d="M429.9 362.3l47.2 12.2 1.7-1-46.9-12z" color="#c83b09"/>
<path d="M427.9 363.2l47.4 12.4 1.8-1.1-47.2-12.2z" color="#c53909"/></g>
<text x="482" y="469.5" font-family="Liberation Serif, serif" font-size="14" letter-spacing="0.3" text-anchor="middle" fill="#1a1a1a">(<tspan font-style="italic">b</tspan>)</text>
<g stroke-width="0.5" fill="none">
<line x1="440" y1="452.9" x2="439.7" y2="443.9" stroke="#b8f0b8"/>
<line x1="440" y1="452.9" x2="444.6" y2="449.6" stroke="#ece27a"/>
<line x1="440" y1="452.9" x2="448.6" y2="455.0" stroke="#ff8a8a" stroke-dasharray="1.1 0.7"/>
</g>
<circle cx="439.6" cy="443.1" r="1.15" fill="#22cc33"/>
<circle cx="444.5" cy="449.6" r="0.85" fill="#d4c81c"/>
<circle cx="449.1" cy="455.2" r="1.15" fill="#ee2222"/>
<g stroke="#555" stroke-width="0.45" fill="none"><path d="M440.6 441.6h1.3l-1.3 1.5h1.3M445.6 447.3l.7 .9m.7-.9l-1.2 1.9M450.0 453.1l1.5 1.6m0-1.6l-1.5 1.6"/></g>
<g fill="currentColor" stroke="currentColor" stroke-width="0.7" stroke-linejoin="round"><path d="M666.6 345.7l1.7-1.1 2.9 3.1-1.7 1.1z" color="#2752bb"/>
<path d="M669.5 348.8l1.7-1.1 2.4 3.6-1.7 1.2z" color="#2767bb"/>
<path d="M671.9 352.5l1.7-1.2 1.7 4-1.6 1.1z" color="#246fb0"/>
<path d="M673.7 356.4l1.6-1.1 1.2 4.1-1.6 1.2z" color="#2271a4"/>
<path d="M674.9 360.6l1.6-1.2 .4 4.2-1.6 1.2z" color="#1e6e93"/>
<path d="M675.3 364.8l1.6-1.2-.3 4.1-1.6 1.2z" color="#1a6883"/>
<path d="M675 368.9l1.6-1.2-1 3.7-1.6 1.3z" color="#176173"/>
<path d="M674 372.7l1.6-1.3-1.6 3.4-1.6 1.3z" color="#135965"/>
<path d="M672.4 376.1l1.6-1.3-2.3 2.8-1.6 1.3z" color="#104f56"/>
<path d="M670.1 378.9l1.6-1.3-2.7 2.2-1.7 1.3z" color="#0e4448"/>
<path d="M665 346.7l1.6-1 2.9 3.1-1.6 1.1z" color="#2854bd"/>
<path d="M667.9 349.9l1.6-1.1 2.4 3.7-1.6 1.1z" color="#2768bb"/>
<path d="M670.3 353.6l1.6-1.1 1.8 3.9-1.6 1.2z" color="#2470b0"/>
<path d="M672.1 357.6l1.6-1.2 1.2 4.2-1.6 1.2z" color="#2171a3"/>
<path d="M673.3 361.8l1.6-1.2 .4 4.2-1.6 1.3z" color="#1d6e92"/>
<path d="M673.7 366.1l1.6-1.3-.3 4.1-1.6 1.3z" color="#1a6982"/>
<path d="M673.4 370.2l1.6-1.3-1 3.8-1.6 1.3z" color="#166273"/>
<path d="M672.4 374l1.6-1.3-1.6 3.4-1.7 1.3z" color="#135964"/>
<path d="M670.7 377.4l1.7-1.3-2.3 2.8-1.7 1.4z" color="#105056"/>
<path d="M668.4 380.3l1.7-1.4-2.8 2.2-1.7 1.4z" color="#0d4547"/>
<path d="M663.2 347.8l1.8-1.1 2.9 3.2-1.7 1.1z" color="#2958c1"/>
<path d="M666.2 351l1.7-1.1 2.4 3.7-1.7 1.1z" color="#276abb"/>
<path d="M668.6 354.7l1.7-1.1 1.8 4-1.7 1.2z" color="#2472b0"/>
<path d="M670.4 358.8l1.7-1.2 1.2 4.2-1.7 1.2z" color="#2173a1"/>
<path d="M671.6 363l1.7-1.2 .4 4.3-1.6 1.2z" color="#1d7091"/>
<path d="M672.1 367.3l1.6-1.2-.3 4.1-1.6 1.3z" color="#196a81"/>
<path d="M671.8 371.5l1.6-1.3-1 3.8-1.6 1.4z" color="#166372"/>
<path d="M670.8 375.4l1.6-1.4-1.7 3.4-1.6 1.4z" color="#135a63"/>
<path d="M669.1 378.8l1.6-1.4-2.3 2.9-1.6 1.4z" color="#105055"/>
<path d="M666.8 381.7l1.6-1.4-2.8 2.2-1.7 1.4z" color="#0d4547"/>
<path d="M661.5 348.9l1.7-1.1 3 3.2-1.7 1.2z" color="#295ec5"/>
<path d="M664.5 352.2l1.7-1.2 2.4 3.7-1.7 1.2z" color="#276ebb"/>
<path d="M666.9 355.9l1.7-1.2 1.8 4.1-1.6 1.2z" color="#2475af"/>
<path d="M668.8 360l1.6-1.2 1.2 4.2-1.7 1.3z" color="#20769f"/>
<path d="M669.9 364.3l1.7-1.3 .5 4.3-1.7 1.3z" color="#1c728e"/>
<path d="M670.4 368.6l1.7-1.3-.3 4.2-1.7 1.3z" color="#196c7f"/>
<path d="M670.1 372.8l1.7-1.3-1 3.9-1.7 1.3z" color="#166570"/>
<path d="M669.1 376.7l1.7-1.3-1.7 3.4-1.7 1.4z" color="#135c62"/>
<path d="M667.4 380.2l1.7-1.4-2.3 2.9-1.8 1.4z" color="#105154"/>
<path d="M665 383.1l1.8-1.4-2.9 2.2-1.7 1.4z" color="#0d4646"/>
<path d="M659.7 350.1l1.8-1.2 3 3.3-1.8 1.1z" color="#2965c4"/>
<path d="M662.7 353.3l1.8-1.1 2.4 3.7-1.7 1.2z" color="#2674ba"/>
<path d="M665.2 357.1l1.7-1.2 1.9 4.1-1.8 1.2z" color="#237aac"/>
<path d="M667 361.2l1.8-1.2 1.1 4.3-1.7 1.3z" color="#1f799b"/>
<path d="M668.2 365.6l1.7-1.3 .5 4.3-1.7 1.3z" color="#1b758b"/>
<path d="M668.7 369.9l1.7-1.3-.3 4.2-1.7 1.3z" color="#186f7c"/>
<path d="M668.4 374.1l1.7-1.3-1 3.9-1.7 1.4z" color="#15676e"/>
<path d="M667.4 378.1l1.7-1.4-1.7 3.5-1.8 1.4z" color="#125e5f"/>
<path d="M665.6 381.6l1.8-1.4-2.4 2.9-1.7 1.4z" color="#0f5352"/>
<path d="M663.3 384.5l1.7-1.4-2.8 2.2-1.8 1.4z" color="#0d4844"/>
<path d="M657.9 351.2l1.8-1.1 3 3.2-1.8 1.2z" color="#2870c3"/>
<path d="M660.9 354.5l1.8-1.2 2.5 3.8-1.8 1.2z" color="#267db9"/>
<path d="M663.4 358.3l1.8-1.2 1.8 4.1-1.7 1.3z" color="#2181a6"/>
<path d="M665.3 362.5l1.7-1.3 1.2 4.4-1.7 1.3z" color="#1d7f95"/>
<path d="M666.5 366.9l1.7-1.3 .5 4.3-1.8 1.4z" color="#1a7a86"/>
<path d="M666.9 371.3l1.8-1.4-.3 4.2-1.7 1.4z" color="#177378"/>
<path d="M666.7 375.5l1.7-1.4-1 4-1.8 1.4z" color="#146b6a"/>
<path d="M665.6 379.5l1.8-1.4-1.8 3.5-1.7 1.4z" color="#11615c"/>
<path d="M663.9 383l1.7-1.4-2.3 2.9-1.8 1.4z" color="#0f564f"/>
<path d="M661.5 385.9l1.8-1.4-2.9 2.2-1.8 1.5z" color="#0d4941"/>
<path d="M656.1 352.4l1.8-1.2 3 3.3-1.8 1.2z" color="#287dc1"/>
<path d="M659.1 355.7l1.8-1.2 2.5 3.8-1.8 1.3z" color="#2387af"/>
<path d="M661.6 359.6l1.8-1.3 1.9 4.2-1.8 1.3z" color="#1e899d"/>
<path d="M663.5 363.8l1.8-1.3 1.2 4.4-1.8 1.3z" color="#1b868d"/>
<path d="M664.7 368.2l1.8-1.3 .4 4.4-1.7 1.3z" color="#18817f"/>
<path d="M665.2 372.6l1.7-1.3-.2 4.2-1.8 1.4z" color="#157972"/>
<path d="M664.9 376.9l1.8-1.4-1.1 4-1.7 1.4z" color="#136f63"/>
<path d="M663.9 380.9l1.7-1.4-1.7 3.5-1.8 1.4z" color="#126455"/>
<path d="M662.1 384.4l1.8-1.4-2.4 2.9-1.8 1.5z" color="#105748"/>
<path d="M659.7 387.4l1.8-1.5-2.9 2.3-1.8 1.4z" color="#0e4b3b"/>
<path d="M654.2 353.5l1.9-1.1 3 3.3-1.8 1.2z" color="#248db6"/>
<path d="M657.3 356.9l1.8-1.2 2.5 3.9-1.8 1.2z" color="#1f94a2"/>
<path d="M659.8 360.8l1.8-1.2 1.9 4.2-1.8 1.3z" color="#1b9491"/>
<path d="M661.7 365.1l1.8-1.3 1.2 4.4-1.8 1.3z" color="#198f82"/>
<path d="M662.9 369.5l1.8-1.3 .5 4.4-1.8 1.4z" color="#188772"/>
<path d="M663.4 374l1.8-1.4-.3 4.3-1.8 1.4z" color="#177d64"/>
<path d="M663.1 378.3l1.8-1.4-1 4-1.8 1.4z" color="#167257"/>
<path d="M662.1 382.3l1.8-1.4-1.8 3.5-1.8 1.5z" color="#14664a"/>
<path d="M660.3 385.9l1.8-1.5-2.4 3-1.8 1.5z" color="#125a3e"/>
<path d="M657.9 388.9l1.8-1.5-2.9 2.2-1.9 1.5z" color="#104c33"/>
<path d="M652.3 354.8l1.9-1.3 3.1 3.4-1.9 1.3z" color="#1ea0a2"/>
<path d="M655.4 358.2l1.9-1.3 2.5 3.9-1.8 1.3z" color="#1ca28e"/>
<path d="M658 362.1l1.8-1.3 1.9 4.3-1.8 1.3z" color="#1e9d7a"/>
<path d="M659.9 366.4l1.8-1.3 1.2 4.4-1.8 1.4z" color="#1e956a"/>
<path d="M661.1 370.9l1.8-1.4 .5 4.5-1.8 1.4z" color="#1d8c5d"/>
<path d="M661.6 375.4l1.8-1.4-.3 4.3-1.8 1.4z" color="#1b8152"/>
<path d="M661.3 379.7l1.8-1.4-1 4-1.9 1.5z" color="#197647"/>
<path d="M660.2 383.8l1.9-1.5-1.8 3.6-1.9 1.5z" color="#17693d"/>
<path d="M658.4 387.4l1.9-1.5-2.4 3-1.9 1.5z" color="#155c33"/>
<path d="M656 390.4l1.9-1.5-3 2.2-1.9 1.6z" color="#124f2a"/>
<path d="M650.4 356l1.9-1.2 3.1 3.4-1.9 1.2z" color="#23af7c"/>
<path d="M653.5 359.4l1.9-1.2 2.6 3.9-1.9 1.3z" color="#25ab69"/>
<path d="M656.1 363.4l1.9-1.3 1.9 4.3-1.9 1.3z" color="#25a55a"/>
<path d="M658 367.7l1.9-1.3 1.2 4.5-1.8 1.3z" color="#249c4f"/>
<path d="M659.3 372.2l1.8-1.3 .5 4.5-1.9 1.4z" color="#229246"/>
<path d="M659.7 376.8l1.9-1.4-.3 4.3-1.9 1.5z" color="#20863d"/>
<path d="M659.4 381.2l1.9-1.5-1.1 4.1-1.8 1.5z" color="#1d7a35"/>
<path d="M658.4 385.3l1.8-1.5-1.8 3.6-1.8 1.5z" color="#1b6d2e"/>
<path d="M656.6 388.9l1.8-1.5-2.4 3-1.9 1.5z" color="#195f27"/>
<path d="M654.1 391.9l1.9-1.5-3 2.3-1.9 1.5z" color="#165121"/>
<path d="M648.4 357.2l2-1.2 3.1 3.4-1.9 1.3z" color="#32bb4c"/>
<path d="M651.6 360.7l1.9-1.3 2.6 4-1.9 1.3z" color="#39b445"/>
<path d="M654.2 364.7l1.9-1.3 1.9 4.3-1.9 1.4z" color="#3bac3f"/>
<path d="M656.1 369.1l1.9-1.4 1.3 4.5-1.9 1.5z" color="#3ba239"/>
<path d="M657.4 373.7l1.9-1.5 .4 4.6-1.9 1.4z" color="#399634"/>
<path d="M657.8 378.2l1.9-1.4-.3 4.4-1.9 1.5z" color="#368a2f"/>
<path d="M657.5 382.7l1.9-1.5-1 4.1-1.9 1.5z" color="#327d2a"/>
<path d="M656.5 386.8l1.9-1.5-1.8 3.6-1.9 1.6z" color="#2d7025"/>
<path d="M654.7 390.5l1.9-1.6-2.5 3-1.9 1.6z" color="#286220"/>
<path d="M652.2 393.5l1.9-1.6-3 2.3-1.9 1.6z" color="#22531b"/>
<path d="M646.4 358.5l2-1.3 3.2 3.5-2 1.3z" color="#6cc32f"/>
<path d="M649.6 362l2-1.3 2.6 4-2 1.4z" color="#68bb2c"/>
<path d="M652.2 366.1l2-1.4 1.9 4.4-1.9 1.4z" color="#63b12a"/>
<path d="M654.2 370.5l1.9-1.4 1.3 4.6-1.9 1.4z" color="#5da727"/>
<path d="M655.5 375.1l1.9-1.4 .4 4.5-1.9 1.5z" color="#569b25"/>
<path d="M655.9 379.7l1.9-1.5-.3 4.5-1.9 1.5z" color="#4f8e21"/>
<path d="M655.6 384.2l1.9-1.5-1 4.1-2 1.6z" color="#48811e"/>
<path d="M654.5 388.4l2-1.6-1.8 3.7-2 1.5z" color="#40721b"/>
<path d="M652.7 392l2-1.5-2.5 3-2 1.6z" color="#386417"/>
<path d="M650.2 395.1l2-1.6-3 2.3-2 1.6z" color="#2f5514"/>
<path d="M644.4 359.8l2-1.3 3.2 3.5-2 1.4z" color="#97c327"/>
<path d="M647.6 363.4l2-1.4 2.6 4.1-2 1.3z" color="#8bbb26"/>
<path d="M650.2 367.4l2-1.3 2 4.4-2 1.4z" color="#81b225"/>
<path d="M652.2 371.9l2-1.4 1.3 4.6-2 1.4z" color="#77a723"/>
<path d="M653.5 376.5l2-1.4 .4 4.6-1.9 1.5z" color="#6d9b21"/>
<path d="M654 381.2l1.9-1.5-.3 4.5-1.9 1.5z" color="#638e1e"/>
<path d="M653.7 385.7l1.9-1.5-1.1 4.2-1.9 1.5z" color="#59811b"/>
<path d="M652.6 389.9l1.9-1.5-1.8 3.6-2 1.6z" color="#4e7318"/>
<path d="M650.7 393.6l2-1.6-2.5 3.1-2 1.6z" color="#446415"/>
<path d="M648.2 396.7l2-1.6-3 2.3-2.1 1.7z" color="#395512"/>
<path d="M642.3 361.1l2.1-1.3 3.2 3.6-2 1.3z" color="#bbb826"/>
<path d="M645.6 364.7l2-1.3 2.6 4-2 1.4z" color="#aab424"/>
<path d="M648.2 368.8l2-1.4 2 4.5-2 1.4z" color="#9bae22"/>
<path d="M650.2 373.3l2-1.4 1.3 4.6-2 1.5z" color="#8ea520"/>
<path d="M651.5 378l2-1.5 .5 4.7-2 1.5z" color="#819a1e"/>
<path d="M652 382.7l2-1.5-.3 4.5-2 1.6z" color="#758e1b"/>
<path d="M651.7 387.3l2-1.6-1.1 4.2-2 1.6z" color="#688119"/>
<path d="M650.6 391.5l2-1.6-1.9 3.7-2 1.7z" color="#5b7316"/>
<path d="M648.7 395.3l2-1.7-2.5 3.1-2 1.7z" color="#4f6414"/>
<path d="M646.2 398.4l2-1.7-3.1 2.4-2 1.7z" color="#425511"/>
<path d="M640.2 362.4l2.1-1.3 3.3 3.6-2.1 1.4z" color="#d1a524"/>
<path d="M643.5 366.1l2.1-1.4 2.6 4.1-2 1.5z" color="#c4a924"/>
<path d="M646.2 370.3l2-1.5 2 4.5-2 1.5z" color="#b1a422"/>
<path d="M648.2 374.8l2-1.5 1.3 4.7-2 1.5z" color="#a19d20"/>
<path d="M649.5 379.5l2-1.5 .5 4.7-2 1.6z" color="#91931e"/>
<path d="M650 384.3l2-1.6-.3 4.6-2.1 1.6z" color="#83881b"/>
<path d="M649.6 388.9l2.1-1.6-1.1 4.2-2.1 1.7z" color="#747c19"/>
<path d="M648.5 393.2l2.1-1.7-1.9 3.8-2 1.6z" color="#666f16"/>
<path d="M646.7 396.9l2-1.6-2.5 3.1-2.1 1.7z" color="#586113"/>
<path d="M644.1 400.1l2.1-1.7-3.1 2.4-2.1 1.7z" color="#4a5310"/>
<path d="M638.1 363.8l2.1-1.4 3.3 3.7-2.1 1.4z" color="#d38a1e"/>
<path d="M641.4 367.5l2.1-1.4 2.7 4.2-2.1 1.4z" color="#c99620"/>
<path d="M644.1 371.7l2.1-1.4 2 4.5-2.1 1.5z" color="#be9921"/>
<path d="M646.1 376.3l2.1-1.5 1.3 4.7-2.1 1.6z" color="#b19620"/>
<path d="M647.4 381.1l2.1-1.6 .5 4.8-2.1 1.6z" color="#a08d1e"/>
<path d="M647.9 385.9l2.1-1.6-.4 4.6-2 1.6z" color="#8f831b"/>
<path d="M647.6 390.5l2-1.6-1.1 4.3-2 1.6z" color="#7f7719"/>
<path d="M646.5 394.8l2-1.6-1.8 3.7-2.1 1.7z" color="#6f6b16"/>
<path d="M644.6 398.6l2.1-1.7-2.6 3.2-2.1 1.7z" color="#5f5e13"/>
<path d="M642 401.8l2.1-1.7-3.1 2.4-2.2 1.7z" color="#505010"/>
<path d="M635.9 365.2l2.2-1.4 3.3 3.7-2.2 1.4z" color="#d07318"/>
<path d="M639.2 368.9l2.2-1.4 2.7 4.2-2.2 1.5z" color="#cb831d"/>
<path d="M641.9 373.2l2.2-1.5 2 4.6-2.1 1.5z" color="#bf891e"/>
<path d="M644 377.8l2.1-1.5 1.3 4.8-2.1 1.5z" color="#b3891e"/>
<path d="M645.3 382.6l2.1-1.5 .5 4.8-2.1 1.6z" color="#a6841d"/>
<path d="M645.8 387.5l2.1-1.6-.3 4.6-2.1 1.7z" color="#987d1b"/>
<path d="M645.5 392.2l2.1-1.7-1.1 4.3-2.2 1.7z" color="#887419"/>
<path d="M644.3 396.5l2.2-1.7-1.9 3.8-2.2 1.8z" color="#776816"/>
<path d="M642.4 400.4l2.2-1.8-2.6 3.2-2.2 1.8z" color="#665b13"/>
<path d="M639.8 403.6l2.2-1.8-3.2 2.4-2.2 1.8z" color="#554e10"/>
<path d="M633.7 366.6l2.2-1.4 3.3 3.7-2.2 1.5z" color="#ca5f13"/>
<path d="M637 370.4l2.2-1.5 2.7 4.3-2.1 1.5z" color="#ca7419"/>
<path d="M639.8 374.7l2.1-1.5 2.1 4.6-2.2 1.6z" color="#c07d1b"/>
<path d="M641.8 379.4l2.2-1.6 1.3 4.8-2.1 1.6z" color="#b47e1b"/>
<path d="M643.2 384.2l2.1-1.6 .5 4.9-2.1 1.6z" color="#a77b1b"/>
<path d="M643.7 389.1l2.1-1.6-.3 4.7-2.2 1.7z" color="#987519"/>
<path d="M643.3 393.9l2.2-1.7-1.2 4.3-2.1 1.8z" color="#8a6d18"/>
<path d="M642.2 398.3l2.1-1.8-1.9 3.9-2.1 1.7z" color="#7b6416"/>
<path d="M640.3 402.1l2.1-1.7-2.6 3.2-2.2 1.7z" color="#6b5913"/>
<path d="M637.6 405.3l2.2-1.7-3.2 2.4-2.2 1.8z" color="#594c10"/>
<path d="M631.4 368.1l2.3-1.5 3.3 3.8-2.2 1.5z" color="#c54f0e"/>
<path d="M634.8 371.9l2.2-1.5 2.8 4.3-2.3 1.5z" color="#c66716"/>
<path d="M637.5 376.2l2.3-1.5 2 4.7-2.2 1.5z" color="#c17319"/>
<path d="M639.6 380.9l2.2-1.5 1.4 4.8-2.2 1.7z" color="#b5761a"/>
<path d="M641 385.9l2.2-1.7 .5 4.9-2.2 1.7z" color="#a77419"/>
<path d="M641.5 390.8l2.2-1.7-.4 4.8-2.1 1.7z" color="#996f18"/>
<path d="M641.2 395.6l2.1-1.7-1.1 4.4-2.2 1.7z" color="#8a6817"/>
<path d="M640 400l2.2-1.7-1.9 3.8-2.2 1.8z" color="#7b6015"/>
<path d="M638.1 403.9l2.2-1.8-2.7 3.2-2.2 1.9z" color="#6b5512"/>
<path d="M635.4 407.2l2.2-1.9-3.2 2.5-2.2 1.8z" color="#5b4a10"/>
<path d="M629.1 369.5l2.3-1.4 3.4 3.8-2.3 1.5z" color="#c1440b"/>
<path d="M632.5 373.4l2.3-1.5 2.7 4.3-2.2 1.6z" color="#c35e13"/>
<path d="M635.3 377.8l2.2-1.6 2.1 4.7-2.2 1.7z" color="#be6b17"/>
<path d="M637.4 382.6l2.2-1.7 1.4 5-2.3 1.6z" color="#b57019"/>
<path d="M638.7 387.5l2.3-1.6 .5 4.9-2.2 1.7z" color="#a86e18"/>
<path d="M639.3 392.5l2.2-1.7-.3 4.8-2.3 1.7z" color="#996a17"/>
<path d="M638.9 397.3l2.3-1.7-1.2 4.4-2.2 1.8z" color="#8b6416"/>
<path d="M637.8 401.8l2.2-1.8-1.9 3.9-2.3 1.8z" color="#7b5c14"/>
<path d="M635.8 405.7l2.3-1.8-2.7 3.3-2.3 1.8z" color="#6b5312"/>
<path d="M633.1 409l2.3-1.8-3.2 2.4-2.3 1.9z" color="#5b480f"/>
<path d="M626.7 371l2.4-1.5 3.4 3.9-2.3 1.5z" color="#be3c09"/>
<path d="M630.2 374.9l2.3-1.5 2.8 4.4-2.3 1.6z" color="#c05711"/>
<path d="M633 379.4l2.3-1.6 2.1 4.8-2.3 1.6z" color="#bc6515"/>
<path d="M635.1 384.2l2.3-1.6 1.3 4.9-2.2 1.7z" color="#b56b17"/>
<path d="M636.5 389.2l2.2-1.7 .6 5-2.3 1.8z" color="#a86b17"/>
<path d="M637 394.3l2.3-1.8-.4 4.8-2.2 1.8z" color="#9a6717"/>
<path d="M636.7 399.1l2.2-1.8-1.1 4.5-2.3 1.8z" color="#8b6115"/>
<path d="M635.5 403.6l2.3-1.8-2 3.9-2.3 1.9z" color="#7b5a13"/>
<path d="M633.5 407.6l2.3-1.9-2.7 3.3-2.3 1.9z" color="#6b5011"/>
<path d="M630.8 410.9l2.3-1.9-3.2 2.5-2.4 1.9z" color="#5b460f"/>
<path d="M624.3 372.6l2.4-1.6 3.5 3.9-2.4 1.6z" color="#ba3809"/>
<path d="M627.8 376.5l2.4-1.6 2.8 4.5-2.4 1.6z" color="#bf520f"/>
<path d="M630.6 381l2.4-1.6 2.1 4.8-2.3 1.7z" color="#bb6114"/>
<path d="M632.8 385.9l2.3-1.7 1.4 5-2.3 1.7z" color="#b36716"/>
<path d="M634.2 390.9l2.3-1.7 .5 5.1-2.3 1.7z" color="#a86817"/>
<path d="M634.7 396l2.3-1.7-.3 4.8-2.4 1.9z" color="#9a6516"/>
<path d="M634.3 401l2.4-1.9-1.2 4.5-2.3 1.9z" color="#8b5f15"/>
<path d="M633.2 405.5l2.3-1.9-2 4-2.3 1.9z" color="#7b5813"/>
<path d="M631.2 409.5l2.3-1.9-2.7 3.3-2.4 1.9z" color="#6b4f11"/>
<path d="M628.4 412.8l2.4-1.9-3.3 2.5-2.4 1.9z" color="#5b450f"/>
<path d="M621.9 374.1l2.4-1.5 3.5 3.9-2.4 1.6z" color="#b83608"/>
<path d="M625.4 378.1l2.4-1.6 2.8 4.5-2.4 1.6z" color="#be4f0f"/>
<path d="M628.2 382.6l2.4-1.6 2.2 4.9-2.4 1.7z" color="#ba5f13"/>
<path d="M630.4 387.6l2.4-1.7 1.4 5-2.4 1.8z" color="#b36516"/>
<path d="M631.8 392.7l2.4-1.8 .5 5.1-2.4 1.9z" color="#a86616"/>
<path d="M632.3 397.9l2.4-1.9-.4 5-2.3 1.8z" color="#9a6316"/>
<path d="M632 402.8l2.3-1.8-1.1 4.5-2.4 1.9z" color="#8b5e14"/>
<path d="M630.8 407.4l2.4-1.9-2 4-2.4 1.9z" color="#7c5713"/>
<path d="M628.8 411.4l2.4-1.9-2.8 3.3-2.4 2z" color="#6c4e11"/>
<path d="M626 414.8l2.4-2-3.3 2.5-2.4 2z" color="#5b440f"/>
<path d="M619.4 375.7l2.5-1.6 3.5 4-2.5 1.6z" color="#b73408"/>
<path d="M622.9 379.7l2.5-1.6 2.8 4.5-2.4 1.7z" color="#bd4d0e"/>
<path d="M625.8 384.3l2.4-1.7 2.2 5-2.4 1.7z" color="#ba5d13"/>
<path d="M628 389.3l2.4-1.7 1.4 5.1-2.4 1.8z" color="#b26415"/>
<path d="M629.4 394.5l2.4-1.8 .5 5.2-2.4 1.8z" color="#a86516"/>
<path d="M629.9 399.7l2.4-1.8-.3 4.9-2.4 1.9z" color="#9a6216"/>
<path d="M629.6 404.7l2.4-1.9-1.2 4.6-2.4 1.9z" color="#8b5d14"/>
<path d="M628.4 409.3l2.4-1.9-2 4-2.5 2z" color="#7c5613"/>
<path d="M626.3 413.4l2.5-2-2.8 3.4-2.4 2z" color="#6c4d11"/>
<path d="M623.6 416.8l2.4-2-3.3 2.5-2.5 2z" color="#5b430f"/>
<path d="M616.8 377.3l2.6-1.6 3.5 4-2.5 1.7z" color="#b63308"/>
<path d="M620.4 381.4l2.5-1.7 2.9 4.6-2.5 1.8z" color="#bd4c0e"/>
<path d="M623.3 386.1l2.5-1.8 2.2 5-2.5 1.8z" color="#b95c13"/>
<path d="M625.5 391.1l2.5-1.8 1.4 5.2-2.5 1.8z" color="#b26315"/>
<path d="M626.9 396.3l2.5-1.8 .5 5.2-2.4 1.9z" color="#a86416"/>
<path d="M627.5 401.6l2.4-1.9-.3 5-2.5 1.9z" color="#9a6115"/>
<path d="M627.1 406.6l2.5-1.9-1.2 4.6-2.5 2z" color="#8b5c14"/>
<path d="M625.9 411.3l2.5-2-2.1 4.1-2.4 2z" color="#7c5613"/>
<path d="M623.9 415.4l2.4-2-2.7 3.4-2.5 2z" color="#6c4d11"/>
<path d="M621.1 418.8l2.5-2-3.4 2.5-2.6 2.1z" color="#5b430f"/>
<path d="M614.2 379l2.6-1.7 3.6 4.1-2.6 1.7z" color="#b63308"/>
<path d="M617.8 383.1l2.6-1.7 2.9 4.7-2.5 1.7z" color="#bd4b0e"/>
<path d="M620.8 387.8l2.5-1.7 2.2 5-2.5 1.8z" color="#b95c13"/>
<path d="M623 392.9l2.5-1.8 1.4 5.2-2.5 1.9z" color="#b26315"/>
<path d="M624.4 398.2l2.5-1.9 .6 5.3-2.5 1.9z" color="#a86416"/>
<path d="M625 403.5l2.5-1.9-.4 5-2.5 2z" color="#9a6115"/>
<path d="M624.6 408.6l2.5-2-1.2 4.7-2.5 2z" color="#8b5c14"/>
<path d="M623.4 413.3l2.5-2-2 4.1-2.6 2.1z" color="#7c5513"/>
<path d="M621.3 417.5l2.6-2.1-2.8 3.4-2.6 2.1z" color="#6c4d11"/>
<path d="M618.5 420.9l2.6-2.1-3.5 2.6-2.6 2.1z" color="#5b430f"/>
<path d="M646.5 341.2l3.5 .7 1.1-.6-3.4-.7z" color="#202897"/>
<path d="M650 341.9l3.4 .7 1.2-.7-3.5-.6z" color="#171369"/>
<path d="M653.4 342.6l3.5 .7 1.1-.7-3.4-.7z" color="#120951"/>
<path d="M656.9 343.3l3.4 .6 1.1-.6-3.4-.7z" color="#120951"/>
<path d="M660.3 343.9l3.5 .7 1.1-.7-3.5-.6z" color="#171369"/>
<path d="M663.8 344.6l3.4 .7 1.1-.7-3.4-.7z" color="#202897"/>
<path d="M645.3 341.9l3.5 .7 1.2-.7-3.5-.7z" color="#202998"/>
<path d="M648.8 342.6l3.5 .6 1.1-.6-3.4-.7z" color="#17136b"/>
<path d="M652.3 343.2l3.4 .7 1.2-.6-3.5-.7z" color="#120a53"/>
<path d="M655.7 343.9l3.5 .7 1.1-.7-3.4-.6z" color="#120a53"/>
<path d="M659.2 344.6l3.5 .7 1.1-.7-3.5-.7z" color="#17136b"/>
<path d="M662.7 345.3l3.4 .7 1.1-.7-3.4-.7z" color="#202998"/>
<path d="M644.1 342.5l3.5 .7 1.2-.6-3.5-.7z" color="#212b9a"/>
<path d="M647.6 343.2l3.5 .7 1.2-.7-3.5-.6z" color="#18156e"/>
<path d="M651.1 343.9l3.5 .7 1.1-.7-3.4-.7z" color="#130b56"/>
<path d="M654.6 344.6l3.5 .7 1.1-.7-3.5-.7z" color="#130b56"/>
<path d="M658.1 345.3l3.5 .7 1.1-.7-3.5-.7z" color="#18156e"/>
<path d="M661.6 346l3.4 .7 1.1-.7-3.4-.7z" color="#212b9a"/>
<path d="M642.9 343.2l3.5 .7 1.2-.7-3.5-.7z" color="#212f9d"/>
<path d="M646.4 343.9l3.5 .7 1.2-.7-3.5-.7z" color="#191773"/>
<path d="M649.9 344.6l3.5 .7 1.2-.7-3.5-.7z" color="#140d5b"/>
<path d="M653.4 345.3l3.5 .7 1.2-.7-3.5-.7z" color="#140d5b"/>
<path d="M656.9 346l3.5 .7 1.2-.7-3.5-.7z" color="#191773"/>
<path d="M660.4 346.7l3.5 .7 1.1-.7-3.4-.7z" color="#212f9d"/>
<path d="M641.7 343.9l3.5 .7 1.2-.7-3.5-.7z" color="#2233a1"/>
<path d="M645.2 344.6l3.5 .7 1.2-.7-3.5-.7z" color="#1a1a7b"/>
<path d="M648.7 345.3l3.5 .7 1.2-.7-3.5-.7z" color="#161063"/>
<path d="M652.2 346l3.6 .7 1.1-.7-3.5-.7z" color="#161063"/>
<path d="M655.8 346.7l3.5 .7 1.1-.7-3.5-.7z" color="#1a1a7b"/>
<path d="M659.3 347.4l3.5 .7 1.1-.7-3.5-.7z" color="#2233a1"/>
<path d="M640.4 344.5l3.6 .8 1.2-.7-3.5-.7z" color="#233aa7"/>
<path d="M644 345.3l3.5 .7 1.2-.7-3.5-.7z" color="#1c1e85"/>
<path d="M647.5 346l3.6 .7 1.1-.7-3.5-.7z" color="#18156e"/>
<path d="M651.1 346.7l3.5 .7 1.2-.7-3.6-.7z" color="#18156e"/>
<path d="M654.6 347.4l3.5 .7 1.2-.7-3.5-.7z" color="#1c1e85"/>
<path d="M658.1 348.1l3.6 .7 1.1-.7-3.5-.7z" color="#233aa7"/>
<path d="M639.2 345.2l3.5 .7 1.3-.6-3.6-.8z" color="#2542af"/>
<path d="M642.7 345.9l3.6 .8 1.2-.7-3.5-.7z" color="#1f2392"/>
<path d="M646.3 346.7l3.6 .7 1.2-.7-3.6-.7z" color="#1b1a7c"/>
<path d="M649.9 347.4l3.5 .7 1.2-.7-3.5-.7z" color="#1b1a7c"/>
<path d="M653.4 348.1l3.6 .7 1.1-.7-3.5-.7z" color="#1f2392"/>
<path d="M657 348.8l3.5 .7 1.2-.7-3.6-.7z" color="#2542af"/>
<path d="M637.9 345.9l3.6 .7 1.2-.7-3.5-.7z" color="#274cb9"/>
<path d="M641.5 346.6l3.6 .8 1.2-.7-3.6-.8z" color="#212f9d"/>
<path d="M645.1 347.4l3.5 .7 1.3-.7-3.6-.7z" color="#1e218e"/>
<path d="M648.6 348.1l3.6 .7 1.2-.7-3.5-.7z" color="#1e218e"/>
<path d="M652.2 348.8l3.6 .8 1.2-.8-3.6-.7z" color="#212f9d"/>
<path d="M655.8 349.6l3.6 .7 1.1-.8-3.5-.7z" color="#274cb9"/>
<path d="M636.6 346.6l3.6 .7 1.3-.7-3.6-.7z" color="#2959c6"/>
<path d="M640.2 347.3l3.6 .8 1.3-.7-3.6-.8z" color="#243dab"/>
<path d="M643.8 348.1l3.6 .7 1.2-.7-3.5-.7z" color="#212f9d"/>
<path d="M647.4 348.8l3.6 .8 1.2-.8-3.6-.7z" color="#212f9d"/>
<path d="M651 349.6l3.6 .7 1.2-.7-3.6-.8z" color="#243dab"/>
<path d="M654.6 350.3l3.6 .7 1.2-.7-3.6-.7z" color="#2959c6"/>
<path d="M635.3 347.3l3.6 .8 1.3-.8-3.6-.7z" color="#2a65cb"/>
<path d="M638.9 348.1l3.7 .7 1.2-.7-3.6-.8z" color="#274ebc"/>
<path d="M642.6 348.8l3.6 .7 1.2-.7-3.6-.7z" color="#2541af"/>
<path d="M646.2 349.5l3.6 .8 1.2-.7-3.6-.8z" color="#2541af"/>
<path d="M649.8 350.3l3.6 .7 1.2-.7-3.6-.7z" color="#274ebc"/>
<path d="M653.4 351l3.6 .8 1.2-.8-3.6-.7z" color="#2a65cb"/>
<path d="M634 348l3.6 .8 1.3-.7-3.6-.8z" color="#2a72c9"/>
<path d="M637.6 348.8l3.7 .7 1.3-.7-3.7-.7z" color="#2b61cb"/>
<path d="M641.3 349.5l3.6 .8 1.3-.8-3.6-.7z" color="#2957c4"/>
<path d="M644.9 350.3l3.6 .7 1.3-.7-3.6-.8z" color="#2957c4"/>
<path d="M648.5 351l3.7 .8 1.2-.8-3.6-.7z" color="#2b61cb"/>
<path d="M652.2 351.8l3.6 .7 1.2-.7-3.6-.8z" color="#2a72c9"/>
<path d="M632.7 348.8l3.6 .7 1.3-.7-3.6-.8z" color="#2980c8"/>
<path d="M636.3 349.5l3.7 .8 1.3-.8-3.7-.7z" color="#2a71ca"/>
<path d="M640 350.3l3.6 .7 1.3-.7-3.6-.8z" color="#2a6aca"/>
<path d="M643.6 351l3.7 .8 1.2-.8-3.6-.7z" color="#2a6aca"/>
<path d="M647.3 351.8l3.7 .7 1.2-.7-3.7-.8z" color="#2a71ca"/>
<path d="M651 352.5l3.6 .8 1.2-.8-3.6-.7z" color="#2980c8"/>
<path d="M631.3 349.5l3.7 .7 1.3-.7-3.6-.7z" color="#268fbf"/>
<path d="M635 350.2l3.7 .8 1.3-.7-3.7-.8z" color="#2983c7"/>
<path d="M638.7 351l3.7 .8 1.2-.8-3.6-.7z" color="#297dc8"/>
<path d="M642.4 351.8l3.6 .8 1.3-.8-3.7-.8z" color="#297dc8"/>
<path d="M646 352.6l3.7 .7 1.3-.8-3.7-.7z" color="#2983c7"/>
<path d="M649.7 353.3l3.7 .8 1.2-.8-3.6-.8z" color="#268fbf"/>
<path d="M630 350.2l3.7 .8 1.3-.8-3.7-.7z" color="#219fae"/>
<path d="M633.7 351l3.7 .8 1.3-.8-3.7-.8z" color="#2496b8"/>
<path d="M637.4 351.8l3.7 .7 1.3-.7-3.7-.8z" color="#2691bd"/>
<path d="M641.1 352.5l3.7 .8 1.2-.7-3.6-.8z" color="#2691bd"/>
<path d="M644.8 353.3l3.7 .8 1.2-.8-3.7-.7z" color="#2496b8"/>
<path d="M648.5 354.1l3.6 .8 1.3-.8-3.7-.8z" color="#219fae"/>
<path d="M628.6 351l3.7 .7 1.4-.7-3.7-.8z" color="#1faf98"/>
<path d="M632.3 351.7l3.7 .8 1.4-.7-3.7-.8z" color="#1ea9a4"/>
<path d="M636 352.5l3.8 .8 1.3-.8-3.7-.7z" color="#1fa5a8"/>
<path d="M639.8 353.3l3.7 .8 1.3-.8-3.7-.8z" color="#1fa5a8"/>
<path d="M643.5 354.1l3.7 .8 1.3-.8-3.7-.8z" color="#1ea9a4"/>
<path d="M647.2 354.9l3.7 .8 1.2-.8-3.6-.8z" color="#1faf98"/>
<path d="M627.2 351.7l3.8 .8 1.3-.8-3.7-.7z" color="#28b871"/>
<path d="M631 352.5l3.7 .8 1.3-.8-3.7-.8z" color="#25b67c"/>
<path d="M634.7 353.3l3.7 .8 1.4-.8-3.8-.8z" color="#24b482"/>
<path d="M638.4 354.1l3.8 .8 1.3-.8-3.7-.8z" color="#24b482"/>
<path d="M642.2 354.9l3.7 .8 1.3-.8-3.7-.8z" color="#25b67c"/>
<path d="M645.9 355.7l3.7 .8 1.3-.8-3.7-.8z" color="#28b871"/>
<path d="M625.8 352.5l3.8 .8 1.4-.8-3.8-.8z" color="#38c14c"/>
<path d="M629.6 353.3l3.7 .8 1.4-.8-3.7-.8z" color="#31c050"/>
<path d="M633.3 354.1l3.8 .8 1.3-.8-3.7-.8z" color="#2ec052"/>
<path d="M637.1 354.9l3.7 .8 1.4-.8-3.8-.8z" color="#2ec052"/>
<path d="M640.8 355.7l3.8 .8 1.3-.8-3.7-.8z" color="#31c050"/>
<path d="M644.6 356.5l3.7 .8 1.3-.8-3.7-.8z" color="#38c14c"/>
<path d="M624.4 353.2l3.8 .9 1.4-.8-3.8-.8z" color="#66c835"/>
<path d="M628.2 354.1l3.8 .8 1.3-.8-3.7-.8z" color="#65c836"/>
<path d="M632 354.9l3.7 .8 1.4-.8-3.8-.8z" color="#64c836"/>
<path d="M635.7 355.7l3.8 .8 1.3-.8-3.7-.8z" color="#64c836"/>
<path d="M639.5 356.5l3.8 .8 1.3-.8-3.8-.8z" color="#65c836"/>
<path d="M643.3 357.3l3.7 .8 1.3-.8-3.7-.8z" color="#66c835"/>
<path d="M623 354l3.8 .8 1.4-.7-3.8-.9z" color="#8bca2b"/>
<path d="M626.8 354.8l3.8 .9 1.4-.8-3.8-.8z" color="#8eca2a"/>
<path d="M630.6 355.7l3.8 .8 1.3-.8-3.7-.8z" color="#90ca2a"/>
<path d="M634.4 356.5l3.7 .8 1.4-.8-3.8-.8z" color="#90ca2a"/>
<path d="M638.1 357.3l3.8 .8 1.4-.8-3.8-.8z" color="#8eca2a"/>
<path d="M641.9 358.1l3.8 .8 1.3-.8-3.7-.8z" color="#8bca2b"/>
<path d="M621.5 354.8l3.8 .8 1.5-.8-3.8-.8z" color="#abc727"/>
<path d="M625.3 355.6l3.8 .9 1.5-.8-3.8-.9z" color="#b1c427"/>
<path d="M629.1 356.5l3.9 .8 1.4-.8-3.8-.8z" color="#b4c327"/>
<path d="M633 357.3l3.8 .8 1.3-.8-3.7-.8z" color="#b4c327"/>
<path d="M636.8 358.1l3.8 .9 1.3-.9-3.8-.8z" color="#b1c427"/>
<path d="M640.6 359l3.8 .8 1.3-.9-3.8-.8z" color="#abc727"/>
<path d="M620 355.6l3.9 .9 1.4-.9-3.8-.8z" color="#c7bb27"/>
<path d="M623.9 356.5l3.8 .8 1.4-.8-3.8-.9z" color="#d1b727"/>
<path d="M627.7 357.3l3.9 .8 1.4-.8-3.9-.8z" color="#d5b527"/>
<path d="M631.6 358.1l3.8 .9 1.4-.9-3.8-.8z" color="#d5b527"/>
<path d="M635.4 359l3.8 .8 1.4-.8-3.8-.9z" color="#d1b727"/>
<path d="M639.2 359.8l3.9 .8 1.3-.8-3.8-.8z" color="#c7bb27"/>
<path d="M618.6 356.4l3.8 .9 1.5-.8-3.9-.9z" color="#d8ab25"/>
<path d="M622.4 357.3l3.9 .8 1.4-.8-3.8-.8z" color="#d99f22"/>
<path d="M626.3 358.1l3.8 .9 1.5-.9-3.9-.8z" color="#da9921"/>
<path d="M630.1 359l3.9 .8 1.4-.8-3.8-.9z" color="#da9921"/>
<path d="M634 359.8l3.9 .9 1.3-.9-3.8-.8z" color="#d99f22"/>
<path d="M637.9 360.7l3.8 .8 1.4-.9-3.9-.8z" color="#d8ab25"/>
<path d="M617 357.2l3.9 .9 1.5-.8-3.8-.9z" color="#da9320"/>
<path d="M620.9 358.1l3.9 .9 1.5-.9-3.9-.8z" color="#db841d"/>
<path d="M624.8 359l3.9 .8 1.4-.8-3.8-.9z" color="#d97c1b"/>
<path d="M628.7 359.8l3.9 .9 1.4-.9-3.9-.8z" color="#d97c1b"/>
<path d="M632.6 360.7l3.9 .8 1.4-.8-3.9-.9z" color="#db841d"/>
<path d="M636.5 361.5l3.8 .9 1.4-.9-3.8-.8z" color="#da9320"/>
<path d="M615.5 358.1l3.9 .8 1.5-.8-3.9-.9z" color="#d97d1b"/>
<path d="M619.4 358.9l3.9 .9 1.5-.8-3.9-.9z" color="#d36a16"/>
<path d="M623.3 359.8l3.9 .9 1.5-.9-3.9-.8z" color="#d06013"/>
<path d="M627.2 360.7l3.9 .8 1.5-.8-3.9-.9z" color="#d06013"/>
<path d="M631.1 361.5l3.9 .9 1.5-.9-3.9-.8z" color="#d36a16"/>
<path d="M635 362.4l3.9 .9 1.4-.9-3.8-.9z" color="#d97d1b"/>
<path d="M614 358.9l3.9 .9 1.5-.9-3.9-.8z" color="#d26815"/>
<path d="M617.9 359.8l3.9 .9 1.5-.9-3.9-.9z" color="#cc520f"/>
<path d="M621.8 360.7l4 .8 1.4-.8-3.9-.9z" color="#c8470c"/>
<path d="M625.8 361.5l3.9 .9 1.4-.9-3.9-.8z" color="#c8470c"/>
<path d="M629.7 362.4l3.9 .9 1.4-.9-3.9-.9z" color="#cc520f"/>
<path d="M633.6 363.3l3.9 .9 1.4-.9-3.9-.9z" color="#d26815"/>
<path d="M612.4 359.8l4 .8 1.5-.8-3.9-.9z" color="#cc5510"/>
<path d="M616.4 360.6l3.9 .9 1.5-.8-3.9-.9z" color="#c43e09"/>
<path d="M620.3 361.5l4 .9 1.5-.9-4-.8z" color="#bd3608"/>
<path d="M624.3 362.4l3.9 .9 1.5-.9-3.9-.9z" color="#bd3608"/>
<path d="M628.2 363.3l4 .9 1.4-.9-3.9-.9z" color="#c43e09"/>
<path d="M632.2 364.2l3.9 .9 1.4-.9-3.9-.9z" color="#cc5510"/>
<path d="M610.8 360.6l4 .9 1.6-.9-4-.8z" color="#c7450b"/>
<path d="M614.8 361.5l4 .9 1.5-.9-3.9-.9z" color="#ba3208"/>
<path d="M618.8 362.4l4 .9 1.5-.9-4-.9z" color="#b22906"/>
<path d="M622.8 363.3l3.9 .9 1.5-.9-3.9-.9z" color="#b22906"/>
<path d="M626.7 364.2l4 .9 1.5-.9-4-.9z" color="#ba3208"/>
<path d="M630.7 365.1l4 .9 1.4-.9-3.9-.9z" color="#c7450b"/>
<path d="M609.2 361.5l4 .9 1.6-.9-4-.9z" color="#c13a09"/>
<path d="M613.2 362.4l4 .9 1.6-.9-4-.9z" color="#b12806"/>
<path d="M617.2 363.3l4 .9 1.6-.9-4-.9z" color="#a91e05"/>
<path d="M621.2 364.2l4 .9 1.5-.9-3.9-.9z" color="#a91e05"/>
<path d="M625.2 365.1l4 .9 1.5-.9-4-.9z" color="#b12806"/>
<path d="M629.2 366l4 .9 1.5-.9-4-.9z" color="#c13a09"/>
<path d="M607.6 362.4l4 .9 1.6-.9-4-.9z" color="#ba3208"/>
<path d="M611.6 363.3l4.1 .9 1.5-.9-4-.9z" color="#a91f05"/>
<path d="M615.7 364.2l4 .9 1.5-.9-4-.9z" color="#9f1604"/>
<path d="M619.7 365.1l4 .9 1.5-.9-4-.9z" color="#9f1604"/>
<path d="M623.7 366l4 .9 1.5-.9-4-.9z" color="#a91f05"/>
<path d="M627.7 366.9l4 .9 1.5-.9-4-.9z" color="#ba3208"/>
<path d="M606 363.3l4 .9 1.6-.9-4-.9z" color="#b42c07"/>
<path d="M610 364.2l4.1 .9 1.6-.9-4.1-.9z" color="#a31804"/>
<path d="M614.1 365.1l4 .9 1.6-.9-4-.9z" color="#911303"/>
<path d="M618.1 366l4.1 1 1.5-1-4-.9z" color="#911303"/>
<path d="M622.2 367l4 .9 1.5-1-4-.9z" color="#a31804"/>
<path d="M626.2 367.9l4 .9 1.5-1-4-.9z" color="#b42c07"/>
<path d="M604.3 364.2l4.1 .9 1.6-.9-4-.9z" color="#b02606"/>
<path d="M608.4 365.1l4.1 .9 1.6-.9-4.1-.9z" color="#991503"/>
<path d="M612.5 366l4 1 1.6-1-4-.9z" color="#861002"/>
<path d="M616.5 367l4.1 .9 1.6-.9-4.1-1z" color="#861002"/>
<path d="M620.6 367.9l4.1 .9 1.5-.9-4-.9z" color="#991503"/>
<path d="M624.7 368.8l4 1 1.5-1-4-.9z" color="#b02606"/>
<path d="M602.6 365.1l4.1 .9 1.7-.9-4.1-.9z" color="#ac2205"/>
<path d="M606.7 366l4.1 1 1.7-1-4.1-.9z" color="#901303"/>
<path d="M610.8 367l4.1 .9 1.6-.9-4-1z" color="#7d0e02"/>
<path d="M614.9 367.9l4.1 .9 1.6-.9-4.1-.9z" color="#7d0e02"/>
<path d="M619 368.8l4.1 1 1.6-1-4.1-.9z" color="#901303"/>
<path d="M623.1 369.8l4.1 .9 1.5-.9-4-1z" color="#ac2205"/>
<path d="M600.9 366l4.2 .9 1.6-.9-4.1-.9z" color="#a91f05"/>
<path d="M605.1 366.9l4.1 1 1.6-.9-4.1-1z" color="#891102"/>
<path d="M609.2 367.9l4.1 1 1.6-1-4.1-.9z" color="#760d01"/>
<path d="M613.3 368.9l4.1 .9 1.6-1-4.1-.9z" color="#760d01"/>
<path d="M617.4 369.8l4.1 1 1.6-1-4.1-1z" color="#891102"/>
<path d="M621.5 370.8l4.1 .9 1.6-1-4.1-.9z" color="#a91f05"/>
<path d="M599.2 366.9l4.2 1 1.7-1-4.2-.9z" color="#a71c05"/>
<path d="M603.4 367.9l4.1 1 1.7-1-4.1-1z" color="#841002"/>
<path d="M607.5 368.9l4.1 .9 1.7-.9-4.1-1z" color="#700b01"/>
<path d="M611.6 369.8l4.2 1 1.6-1-4.1-.9z" color="#700b01"/>
<path d="M615.8 370.8l4.1 1 1.6-1-4.1-1z" color="#841002"/>
<path d="M619.9 371.8l4.2 .9 1.5-1-4.1-.9z" color="#a71c05"/>
<path d="M597.5 367.9l4.1 1 1.8-1-4.2-1z" color="#a51a04"/>
<path d="M601.6 368.9l4.2 .9 1.7-.9-4.1-1z" color="#800f02"/>
<path d="M605.8 369.8l4.2 1 1.6-1-4.1-.9z" color="#6c0a01"/>
<path d="M610 370.8l4.1 1 1.7-1-4.2-1z" color="#6c0a01"/>
<path d="M614.1 371.8l4.2 1 1.6-1-4.1-1z" color="#800f02"/>
<path d="M618.3 372.8l4.2 .9 1.6-1-4.2-.9z" color="#a51a04"/>
<path d="M595.7 368.8l4.2 1 1.7-.9-4.1-1z" color="#a41904"/>
<path d="M599.9 369.8l4.2 1 1.7-1-4.2-.9z" color="#7d0e02"/>
<path d="M604.1 370.8l4.2 1 1.7-1-4.2-1z" color="#680a00"/>
<path d="M608.3 371.8l4.2 1 1.6-1-4.1-1z" color="#680a00"/>
<path d="M612.5 372.8l4.2 1 1.6-1-4.2-1z" color="#7d0e02"/>
<path d="M616.7 373.8l4.2 1 1.6-1.1-4.2-.9z" color="#a41904"/>
<path d="M593.9 369.8l4.2 1 1.8-1-4.2-1z" color="#a31804"/>
<path d="M598.1 370.8l4.3 1 1.7-1-4.2-1z" color="#7b0e02"/>
<path d="M602.4 371.8l4.2 1 1.7-1-4.2-1z" color="#660900"/>
<path d="M606.6 372.8l4.2 1 1.7-1-4.2-1z" color="#660900"/>
<path d="M610.8 373.8l4.2 1 1.7-1-4.2-1z" color="#7b0e02"/>
<path d="M615 374.8l4.2 1 1.7-1-4.2-1z" color="#a31804"/>
<path d="M592.1 370.8l4.2 1 1.8-1-4.2-1z" color="#a21704"/>
<path d="M596.3 371.8l4.3 1 1.8-1-4.3-1z" color="#790d01"/>
<path d="M600.6 372.8l4.2 1 1.8-1-4.2-1z" color="#650900"/>
<path d="M604.8 373.8l4.3 1 1.7-1-4.2-1z" color="#650900"/>
<path d="M609.1 374.8l4.2 1 1.7-1-4.2-1z" color="#790d01"/>
<path d="M613.3 375.8l4.3 1.1 1.6-1.1-4.2-1z" color="#a21704"/>
<path d="M590.3 371.8l4.2 1 1.8-1-4.2-1z" color="#a21704"/>
<path d="M594.5 372.8l4.3 1 1.8-1-4.3-1z" color="#790d01"/>
<path d="M598.8 373.8l4.3 1.1 1.7-1.1-4.2-1z" color="#640800"/>
<path d="M603.1 374.9l4.3 1 1.7-1.1-4.3-1z" color="#640800"/>
<path d="M607.4 375.9l4.2 1 1.7-1.1-4.2-1z" color="#790d01"/>
<path d="M611.6 376.9l4.3 1 1.7-1-4.3-1.1z" color="#a21704"/>
<path d="M588.4 372.8l4.3 1 1.8-1-4.2-1z" color="#a11704"/>
<path d="M592.7 373.8l4.3 1.1 1.8-1.1-4.3-1z" color="#780d01"/>
<path d="M597 374.9l4.3 1 1.8-1-4.3-1.1z" color="#640800"/>
<path d="M601.3 375.9l4.3 1 1.8-1-4.3-1z" color="#640800"/>
<path d="M605.6 376.9l4.3 1.1 1.7-1.1-4.2-1z" color="#780d01"/>
<path d="M609.9 378l4.3 1 1.7-1.1-4.3-1z" color="#a11704"/>
<clipPath id="cp9"><path d="M614.2 379.0L616.6 381.6L618.8 384.5L620.7 387.7L622.3 391.0L623.5 394.4L624.4 397.9L624.9 401.4L625.0 404.9L624.7 408.3L624.0 411.4L623.0 414.4L621.6 417.1L619.8 419.5L617.8 421.6L615.5 423.2L612.9 424.5L610.2 425.3L607.3 425.7L604.3 425.7L601.3 425.2L598.3 424.2L595.3 422.8L592.4 421.1L589.7 418.9L587.1 416.4L584.8 413.7L582.8 410.6L581.0 407.4L579.6 404.0L578.6 400.5L577.9 397.0L577.6 393.5L577.7 390.1L578.2 386.8L579.1 383.8L580.3 380.9L581.9 378.4L583.8 376.1L586.0 374.3L588.4 372.8Z"/></clipPath>
<g clip-path="url(#cp9)">
<path d="M576.4 367.2l4.2 1 0 7.6-4.2-.9z" color="#631a04"/>
<path d="M580.6 368.2l4.1 1 0 7.6-4.1-1z" color="#631a04"/>
<path d="M584.7 369.2l4.2 1 0 7.6-4.2-1z" color="#631a04"/>
<path d="M588.9 370.2l4.1 1 0 7.6-4.1-1z" color="#5c1203"/>
<path d="M593 371.2l4.2 1 0 7.6-4.2-1z" color="#510b02"/>
<path d="M597.2 372.2l4.1 1 0 7.6-4.1-1z" color="#490901"/>
<path d="M601.3 373.2l4.1 1 0 7.6-4.1-1z" color="#490901"/>
<path d="M605.4 374.2l4.2 1 0 7.6-4.2-1z" color="#510b02"/>
<path d="M609.6 375.2l4.1 1 0 7.6-4.1-1z" color="#5c1203"/>
<path d="M613.7 376.2l4.2 1 0 7.6-4.2-1z" color="#631a04"/>
<path d="M617.9 377.2l4.1 1 0 7.6-4.1-1z" color="#631a04"/>
<path d="M622 378.2l4.2 1 0 7.6-4.2-1z" color="#631a04"/>
<path d="M576.4 374.9l4.2 .9 0 5-4.2-1z" color="#6e320a"/>
<path d="M580.6 375.8l4.1 1 0 5-4.1-1z" color="#6e320a"/>
<path d="M584.7 376.8l4.2 1 0 5-4.2-1z" color="#6e320a"/>
<path d="M588.9 377.8l4.1 1 0 5-4.1-1z" color="#6d2f09"/>
<path d="M593 378.8l4.2 1 0 5-4.2-1z" color="#6c2a08"/>
<path d="M597.2 379.8l4.1 1 0 5-4.1-1z" color="#6b2807"/>
<path d="M601.3 380.8l4.1 1 0 4.9-4.1-.9z" color="#6b2807"/>
<path d="M605.4 381.8l4.2 1 0 4.9-4.2-1z" color="#6c2a08"/>
<path d="M609.6 382.8l4.1 1 0 4.9-4.1-1z" color="#6d2f09"/>
<path d="M613.7 383.8l4.2 1 0 4.9-4.2-1z" color="#6e320a"/>
<path d="M617.9 384.8l4.1 1 0 4.9-4.1-1z" color="#6e320a"/>
<path d="M622 385.8l4.2 1 0 4.9-4.2-1z" color="#6e320a"/>
<path d="M576.4 379.8l4.2 1 0 4.9-4.2-1z" color="#703c0d"/>
<path d="M580.6 380.8l4.1 1 0 4.9-4.1-1z" color="#703c0d"/>
<path d="M584.7 381.8l4.2 1 0 4.9-4.2-1z" color="#703c0d"/>
<path d="M588.9 382.8l4.1 1 0 4.9-4.1-1z" color="#703a0c"/>
<path d="M593 383.8l4.2 1 0 4.9-4.2-1z" color="#6f390c"/>
<path d="M597.2 384.8l4.1 1 0 4.9-4.1-1z" color="#6f380b"/>
<path d="M601.3 385.8l4.1 .9 0 5-4.1-1z" color="#6f380b"/>
<path d="M605.4 386.7l4.2 1 0 5-4.2-1z" color="#6f390c"/>
<path d="M609.6 387.7l4.1 1 0 5-4.1-1z" color="#703a0c"/>
<path d="M613.7 388.7l4.2 1 0 5-4.2-1z" color="#703c0d"/>
<path d="M617.9 389.7l4.1 1 0 5-4.1-1z" color="#703c0d"/>
<path d="M622 390.7l4.2 1 0 5-4.2-1z" color="#703c0d"/>
<path d="M576.4 384.7l4.2 1 0 4.9-4.2-1z" color="#71420e"/>
<path d="M580.6 385.7l4.1 1 0 4.9-4.1-1z" color="#71420e"/>
<path d="M584.7 386.7l4.2 1 0 4.9-4.2-1z" color="#71420e"/>
<path d="M588.9 387.7l4.1 1 0 4.9-4.1-1z" color="#71410e"/>
<path d="M593 388.7l4.2 1 0 4.9-4.2-1z" color="#71400e"/>
<path d="M597.2 389.7l4.1 1 0 4.9-4.1-1z" color="#71400e"/>
<path d="M601.3 390.7l4.1 1 0 4.9-4.1-1z" color="#71400e"/>
<path d="M605.4 391.7l4.2 1 0 4.9-4.2-1z" color="#71400e"/>
<path d="M609.6 392.7l4.1 1 0 4.9-4.1-1z" color="#71410e"/>
<path d="M613.7 393.7l4.2 1 0 4.9-4.2-1z" color="#71420e"/>
<path d="M617.9 394.7l4.1 1 0 4.9-4.1-1z" color="#71420e"/>
<path d="M622 395.7l4.2 1 0 4.9-4.2-1z" color="#71420e"/>
<path d="M576.4 389.6l4.2 1 0 5-4.2-1z" color="#71450f"/>
<path d="M580.6 390.6l4.1 1 0 4.9-4.1-.9z" color="#71450f"/>
<path d="M584.7 391.6l4.2 1 0 4.9-4.2-1z" color="#71450f"/>
<path d="M588.9 392.6l4.1 1 0 4.9-4.1-1z" color="#71450f"/>
<path d="M593 393.6l4.2 1 0 4.9-4.2-1z" color="#71450f"/>
<path d="M597.2 394.6l4.1 1 0 4.9-4.1-1z" color="#71450f"/>
<path d="M601.3 395.6l4.1 1 0 4.9-4.1-1z" color="#71450f"/>
<path d="M605.4 396.6l4.2 1 0 4.9-4.2-1z" color="#71450f"/>
<path d="M609.6 397.6l4.1 1 0 4.9-4.1-1z" color="#71450f"/>
<path d="M613.7 398.6l4.2 1 0 4.9-4.2-1z" color="#71450f"/>
<path d="M617.9 399.6l4.1 1 0 4.9-4.1-1z" color="#71450f"/>
<path d="M622 400.6l4.2 1 0 4.9-4.2-1z" color="#71450f"/>
<path d="M576.4 394.6l4.2 1 0 4.9-4.2-1z" color="#6f4810"/>
<path d="M580.6 395.6l4.1 .9 0 5-4.1-1z" color="#6f4810"/>
<path d="M584.7 396.5l4.2 1 0 5-4.2-1z" color="#6f4810"/>
<path d="M588.9 397.5l4.1 1 0 5-4.1-1z" color="#6f4810"/>
<path d="M593 398.5l4.2 1 0 5-4.2-1z" color="#6f4810"/>
<path d="M597.2 399.5l4.1 1 0 5-4.1-1z" color="#6f4810"/>
<path d="M601.3 400.5l4.1 1 0 5-4.1-1z" color="#6f4810"/>
<path d="M605.4 401.5l4.2 1 0 5-4.2-1z" color="#6f4810"/>
<path d="M609.6 402.5l4.1 1 0 4.9-4.1-.9z" color="#6f4810"/>
<path d="M613.7 403.5l4.2 1 0 4.9-4.2-1z" color="#6f4810"/>
<path d="M617.9 404.5l4.1 1 0 4.9-4.1-1z" color="#6f4810"/>
<path d="M622 405.5l4.2 1 0 4.9-4.2-1z" color="#6f4810"/>
<path d="M576.4 399.5l4.2 1 0 4.9-4.2-1z" color="#6e4a10"/>
<path d="M580.6 400.5l4.1 1 0 4.9-4.1-1z" color="#6e4a10"/>
<path d="M584.7 401.5l4.2 1 0 4.9-4.2-1z" color="#6e4a10"/>
<path d="M588.9 402.5l4.1 1 0 4.9-4.1-1z" color="#6e4a10"/>
<path d="M593 403.5l4.2 1 0 4.9-4.2-1z" color="#6e4a10"/>
<path d="M597.2 404.5l4.1 1 0 4.9-4.1-1z" color="#6e4a10"/>
<path d="M601.3 405.5l4.1 1 0 4.9-4.1-1z" color="#6e4a10"/>
<path d="M605.4 406.5l4.2 1 0 4.9-4.2-1z" color="#6e4a10"/>
<path d="M609.6 407.5l4.1 .9 0 5-4.1-1z" color="#6e4a10"/>
<path d="M613.7 408.4l4.2 1 0 5-4.2-1z" color="#6e4a10"/>
<path d="M617.9 409.4l4.1 1 0 5-4.1-1z" color="#6e4a10"/>
<path d="M622 410.4l4.2 1 0 5-4.2-1z" color="#6e4a10"/>
<path d="M576.4 404.4l4.2 1 0 4.9-4.2-1z" color="#6c4c11"/>
<path d="M580.6 405.4l4.1 1 0 4.9-4.1-1z" color="#6c4c11"/>
<path d="M584.7 406.4l4.2 1 0 4.9-4.2-1z" color="#6c4c11"/>
<path d="M588.9 407.4l4.1 1 0 4.9-4.1-1z" color="#6c4c11"/>
<path d="M593 408.4l4.2 1 0 4.9-4.2-1z" color="#6c4c11"/>
<path d="M597.2 409.4l4.1 1 0 4.9-4.1-1z" color="#6c4c11"/>
<path d="M601.3 410.4l4.1 1 0 4.9-4.1-1z" color="#6c4c11"/>
<path d="M605.4 411.4l4.2 1 0 4.9-4.2-1z" color="#6c4c11"/>
<path d="M609.6 412.4l4.1 1 0 4.9-4.1-1z" color="#6c4c11"/>
<path d="M613.7 413.4l4.2 1 0 4.9-4.2-1z" color="#6c4c11"/>
<path d="M617.9 414.4l4.1 1 0 4.9-4.1-1z" color="#6c4c11"/>
<path d="M622 415.4l4.2 1 0 4.9-4.2-1z" color="#6c4c11"/>
<path d="M576.4 409.3l4.2 1 0 5-4.2-1z" color="#6b4e11"/>
<path d="M580.6 410.3l4.1 1 0 5-4.1-1z" color="#6b4e11"/>
<path d="M584.7 411.3l4.2 1 0 5-4.2-1z" color="#6b4e11"/>
<path d="M588.9 412.3l4.1 1 0 4.9-4.1-.9z" color="#6b4e11"/>
<path d="M593 413.3l4.2 1 0 4.9-4.2-1z" color="#6b4e11"/>
<path d="M597.2 414.3l4.1 1 0 4.9-4.1-1z" color="#6b4e11"/>
<path d="M601.3 415.3l4.1 1 0 4.9-4.1-1z" color="#6b4e11"/>
<path d="M605.4 416.3l4.2 1 0 4.9-4.2-1z" color="#6b4e11"/>
<path d="M609.6 417.3l4.1 1 0 4.9-4.1-1z" color="#6b4e11"/>
<path d="M613.7 418.3l4.2 1 0 4.9-4.2-1z" color="#6b4e11"/>
<path d="M617.9 419.3l4.1 1 0 4.9-4.1-1z" color="#6b4e11"/>
<path d="M622 420.3l4.2 1 0 4.9-4.2-1z" color="#6b4e11"/>
<path d="M576.4 414.3l4.2 1 0 7.6-4.2-1z" color="#6a5011"/>
<path d="M580.6 415.3l4.1 1 0 7.6-4.1-1z" color="#6a5011"/>
<path d="M584.7 416.3l4.2 1 0 7.6-4.2-1z" color="#6a5011"/>
<path d="M588.9 417.3l4.1 .9 0 7.7-4.1-1z" color="#6a5011"/>
<path d="M593 418.2l4.2 1 0 7.7-4.2-1z" color="#6a5011"/>
<path d="M597.2 419.2l4.1 1 0 7.6-4.1-.9z" color="#6a5011"/>
<path d="M601.3 420.2l4.1 1 0 7.6-4.1-1z" color="#6a5011"/>
<path d="M605.4 421.2l4.2 1 0 7.6-4.2-1z" color="#6a5011"/>
<path d="M609.6 422.2l4.1 1 0 7.6-4.1-1z" color="#6a5011"/>
<path d="M613.7 423.2l4.2 1 0 7.6-4.2-1z" color="#6a5011"/>
<path d="M617.9 424.2l4.1 1 0 7.6-4.1-1z" color="#6a5011"/>
<path d="M622 425.2l4.2 1 0 7.6-4.2-1z" color="#6a5011"/>
</g>
<path d="M645.1 334.3l3.7 1.2 3.7 1 3.6 .6 3.7 .4 3.7 0 1.1-.5-3.7-.1-3.7-.3-3.6-.7-3.7-.9-3.7-1.2z" color="#120850"/>
<path d="M643.9 334.8l3.7 1.3 3.7 .9 3.7 .7 3.7 .3 3.7 .1 1.1-.6-3.7 0-3.7-.4-3.6-.6-3.7-1-3.7-1.2z" color="#120952"/>
<path d="M642.8 335.3l3.7 1.3 3.7 .9 3.7 .7 3.7 .4 3.7 0 1.1-.5-3.7-.1-3.7-.3-3.7-.7-3.7-.9-3.7-1.3z" color="#130a55"/>
<path d="M641.6 335.8l3.7 1.3 3.7 .9 3.8 .7 3.7 .4 3.7 0 1.1-.5-3.7 0-3.7-.4-3.7-.7-3.7-.9-3.7-1.3z" color="#140b59"/>
<path d="M640.4 336.3l3.8 1.2 3.7 1 3.7 .7 3.8 .4 3.7 0 1.1-.5-3.7 0-3.7-.4-3.8-.7-3.7-.9-3.7-1.3z" color="#150e60"/>
<path d="M639.2 336.7l3.8 1.3 3.7 1 3.8 .7 3.7 .3 3.8 .1 1.1-.5-3.7 0-3.8-.4-3.7-.7-3.7-1-3.8-1.2z" color="#171168"/>
<path d="M638 337.2l3.8 1.2 3.7 1 3.8 .7 3.8 .4 3.7 .1 1.2-.5-3.8-.1-3.7-.3-3.8-.7-3.7-1-3.8-1.3z" color="#191573"/>
<path d="M636.8 337.6l3.8 1.2 3.7 1 3.8 .7 3.8 .4 3.8 .1 1.1-.4-3.7-.1-3.8-.4-3.8-.7-3.7-1-3.8-1.2z" color="#1c1b81"/>
<path d="M635.6 337.9l3.7 1.3 3.8 1 3.8 .7 3.8 .4 3.8 .1 1.2-.4-3.8-.1-3.8-.4-3.8-.7-3.7-1-3.8-1.2z" color="#1f2192"/>
<path d="M634.3 338.2l3.8 1.3 3.8 1 3.8 .7 3.8 .4 3.8 .2 1.2-.4-3.8-.1-3.8-.4-3.8-.7-3.8-1-3.7-1.3z" color="#232da4"/>
<path d="M633 338.5l3.9 1.2 3.8 1 3.8 .7 3.8 .5 3.8 .2 1.2-.3-3.8-.2-3.8-.4-3.8-.7-3.8-1-3.8-1.3z" color="#263eb6"/>
<path d="M631.8 338.8l3.8 1.1 3.8 1 3.9 .7 3.8 .5 3.8 .3 1.2-.3-3.8-.2-3.8-.5-3.8-.7-3.8-1-3.9-1.2z" color="#2b52ca"/>
<path d="M630.5 338.9l3.8 1.2 3.9 .9 3.8 .8 3.8 .5 3.9 .3 1.2-.2-3.8-.3-3.8-.5-3.9-.7-3.8-1-3.8-1.1z" color="#2f69e2"/>
<path d="M629.2 339.1l3.8 1.1 3.9 .9 3.8 .8 3.9 .5 3.8 .4 1.3-.2-3.9-.3-3.8-.5-3.8-.8-3.9-.9-3.8-1.2z" color="#2f7ce3"/>
<path d="M627.9 339.2l3.8 1 3.9 1 3.9 .7 3.8 .6 3.9 .4 1.2-.1-3.8-.4-3.9-.5-3.8-.8-3.9-.9-3.8-1.1z" color="#2f91e2"/>
<path d="M626.5 339.2l3.9 1 3.9 .9 3.9 .8 3.8 .6 3.9 .5 1.3-.1-3.9-.4-3.8-.6-3.9-.7-3.9-1-3.8-1z" color="#2ba7d6"/>
<path d="M625.2 339.2l3.9 1 3.9 .9 3.9 .7 3.8 .7 3.9 .5 1.3 0-3.9-.5-3.8-.6-3.9-.8-3.9-.9-3.9-1z" color="#24bec1"/>
<path d="M623.8 339.2l3.9 .9 3.9 .8 3.9 .8 3.9 .7 3.9 .7 1.3-.1-3.9-.5-3.8-.7-3.9-.7-3.9-.9-3.9-1z" color="#28cf9a"/>
<path d="M622.4 339.1l3.9 .9 4 .8 3.9 .8 3.9 .7 3.9 .7 1.3 .1-3.9-.7-3.9-.7-3.9-.8-3.9-.8-3.9-.9z" color="#34dc67"/>
<path d="M621 339.1l4 .8 3.9 .8 3.9 .7 4 .8 3.9 .8 1.3 0-3.9-.7-3.9-.7-3.9-.8-4-.8-3.9-.9z" color="#67e645"/>
<path d="M621 339.1l19.7 3.9 23.9-11.9-18.4-3.2z" fill="#d6d3c6" stroke="none" fill-opacity="0.5"/>
<path d="M589.2 353.2l21.3 4.9 30.2-15.1-19.7-3.9z" fill="#d6d3c6" stroke="none" fill-opacity="0.5"/>
<path d="M619.6 339l4 .7 3.9 .8 4 .8 3.9 .8 4 .9 1.3 0-3.9-.8-4-.8-3.9-.7-3.9-.8-4-.8z" color="#9bea33"/>
<path d="M618.2 339l3.9 .6 4 .8 4 .8 3.9 .8 4 1 1.4 0-4-.9-3.9-.8-4-.8-3.9-.8-4-.7z" color="#c5e72d"/>
<path d="M616.7 338.9l4 .6 4 .7 4 .9 4 .9 3.9 1 1.4 0-4-1-3.9-.8-4-.8-4-.8-3.9-.6z" color="#ead72d"/>
<path d="M615.3 338.9l4 .6 4 .7 4 .8 4 .9 3.9 1.1 1.4 0-3.9-1-4-.9-4-.9-4-.7-4-.6z" color="#f9bc29"/>
<path d="M613.8 339l4 .5 4 .6 4 .9 4 1 4 1.1 1.4-.1-3.9-1.1-4-.9-4-.8-4-.7-4-.6z" color="#fa9b22"/>
<path d="M612.3 339.1l4 .4 4 .6 4.1 .9 4 1 4 1.3 1.4-.2-4-1.1-4-1-4-.9-4-.6-4-.5z" color="#ef7919"/>
<path d="M610.8 339.2l4 .4 4.1 .6 4 .9 4 1.1 4.1 1.3 1.4-.2-4-1.3-4-1-4.1-.9-4-.6-4-.4z" color="#e45b10"/>
<path d="M609.2 339.4l4.1 .4 4 .6 4.1 .8 4.1 1.1 4 1.4 1.5-.2-4.1-1.3-4-1.1-4-.9-4.1-.6-4-.4z" color="#d8420a"/>
<path d="M607.7 339.7l4 .3 4.1 .6 4.1 .9 4.1 1.1 4 1.4 1.5-.3-4-1.4-4.1-1.1-4.1-.8-4-.6-4.1-.4z" color="#c83208"/>
<path d="M606.1 340l4.1 .3 4.1 .6 4.1 .9 4.1 1.1 4 1.5 1.5-.4-4-1.4-4.1-1.1-4.1-.9-4.1-.6-4-.3z" color="#bb2406"/>
<path d="M604.5 340.4l4.1 .2 4.1 .6 4.1 .9 4.1 1.2 4.1 1.5 1.5-.4-4-1.5-4.1-1.1-4.1-.9-4.1-.6-4.1-.3z" color="#b01904"/>
<path d="M602.9 340.8l4.1 .3 4.1 .5 4.2 .9 4.1 1.3 4.1 1.5 1.5-.5-4.1-1.5-4.1-1.2-4.1-.9-4.1-.6-4.1-.2z" color="#9e1503"/>
<path d="M601.3 341.3l4.1 .2 4.1 .6 4.2 .9 4.1 1.3 4.1 1.5 1.6-.5-4.1-1.5-4.1-1.3-4.2-.9-4.1-.5-4.1-.3z" color="#8f1102"/>
<path d="M599.6 341.8l4.2 .3 4.1 .5 4.2 .9 4.1 1.3 4.2 1.6 1.5-.6-4.1-1.5-4.1-1.3-4.2-.9-4.1-.6-4.1-.2z" color="#820f02"/>
<path d="M597.9 342.4l4.2 .2 4.2 .6 4.1 .9 4.2 1.3 4.2 1.7 1.6-.7-4.2-1.6-4.1-1.3-4.2-.9-4.1-.5-4.2-.3z" color="#790d01"/>
<path d="M596.2 343l4.2 .2 4.2 .6 4.2 .9 4.2 1.3 4.2 1.7 1.6-.6-4.2-1.7-4.2-1.3-4.1-.9-4.2-.6-4.2-.2z" color="#720b01"/>
<path d="M594.5 343.7l4.2 .2 4.2 .6 4.2 .9 4.2 1.3 4.2 1.7 1.7-.7-4.2-1.7-4.2-1.3-4.2-.9-4.2-.6-4.2-.2z" color="#6c0a00"/>
<path d="M592.8 344.4l4.2 .2 4.2 .5 4.2 1 4.3 1.3 4.2 1.7 1.6-.7-4.2-1.7-4.2-1.3-4.2-.9-4.2-.6-4.2-.2z" color="#680900"/>
<path d="M591 345.1l4.2 .2 4.3 .6 4.2 .9 4.3 1.4 4.2 1.7 1.7-.8-4.2-1.7-4.3-1.3-4.2-1-4.2-.5-4.2-.2z" color="#660800"/>
<path d="M589.2 345.8l4.3 .2 4.2 .6 4.3 1 4.2 1.4 4.3 1.7 1.7-.8-4.2-1.7-4.3-1.4-4.2-.9-4.3-.6-4.2-.2z" color="#640800"/></g>
<text x="625" y="469.5" font-family="Liberation Serif, serif" font-size="14" letter-spacing="0.3" text-anchor="middle" fill="#1a1a1a">(<tspan font-style="italic">c</tspan>)</text>
<g stroke-width="0.5" fill="none">
<line x1="589" y1="450.2" x2="588.7" y2="441.2" stroke="#b8f0b8"/>
<line x1="589" y1="450.2" x2="593.6" y2="446.9" stroke="#ece27a"/>
<line x1="589" y1="450.2" x2="597.6" y2="452.3" stroke="#ff8a8a" stroke-dasharray="1.1 0.7"/>
</g>
<circle cx="588.6" cy="440.4" r="1.15" fill="#22cc33"/>
<circle cx="593.5" cy="446.9" r="0.85" fill="#d4c81c"/>
<circle cx="598.1" cy="452.5" r="1.15" fill="#ee2222"/>
<g stroke="#555" stroke-width="0.45" fill="none"><path d="M589.6 438.9h1.3l-1.3 1.5h1.3M594.6 444.6l.7 .9m.7-.9l-1.2 1.9M599.0 450.4l1.5 1.6m0-1.6l-1.5 1.6"/></g>
<g font-family="Liberation Serif, serif" fill="#1e1e1e">
<line x1="103.85" y1="6.5" x2="103.85" y2="447.8" stroke="#e4e4e4" stroke-width="0.9"/>
<line x1="164.10" y1="6.5" x2="164.10" y2="447.8" stroke="#e4e4e4" stroke-width="0.9"/>
<line x1="224.35" y1="6.5" x2="224.35" y2="447.8" stroke="#e4e4e4" stroke-width="0.9"/>
<line x1="43.6" y1="403.67" x2="284.6" y2="403.67" stroke="#e4e4e4" stroke-width="0.9"/>
<line x1="43.6" y1="359.54" x2="284.6" y2="359.54" stroke="#e4e4e4" stroke-width="0.9"/>
<line x1="43.6" y1="315.41" x2="284.6" y2="315.41" stroke="#e4e4e4" stroke-width="0.9"/>
<line x1="43.6" y1="271.28" x2="284.6" y2="271.28" stroke="#e4e4e4" stroke-width="0.9"/>
<line x1="43.6" y1="227.15" x2="284.6" y2="227.15" stroke="#e4e4e4" stroke-width="0.9"/>
<line x1="43.6" y1="183.02" x2="284.6" y2="183.02" stroke="#e4e4e4" stroke-width="0.9"/>
<line x1="43.6" y1="138.89" x2="284.6" y2="138.89" stroke="#e4e4e4" stroke-width="0.9"/>
<line x1="43.6" y1="94.76" x2="284.6" y2="94.76" stroke="#e4e4e4" stroke-width="0.9"/>
<line x1="43.6" y1="50.63" x2="284.6" y2="50.63" stroke="#e4e4e4" stroke-width="0.9"/>
<circle cx="73.72" cy="423.7" r="2.9" fill="#000000"/>
<circle cx="88.79" cy="411.1" r="2.9" fill="#141414"/>
<circle cx="103.85" cy="399.1" r="2.9" fill="#272727"/>
<circle cx="118.91" cy="387.8" r="2.9" fill="#3b3b3b"/>
<circle cx="133.98" cy="377.0" r="2.9" fill="#4f4f4f"/>
<circle cx="149.04" cy="367.1" r="2.9" fill="#626262"/>
<circle cx="164.10" cy="356.8" r="2.9" fill="#767676"/>
<circle cx="179.16" cy="347.1" r="2.9" fill="#8a8a8a"/>
<circle cx="194.22" cy="336.8" r="2.9" fill="#9d9d9d"/>
<circle cx="209.29" cy="325.9" r="2.9" fill="#b1b1b1"/>
<circle cx="224.35" cy="314.2" r="2.9" fill="#c5c5c5"/>
<circle cx="239.41" cy="300.0" r="2.9" fill="#d8d8d8"/>
<circle cx="254.47" cy="280.3" r="2.9" fill="#ececec"/>
<circle cx="73.72" cy="286.9" r="2.9" fill="#000000"/>
<circle cx="88.79" cy="268.7" r="2.9" fill="#141414"/>
<circle cx="103.85" cy="252.6" r="2.9" fill="#272727"/>
<circle cx="118.91" cy="239.1" r="2.9" fill="#3b3b3b"/>
<circle cx="133.98" cy="226.9" r="2.9" fill="#4f4f4f"/>
<circle cx="149.04" cy="216.3" r="2.9" fill="#626262"/>
<circle cx="164.10" cy="207.1" r="2.9" fill="#767676"/>
<circle cx="179.16" cy="198.4" r="2.9" fill="#8a8a8a"/>
<circle cx="194.22" cy="190.2" r="2.9" fill="#9d9d9d"/>
<circle cx="209.29" cy="182.3" r="2.9" fill="#b1b1b1"/>
<circle cx="224.35" cy="173.3" r="2.9" fill="#c5c5c5"/>
<circle cx="239.41" cy="163.2" r="2.9" fill="#d8d8d8"/>
<circle cx="254.47" cy="147.5" r="2.9" fill="#ececec"/>
<circle cx="73.72" cy="245.0" r="2.9" fill="#000000"/>
<circle cx="88.79" cy="239.3" r="2.9" fill="#141414"/>
<circle cx="103.85" cy="233.7" r="2.9" fill="#272727"/>
<circle cx="118.91" cy="226.0" r="2.9" fill="#3b3b3b"/>
<circle cx="133.98" cy="216.8" r="2.9" fill="#4f4f4f"/>
<circle cx="149.04" cy="208.9" r="2.9" fill="#626262"/>
<circle cx="164.10" cy="198.1" r="2.9" fill="#767676"/>
<circle cx="179.16" cy="185.6" r="2.9" fill="#8a8a8a"/>
<circle cx="194.22" cy="170.6" r="2.9" fill="#9d9d9d"/>
<circle cx="209.29" cy="151.4" r="2.9" fill="#b1b1b1"/>
<circle cx="224.35" cy="126.9" r="2.9" fill="#c5c5c5"/>
<circle cx="239.41" cy="92.3" r="2.9" fill="#d8d8d8"/>
<circle cx="254.47" cy="63.0" r="2.9" fill="#ececec"/>
<path d="M71.02 423.00L76.42 428.40M71.02 428.40L76.42 423.00" stroke="#ff0000" stroke-width="2.1" fill="none"/>
<path d="M101.15 398.40L106.55 403.80M101.15 403.80L106.55 398.40" stroke="#ff0000" stroke-width="2.1" fill="none"/>
<path d="M131.28 375.90L136.68 381.30M131.28 381.30L136.68 375.90" stroke="#ff0000" stroke-width="2.1" fill="none"/>
<path d="M161.40 357.20L166.80 362.60M161.40 362.60L166.80 357.20" stroke="#ff0000" stroke-width="2.1" fill="none"/>
<path d="M191.53 337.90L196.92 343.30M191.53 343.30L196.92 337.90" stroke="#ff0000" stroke-width="2.1" fill="none"/>
<path d="M221.65 316.00L227.05 321.40M221.65 321.40L227.05 316.00" stroke="#ff0000" stroke-width="2.1" fill="none"/>
<path d="M251.78 275.00L257.18 280.40M251.78 280.40L257.18 275.00" stroke="#ff0000" stroke-width="2.1" fill="none"/>
<path d="M71.02 243.10L76.42 248.50M71.02 248.50L76.42 243.10" stroke="#0000ff" stroke-width="2.1" fill="none"/>
<path d="M101.15 231.70L106.55 237.10M101.15 237.10L106.55 231.70" stroke="#0000ff" stroke-width="2.1" fill="none"/>
<path d="M131.28 214.50L136.68 219.90M131.28 219.90L136.68 214.50" stroke="#0000ff" stroke-width="2.1" fill="none"/>
<path d="M161.40 194.20L166.80 199.60M161.40 199.60L166.80 194.20" stroke="#0000ff" stroke-width="2.1" fill="none"/>
<path d="M191.53 164.50L196.92 169.90M191.53 169.90L196.92 164.50" stroke="#0000ff" stroke-width="2.1" fill="none"/>
<rect x="43.6" y="6.5" width="241.00000000000003" height="441.3" fill="none" stroke="#262626" stroke-width="1"/>
<line x1="43.6" y1="447.80" x2="48.0" y2="447.80" stroke="#262626" stroke-width="0.6"/>
<line x1="284.6" y1="447.80" x2="280.20000000000005" y2="447.80" stroke="#262626" stroke-width="0.6"/>
<text x="38.0" y="451.50" font-size="13.4" letter-spacing="0.4" text-anchor="end">0.3</text>
<line x1="43.6" y1="403.67" x2="48.0" y2="403.67" stroke="#262626" stroke-width="0.6"/>
<line x1="284.6" y1="403.67" x2="280.20000000000005" y2="403.67" stroke="#262626" stroke-width="0.6"/>
<text x="38.0" y="407.37" font-size="13.4" letter-spacing="0.4" text-anchor="end">0.4</text>
<line x1="43.6" y1="359.54" x2="48.0" y2="359.54" stroke="#262626" stroke-width="0.6"/>
<line x1="284.6" y1="359.54" x2="280.20000000000005" y2="359.54" stroke="#262626" stroke-width="0.6"/>
<text x="38.0" y="363.24" font-size="13.4" letter-spacing="0.4" text-anchor="end">0.5</text>
<line x1="43.6" y1="315.41" x2="48.0" y2="315.41" stroke="#262626" stroke-width="0.6"/>
<line x1="284.6" y1="315.41" x2="280.20000000000005" y2="315.41" stroke="#262626" stroke-width="0.6"/>
<text x="38.0" y="319.11" font-size="13.4" letter-spacing="0.4" text-anchor="end">0.6</text>
<line x1="43.6" y1="271.28" x2="48.0" y2="271.28" stroke="#262626" stroke-width="0.6"/>
<line x1="284.6" y1="271.28" x2="280.20000000000005" y2="271.28" stroke="#262626" stroke-width="0.6"/>
<text x="38.0" y="274.98" font-size="13.4" letter-spacing="0.4" text-anchor="end">0.7</text>
<line x1="43.6" y1="227.15" x2="48.0" y2="227.15" stroke="#262626" stroke-width="0.6"/>
<line x1="284.6" y1="227.15" x2="280.20000000000005" y2="227.15" stroke="#262626" stroke-width="0.6"/>
<text x="38.0" y="230.85" font-size="13.4" letter-spacing="0.4" text-anchor="end">0.8</text>
<line x1="43.6" y1="183.02" x2="48.0" y2="183.02" stroke="#262626" stroke-width="0.6"/>
<line x1="284.6" y1="183.02" x2="280.20000000000005" y2="183.02" stroke="#262626" stroke-width="0.6"/>
<text x="38.0" y="186.72" font-size="13.4" letter-spacing="0.4" text-anchor="end">0.9</text>
<line x1="43.6" y1="138.89" x2="48.0" y2="138.89" stroke="#262626" stroke-width="0.6"/>
<line x1="284.6" y1="138.89" x2="280.20000000000005" y2="138.89" stroke="#262626" stroke-width="0.6"/>
<text x="38.0" y="142.59" font-size="13.4" letter-spacing="0.4" text-anchor="end">1</text>
<line x1="43.6" y1="94.76" x2="48.0" y2="94.76" stroke="#262626" stroke-width="0.6"/>
<line x1="284.6" y1="94.76" x2="280.20000000000005" y2="94.76" stroke="#262626" stroke-width="0.6"/>
<text x="38.0" y="98.46" font-size="13.4" letter-spacing="0.4" text-anchor="end">1.1</text>
<line x1="43.6" y1="50.63" x2="48.0" y2="50.63" stroke="#262626" stroke-width="0.6"/>
<line x1="284.6" y1="50.63" x2="280.20000000000005" y2="50.63" stroke="#262626" stroke-width="0.6"/>
<text x="38.0" y="54.33" font-size="13.4" letter-spacing="0.4" text-anchor="end">1.2</text>
<line x1="43.6" y1="6.50" x2="48.0" y2="6.50" stroke="#262626" stroke-width="0.6"/>
<line x1="284.6" y1="6.50" x2="280.20000000000005" y2="6.50" stroke="#262626" stroke-width="0.6"/>
<text x="38.0" y="10.20" font-size="13.4" letter-spacing="0.4" text-anchor="end">1.3</text>
<line x1="43.60" y1="447.8" x2="43.60" y2="443.40000000000003" stroke="#262626" stroke-width="0.6"/>
<line x1="43.60" y1="6.5" x2="43.60" y2="10.9" stroke="#262626" stroke-width="0.6"/>
<text x="43.80" y="465.6" font-size="13.4" letter-spacing="0.4" text-anchor="middle">0.2</text>
<line x1="103.85" y1="447.8" x2="103.85" y2="443.40000000000003" stroke="#262626" stroke-width="0.6"/>
<line x1="103.85" y1="6.5" x2="103.85" y2="10.9" stroke="#262626" stroke-width="0.6"/>
<text x="104.05" y="465.6" font-size="13.4" letter-spacing="0.4" text-anchor="middle">0.4</text>
<line x1="164.10" y1="447.8" x2="164.10" y2="443.40000000000003" stroke="#262626" stroke-width="0.6"/>
<line x1="164.10" y1="6.5" x2="164.10" y2="10.9" stroke="#262626" stroke-width="0.6"/>
<text x="164.30" y="465.6" font-size="13.4" letter-spacing="0.4" text-anchor="middle">0.6</text>
<line x1="224.35" y1="447.8" x2="224.35" y2="443.40000000000003" stroke="#262626" stroke-width="0.6"/>
<line x1="224.35" y1="6.5" x2="224.35" y2="10.9" stroke="#262626" stroke-width="0.6"/>
<text x="224.55" y="465.6" font-size="13.4" letter-spacing="0.4" text-anchor="middle">0.8</text>
<line x1="284.60" y1="447.8" x2="284.60" y2="443.40000000000003" stroke="#262626" stroke-width="0.6"/>
<line x1="284.60" y1="6.5" x2="284.60" y2="10.9" stroke="#262626" stroke-width="0.6"/>
<text x="284.80" y="465.6" font-size="13.4" letter-spacing="0.4" text-anchor="middle">1</text>
<text x="164.1" y="484.2" font-size="14.0" letter-spacing="0.2" text-anchor="middle"><tspan font-style="italic">μ</tspan> [m]</text>
<text transform="translate(11.6 227.3) rotate(-90)" font-size="14.0" letter-spacing="0.6" text-anchor="middle"><tspan font-style="italic">f</tspan> [Hz]</text>
<rect x="54" y="15.9" width="199" height="58.6" fill="#fff" stroke="#262626" stroke-width="1"/>
<path d="M73.20 23.70L78.60 29.10M73.20 29.10L78.60 23.70" stroke="#ff0000" stroke-width="2.1" fill="none"/>
<path d="M73.20 41.50L78.60 46.90M73.20 46.90L78.60 41.50" stroke="#0000ff" stroke-width="2.1" fill="none"/>
<circle cx="75.9" cy="64.6" r="2.9" fill="#000"/>
<text x="88.5" y="30.1" font-size="14.0" letter-spacing="0.62">1<tspan font-style="italic" font-size="9.8" dy="-5">st</tspan><tspan dy="5"> longitudinal mode [1]</tspan></text>
<text x="88.5" y="47.8" font-size="14.0" letter-spacing="0.62">1<tspan font-style="italic" font-size="9.8" dy="-5">st</tspan><tspan dy="5"> transverse mode [1]</tspan></text>
<text x="88.5" y="66.4" font-size="14.0" letter-spacing="0.65">Present study</text>
<text x="73.4" y="440.5" font-size="13.6" letter-spacing="0.3" text-anchor="middle">(<tspan font-style="italic">a</tspan>)</text>
<text x="164.2" y="377.3" font-size="13.6" letter-spacing="0.3" text-anchor="middle">(<tspan font-style="italic">b</tspan>)</text>
<text x="257.6" y="296.1" font-size="13.6" letter-spacing="0.3" text-anchor="middle">(<tspan font-style="italic">c</tspan>)</text>
<text x="73.4" y="300.5" font-size="13.6" letter-spacing="0.3" text-anchor="middle">(<tspan font-style="italic">d</tspan>)</text>
<text x="165.1" y="226.0" font-size="13.6" letter-spacing="0.3" text-anchor="middle">(<tspan font-style="italic">e</tspan>)</text>
<text x="259.4" y="164.9" font-size="13.6" letter-spacing="0.3" text-anchor="middle">(<tspan font-style="italic">f</tspan>)</text>
<text x="72.3" y="235.0" font-size="13.6" letter-spacing="0.3" text-anchor="middle">(<tspan font-style="italic">g</tspan>)</text>
<text x="162.9" y="187.7" font-size="13.6" letter-spacing="0.3" text-anchor="middle">(<tspan font-style="italic">h</tspan>)</text>
<text x="258.7" y="80.0" font-size="13.6" letter-spacing="0.3" text-anchor="middle">(<tspan font-style="italic">i</tspan>)</text>
</g>
</svg>
</body></html>
